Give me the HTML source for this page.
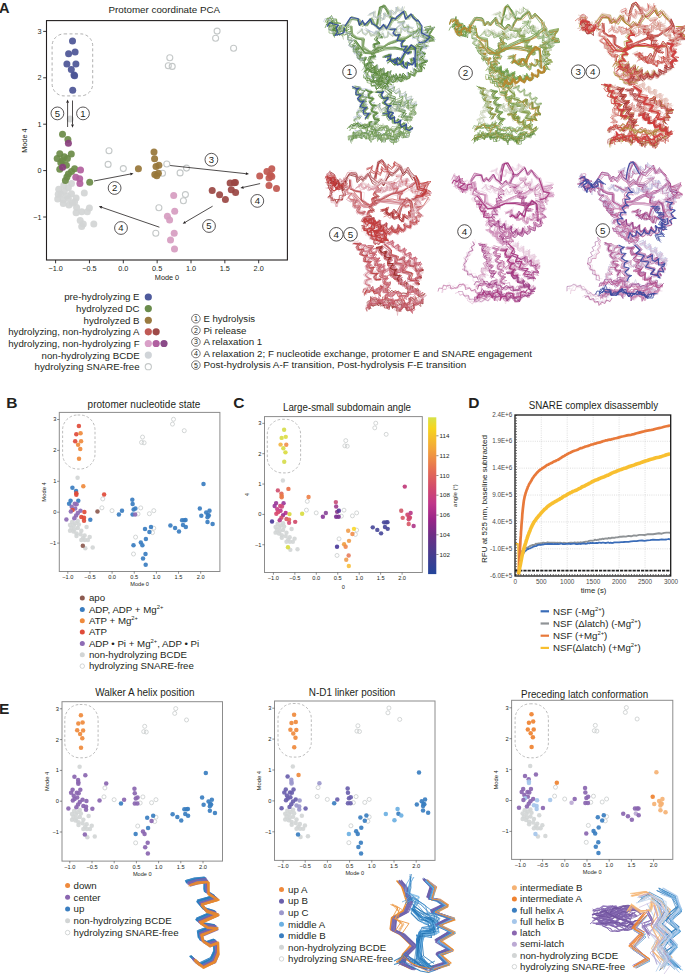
<!DOCTYPE html>
<html><head><meta charset="utf-8"><style>
html,body{margin:0;padding:0;background:#fff;}
body{width:685px;height:974px;overflow:hidden;}
svg{display:block;font-family:"Liberation Sans", sans-serif;}
</style></head><body>
<svg width="685" height="974" viewBox="0 0 685 974">
<g transform="scale(.5)" fill="none" stroke-linejoin="round">
<path d="M652 46l5-7l7 2l6 2l1 7l-3 7l-9 2l7 4l1 9l4-8l8-1l3-8l4 3l4-9M846 67l18-4l-12 12l14 6l-18 5M755 64l3 7l6 4l-8 0l-5 5l6 7l1 1l-10 1l0 7l7 6l-5 0l-8 3l4 8l3 3l-9 0l-3 6l6 7l-2-1l-10 2l2 8l5 4M757 63l4 8l4 2l-8 0l-4 6l7 7l-2 0l-9 2l2 7l6 4l-7 0l-6 4l6 7l2 1l-10 1l-1 6l6 7l-4-1l-9 2l3 8l3 3l-8-1M758 173l5-8l0-6l4 7l8 2l2-10l1 0l6 7l7-4l1-8l3 6l7 5l5-9l-1-3l7 7l6-4l-2-9l3 2l8 3l3-8l-2-5l5 5l8-1l-1-10l0 0M829 90l7 4l7-1l-5 6l-1 7l10 2l1 1l-8 7l4 5l6 5l-6-1l-8 4l5 8M779 59l9 1l5-2l-5 6l2 8l9-2l1 0l-5 9l7 4l7-3l-4 4l-2 9l9 1l3-1l-6 7l3 6l9-1l-2 2M742 141l8-3l4-4l-1 8l5 5l8-7l0 1l1 10l8 0l5-5l-1 6l4 8l8-5l0-4l4 9l7-1l3-9l1 3l6 8M793 199l8-3l4-4l-1 8l4 6l8-6l1 1l-1 10l7 1l6-5l-2 6l-1 4l4 5l1 3l-9-3l-4 6l5 8l-3-1l-10 0M792 206l8-3l3-4l-1 8l4 5l8-6l1 1l-2 9l8 2l6-5l-2 6l-1 4l4 5l1 3l-9-3l-4 6l5 8l-4-1l-9 0M720 254l5-6l8 3l6-7l3 8l7-3l4 7l7-6l7 3l8-2l3 8l7-1l7 0l4-7l7 1l7-2l4 6M699 262l4-6l8 2l4-8l5 8l8-2l6 8l1-9l7-2l0-8" stroke="#6c9a4a" stroke-width="1.5" stroke-opacity="0.9"/>
<path d="M655 49l0-7l4-1l6 3l-1 8l7 7l-13 0l9 4l2 8l3-7l7 0l1-7l5 1l5 3l-5 6l4 3l5-2l-1-7l6-3M652 50l4-5l6 2l8 0l2 8l2 6l-8 5l6-1l6-1l-1-8l6-2M754 53l4-23l3-14l7-1l5 7l7 14l2 6M704 52l0 18l9 6l12 4l0 15l14 8l7 4l8-13l11 1l10-7l15-6l11-4l9-1l12-6l7-5l10-10M850 61l15-2l-7 13l11 10l-20 0M848 55l14-3l-8 14l13 8l-15 3M758 172l5-7l0-6l4 7l8 1l3-9l1-1l5 8l7-3l1-9l3 5l7 5l4-8l0-3l6 6l7-2l-1-10l2 2l8 4l3-8l-2-6l6 5l8-1l-1-9l0-1M729 147l5-7l7 4l6-5l2 8l7 0l0 7l8 3l-10 1l-1 5l2 5l8-1l4 7M742 140l8-4l2-3l0 9l6 3l7-7l1 2l1 10l8-1l5-5l-2 8l4 6l8-5l0-2l5 8l7-2l3-8l1 4l7 6M765 115l9-3l3-2l-2 9l6 4l8-5l-1 3l2 9l8-2l4-5l0 8l7 6l2-11l0-1l9 5l4-6l-2-8l4 4M770 174l15 8l-6 8l12 4l-5 10l16 1l-5 12l14 4l-6 10l15 2M749 184l9 0l4-1l-5 8l5 6l9-2l-2 3l-5 8l7 4l6 0l-6 5l-1 8l10 1l1 1l-6 8l5 5M704 254l3-7l7 1l6-1l3 7l7 0l5 7l1-9l8-2l-1-8" stroke="#5b8a3c" stroke-width="1.8" stroke-opacity="0.9"/>
<path d="M655 47l5-9l2 8l7 1l-1 5l-1 7l-9 1l7 3l1 7l5 0l6-1l0-8l5-2l5 4l5-2l0-7l7-2M834 43l3 14l5 15l14 3l-6 11l-17 2M757 65l3 7l6 4l-8 0l-6 5l7 7l1 1l-10 1l0 7l7 5l-5-1l-8 4l5 7l4 2l-9 0l-4 6l7 7l-3 0l-9 1l1 8l5 4l-7-1M775 128l6-5l11 7l7-10l7 8l3-16l8-10l6-7l8 6l3 20l-1 16M754 170l6-6l0-7l4 6l8 2l2-9l1-2l6 8l7-2l1-9l2 5l7 5l5-7l0-4l6 6l6-3l-1-9l2 1l8 4l3-7l-2-7l5 6l8 0l0-10l-1-1M832 88l7 3l6-1l-6 5l1 7l9 1l1 1l-8 7l5 6l8 2l-7 2l-7 4l4 8l3 2M705 89l8 4l6-2l-6 5l0 8l9 0l1 0l-5 9l7 3l7-3l-3 5l-1 8M728 133l6-5l6 3l8 0l3 7l0 6l-6 3l0 6l6 3l7-6l8 3l8-6l-3 8l5 6l-4 4l-3 5l-6-3l-7 5l-1-9l-8-2l-2-8l-8 0l-2-8l-8 0M766 114l9-1l5-3l-2 8l4 6l8-4l1 0l0 10l8 0l5-6l0 6l6 8l4-11l-1-3l7 6l6-4l-1-9l2 2M709 172l9 2l3 0l-7 7l3 6l10 0l-3 2l-5 8l7 4l6-1l-6 5l-1 7l10 1l0 1l-7 7l6 5l8-1l-5 3l-3 8M793 204l8-3l4-4l-2 8l5 5l7-6l1 1l-1 10l8 1l6-4l-2 5l-1 5l4 5l1 2l-9-2l-4 5l5 8l-4-1l-9 0M755 186l8 0l5-2l-5 8l3 6l9-3l1 1l-7 8l6 5l8 1l-6 3l-3 8l10 2l2 0l-7 7l3 5l9 0l-3 2M724 256l6-5l7 2l6-6l2 9l8 1l1 8l5-6l7 3l5-5l7 6l8-2l5 1l2-7l6 1l7-4l7 6" stroke="#b0bcd8" stroke-width="1.2" stroke-opacity="0.9"/>
<path d="M654 39l6-5l4 7l8-1l2 5l-2 5l-7 0l-3 6l0 5l8 0l2 8l2-8l7-2l2-8l6 8l6-3l7-4M656 40l7-9l3 7l7 0l1 7l8 2l-9-1l-5 7l-11-1l10 2l3 8l7-2l6-1l-1-8l6-1l5 3l-1 9l1-8l5-4M703 53l0 19l10 6l16 0l-2 16l10 9l10 4l10-12l11-1l7-4l15-7l13-4l9-2l12-6l7-6l9-8M836 45l6 9l2 18l16 2l-9 10l-12 5M837 42l6 15l1 15l17 2l-12 12l-14 2M850 58l20-4l-13 15l12 7l-17 3M731 145l1-7l8 1l2-8l3 8l7 0l1 5l0 7l-9 3l9 1l2 7l7-1l7-1l2-8l5-1l5 4l-3 8l6 7l-8-3l-6 4l-6-4l-6 5l-5-7l-8 0l-3-7l-7-1l1-7M727 134l8-4l6 6l8 0l2 6l0 5l-8 2l0 6l4 3l6-5l6 4l4-7l8 0l4-7l-1 9l6 5l-4 5l-3 6l-6-3l-5 5l-5-3l-6 1l-3-7l-7 2l-2-6l-6-3l2-7l-6-4M732 140l6-4l6 5l7-5l1 8l7 1l0 7l8 2l-9 1l-3 8l-8 1l8 0l4 5l6-3l4 6M711 80l19 25l17 2l23-9l21-4l23 7l16-3M752 183l9 1l5-3l-4 8l4 7l9-2l0 3l-7 7l6 5l8 1l-6 4l-2 8l10 2l2 1l-7 7l4 6M705 279l2-7l8 1l3-8l6 7l7-2l8 1l6-7l3 8l8-1l4 8l3-9l7-2l4-8l0 9l8 2l-1 8l5 1l5-3l-1-7l6-4l6-3l7 5M724 256l6-6l7 1l6 0l0 8l5 0l7 2l4-6l7 1l7-1l2 8l6-2l7 2l4-7l7 1l7-3l6 6M765 226l9-3l2-1l-4 9l6 4l8-5l-2 3l0 10l9-2l3-4l-1 8l5 6l8-6l0 1l0 10l8 0l5-5l-1 6M765 228l9-3l3-2l-3 9l5 4l8-4l-1 2l-1 10l9-1l4-5l-2 8l4 6l9-5l1 0l-1 10l8 1l6-5l-1 5M694 258l5-6l7 3l5-7l5 7l6-3l4 6l6-3l7-3l-1-9M704 258l2-7l7 1l3-8l4 7l7-1l4 8l2-9l7 0l1-7" stroke="#6c9a4a" stroke-width="1.8" stroke-opacity="0.9"/>
<path d="M651 43l3-7l6 1l6 0l1 7l8 3l-8-2l-4 7l-7-1l8 2l2 8l6 0l6-2l2-9l5 7l5-3l8-5M650 45l5-9l3 8l7 0l0 5l0 5l-8 0l1 6l0 6l8 1l3 8l-1-8l8-4l-2-9l8 4l5-4l3 0M703 51l1 15l10 8l14 2l-2 15l13 10l9 4l9-14l10 2l10-8l14-5l14-6l7 0l10-8l9-3l11-10M839 45l4 14l4 16l14 3l-8 6l-16 6M781 60l10 0l3-1l-5 8l4 6l9-3l-2 3l-3 8l8 2l6-2l-6 6l1 7l9 0l1 1l-6 7l6 5l8-2l-5 4M708 81l21 25l15 2l22-12l22 2l24 2l18-1M753 182l9-1l4-1l-4 8l4 6l10-2l-2 3l-6 7l6 5l7 0l-6 5l-2 7l10 2l1 0l-7 7l5 5l8 0M697 281l-1-9l8 0l2-8l5 7l8-1l5 2l3-7l5 2l7 1l-1 8l5 2l6-4l0-9l3 8l7 1l3 8l4-7l7 1l3-7l3 7l7 1l3 7l1-7l7-3l-1-8l8 5l5-6l8 2l3-8M701 282l3-6l6 1l6-4l7 4l0-11l5 8l8 0l4 8l1-9l7-1l6-1l2 8l8 0l6 3l6-8l4 9l7-2l6 0l-1-7l8-1l2-8l5 11l1-9l9-1l-2-9M705 283l1-7l7 0l2-8l5 6l7-2l5 7l2-8l7 0l3-9l2 10l8 1l1 10l4-9l7 1l2-7l6 1l5 1l-2 7l6 1l6 1l1-7l7 0l9-5M704 279l2-6l7-1l2-6l5 0l8 1l5 10l0-10l6-4l4 0l3 6l7 0l2 8l5-7l7 1l6-7l1 10l7 3l5 0l1-8l6-1l7-4l7 5M706 274l2-9l8 0l6-3l4 6l7-4l6 6l2-14l4 8l8 0l2 7l6-1l6 2l4-7l6 2l6 1l2 8l3-8l8 0l2-8l7 4l6-6M703 283l0-8l8 0l2-8l6 5l5-6l7 2l4-7l6 0l5 2l-2 7l5 2l7 1l5-6l7 3l7-2l3 7l6-1l5-2l-3-7l6-1l5-2l2 7l8-3" stroke="#6c9a4a" stroke-width="1.2" stroke-opacity="0.9"/>
<path d="M647 44l3-7l8 3l3-7l5 2l3 5l-4 6l0 8l-9 4l9 1l1 7l5-1l6-1l-1-7l7-2l3-7l-3 12l3-9l9-3M690 51l11-16l14 4l3 11l8-6l5 5l9-12l6 9l6 3l8 8l7-6l5 6l7-10l5-12l8 2l4-4l11-12l6 16l9-10l4 9l10 5M756 50l5-22l2-14l7-2l5 9l6 12l4 6M847 59l21-4l-17 18l20 6l-20 1M772 124l6-5l7 8l8-11l5 7l8-19l8-4l4-9l8 6l3 15l0 22M756 172l4-8l1-4l5 8l7-1l2-10l2 2l6 7l6-6l1-6l3 6l7 3l4-9l0-1l7 6l5-5l-2-8l4 3l8 2l2-9l-2-3l7 5l7-3l-2-9l2 1M725 138l5-4l5 5l9-2l3 7l1 5l-6 6l7-2l5 6l5-4l6 0l0-7l4 0l5 4l-3 8l6 7l-9-1l-5 7l-6-3l-7-1l0-8l-7-2l-3-6l-8 1l-3-8M777 59l9 1l5-2l-5 7l2 7l10-2l-1 1l-4 9l7 3l7-2l-4 4l-1 8l9 1l2-1l-6 7l4 6l9-2l-3 3M745 139l8-3l3-5l0 9l5 4l7-6l1 0l0 10l8 0l5-6l-2 6l3 8l9-5l0-2l3 9l7-1l2-9l2 3l6 7l5-6M770 111l9-3l3-2l-2 9l5 5l8-5l0 2l1 10l7-3l4-5l-1 8l4 5l6-7l-1-1l8 5l5-6l-3-8l4 4l9 2M705 172l9 2l4-1l-6 7l2 7l10-1l-2 2l-6 8l7 4l7-1l-7 5l-1 8l10 1l1 0l-7 7l5 5l8 0l-4 3l-4 8M731 177l9 3l2 0l-7 5l2 7l9 1l-3 1l-6 8l8 3l5 0l-8 5l0 7l10 1l-1 1l-7 7l5 5l8 1l-6 3l-3 8l9 3M771 172l10 10l-6 7l16 8l-8 7l17 3l-4 8l15 5l-9 10l17 3M702 283l0-8l7-2l0-9l4 7l7-2l4 7l1-8l7 0l5-1l2 7l6-1l6 1l4-7l1 9l5 5l6 2l3-7l7 3l5-7l1 9l7 1l6-2l-2-8l7-2l7-2l6 8l1-10l7-2l0-8M710 269l0-8l6 0l7-2l3 7l6-1l8-1l4-8l4 7l7 0l3 8l7-5l7 4l7-1l3 8l7-1l5-4l-2-7l6-4l5-4l6 5M703 257l5-8l8 3l5-8l5 9l8-1l6 2l3-7l8 1" stroke="#a9b4cf" stroke-width="1.2" stroke-opacity="0.9"/>
<path d="M659 55l-2-8l5-2l6-1l2 8l8-1l2 5l-5 3l-9-4l8 4l0 8l6 2l6-1l0-7l6-1M650 56l3-7l7 1l5-7l1 9l8 4l-11 4l9 2l3 9l4-8l8 0l2-8M757 65l5 8l3 2l-9 0l-3 6l7 6l-2 0l-10 3l3 8l6 3l-8 0l-6 6l7 7l0 2l-9 0l-2 7l6 6l-5-1l-8 2l4 9l3 3M753 62l3 8l6 3l-8 0l-6 5l7 8l1 0l-10 2l0 7l7 5l-5 0l-8 5l5 7l3 3l-9-1l-4 6l6 8l-2-1l-10 1l2 8l4 5M774 126l6-4l8 8l9-13l4 8l7-16l9-9l5-7l7 6l4 17l-2 18M775 127l6-6l8 10l9-12l4 7l7-14l7-11l6-7l10 7l-1 18l3 18M761 168l3-9l1-3l5 8l7-2l1-9l3 2l6 7l5-7l1-5l3 7l7 2l3-9l0 0l7 8l5-6l-2-8l4 4l8 2l0-10l0-3l7 6l6-4l-2-9l2 2l9 4M827 94l8 3l5 0l-5 6l0 8l10 1l-1 1l-7 7l5 6l6 4l-7-1l-7 5l5 8M733 142l5-4l6 4l6-4l2 9l9 1l1 7l-2 5l-7 1l-1 5l1 4l7-2l3 6l7-2l2 7M765 113l10-3l3-2l-3 9l6 5l8-5l-1 3l2 9l7-3l4-5l-1 8l5 5l6-7l-2-1l8 5l5-6l-2-8l4 4l8 2M767 115l9-3l4-3l-3 9l5 5l9-5l-1 2l1 9l8-2l4-6l-1 7l4 7l6-7l-1-2l8 5l5-5l-2-8l3 3l9 3M707 174l7 4l6-1l-6 5l0 7l10 1l0 1l-6 7l5 5l8 0l-5 3l-3 8l9 2l3 0l-7 6l3 6l9 0l-2 2l-6 7M709 175l9 3l4-1l-6 6l1 7l10 0l-2 2l-6 7l7 4l7 0l-6 4l-2 8l10 1l1 0l-7 7l5 6l8-1l-4 3l-4 7M733 179l7 5l7 0l-7 4l-1 8l9 1l1 1l-8 7l4 6l9 1l-5 2l-5 8l9 4l4 0l-8 6l1 7l10 1l-2 2l-7 7M728 254l6-6l7 3l5 1l-1 8l5 0l7 2l3-8l7 1l6-3l3 7l7-1l4 7l5-6l7 1l4-7l6 6l5-5l5 6" stroke="#5b8a3c" stroke-width="1.5" stroke-opacity="0.9"/>
<path d="M660 56l3-7l5-1l5 5l-9 1l-2 5l2 6l9-1l6 7l0-10l7-5M663 60l-1-7l5-1l6-2l3 6l2 8l-1 6l8 1l2 8l-2-8l6-4l-3-6l6-4M701 51l4 17l9 7l13 1l-1 17l12 9l10 4l8-14l11 0l9-4l15-6l11-4l10-3l10-5l8-8l9-4M849 62l14-7l-9 15l10 10l-14 3M757 67l4 8l5 2l-9 0l-4 6l7 7l-1 0l-9 2l2 8l6 5l-7 0l-7 5l6 7l2 2l-10 0l-2 6l6 7l-4-1l-9 2l3 8l4 3M733 148l5-6l4 5l8-1l2 8l8 0l1 6l0 4l-7 0l0 5l2 6l8-1l3 9M705 79l22 26l14 0l23-9l22-1l21 4l20-3M704 281l0-8l8-2l0-8l6 0l6-1l2 7l6-1l7 1l2-8l6 2l5 1l-1 7l6 1l5 4l3-7l7 3l5-5l2 8l6 0l7-2l3-9l6 4l6-4M727 253l4-6l6 3l6-6l4 9l7 0l7 2l5-8l4 7l7-1l3 6l6-2l5 7l2-8l7-1l3-8l6 7l8-3M765 232l8-2l4-3l-3 8l4 6l9-5l0 1l-2 10l8 1l6-6l-2 7l3 7l8-4l2-1l-1 9l6 3l7-5l-1 3" stroke="#b9c8aa" stroke-width="1.2" stroke-opacity="0.9"/>
<path d="M657 59l3-7l8 0l5-8l3 10l1 8l-7 6l9-1l7 6l-1-8M697 53l8-15l15 1l5 15l6-7l4 3l11-12l4 10l7 5l8 7l8-8l4 8l7-13l5-7l7 1l4-5l8-13l10 16l8-10l4 9l11 8M755 48l3-23l4-11l6-5l8 9l6 11l4 7M756 48l4-22l2-12l8-4l6 10l5 10l6 7M778 121l5-2l8 9l8-13l4 7l6-14l10-9l5-9l11 9l0 17l-2 15M704 91l10 1l2 0l-6 7l3 5l9-1l-3 3l-2 9l9 1l5-2l-4 8M705 91l8 3l6-1l-6 5l0 7l10 0l-1 1l-3 9l7 3l8-3l-3 6M723 141l7-6l8 5l7-2l4 6l2 5l-6 3l2 5l1 6l7-2l5 7l0-9l8-3l2-9l-1 9l6 4l-3 7l6 6l-8-2l-4 6l-7-4l-6 6l0-8l-7-3l1-8l-8-2l-1-8l-8-3M770 113l9-2l4-3l-3 8l5 6l8-5l0 1l1 10l7-1l5-6l-1 6l4 7l6-6l-2-3l8 5l6-4l-2-9l3 3l8 3M710 175l9 2l4 0l-7 7l3 6l9 0l-2 2l-5 8l7 4l6-1l-6 5l-1 8l9 1l1 0l-7 7l5 5l8-1l-4 3l-3 8M732 180l7 5l6 0l-7 4l-1 7l9 2l1 1l-8 6l5 7l8 0l-5 3l-4 8l8 3l4 0l-8 5l2 7l9 1l-3 1l-6 7l7 4M768 175l15 12l-8 8l16 3l-11 9l21 3l-10 10l20 2l-8 13l14 4M764 174l12 13l-8 7l17 6l-6 8l17 2l-7 11l18 4l-11 8l16 3M768 181l14 10l-7 8l18 4l-7 9l18 1l-8 8l16 6l-8 12l17 1M791 207l8-2l5-4l-1 7l5 7l8-5l2 0l-2 9l7 3l7-5l-1 4l-7 2l2 9l2 4l-8-3l-5 5l4 9l-2-1M794 202l8-2l4-4l-1 8l4 5l8-5l1 0l-1 10l7 1l7-5l-2 5l-1 5l4 4l1 3l-8-3l-5 5l5 8l-3-2l-9 0l1 8M794 204l8-3l3-4l-1 8l5 5l7-6l1 1l-1 9l8 2l6-5l-2 6l0 5l3 5l1 2l-9-3l-4 6l5 8l-4-1l-9-1M794 205l8-5l2-2l-1 9l6 3l7-6l-1 3l0 9l9-1l4-3l-2 7l1 4l4 5l0 1l-10-2l-2 7l5 7l-6-3l-8 2M727 255l2-7l7 2l3-7l5 2l4 3l-3 6l6 4l-2 8l4-8l8 1l2-8l6 1l7 1l3 8l5-8l9 1l3-9l5 7l7-2l4 6M702 256l3-7l7 1l6-2l3 7l7-1l5 7l1-10l8-3" stroke="#7da060" stroke-width="1.2" stroke-opacity="0.9"/>
<path d="M655 48l9-5l2 8l7 2l-7 6l9 3l4 9l3-10l9-1M694 51l10-13l15 0l4 12l4-5l8 7l9-17l5 14l4 3l9 7l8-10l7 9l5-11l5-10l8 1l3-3l13-13l5 14l6-6l9 5l9 9M760 52l1-23l4-16l5-2l5 10l7 12l2 5M755 62l6 8l2 1l-10 1l-1 7l7 6l-4 0l-8 3l3 8l5 3l-9 0l-4 6l6 7l0 1l-10 0l0 8l6 5l-6-1l-7 4l5 8l2 1M757 64l4 8l4 2l-8 0l-4 6l7 7l-1 0l-10 2l2 8l6 3l-7 0l-6 5l6 7l2 1l-10 0l-1 7l6 6l-4-1l-9 2l4 9l3 3l-9-2M705 91l8 2l5-1l-6 6l1 7l10 0l-1 1l-4 9l8 3l7-3l-4 6M780 58l9 1l4-2l-5 7l3 7l9-2l-1 1l-4 9l8 3l7-2l-5 4l-1 8l9 1l2-1l-6 8l4 5l9-2l-3 3M707 80l19 27l15-2l22-11l24 1l23 3l15-4M707 78l23 26l12-1l23-7l23-2l20 6l19-4M730 178l7 5l6-1l-6 4l-2 8l10 2l1 0l-8 7l4 6l8 1l-4 2l-5 8l8 4l4 0l-7 5l0 6l10 2l-2 1l-7 6l6 5M703 287l-3-7l7-2l-1-8l6 7l6-3l7 3l3-8l3 8l8 1l3 7l3-7l6-1l2-7l5 0l5 3l-2 8l5 3l5 0l0-7l5 0l6 0l0 8l6 0l5 0l-1-7l7-2l1-8l4 8l6-1l8-1l1-9M712 275l-1-9l6-4l5-2l3 6l7-2l4 6l3-7l7 1l4-9l2 9l8 1l2 8l5-6l7 4l5-7l1 8l8 1l2 8l2-8l7 0l2-7l6 0l0-5M764 226l8 0l5-4l-3 7l3 7l9-4l1 0l-2 9l7 2l6-5l-1 5l2 8l8-3l3-3l-1 9l5 5l8-6l0 2" stroke="#4f7f36" stroke-width="1.2" stroke-opacity="0.9"/>
<path d="M692 53l8-15l15 2l5 12l4-4l7 4l9-15l3 12l9 1l5 8l11-7l5 8l6-13l6-10l6 4l4-5l11-12l6 16l10-10l4 8l8 8M690 54l12-15l13 1l4 12l6-7l8 7l9-12l5 9l4 5l9 7l8-9l5 7l5-10l8-9l4 0l5-3l12-12l7 14l7-7l9 7l5 8M701 54l2 18l8 4l13 4l0 18l14 4l8 4l9-11l9 2l10-7l16-6l11-5l11-1l8-6l8-7l11-7M835 45l6 10l3 16l16 0l-11 13l-13 3M850 59l16-2l-10 13l11 9l-19 5M775 122l6-4l8 7l9-9l5 7l6-16l8-10l6-6l7 7l5 18l0 17M776 121l7-5l8 8l8-9l5 6l5-15l10-9l4-8l10 7l2 15l-2 21M710 79l19 27l20 0l19-11l22 2l24 3l16-3M768 113l9-3l3-2l-2 9l6 5l8-5l-1 2l2 10l8-2l4-5l0 7l7 6l2-11l0-1l9 6l4-6l-1-8l4 4M704 176l8 3l6-1l-7 6l1 7l10 1l0 1l-7 7l5 5l8 0l-5 3l-3 8l9 2l3 0l-7 7l4 6l9-1l-3 2l-5 8M768 176l13 8l-8 10l16 3l-8 11l20 2l-9 11l18 1l-8 12l15 3M771 177l13 9l-5 9l13 4l-6 9l16 2l-5 11l16 6l-7 6l15 1" stroke="#4f7f36" stroke-width="1.5" stroke-opacity="0.9"/>
<path d="M692 54l10-14l16-2l3 15l6-6l4 6l10-15l5 12l6 4l10 7l7-7l5 7l7-14l5-9l6 2l4-3l13-13l6 15l7-9l6 11l11 6M751 50l5-23l5-14l5-3l7 8l6 13l4 5M702 52l1 17l11 6l12 0l-2 18l14 8l6 3l10-12l12 0l9-3l15-8l10-4l12-2l10-6l7-7l10-6M834 43l7 11l1 17l17 2l-10 13l-12 1M829 92l8 3l6-1l-5 6l0 8l9 2l1 1l-8 6l4 6l6 5l-6 0l-8 4l5 8M704 92l8 3l6-2l-6 5l0 8l10 0l0 0l-5 8l7 4l7-3l-3 4l-1 9M734 141l5-4l6 4l5-4l3 7l8 0l1 8l9 1l-8 2l-2 7l-8 2l10 1l5 8M780 58l9 0l3-1l-5 8l4 5l9-3l-2 3l-3 9l8 1l6-2l-6 6l1 8l10-1l0 1l-6 8l6 4l8-2l-5 4M704 81l21 26l16-1l24-11l21 1l25 6l15-4M743 139l8-4l3-4l-1 9l6 4l7-7l0 2l1 10l9-1l4-5l-1 7l4 7l8-6l0-1l5 8l7-2l2-8l2 5l6 6M730 179l9 3l3 0l-7 5l1 7l10 1l-3 2l-6 7l7 5l6 0l-7 4l-1 8l9 2l1 1l-8 6l4 5l9 1l-5 2l-5 7l9 4M772 178l10 10l-5 9l13 2l-8 11l18 1l-5 10l17 2l-8 11l17 4M795 205l9-5l2-2l-1 10l7 3l8-6l-1 4l0 9l9-1l4-3l-2 5l-5 3l4 9l-1 0l-9-1l-2 7l4 7l-5-3M750 182l10-1l3-1l-4 9l5 5l9-2l-3 4l-5 7l7 5l6 0l-7 5l0 7l10 1l0 1l-7 7l6 5l8-1M701 281l-1-9l7-4l6-2l3 8l7-2l4-2l-2-8l4 8l8 1l4 8l2-8l7-2l3-8l1 8l7 2l-1 7l5 1l7 0l3-9l4 7l8-1l4 7l1-9l6-3l6-3l7 5l3-7l7-1M767 229l9-3l2-2l-3 9l6 4l7-5l-2 3l0 10l9-2l4-4l-2 8l5 6l8-5l0 1l0 9l8 0l5-5l-1 6M698 261l4-8l8 2l5-7l5 8l7-2l6 6l2-8l8-1l2-8" stroke="#c8d2c0" stroke-width="1.2" stroke-opacity="0.9"/>
<path d="M691 51l12-18l14 5l4 12l6-6l6 6l10-13l4 9l6 4l7 7l10-7l5 7l7-12l4-10l8 2l4-3l11-13l7 15l8-8l5 6l9 9M703 54l3 16l9 7l13 1l-3 18l13 8l9 4l11-12l9-2l11-6l13-3l10-5l11-3l9-8l10-2l10-10M755 173l2-9l0-3l6 8l6-2l1-9l2 3l6 6l5-7l1-5l4 8l7 1l3-9l1 0l7 8l5-7l-2-7l4 4l8 1l1-9l-1-3l8 6l6-4l-2-9l3 2l8 4M759 172l6-6l0-7l4 7l7 2l3-10l1-1l6 8l6-3l2-8l2 4l7 5l5-8l-1-3l6 6l7-3l-1-9l1 1l9 5l3-8l-2-6l5 5l8 0l-1-10l0-1M830 92l8 3l6-1l-6 5l-1 7l10 0l1 2l-8 6l4 6l8 3l-6 1l-8 4l5 9l3 2M831 94l7 4l7-1l-5 5l0 8l9 2l1 1l-8 7l3 6l7 4l-5 0l-8 3l5 8M739 141l8-6l2-2l0 10l7 1l5-7l0 4l2 9l9-2l4-4l-2 8l6 6l7-7l0 1l5 8l7-4l1-8l2 6l7 5M709 172l10 2l2 0l-6 7l3 6l9 0l-3 2l-5 8l8 4l6-1l-7 6l0 7l10 1l0 0l-7 8l6 5l8-1l-5 3l-3 8M725 255l8-5l6 4l8-1l5 8l6-6l7 5l6-7l4 8l8-2l5 8l3-10l7-2l5-2l6 5l6-4M723 253l6-5l7 5l6-1l1 7l6 0l3 7l4-6l7 2l4-7l3 7l8-1l4 8l3-8l7 0l2-7l6 1l5-3l3 7l7-2" stroke="#7da060" stroke-width="1.8" stroke-opacity="0.9"/>
<path d="M753 51l4-23l2-14l9-2l7 10l5 10l5 7M834 92l9 2l5 0l-7 5l1 7l9 0l-1 2l-7 7l6 5l7 2l-7 2l-7 5l6 8l2 1M832 89l7 4l7-1l-5 6l-1 8l10 2l1 0l-8 7l4 5l6 5l-6 0l-8 4l5 9M706 97l9 1l3-1l-6 7l3 6l9-1l-2 2l-3 9l8 1l5-3l-4 6l1 8M727 144l10-7l5 8l9 0l-6 6l3 7l-5 6l8-3l7 4l0-9l7 0l1-7l4 1l5 2l-4 6l6 4l-4 6l5 6l-8-3l-5 6l-6-4l-6 6l-2-8l-8 0l-1-9l-9-1l-4-8M743 137l8-3l3-5l0 8l5 6l8-7l1 0l0 10l8 1l6-6l-1 6l3 8l8-5l0-3l4 8l8 0l2-9l2 2l6 8M731 180l7 4l6 0l-7 5l-1 7l10 2l0 1l-7 6l4 6l8 1l-5 3l-4 8l9 3l4 1l-8 5l1 7l10 1l-3 2l-6 8M751 185l10 0l3-1l-4 8l5 6l10-2l-3 3l-6 7l8 5l6 0l-7 5l-1 7l10 1l0 1l-7 7l5 5l9-1M767 231l9-3l3-2l-3 8l5 5l8-5l0 2l-1 10l8-1l5-4l-2 7l3 7l9-5l1-1l-1 10l7 2l7-5l-1 4M698 256l4-7l7 3l5-6l4 7l7-3l4 6l5-2l5-2l0-7l6-2" stroke="#4f7f36" stroke-width="1.8" stroke-opacity="0.9"/>
<path d="M753 50l4-25l4-11l6-3l5 8l5 12l7 6M833 46l4 14l3 13l16 6l-9 9l-14 2M759 173l5-7l0-6l5 7l7 1l3-9l1-1l6 8l6-4l2-8l2 5l7 5l5-8l-1-3l7 6l6-3l-1-9l2 2l9 4l3-8l-3-6l6 5l8-1l-1-9l0-1M705 93l10 2l3-1l-7 7l3 6l10-1l-3 2l-3 9l9 1l5-3l-4 7l2 7M732 136l2-7l6 3l7-1l3 7l7 0l2 6l-1 5l-7-1l-2 4l4 4l7-4l6 6l7-11l1 9l6 4l-2 5l-2 4l-6-3l-5 5l-5-3l-6 2l-4-6l-7 2l-3-7l-7-3l-1-9M729 143l2-7l7 1l4-8l1 8l7 2l0 7l7 4l-10 1l-2 6l3 5l8-3l6 6l2-8l7-1l4-7l-3 8l5 5l-4 6l5 7l-9-2l-4 6l-7-3l-6 2l-2-6l-7 1l-2-6l-7-2l1-7l-8-2l0-7M731 142l6-4l5 5l6-4l4 6l6-2l5 5l7-1l-8 2l-1 7l-7 0l0 5l3 4l6-3l5 5M735 150l2-8l6 1l6 0l1 7l8 2l1 7l8 3l-10 1l-4 6l3 4l8-2M734 147l6-6l7 5l6-1l3 6l9 0l-6 6l3 6l-6 5l2 4l4 4l5-5M782 57l9 1l3-2l-5 8l3 6l10-2l-2 2l-4 8l8 3l6-2l-5 5l0 8l10-1l1 1l-6 8l5 4l9-1l-4 3M708 81l22 26l16 1l24-8l21-2l21 4l16-5M739 140l8-6l1-2l1 9l7 2l5-7l1 3l1 10l9-2l4-4l-2 8l5 6l8-6l-1 0l6 8l6-4l2-8l2 6l7 5M740 139l7-3l4-5l0 7l5 6l7-6l1-1l0 10l7 1l6-6l-2 5l2 8l9-4l1-3l2 8l7 1l3-9l2 2l6 7l6-5M730 179l8 4l5 0l-6 4l-1 8l10 1l0 1l-8 6l5 7l8 0l-6 3l-3 8l8 4l3 0l-7 6l2 7l9 1l-3 2l-6 7M732 179l9 4l4 0l-7 5l1 7l9 1l-1 1l-7 7l6 6l7 0l-7 4l-2 7l9 3l2 0l-8 6l3 6l9 1l-5 2l-5 7l9 3M753 185l10-1l2-1l-3 9l5 5l9-2l-3 3l-5 8l8 5l6 0l-7 5l0 8l10 1l-1 1l-6 8l6 5M698 280l0-8l8 0l1-9l2 8l6 0l6 1l1-8l6 2l8 1l3 9l3-8l7 0l3-8l0 8l7 2l-2 7l6 1l5 0l1-7l6 1l6-1l1 8l6 0l5-1l-1-7l6-1l2-9l8 12l3-10l9-2M763 231l9-1l4-3l-3 7l4 7l8-5l1 1l-2 9l8 1l5-5l-1 5l2 9l9-4l2-3l-1 10l6 4l7-6l0 3" stroke="#5b8a3c" stroke-width="1.2" stroke-opacity="0.9"/>
<path d="M701 52l3 17l9 6l13 5l1 15l11 7l8 5l10-13l9 0l11-7l13-5l13-5l10-2l10-4l7-7l10-9M845 62l22-4l-12 16l13 5l-18 7M703 94l10 1l2 0l-7 6l4 6l9-1l-4 2l-2 9l9 1l5-3l-5 8l3 6M780 58l9 1l5-2l-5 7l2 7l10-2l-1 1l-4 9l7 3l8-2l-5 5l-2 8l10 0l2 0l-6 7l4 5l9-1l-3 2M702 279l3-7l7 1l6-3l5 8l1-10l7-1l6 2l-1 8l6 1l5 1l1-7l7 0l3-8l-1 9l7 3l-1 9l4-8l8 2l2-8l5 2l7 1l-1 8l6 2l4-3l-4-7l5-3l4-2l5 5l5-2l6-2l-2-7M698 280l2-6l7-1l2-8l7 6l6-3l8-1l6 0l3 7l6 0l6-3l0-9l3 9l8 1l0 8l6 0l6-2l0-10l3 9l8 2l2 10l1-9l7-3l-1-8l6-1l6-1l5 8l3-9l8-2" stroke="#7da060" stroke-width="1.5" stroke-opacity="0.9"/>
<path d="M714 68l7-5l3-5l1 8l6 4l6-8l1 1l3 9l7-3l4-6l0 6l5 6l7-7l1-2l3 10l7-3l1-9l2 3l8 5l4-7l-1-6l5 7l8 0l0-10l1 1l7 6l5-6l-1-7l4 5l7 3M714 68l7-5l3-5l1 9l7 4l6-8l1 0l3 10l7-2l3-7l1 6l5 6l6-7l2-2l3 9l7-2l0-9l2 3l8 5l4-8l0-5l4 6l8 1l1-10l0 0l8 6l4-5l0-8l3 5l8 3M835 74l5-7l1-5l3 8l6 2l7-6l-1 4l-9 3l3 7l7 3l-7 1l-5 6l7 6l1 2l-9 0l-2 7l6 6l-4 0l-9 2l3 9l4 3l-9-1l-5 5l6 8l-2 1M795 45l9-2l3-1l-3 8l5 5l8-3l-1 3l-2 9l9 0l5-3l-4 7l3 7l9-3l0 1l-1 9l7 2l7-5l-2 6l2 8l9-3M735 31l8-1l5-4l-2 7l4 7l9-5l-1 0l5 7l5-5l-1-9l3 4l8 3l2-9l-1-4l6 7l7-1l0-10l2 2l7 6l4-7M777 178l8-1l5-5l-2 7l4 7l8-5l1-1l-1 10l7 2l7-5l-2 5l2 8l9-2l4-1l-5 7l3 7l9-2l-1 1" stroke="#c8d2c0" stroke-width="1.4" stroke-opacity="0.9"/>
<path d="M713 65l7-5l3-4l1 8l7 3l5-8l1 1l3 10l8-3l3-6l0 6l5 6l7-7l1-1l3 9l8-3l0-9l2 4l8 5l4-9l-1-5l6 7l7 0l0-10l1 1l8 6l4-6l-1-7l4 5l8 2M730 55l18 12l22-17l19 10l18-20M739 27l8-3l3-3l-2 9l6 4l7-5l-2 3l8 6l3-8l-1-6l5 6l7 0l1-10l0-1l8 6l6-4l-1-9l4 4l8 4M718 178l8 3l4 0l-7 5l1 7l10 1l-2 1l-6 5l2 6l5 4l-7-1l-7 4l6 8l0 1l-10 0l-1 7l7 6l-5 0l-9 3l4 9M750 217l8-3l3-4l-1 9l5 4l7-6l-1 2l6 8l6-6l0-7l3 6l8 3l3-10l0-2l7 7l7-4l0-9" stroke="#c8d2c0" stroke-width="1" stroke-opacity="0.9"/>
<path d="M716 66l7-6l2-3l1 8l7 3l5-8l1 2l3 9l8-4l3-6l0 7l6 6l6-8l1-1l4 10l7-4l0-9l3 4l8 5l3-9l0-4l6 7l7-1l0-9l1 1l8 5l4-6l-1-7l4 6l8 1M797 46l9-1l4-2l-4 8l4 7l9-4l0 2l-2 10l8 1l6-4l-4 6l2 8l9-2l1-1l-2 9l7 3l7-5l-2 5l1 9l9-2M718 173l7 4l6 0l-7 4l-1 7l10 2l0 0l-7 5l1 6l5 5l-6-1l-7 3l4 9l2 2l-9-1l-3 7l7 7l-3 0l-10 2l4 8" stroke="#b0bcd8" stroke-width="1" stroke-opacity="0.9"/>
<path d="M714 67l7-4l3-5l1 8l6 4l7-8l0 1l3 9l7-2l4-7l1 6l5 7l6-7l2-3l2 10l8-2l0-10l2 3l8 6l4-8l0-6l4 7l8 1l0-10l1-1l7 7l5-5l-1-8l4 4l8 3M691 65l9 3l3 1l-8 5l2 7l9 1l-2 2l-7 7l8 4l6-3l-5 7l3 7l9-3l1 1l-6 8l6 4l8-1l-5 3l-2 8M729 59l20 13l18-17l22 4l20-15M738 29l8-4l2-1l-1 9l6 3l7-6l-2 5l8 5l2-9l-1-4l6 6l7-2l-1-10l1 1l7 6l5-6l0-7l3 5l8 3l2-10M740 29l9-4l2-2l-1 9l5 4l8-6l-2 4l8 5l3-7l-2-6l6 5l7 0l0-9l1-2l7 7l5-5l-1-8l3 4l8 4l3-9M746 218l8-2l4-5l-1 7l4 7l8-6l-1 0l5 8l7-4l1-8l2 5l8 4l3-9l0-4l7 7l7-2l0-10" stroke="#b9c8aa" stroke-width="1.4" stroke-opacity="0.9"/>
<path d="M833 71l5-8l1-4l3 8l7 1l6-6l-1 4l-9 4l4 7l7 2l-7 2l-5 6l7 6l1 1l-10 1l-1 7l6 6l-4-1l-9 3l3 8l3 3l-9-1l-4 6l5 8l-2 0M835 69l5-7l1-4l3 8l6 1l7-7l-2 5l-8 5l4 6l6 2l-7 2l-4 6l8 6l0 1l-10 0l-1 8l6 6l-5-1l-9 3l4 9l3 2l-10-1l-4 6l6 8l-2 0M690 59l7 4l5 0l-7 4l0 8l9 1l0 1l-7 7l6 6l7-4l-4 6l1 8l9-2l3-1l-6 8l3 6l9-1l-3 2l-4 8M795 44l9 0l5-2l-4 7l3 7l9-3l1 0l-3 10l7 2l7-3l-3 4l0 9l9-2l3-2l-3 9l6 5l8-5l-1 3l0 9l9 0M777 180l8-3l4-3l-2 9l5 5l8-6l0 2l-1 10l8 0l6-5l-2 7l3 7l9-4l2 0l-5 9l6 4l8-3l-2 4M748 213l8-3l4-4l-1 8l4 5l8-5l-1 0l5 8l6-4l1-8l3 5l8 5l3-10l0-3l7 6l7-2l0-10" stroke="#5b8a3c" stroke-width="1.4" stroke-opacity="0.9"/>
<path d="M831 70l5-7l1-5l3 8l7 2l6-6l-1 4l-9 4l4 6l6 3l-6 1l-6 6l8 6l1 2l-10 0l-2 7l6 6l-4-1l-9 3l3 8l4 4l-9-1l-5 5l6 8l-2 1M691 64l9 3l3 0l-8 6l3 7l9 0l-4 2l-5 7l8 5l5-3l-5 7l3 6l9-2l0 1l-5 9l7 5l8-1l-5 4M690 65l9 4l3 0l-7 5l1 7l9 1l-2 2l-6 7l7 5l7-3l-4 7l2 8l10-1l1 1l-7 7l5 5l9-1l-4 3M737 29l9-4l2-2l-1 9l6 4l8-6l-2 4l8 5l2-8l-2-5l6 6l8-1l-1-10l1 0l7 6l5-5l-1-8l4 5l7 3l2-9M720 179l10 2l2 0l-8 6l3 6l9 0l-3 2l-5 5l3 6l4 3l-8-1l-5 5l6 8l-2 0l-10 0l2 8l6 4l-7-1l-7 4l6 8l2 1M748 214l8-2l4-5l-1 8l4 6l8-6l-1 0l5 8l7-3l1-9l2 5l8 5l3-10l0-4l7 7l7-2l0-10" stroke="#a9b4cf" stroke-width="1.4" stroke-opacity="0.9"/>
<path d="M836 69l7-6l2-6l2 8l4 2l6 1l0 1l-9 3l3 7l7 3l-5 1l-6 5l4 7l3 2l-9 0l-3 6l6 7l-3 0l-9 2l1 8l5 5l-8-2l-6 5l5 8" stroke="#b0bcd8" stroke-width="1.4" stroke-opacity="0.9"/>
<path d="M690 62l7 5l6 0l-6 4l-2 8l9 2l1 1l-7 6l4 6l9-3l-4 4l-1 9l9-1l4-1l-6 8l3 7l10-1l-1 3M719 179l8 3l4-1l-7 6l1 6l9 1l-2 2l-6 4l3 6l4 5l-7-2l-6 4l5 8l0 1l-9 0l-1 8l7 6l-6-1l-8 4l5 9M718 178l9 3l3 1l-7 6l2 7l10 0l-2 3l-9 3l3 8l4 3l-8-1l-5 5l6 8l-1 0l-10 1l1 8l6 5l-7 0l-7 4" stroke="#5b8a3c" stroke-width="1" stroke-opacity="0.9"/>
<path d="M794 46l9 1l5-3l-4 7l3 8l9-3l1 0l-3 10l7 3l7-4l-3 4l0 9l9-2l3-2l-3 9l6 5l8-5l-1 2l0 10l8-1M731 57l20 11l21-14l18 5l21-15M732 60l18 5l21-12l20 4l19-16M776 179l9-4l2-3l-1 10l5 4l8-6l-1 2l1 10l8-1l5-5l-2 8l3 6l9-4l1 1l-4 9l7 4l7-3l-3 4M775 175l8-2l4-4l-2 8l5 6l8-6l1 1l-1 10l8 0l5-5l-1 6l2 8l9-4l3 0l-5 9l5 5l9-2l-2 3" stroke="#a9b4cf" stroke-width="1" stroke-opacity="0.9"/>
<path d="M796 44l9-1l4-2l-4 7l3 6l9-3l0 1l-3 9l7 2l6-4l-3 6l1 8l9-2l2-1l-3 9l7 3l7-5l-1 4l1 9l9-2l4-4M732 61l20 12l18-14l23 3l18-16M775 173l9-2l3-3l-2 8l5 5l9-5l0 1l-1 10l8 0l6-5l-2 6l3 8l9-4l2 0l-5 8l6 5l8-3l-3 4M746 215l8-3l3-4l-1 8l5 5l7-6l-1 1l6 8l6-5l1-7l3 6l8 3l2-10l1-2l7 6l6-4l0-9" stroke="#b9c8aa" stroke-width="1" stroke-opacity="0.9"/>
<path d="M901 43l5-6l6 3l5 1l-3 6l1 7l-7 2l1 5l1 6l9-2l4 7l0-8l7-3l5-2l6 6l-3-9l6-5M902 54l4-7l7 3l6-7l-1 10l8 6l-8 3l0 6l4 7l3-8l9 0l1-8l8-1M1004 55l2-21l5-15l6-1l7 6l5 12l4 7M1022 123l5-2l8 8l9-13l5 8l6-15l7-7l6-9l8 5l5 19l-2 19M1005 173l5-8l1-6l4 8l8 0l2-9l1 0l6 8l7-5l1-8l3 6l7 5l4-9l0-2l6 6l6-4l-1-9l2 3l8 3l3-8l-2-5l6 5l7-2l-1-9l1 0M1005 173l4-9l0-4l6 8l7-2l1-9l2 3l6 6l5-6l1-6l3 7l7 2l3-9l0 0l7 8l5-6l-2-8l4 4l8 2l0-10l0-3l7 6l6-4l-2-9l2 2l9 4M955 94l7 4l6-2l-6 5l0 8l10 0l0 0l-5 9l7 3l7-4l-3 5l0 8M958 94l7 3l6-1l-6 5l0 7l10 0l0 0l-4 9l6 3l7-4l-3 5l0 8M1014 117l9-2l4-3l-3 9l5 5l9-5l-1 2l2 10l8-2l5-5l-1 7l7 7l3-11l0-2l8 6l5-5l-2-9l3 3M1042 203l8-4l2-3l-1 10l6 3l7-7l0 3l0 10l8-1l5-4l-3 8l1 4l5 4l0 1l-10-2l-2 7l5 6l-5-2l-9 1l3 9M1042 203l8-4l2-3l-1 9l6 4l7-7l-1 3l0 10l8-1l5-4l-2 8l1 4l4 5l0 0l-10-1l-2 7l4 7l-5-3l-8 2M998 189l9 1l6-3l-4 7l2 8l10-1l0 2l-7 6l5 7l8 0l-5 3l-4 9l10 2l3 0l-7 7l3 7M951 283l-2-7l6-2l5-3l4 5l4-3l6-2l6 0l3 8l7-1l6 0l2-7l4 7l8-1l4 8l2-8l6 0l7 0l3 7l7 1l5-3l-3-7l4-3l9 2l6 0l2-7l8 0M944 282l4-7l7 2l4-8l5 7l5-3l8-2l7-1l6 8l4-8l6 1l6 0l2 7l6 1l7 0l4-9l3 8l8 0l4 7l-1-9l6-3l6-3l7 5l3-9l9-2M1017 231l9-3l3-2l-3 8l4 5l9-5l-1 2l-1 10l8-1l5-4l-2 7l4 7l8-5l1-1l0 10l7 2l6-6l-1 5M948 257l5-7l7 3l5-7l6 7l7-2l6-1l1-7l7-1" stroke="#d0d4c4" stroke-width="1.2" stroke-opacity="0.9"/>
<path d="M907 54l3-10l4 8l9 3l-10 3l0 6l1 6l6 0l6 2l2-8l7 1l4-8l1 10l1-8l7-3M937 57l12-17l15 2l5 10l4-6l5 5l11-13l3 12l7 3l8 6l7-5l7 7l5-13l6-10l5 3l6-4l11-13l6 15l8-10l8 11l5 6M1002 48l6-21l3-15l5-3l7 11l4 10l4 7M948 55l6 15l9 8l12 2l1 16l10 9l7 2l11-10l10-3l9-4l15-6l11-4l12 0l11-10l7-5l10-7M1097 65l19-3l-12 16l15 7l-15 1M1009 66l6 7l3 2l-10 1l-2 7l8 5l-4 0l-8 4l3 7l5 3l-8-1l-5 6l7 6l0 1l-10 1l0 7l6 5l-6-1l-8 3l5 9l2 2l-9-1M1003 66l5 7l4 3l-9 0l-3 6l7 7l-2 0l-9 2l2 8l6 3l-7 0l-6 4l7 7l1 1l-10 1l-1 6l6 7l-5-1l-8 2l3 8l4 3l-9-1M1021 125l6-4l8 8l8-13l5 9l8-16l7-7l8-9l7 7l4 16l0 18M955 79l23 26l13 0l25-10l22-2l21 4l15-2M953 172l8 4l6-1l-6 5l-1 7l10 1l1 1l-7 6l5 6l8-1l-4 3l-4 8l9 3l4-1l-7 6l2 7l9 0l-2 2l-5 8M958 174l8 4l6-1l-6 5l0 7l9 1l1 1l-7 7l5 5l8 0l-5 3l-3 8l9 2l3 0l-7 6l3 6l9 0l-2 1l-5 8M982 179l7 4l7 0l-7 4l-2 7l10 2l1 1l-8 6l4 7l9 0l-5 3l-4 8l8 3l4 0l-8 5l1 7l10 1l-3 1l-6 7l6 5M980 181l6 4l7 0l-7 4l-1 8l9 1l1 1l-7 6l4 7l8 1l-4 2l-5 8l9 4l3 0l-7 5l1 6l9 2l-2 1l-7 6l6 5M1019 179l11 11l-3 7l15 5l-9 11l19-1l-8 10l18 4l-9 10l18 3M1044 205l8-4l3-3l-1 9l5 3l7-6l0 2l0 10l8 0l5-4l-2 7l0 4l4 5l0 2l-9-3l-3 7l5 7l-5-2l-9 1M956 279l1-11l8 4l7-3l8 5l3-8l7 1l7 0l1 9l7 0l6 1l2-8l6 1l5 0l0 8l6 0l6-1l0-8l7-2l5-4l6 4M1015 228l9 0l5-4l-2 7l3 8l9-4l1 0l-1 9l7 2l6-5l-1 5l2 8l9-3l3-3l-2 9l6 5l8-6M952 261l2-6l7 1l2-7l6 3l7-2l2 8l6-3l7-2l0-8M953 260l6-7l8 2l5-5l6 5l4-6l8 1l4-6" stroke="#6a9a48" stroke-width="1.8" stroke-opacity="0.9"/>
<path d="M899 50l2-7l7-1l5 0l0 8l8 2l-10 9l8 4l6-1l3-9l3 9l5 1l8-3l-1-9M939 50l10-15l15 1l5 13l6-7l5 5l10-11l5 10l6 1l8 9l6-7l10 6l3-10l5-8l7 0l3-4l12-11l8 12l7-8l5 8l10 8M940 52l12-15l11 2l7 12l7-7l5 6l9-15l5 10l4 3l10 10l8-10l7 9l3-10l6-9l8-1l2-4l15-10l5 11l7-7l7 8l8 7M949 52l-1 17l11 7l11 4l1 13l13 9l7 4l11-11l8 0l10-7l16-7l9-3l11-1l9-5l11-8l9-8M1096 63l21-2l-13 15l16 7l-19 1M1080 93l10 2l3 0l-5 7l2 7l9 1l-2 2l-6 7l6 6l4 3l-8-1l-5 6l6 7M1080 90l9 1l3 0l-6 6l3 6l9 0l-2 2l-6 8l7 5l6 2l-8 1l-6 6l6 8l-1 1M1028 56l8 2l6-2l-5 6l1 8l10-2l1 1l-5 8l6 4l8-2l-4 4l-2 8l9 1l3-1l-6 7l3 6l9-1l-2 2M1017 177l13 11l-6 8l13 4l-5 7l20 3l-14 12l21 1l-9 13l17 0M1019 182l11 7l-2 11l12 1l-9 11l19 1l-8 12l17 1l-8 11l15 4M943 281l6-6l7 2l7-3l6 6l1-8l6-1l6-1l2 7l6-2l6 1l0-7l5 0l6 2l0 9l5 2l7-2l2-11l4 9l8 1l4 9l3-10l8-2l7-4l6 0l1-8l8-2M1014 229l9-1l4-4l-3 8l4 6l8-4l0 0l-1 10l8 1l5-6l-2 6l4 8l8-4l2-2l-1 9l6 3l7-5l-1 3" stroke="#8a9a40" stroke-width="1.8" stroke-opacity="0.9"/>
<path d="M901 40l6-4l4 5l6 2l-2 8l6 6l-6 6l3 4l5-1l1-8l7-1l6-1l5 8l2-12M908 47l6 0l6 6l10-2l-10 2l-2 6l2 4l7-2l6 7l2-11M936 54l11-16l17 0l2 14l7-7l6 6l10-14l4 11l6 4l8 8l9-7l4 7l6-12l7-9l5 1l5-3l9-13l7 12l10-5l5 6l9 10M999 56l3-25l5-14l8-1l3 8l6 11l6 6M951 52l2 21l11 5l12 3l0 13l13 10l7 4l11-14l9 1l12-5l14-6l10-3l8-4l12-5l7-6l11-8M1079 93l9 3l5-1l-7 7l2 7l9 2l-1 1l-7 7l5 6l5 3l-7 0l-6 6l6 7M981 147l5-7l8 3l6-6l1 7l7 1l0 8l7 3l-8 0l-3 7l-9 2l10 1l3 7l9 0M978 147l6-5l7 4l7-5l2 9l8 4l-7 3l2 8l-7 4l9 0l4 6l7-1M957 80l19 27l21-1l16-7l26-3l20 4l19-5M954 82l19 25l17 0l24-8l19 1l21 1l19-2M988 140l8-5l2-3l0 9l6 3l7-7l0 2l0 10l8-2l5-4l-2 7l4 6l8-5l-1 0l4 8l7-3l2-8l2 5l7 5l5-8M992 143l8-5l2-4l0 9l6 4l7-7l0 1l1 10l8-1l6-5l-2 7l4 8l8-6l0-2l5 8l7-1l3-9l1 4l7 7M956 173l9 2l3 0l-7 6l3 7l10-1l-3 2l-5 8l8 4l5 0l-6 5l0 7l9 1l0 0l-6 8l5 5l8-1l-5 3l-3 8M979 179l8 4l5 0l-7 4l-1 7l10 2l-1 1l-7 7l6 5l7 1l-5 3l-4 8l10 3l2 1l-8 6l3 7l9 1l-3 2l-6 7M996 187l9 1l6-2l-4 7l2 7l10-1l1 2l-7 7l4 6l9 0l-5 3l-3 9l9 2l4 0l-7 7l2 7M955 280l1-7l7 0l3-6l6 5l7-5l6 5l1-7l5 1l6-1l2 7l7-1l5 4l5-6l6 4l7-1l4 8l3-8l8 1l3-8l10 3M1017 231l9-1l3-3l-3 8l4 5l9-4l-1 1l-1 10l8 0l5-5l-2 7l4 7l8-5l2 0l-1 9l6 2l7-5l-1 4" stroke="#c4cfb0" stroke-width="1.2" stroke-opacity="0.9"/>
<path d="M900 45l2-7l5 0l6 0l-1 7l7 4l-8-1l-2 6l1 5l8 0l5 7l-4-9l6-3l4-2l2 6l4-1l6-3M942 51l11-17l14 4l4 13l6-8l4 8l12-16l4 9l6 6l7 10l7-9l8 5l5-10l6-10l5 3l4-9l12-8l8 16l8-9l6 6l5 9M1086 47l8 10l-1 15l16 3l-8 14l-15 0M1011 173l3-9l0-3l5 8l6-2l1-9l2 3l6 6l6-7l0-5l4 7l7 2l4-10l1 0l7 8l5-6l-3-8l5 4l8 1l0-9l0-3l7 6l6-4l-1-9l2 3l8 3M953 97l9 1l2 0l-6 7l4 5l9-1l-3 2l-3 9l8 1l5-3l-4 7l2 7M985 147l3-7l8 3l6-7l0 9l7 3l-1 6l-1 7l-8 4l9 0l3 7l8-1M958 81l20 27l16 1l22-11l21-2l25 6l17-3M956 175l8 2l5-1l-7 7l2 6l9 0l-1 2l-6 8l6 4l7 0l-6 4l-1 8l10 1l1 0l-7 7l5 6l8-1l-3 3l-4 8M947 287l4-8l8 0l7-3l8-1l3-9l2 8l8 1l0 8l5 0l7-2l2-9l4 8l8 1l3 9l1-8l6-3l0-9l2 9l8 1l0 8l5 1l5-1l-1-8l6 0l7-6l7 2l2-8l8 2M1016 229l9-3l2-2l-3 9l6 4l7-5l-1 4l0 9l9-2l3-4l-2 8l5 6l8-5l0 1l0 9l8 1l6-6l-2 7" stroke="#5d8a3e" stroke-width="1.2" stroke-opacity="0.9"/>
<path d="M910 43l2-10l0 10l8 4l-2 6l-2 5l-8-1l8 3l2 9l2-9l6-1l3-9l4 10l5-7l7 3l3-6M1002 48l6-18l4-16l5-1l4 5l9 12l2 6M1096 65l19-4l-10 11l12 11l-18 5M1004 61l4 8l4 3l-8 0l-5 5l8 7l-1 1l-10 1l1 8l7 4l-7-1l-7 4l6 7l2 2l-10 0l-2 6l7 6l-4 0l-9 2l3 8l4 3l-8-1M1023 127l4-4l10 8l8-13l5 8l5-15l9-8l6-8l11 6l-1 18l1 18M1077 93l9 3l5 0l-6 6l1 7l10 2l-2 1l-6 8l5 5l5 4l-7 0l-6 5l6 7M979 148l-1-9l7-3l4-1l1 7l7 0l2 6l7 2l-8 3l-1 6l5 3l6-3l6-3l1-9l0 9l6 3l-2 7l7 3l-2 5l-5 4l-6-5l-6 5l-5-5l-7-1l-2-9l-8 0l-2-7l-7-1M980 144l5-6l7 2l6-6l1 8l8 2l0 8l8 4l-10 2l-1 7l2 5l8-2M1030 60l9 0l3-2l-5 8l4 6l9-3l-1 2l-4 9l8 2l6-2l-5 6l-1 7l10 0l1 1l-6 7l5 5l8-2l-4 4M958 174l7 4l7-1l-6 5l-1 8l10 1l1 1l-6 7l4 5l9 0l-5 3l-3 8l9 2l3 0l-6 5l1 7l10 0l-2 1l-5 8M1043 206l8-3l3-4l-2 9l6 4l7-6l0 2l0 9l8 1l5-5l-2 7l0 4l4 5l1 1l-9-2l-3 6l5 7l-4-2l-9 0l1 9M950 284l-1-7l6-1l7-4l7 6l6-11l5 7l8 0l5 9l1-10l7-3l5-1l0 8l7 1l2 8l4-9l7-1l6 1l2 9l2-9l7 0l1-9l7 6l6-4l8 0l2-8M954 282l0-8l8 0l1-9l6 7l6-4l5 5l5-5l6 1l2-8l3 9l8 1l6 3l7-6l3 8l9 0l4 9l1-9l7-1l0-8l7 3l6-5" stroke="#5d8a3e" stroke-width="1.8" stroke-opacity="0.9"/>
<path d="M905 55l1-7l5 1l10 2l-7 9l8 3l1 8l5 2l6-3l-2-9M951 51l3 19l7 5l14 2l-1 15l14 8l7 3l11-12l8 1l11-4l14-9l13-2l9-3l11-7l6-5l10-7M1088 43l1 12l5 13l17 3l-10 10l-14 6M1098 61l19-4l-14 18l15 2l-18 9M1009 173l4-7l-1-6l5 7l7 1l1-10l1 0l6 7l6-4l1-7l3 5l7 5l4-9l1-2l5 8l7-4l-2-9l3 2l8 4l3-8l-2-6l6 6l7-2l-1-9l1-1l9 5M953 92l9 3l5-1l-6 7l1 7l10-1l-1 1l-3 9l7 2l7-3l-4 6M980 143l0-8l8 0l1-9l2 8l7 2l-2 8l8 3l-9 3l1 6l2 4l7-2l6 6l-1-10l5-3l4 1l-3 7l7 3l-2 4l-4 5l-8-3l-7 6l-1-7l-7-1l0-7l-7-1l0-7l-8 0M991 141l8-3l3-5l-1 9l6 4l7-7l0 1l1 10l8 0l5-5l-1 6l4 8l8-5l0-3l4 8l7-1l3-8l1 3l7 7M992 139l7-5l3-3l0 10l6 3l6-7l1 2l1 10l8-2l5-4l-2 8l5 6l8-6l-1-1l6 9l7-4l1-8l3 5l7 6M990 142l8-4l3-4l-1 8l6 5l7-7l1 1l0 9l8 0l5-6l-2 7l3 7l8-5l0-1l4 8l7-1l2-9l1 4l7 7l5-7M1002 184l8 2l5-3l-4 6l2 7l9-2l2 0l-7 8l5 6l8 0l-4 3l-4 8l9 4l4 0l-7 6l1 7l10 1M971 256l6-6l7 3l7-6l1 8l7 2l1 8l5-7l7 3l3-6l5 3l8-2l5 7l5-7l8 4l4-7l8 2l5-6" stroke="#7aa858" stroke-width="1.8" stroke-opacity="0.9"/>
<path d="M907 53l5-7l7 3l6-2l2 5l2 7l-7 6l9-2l6-2l-1-9M1003 53l5-23l4-16l5-1l7 7l7 15l2 6M1082 46l3 13l2 15l15 3l-7 11l-16 3M950 95l10 1l2-1l-7 7l4 6l9-1l-3 2l-2 9l9 0l4-2l-5 7l3 6M983 142l6-7l7 3l6 0l0 8l8 1l0 7l7 4l-8 2l-2 5l1 4l7-2l3 7M984 151l5-8l8 1l6 0l1 8l9 2l-9 1l0 8l-8 2l8 0l3 7l8-2l3 7M992 143l7-3l4-6l0 8l5 6l7-7l2 0l0 10l7 1l6-6l-1 6l3 8l8-4l1-4l4 8l7 0l3-9l1 2l6 8M1000 185l9-1l3-2l-4 8l4 6l9-4l-1 2l-5 8l7 5l6 0l-7 4l-1 8l10 1l1 0l-7 7l5 6l8-1l-5 3" stroke="#6a9a48" stroke-width="1.5" stroke-opacity="0.9"/>
<path d="M908 54l3-6l6 1l6-1l0 7l8 3l-8 2l-1 5l1 5l8-1l4 7l1-9l8-4M898 61l3-7l7-1l4-7l3 7l8-1l0 6l1 6l-9 1l0 5l4 3l5-4l7 5l0-10l7-5M940 51l11-16l14 1l4 13l5-6l6 6l11-15l1 13l11 1l7 10l6-10l9 10l2-12l8-11l7 3l2-4l14-10l4 11l10-6l4 5l9 10M1003 51l5-23l3-14l6-1l5 8l6 12l4 6M1084 45l7 13l4 12l15 6l-11 10l-15 4M989 144l8-4l3-5l0 8l5 5l7-7l2 1l0 10l7 0l6-5l-1 6l3 8l8-5l0-3l4 8l7-1l3-9l2 3l6 8M980 179l8 3l5 0l-8 5l1 7l10 1l-2 1l-7 8l7 5l7 0l-7 4l-2 8l10 3l1 1l-8 6l4 6l8 1l-4 2l-5 8M978 181l9 2l3 0l-7 6l2 7l9 0l-3 2l-5 8l7 4l6 1l-7 4l-1 8l9 2l0 1l-7 7l5 6l8 0l-6 4l-3 7M1015 177l12 12l-5 8l15 2l-6 11l16 2l-9 11l19 4l-7 9l16 2M1000 185l8 2l6-3l-4 6l2 8l10-1l1 1l-7 8l5 6l9 0l-4 3l-4 8l8 2l4 0l-7 5l2 7l9 0M948 281l2-6l7 1l2-7l6 2l6-2l4 7l0-8l5-2l7 0l2 8l7-1l7 1l2-7l6 0l5 3l-1 7l6 3l5 0l2-7l5 0l6 1l-1 7l5 1l6-3l0-10l7 5l4-4l6-1l0-7l7-2M950 283l-1-7l7-2l0-9l6 6l5-3l7-1l5 1l1 7l5 0l7-1l1-8l6-1l5 3l-3 7l6 3l5 1l4-7l6 2l5 0l0 8l5 0l6-2l0-9l7-1l8-3l7 7l2-8l8 1M951 279l3-7l7 2l4-7l4 7l8-2l5 7l2-9l8-2l3-9l2 9l7 0l4 3l4-6l7 4l5-6l0 8l7 3l0 9l1-9l8-1l0-8l8 3l7-5M971 258l5-8l7 4l7-7l1 9l6 2l6 3l4-7l7 3l6-1l3 7l7-1l6 1l3-7l7 1l4-8l9 6M951 260l6-5l7 2l7-2l4 7l7-2l6-1l1-8l8-1" stroke="#5d8a3e" stroke-width="1.5" stroke-opacity="0.9"/>
<path d="M908 59l0-8l6 0l6 0l3 8l8 4l-14-1l9 3l4 8l3-9l9-2M905 56l1-8l8-2l2-7l2 7l8 1l0 8l9 2l-9 1l-3 7l-8 2l11 2l6-1l0-8l8-1l1-8M1027 63l10 0l3-1l-6 8l5 5l9-2l-2 3l-3 9l8 1l5-2l-5 6l0 7l10 0l0 0l-5 8l6 4l7-1l-4 4M992 139l8-5l2-2l0 10l7 1l6-6l0 4l2 9l9-3l4-4l-2 9l6 5l7-6l0 0l5 8l7-4l1-8l3 7l7 4M1016 116l8-1l5-3l-3 8l4 6l9-4l0 1l1 9l8-1l5-6l0 7l7 7l3-10l0-3l7 6l6-4l-2-9l3 2M1018 118l9-4l2-1l-2 9l7 4l7-6l-1 4l2 9l9-3l3-4l0 8l8 5l1-11l1 0l8 5l4-6l-2-8l5 5M1016 172l14 13l-8 6l17 6l-8 12l18-1l-10 11l20 3l-6 10l14 1M975 260l4-7l8 2l6-3l2 8l7-3l5 6l7-5l5 5l6-4l5 6l6-4l6 1l4-7l9 4l7-6" stroke="#7aa858" stroke-width="1.5" stroke-opacity="0.9"/>
<path d="M940 53l10-18l14 3l5 12l5-7l7 5l11-13l2 11l7 3l8 8l7-7l5 7l6-12l7-11l8 2l1-4l13-11l7 13l9-6l4 7l8 7M949 53l3 16l9 4l13 4l-1 15l13 11l9 3l9-13l10 0l9-4l15-8l10-3l11-1l11-7l7-8l11-6M1084 45l8 15l3 10l14 6l-11 10l-12 5M1086 43l4 13l0 16l22 1l-13 9l-13 6M1098 63l17-3l-15 13l17 8l-19 2M1098 66l18-6l-13 14l15 9l-18 1M1005 64l5 8l4 2l-9 1l-4 6l8 6l-2 1l-9 2l2 7l6 4l-7-1l-6 5l6 7l2 1l-10 0l-2 7l7 6l-5-1l-8 2l3 9l4 3l-9-1M1006 65l3 7l6 4l-8 0l-5 5l7 7l0 1l-10 1l0 8l7 5l-5 0l-8 4l5 8l3 3l-9-1l-4 6l6 7l-3 0l-9 1l1 8l5 4M1026 126l5-4l6 8l11-11l4 7l7-18l8-6l6-8l6 4l6 19l-1 20M1078 89l8 4l7-1l-6 6l0 7l9 3l1 1l-8 6l3 6l7 4l-6 0l-8 5l5 8M976 143l5-6l6 2l8-2l3 7l1 5l-7 1l1 8l-7 3l8-2l4 6l7-4l5 6l1-9l6-2l3 3l-4 6l5 7l-8-4l-5 6l-6-4l-7 3l-3-7l-8 1l0-8l-7-1l0-7M975 130l5-7l7 2l6 0l-2 8l7 2l-1 6l-1 7l-9 5l10-2l4 7l6-4l7 1l0-8l5-1l4 3l-3 6l6 5l-3 4l-4 4l-8-3l-7 6l-3-9l-8-1l-2-8l-7-2l-2-8M1028 60l9 1l4-1l-5 7l3 6l10-2l-1 2l-4 9l8 2l6-2l-5 5l-1 8l10 0l1 0l-6 7l5 6l9-2l-4 3M1025 61l8 2l6-3l-5 7l2 7l9-1l1 0l-5 8l6 4l9-2l-4 4l-3 8l9 1l4-1l-7 7l3 6l9-1l-2 2M1016 117l9-3l4-3l-2 9l5 5l8-5l0 2l1 9l8-1l5-6l-1 8l7 6l3-10l0-2l8 6l5-5l-2-9l3 3M955 178l9 2l4-1l-7 7l3 7l9 0l-2 2l-5 7l7 4l6-1l-6 5l-1 8l10 0l1 1l-7 7l5 5l9-1l-5 3l-3 8M978 180l6 5l7 0l-6 4l-3 8l10 2l1 1l-7 6l3 6l9 1l-4 3l-5 7l9 4l4 1l-8 5l1 7l9 2l-1 1l-7 7M1015 176l11 10l-6 8l18 3l-5 10l16 4l-10 8l20 4l-9 10l17 2M1015 180l12 11l-6 4l16 7l-7 9l17 1l-8 12l19 5l-11 9l19 0M955 277l2-8l8 0l6-1l5 8l4-7l8 2l4-7l6 8l7-2l8 1l7-7l2 8l7 0l3 7l4-8l7 0l5-9l4 11M977 253l8-6l6 5l8-1l3 7l7 0l6 2l5-7l4 7l7-3l4 7l3-8l7 1l2-6l6 2l10-2M973 254l5-5l6 4l7-5l-1 8l6 3l6 3l4-7l8 4l5-7l5 7l7-2l5 7l5-7l7 3l5-7l4 7l7-2M949 260l1-7l7 0l0-8l8 0l2-7l2 8l7 1l0 7l5 0l5 0l-1-7l7-2" stroke="#b9c6a4" stroke-width="1.2" stroke-opacity="0.9"/>
<path d="M943 53l9-15l14 3l4 10l5-6l6 7l12-14l2 9l5 6l9 7l8-7l6 8l6-12l6-10l7 1l5-3l10-12l6 13l9-7l7 6l7 11M1083 43l5 15l4 12l15 4l-10 8l-13 4M1006 64l4 8l5 3l-8 0l-4 6l7 7l-1 0l-9 2l1 8l6 5l-6 0l-7 4l6 8l2 3l-10-1l-3 6l7 7l-4-1l-9 2l2 8l5 4M1006 62l4 8l4 3l-8 0l-5 5l7 7l-1 1l-9 1l1 8l6 4l-6-1l-7 4l6 8l2 1l-9 0l-2 6l6 7l-4-1l-9 2l3 8l4 4l-8-2M1006 172l5-8l0-5l5 7l7 0l2-10l1 1l7 8l6-5l1-7l3 6l7 4l4-9l0-1l7 6l5-5l-2-9l4 3l8 3l2-9l-2-4l7 5l7-2l-2-9l2 0M953 92l8 3l5-1l-6 5l1 8l9-1l0 1l-4 9l7 2l7-3l-4 5l0 8M954 95l7 3l7-2l-6 5l0 8l9-1l1 0l-5 9l7 4l7-4l-3 5l-1 8M960 82l20 22l14 2l22-10l25-2l21 5l20-3M1017 114l9-2l4-2l-3 8l6 5l8-5l-1 3l1 9l8-2l3-6l0 8l5 5l5-7l-1-1l8 5l5-5l-2-9l4 4l8 2M1019 113l9-1l4-4l-2 8l3 7l9-5l1 0l0 10l7 0l5-7l-1 6l4 8l7-6l-2-4l7 6l6-4l-2-9l2 2l9 4M1041 205l8-4l3-3l-1 9l6 4l7-6l0 2l-1 10l9-1l5-4l-3 8l1 3l4 5l0 2l-10-3l-2 7l4 7l-5-2l-9 1M1001 190l8 1l6-3l-4 7l2 8l10-2l0 2l-7 7l5 6l8 0l-5 4l-3 7l9 2l3 0l-7 6l3 6l9 0" stroke="#b88a32" stroke-width="1.5" stroke-opacity="0.9"/>
<path d="M1002 51l4-23l4-13l5-4l8 11l5 10l4 7M977 140l4-7l7 3l6-6l1 9l8 1l-1 7l0 7l-8 5l7-4l7 4l4-8l8 1l5-7l-3 8l5 6l-4 5l-2 5l-7-4l-5 6l-3-7l-7 0l-2-7l-8 1l-4-6l-8 3M973 140l4-7l7 2l5-7l3 8l7 0l2 7l9 1l-8 4l1 7l-7 2l1 4l4 2l4-5l7 4l1-9l6-1l4 2l-4 7l6 4l-3 5l-4 5l-7-2l-6 6l-3-7l-7 1l-3-7l-7 1l0-8l-8-1l1-8l-7-1M1015 113l9-2l3-2l-2 9l6 4l8-5l-1 3l1 9l8-2l3-5l-1 7l5 6l6-7l-2-1l9 5l4-6l-2-8l5 4l8 2M985 180l9 2l2 0l-7 6l2 7l10 0l-4 2l-5 7l7 5l5 1l-7 4l-1 7l10 3l0 1l-8 7l6 6l7 0l-5 3l-4 8M955 282l0-9l8-2l3-9l3 9l8 0l4 9l1-9l8-2l1-9l3 8l8 1l3 9l5-7l7 3l5-7l3 8l7 0l4 8l0-9l8-3l0-8l6 6l7-2M970 256l3-6l8 1l4-7l2 8l8 1l0 7l6 0l6 2l3-8l6 1l8-1l6 8l4-8l8 1l4-7l4 7l7-3l3 7M945 258l3-7l7 2l3-7l6 3l7-2l4 7l7-3l7-1l2-9" stroke="#6a9a48" stroke-width="1.2" stroke-opacity="0.9"/>
<path d="M1001 49l5-20l3-15l6-1l5 7l6 14l4 4M1086 44l6 10l0 16l18 4l-11 10l-13 4M1022 125l5-5l9 8l11-11l3 8l7-17l8-10l4-6l11 7l-1 16l1 19M954 93l10 2l3-1l-6 6l2 7l10-1l-2 1l-3 9l8 2l5-3l-4 6l2 7M978 135l9-1l3 8l10-1l2 7l2 5l-7 5l9-1l6 6l3-8l8 0l4-7l-2 8l6 4l-3 7l5 6l-8-1l-4 6l-8-3l-5 7l-2-9l-8-1l-1-8l-7-2l0-8l-8 0l-1-8M978 148l6-4l5 4l6-4l5 4l6-2l2 7l7-1l2 5l-2 5l-7-1l-2 7l-7-1l-1 4l3 4l7-4l6 6l7-4M959 80l21 28l14-1l24-10l19-1l25 8l20-7M959 175l9 3l3-1l-6 7l2 6l9 0l-1 2l-6 8l7 4l7-1l-6 5l-1 7l9 1l1 1l-6 7l4 5l9-1l-5 3l-3 8M1045 205l8-5l2-2l-1 9l6 3l6-6l0 3l0 9l9-1l4-3l-2 7l1 4l4 5l0 0l-10-1l-2 7l4 7l-5-3l-9 2M950 280l4-7l8 0l4-8l6 7l7-2l8 0l5-8l2 10l7 2l6 2l4-7l6 2l6 0l2 6l6-1l7 1l2-8l7-1l5-4l7 4M978 256l5-7l7 2l7 0l1 8l7 0l7 3l6-6l5 6l6-4l5 6l5-6l7 3l4-7l7 2l6-6M1014 230l8-1l4-3l-3 7l4 6l8-4l0 1l-1 10l8 0l5-5l-2 6l3 8l9-4l2-2l-1 10l6 3l8-6l-1 3" stroke="#b88a32" stroke-width="1.2" stroke-opacity="0.9"/>
<path d="M952 56l3 18l10 6l10 1l0 17l14 8l9 2l10-12l7 1l11-6l14-5l13-5l8-1l13-6l7-9l10-6M952 56l2 18l8 7l13 3l0 14l12 8l8 3l10-10l12-1l6-5l18-7l9-4l8-2l13-7l8-6l8-7M1099 66l15-4l-9 15l11 5l-18 2M1005 172l4-8l0-4l5 8l8-2l1-9l2 2l7 7l5-6l1-7l3 7l8 3l3-10l0 0l8 6l4-5l-1-9l3 4l9 3l1-10l-1-3l7 6l6-3l-1-10l2 2M957 83l19 24l19-1l19-11l21 4l24 4l18-5M1037 205l8-2l4-4l-2 8l5 6l7-6l1 0l-1 10l7 2l7-5l-2 6l-1 4l3 5l2 3l-9-3l-4 5l4 9l-3-2l-10 0M950 260l4-7l8 1l6-7l2 8l9 0l2 10l3-9l6-2l0-8" stroke="#b88a32" stroke-width="1.8" stroke-opacity="0.9"/>
<path d="M950 52l5 20l8 5l11 2l1 16l14 9l7 3l10-14l10 1l11-5l11-7l14-3l9-1l11-7l9-6l9-8M1023 125l6-6l6 11l9-14l5 8l7-15l6-10l8-7l8 6l1 19l3 18M1081 93l8 3l6-2l-6 5l0 8l10 0l0 2l-7 6l4 6l8 3l-6 1l-8 4l5 8l3 3M1031 61l9 1l4-2l-6 8l4 6l9-2l-1 2l-4 9l8 2l6-2l-5 6l-1 7l10 0l1 0l-6 8l5 5l8-2l-4 4M958 80l21 29l17 0l20-12l25 0l19 6l19-3M1042 204l8-4l2-3l-1 9l6 4l7-7l0 2l0 10l8 0l6-4l-3 7l1 4l4 5l0 1l-9-3l-3 6l5 8l-4-3l-9 1l2 8M949 278l1-8l8-1l2-9l4 8l8-3l2 7l6-2l6 1l1-7l6 1l6 1l2 9l5-6l6 2l6-6l1 9l9 2l2 9l1-9l8-2l-1-7l6-2l9-2M974 258l3-7l7 1l5-6l3 7l8 0l1 8l6 0l7 2l4-8l4 7l7-2l4 8l3-8l8 1l2-7l6 2l7-4l5 7" stroke="#7aa858" stroke-width="1.2" stroke-opacity="0.9"/>
<path d="M1096 63l22-5l-15 14l16 8l-14 4M1004 65l5 8l3 2l-9 0l-2 7l7 6l-3 0l-9 3l3 8l5 3l-8 0l-5 6l7 7l0 1l-10 0l-1 8l6 5l-5-1l-8 3l4 8l2 3M971 142l5-5l6 5l5-6l4 5l7 2l0 7l-1 7l-10 2l9 1l6 6l3-7l7 2l2-7l5 2l4 4l-5 6l5 6l-5 5l-4 5l-7-4l-7 7l-2-10l-9-3l0-7l-8 1l-1-8l-8 1l-1-8M1025 60l9 1l5-2l-5 7l2 7l9-2l0 1l-4 9l7 3l7-2l-5 4l-1 8l9 1l3-1l-7 8l4 5l9-2l-3 3M1001 188l10-1l3-2l-4 9l4 5l10-2l-2 3l-6 8l7 5l6 0l-6 5l-1 8l10 1l1 1l-7 8l6 5M1003 183l9 0l4-2l-5 7l4 6l9-3l-1 2l-5 8l6 5l7 0l-5 4l-2 8l9 2l2 1l-7 7l4 6l9 0M948 279l1-8l7-1l6-1l3 6l5-2l6-2l2-8l4 7l9 0l4 8l1-9l6-1l6 0l-1 8l6 0l8 1l4-8l1 8l8 2l1 8l2-9l7-2l2-9l10 7l4-9l9-1" stroke="#8a9a40" stroke-width="1.5" stroke-opacity="0.9"/>
<path d="M966 69l8-5l2-5l1 8l7 4l5-8l1 1l3 9l7-2l4-7l0 6l6 6l6-7l1-2l3 10l8-3l0-9l2 4l8 5l4-8l0-5l5 6l7 0l1-10l0 1l8 6l4-6l0-7l3 5l8 2M1085 70l7-5l2-6l3 7l4 3l6 1l0 1l-9 3l2 7l8 3l-6 1l-6 4l5 7l2 3l-9 0l-3 6l6 7l-2 0l-10 1l2 9l4 4l-8-1l-6 4l5 9M982 59l18 10l21-16l23 6l17-17M968 177l8 4l5-1l-7 5l0 7l9 1l0 1l-7 5l1 6l6 4l-7-1l-7 4l5 8l2 2l-10-1l-2 7l7 7l-4 0l-9 2l3 9M1024 177l8-1l5-4l-2 7l4 7l8-5l1 0l-1 9l8 2l6-6l-2 6l2 8l9-3l3-1l-5 8l4 6l9-3l-1 3M999 215l8-2l4-4l-2 7l4 6l8-5l-1 0l5 8l7-4l1-8l2 5l9 5l2-10l0-4l7 7l7-3l0-9" stroke="#d0d4c4" stroke-width="1.4" stroke-opacity="0.9"/>
<path d="M960 72l7-6l2-4l2 9l7 2l6-8l1 2l3 9l7-3l3-7l0 8l6 5l6-7l1-1l3 9l7-3l1-9l2 4l8 4l4-8l-1-4l6 7l7-1l0-10l2 1l7 6l5-7l-1-6l4 5l8 2M1085 73l5-8l1-3l3 8l7 0l6-6l-2 4l-8 5l5 6l5 2l-7 2l-4 6l8 6l-1 1l-10 1l0 7l6 6l-6-1l-8 4l4 8l2 3l-9-1l-4 6l6 7l-3 0M1083 68l7-6l2-5l3 8l4 2l6 1l-1 0l-9 4l4 7l7 2l-7 2l-5 5l5 7l1 1l-9 0l-2 7l6 6l-4 0l-9 2l3 8l3 4l-8-2l-5 6l5 8M938 62l9 3l3 0l-7 5l1 7l9 1l-2 2l-6 7l7 5l6-3l-5 6l2 7l9-2l1 1l-5 7l5 5l8-1l-4 3l-3 8M940 61l7 4l6 0l-7 5l-2 7l10 2l0 1l-7 6l5 6l8-3l-4 5l1 9l9-2l3 0l-6 8l4 6l9 0l-2 2M1044 47l9-1l4-2l-4 9l4 5l9-3l-1 2l-2 10l9 1l5-4l-4 7l3 7l9-2l1 0l-2 9l7 2l7-5l-2 5l2 9l9-3M1048 44l9 1l5-3l-4 8l3 6l9-2l0 1l-3 9l7 2l7-3l-3 5l0 8l10-2l1-1l-2 9l6 3l8-5l-1 4l0 9l9-2M1026 177l8-2l5-4l-2 8l4 6l8-5l1 0l-1 10l7 1l6-5l-1 5l2 8l9-3l3 0l-5 8l4 6l9-3l-2 3M1026 177l9-4l2-2l-2 9l7 4l7-6l-1 4l1 9l8-2l4-4l-2 8l5 6l8-5l1 2l-4 9l7 3l7-2l-4 5" stroke="#6a9a48" stroke-width="1.4" stroke-opacity="0.9"/>
<path d="M962 71l7-5l3-5l1 8l6 4l6-8l1 0l3 9l7-1l4-7l0 5l5 7l7-6l1-3l3 10l8-2l0-10l2 3l8 5l4-7l0-6l4 7l8 1l1-10l0-1l8 7l5-6l-2-8l4 5l8 3M962 69l6-7l2-3l2 10l7 0l5-8l1 4l4 8l7-5l2-5l1 9l6 4l6-8l0 0l4 10l7-5l0-8l4 5l8 3l2-9l1-3l6 8l7-3l-1-10l3 3l8 5l4-9l-1-5l6 6M938 59l9 3l3 0l-8 6l3 7l9 0l-3 2l-6 8l8 4l5-3l-4 7l2 6l9-2l1 1l-5 8l6 5l8 0l-4 4M1048 44l9 0l5-3l-4 8l3 6l10-3l0 1l-3 10l7 2l7-4l-4 6l1 8l9-2l2-2l-2 10l6 3l8-5l-1 4l1 9l8-2M965 178l9 3l2 0l-7 6l3 6l9 0l-3 2l-6 5l4 6l4 4l-9-2l-5 6l6 7l-1 0l-10 1l1 8l6 5l-6 0l-8 4l6 9M1026 178l8-1l4-4l-2 8l4 5l9-5l0 1l-1 10l8 0l6-5l-2 6l3 8l9-4l2 0l-4 8l4 6l9-3l-2 3" stroke="#c4cfb0" stroke-width="1.4" stroke-opacity="0.9"/>
<path d="M966 67l7-7l1-3l2 9l7 1l5-8l1 3l4 9l7-5l2-5l1 8l6 4l6-7l1 0l4 10l6-6l0-7l4 5l7 3l3-9l0-3l6 7l7-2l-1-10l2 3l8 5l4-8l-1-6l5 7l7-1M1082 73l6-7l2-4l4 9l4 1l6 1l-2 0l-9 4l5 7l6 2l-7 1l-4 6l6 7l0 1l-10 0l-1 7l7 6l-5 0l-9 2l4 8l3 2l-9-1l-4 5l7 7l-3 0M983 30l8-2l4-3l-2 8l5 6l8-6l-2 2l7 7l4-7l-2-7l5 5l8 1l0-10l0-2l7 7l6-3l0-9l2 3l8 5l3-8M987 27l8-1l5-4l-3 7l5 7l8-6l-1 1l6 7l5-6l-2-8l4 5l8 3l2-10l0-3l7 7l6-3l1-9l2 2l8 5M989 28l9-4l2-2l-2 10l7 3l7-6l-2 4l8 5l2-8l-1-5l6 6l7-1l0-10l1 1l8 6l5-7l0-7l4 5l8 2M970 177l8 5l6-1l-7 4l-1 8l9 1l1 1l-7 4l0 6l6 5l-5-1l-9 2l5 9l2 2l-9-1l-3 7l7 7l-4 0l-9 3l3 8" stroke="#d0d4c4" stroke-width="1" stroke-opacity="0.9"/>
<path d="M1084 92l7 4l6-1l-6 4l0 8l9 1l1 1l-7 6l3 6l9 3l-6 1l-8 4l5 8l4 3M1080 91l9 2l4-1l-6 6l2 7l9-1l-1 2l-7 7l6 6l7 2l-8 1l-6 5l6 8l0 2M980 149l5-6l7 3l6-7l2 8l7 1l1 6l0 6l-7 1l0 4l3 5l7-5l5 5M1029 60l8 2l6-2l-5 6l1 7l10-1l1 0l-5 9l6 4l8-2l-4 4l-3 8l9 1l4 0l-6 6l2 6l9 0l-2 1M1015 118l9-2l4-3l-2 8l4 6l9-5l0 1l1 10l8-1l5-6l-1 7l7 8l3-11l0-2l7 5l6-4l-2-9l3 3M956 175l9 3l4-1l-6 6l1 7l10 0l-1 2l-6 7l6 5l7-1l-5 5l-2 7l9 2l2 0l-7 7l4 5l9-1l-4 3l-4 8M981 182l9 3l3 0l-7 5l2 7l9 1l-3 1l-6 8l7 5l6 0l-6 4l-2 8l10 3l0 0l-7 7l4 6l8 1l-5 2l-4 8M1016 179l13 11l-6 6l15 3l-9 13l20-1l-8 12l17 4l-6 10l15 2M1015 228l9-1l4-4l-4 8l4 6l9-4l0 1l-2 9l8 1l6-5l-2 6l2 8l9-4l2-2l-1 10l7 2l7-6l-1 5M1016 232l9-3l2-1l-2 9l6 4l8-4l-2 4l1 9l9-2l3-4l-2 8l5 6l8-6l1 2l0 10l8 0l5-5M949 264l2-7l7 0l2-7l5 1l6-2l2 8l8-1l3 7l1-8l8-3" stroke="#8a9a40" stroke-width="1.2" stroke-opacity="0.9"/>
<path d="M1087 73l6-7l2-4l4 9l4 0l6 1l-3 1l-8 5l5 6l6 2l-8 2l-4 5l6 7l0 1l-10 0l0 8l6 5l-6-1l-8 3l5 8l2 2l-9-1l-3 6l6 7l-3-1M939 59l10 3l2 1l-8 5l3 7l8 1l-3 2l-6 7l8 4l5-3l-4 8l3 6l9-3l0 2l-5 8l7 5l7-1l-4 5M977 60l19 10l21-14l20 2l18-14M995 216l8-4l3-3l-1 9l6 4l7-7l-2 3l6 7l6-6l1-7l4 7l8 3l2-10l1-2l7 7l6-5l0-8M999 218l8-4l2-2l-1 9l6 3l7-6l-1 3l6 7l5-7l0-6l4 7l8 1l1-9l1 0l7 6l5-5l-1-8l3 5M998 213l8-5l2-2l-1 9l6 3l7-7l-2 4l7 7l5-7l1-5l4 7l8 1l1-10l1 0l8 6l5-6l0-8" stroke="#b9c6a4" stroke-width="1.4" stroke-opacity="0.9"/>
<path d="M941 64l9 3l3 0l-8 6l2 6l9 1l-2 2l-6 7l7 5l6-3l-5 6l2 7l10-2l0 0l-5 9l6 5l8 0l-4 4M1044 42l9 0l5-2l-4 7l3 7l9-3l1 1l-3 9l6 3l8-4l-3 5l0 8l9-1l3-2l-3 9l6 4l8-6l-1 3l0 10l9-1M994 216l8-1l5-5l-2 7l4 7l8-6l0 0l4 8l7-4l1-8l2 5l8 5l3-10l0-4l7 7l7-2l0-10" stroke="#b9c6a4" stroke-width="1" stroke-opacity="0.9"/>
<path d="M1045 44l9-1l4-2l-3 8l4 6l9-4l-1 2l-2 9l8 2l6-4l-4 6l1 8l10-2l1-1l-2 10l6 2l8-5l-2 5l1 9l9-3M977 63l19 11l25-14l17 1l19-15M976 60l21 12l21-13l21 5l19-22M990 30l8-3l3-3l-2 9l6 4l8-6l-2 4l7 5l4-7l-2-6l6 5l7 0l0-9l1-1l7 6l6-5l0-8l4 4l8 4" stroke="#6a9a48" stroke-width="1" stroke-opacity="0.9"/>
<path d="M978 61l20 9l20-12l21 3l18-16M986 30l8-1l5-4l-2 7l4 7l9-5l-2 0l6 7l5-6l-1-8l3 5l9 2l1-9l0-3l6 6l6-2l0-9l2 2l7 6l4-8M968 178l7 4l6 0l-7 4l-1 7l10 2l0 0l-7 5l1 5l6 6l-6-1l-8 3l4 8l3 2l-10-1l-3 7l7 7l-3 0l-9 3l3 8M965 177l7 5l7 0l-6 4l-2 8l10 2l2 2l-10 2l-1 7l6 6l-5-1l-8 2l3 9l3 2l-9 0l-3 6l6 7l-2 0l-10 2M1024 176l9-4l2-2l-1 10l6 3l8-6l-2 4l2 9l8-2l3-4l-2 8l5 6l9-5l0 2l-4 9l7 3l7-2l-4 5" stroke="#c4cfb0" stroke-width="1" stroke-opacity="0.9"/>
<path d="M1161 41l0-8l5-5l5 3l-2 7l6 3l-2 5l0 7l-9 4l10 2l4 9l3-9l7-2l7 0l3-3l-2-7M1279 55l9 1l4-2l-5 7l3 6l9-2l0 2l-4 8l7 3l7-2l-5 5l-2 8l10 0l2 0l-6 7l4 5l9-1l-3 3M1269 110l8-1l5-3l-3 8l5 6l8-4l1 1l1 10l7-1l6-6l-1 6l7 8l3-11l-1-2l8 5l5-4l-2-9l3 3M1266 171l15 11l-4 9l15 5l-4 10l16 3l-6 12l20 4l-8 11l15 2M1296 202l8-3l4-4l-2 8l5 5l8-6l0 1l-1 9l8 1l6-5l-3 6l2 8l9-3l4 1l-9 2l-3 6l6 7l-4 0l-9 1l3 8l4 4M1256 180l9-1l4-2l-4 8l4 6l9-3l1 2l-5 8l6 5l8-1l-5 4l-2 9l10 1l2 0l-7 7l4 5l9-1l-3 2l-4 8l8 3M1221 288l0-8l7-2l5-3l3 6l5-2l6-3l1-9l2 8l7 2l-1 7l5 1l7-1l3-9l4 8l9-2l5 8l1-9l6-2l5 1l0 7l8 2l2 9l1-8l6-3l-1-8l8 4l5-5l6-2l-1-8l9-2M1223 285l0-9l8 0l2-9l3 7l8-2l2 8l5-3l6 0l0-7l5-1l5 1l0 7l6 1l5 3l3-6l7 3l5-7l4 8l6 0l5-3l-2-9l8 5l6-6l6 5M1245 259l3-7l7 2l4-6l3 8l8 0l2 9l6-7l7 4l6-6l2 8l6-1l7 2l4-7l7 2l6-4l6 5l6-4" stroke="#b83a36" stroke-width="1.2" stroke-opacity="0.9"/>
<path d="M1163 45l-3-9l6-2l6 1l0 7l1 6l-8 2l1 6l2 6l8-1l6 7l-1-9l6-2l5-3l5 7l0-9l6-5M1159 54l1-8l8 0l3-9l0 11l8 6l-10 7l9-2l5 6l4-2l5-7M1195 47l11-17l15 0l4 16l6-7l4 5l12-14l1 11l7 4l7 7l10-6l6 7l5-13l6-9l7 1l5-4l11-12l5 14l10-8l5 9l8 8M1353 53l15 0l-11 11l16 9l-20 4M1353 58l20-3l-12 14l14 7l-20 1M1259 56l4 8l5 2l-9 1l-4 6l8 6l-2 0l-9 3l2 7l6 4l-7-1l-6 5l6 7l2 1l-10 0l-2 6l7 7l-5-1l-8 2l3 8l3 3l-8-1M1276 117l8-3l8 6l6-10l9 8l1-16l12-9l5-7l9 5l1 18l2 19M1228 136l6-7l8 2l5 1l1 7l7 4l-8 1l-1 6l3 3l7-3l6 5l2-7l7 0l4-6l-4 7l5 6l-6 5l5 8l-9-4l-4 6l-6-3l-6 0l-2-7l-7-1l-2-7l-8-1l-2-7M1246 132l8-4l3-5l0 9l6 4l7-7l0 1l1 10l8 0l5-5l-1 6l3 8l9-5l0-3l4 8l7 0l3-9l1 3l6 7M1207 172l10 0l2 0l-5 7l4 6l9-1l-3 3l-4 8l9 2l5-1l-6 6l1 7l9 0l0 0l-5 9l6 4l8-2l-5 4l-1 9l10 0l2 0l-6 7M1209 172l9 2l5-2l-6 7l2 7l9-1l0 1l-5 8l6 5l8-2l-5 5l-2 8l10 1l2 0l-6 7l4 6l9-2l-3 3l-4 9l9 2l5-1l-6 6M1234 175l9 1l3 0l-7 7l3 6l9 0l-3 2l-4 8l8 3l5-1l-7 5l1 7l9 1l0 0l-6 8l5 4l8 0l-5 3l-3 8l9 2l2-1l-7 6l3 7l9-1M1267 175l17 7l-5 10l17 4l-8 12l17 0l-1 12l14 6l-3 11l16 0M1222 287l-1-8l6-1l6-3l6 5l-1-7l5-3l6-1l3 7l7-1l4 7l3-7l6 0l7 0l0 7l6 1l6 1l3-6l6 1l7 2l3 9l-1-9l7-3l0-7l7 5l8-3l6 0l1-6M1220 295l-1-8l8-1l0-8l6 6l6-2l7 1l2-9l2 8l8 1l4 8l1-10l8-3l1-9l2 9l7 2l1 8l6 1l5 2l3-8l4 8l7-3l5 7l0-10l7-3l7-6l6-3l-2-7M1216 264l3-7l7 2l2-7l6 1l5-2l4 7l5-3l6-1l-1-8l7-2" stroke="#a8922e" stroke-width="1.5" stroke-opacity="0.9"/>
<path d="M1157 40l6-11l0 9l7 2l-2 6l1 8l-4 6l5 2l5-1l0-7l7-2l2-9l2 8l5 1l5-2M1156 30l9 2l1 7l8 4l-9 2l-1 9l-9 3l8-1l4 6l5-3l7-1l1-7l8-1l4-9l0 12l2-12M1160 41l3-9l5 7l0 6l-7 4l1 6l3 7l8-1l6 0l1-8l5 0l6 1l3 9l-2-9l7-5l-3-8M1157 48l2-7l7 2l4-8l3 9l9 2l-7 5l3 5l2 7l5-9l9 2M1160 48l5-7l7 2l7 0l1 5l-4 7l1 6l6 2l4-2l-2-7l6-3M1163 46l3-11l4 8l8 0l1 7l0 5l-6 3l0 5l3 6l6-2l5-3l-2-7l7-3M1190 45l12-16l13 2l3 12l7-4l6 4l9-14l6 10l4 4l8 8l8-9l7 10l8-14l3-10l7 2l4-4l10-11l7 13l8-6l6 6l8 9M1194 42l10-16l15 4l3 11l6-7l7 6l9-11l5 9l5 3l9 10l8-8l6 8l6-14l4-10l8 2l4-4l11-13l8 15l5-8l8 7l9 9M1257 47l6-22l4-15l8 0l3 9l5 11l5 6M1207 46l2 20l9 4l13 5l0 16l13 6l6 6l10-13l9 1l14-8l12-6l11-5l9-1l10-4l10-5l10-9M1206 49l1 17l10 8l10 1l1 18l12 8l9 4l9-13l11 0l10-7l15-6l12-3l8-1l10-8l8-6l11-7M1336 36l8 12l-1 15l16 1l-8 14l-16 4M1354 57l19-2l-15 13l14 9l-12 2M1262 58l4 8l5 3l-8 0l-5 5l7 7l0 1l-10 1l1 7l7 5l-6-1l-8 4l6 7l2 2l-9 0l-3 6l7 7l-3-1l-9 2l2 8l5 4l-8-2M1278 116l2-3l11 10l9-14l3 10l6-16l9-10l8-5l6 3l4 17l-1 20M1261 168l4-9l0-3l6 8l7-2l1-9l2 3l6 7l5-7l1-6l3 8l7 1l3-9l0 1l7 7l5-6l-3-8l5 5l8 1l0-10l-1-2l8 6l6-5l-2-9l3 3l8 3M1261 170l3-9l1-4l5 8l7-1l1-10l2 2l7 7l6-6l1-6l3 7l7 2l4-9l0 0l8 6l4-6l-2-8l4 4l8 3l1-10l-1-3l8 5l6-3l-2-9l2 1M1231 130l5-6l6 2l5 2l-1 7l8 1l-2 5l-1 5l-9 1l9-1l4 7l7-3l6 1l1-8l5 0l3 4l-5 5l5 6l-4 4l-5 4l-8-4l-7 6l-2-8l-7 0l-2-7l-6-1l-2-6l-7 0M1240 144l3-7l7 3l4-7l3 7l7 0l0 6l1 6l-7 3l0 6l3 6M1233 136l6-5l5 5l7-5l2 8l7 0l0 8l8 2l-8 2l0 8l-8 1l0 4l5 4l5-6l7 4M1235 141l5-7l5 3l7-1l3 8l9-2l1 6l-1 6l-8 2l-1 6l2 6l10-1M1209 77l19 23l15 1l24-7l22-2l22 5l19-4M1215 78l20 25l15-1l23-10l20 0l22 5l19-3M1271 112l9-3l2-2l-2 9l6 4l8-5l-1 3l2 10l9-3l3-5l0 9l8 5l1-11l1 0l8 5l4-6l-1-8l4 4M1264 108l8-4l3-2l-2 9l6 5l8-6l-1 3l1 9l8-2l4-5l-1 7l4 6l6-7l-1-1l8 5l4-6l-2-8l4 4l9 2M1233 177l7 4l6-1l-6 5l-1 8l10 1l1 0l-7 8l5 5l8-1l-4 3l-3 8l9 2l3-1l-6 6l2 6l9 1l-2 2l-5 7l7 5l6-1l-6 5l-1 8M1235 177l10 2l2 0l-7 6l4 6l9 0l-3 2l-5 8l9 3l5 0l-7 6l1 7l9 1l0 1l-7 8l7 4l7-1l-6 4l-2 8l10 1l2 0l-7 6l3 6M1236 177l8 3l5-1l-6 5l0 7l10 1l-1 1l-6 7l6 5l8-1l-6 4l-2 7l9 2l2 0l-7 6l4 6l9 0l-3 3l-5 8l9 3l5 0l-7 5l1 8M1300 200l9-5l2-2l-1 10l7 3l7-7l0 4l0 9l8-1l5-3l-3 7l3 6l10-1l-2 3l-10 0l-1 8l6 6l-6-2l-8 3l4 9M1296 200l9-3l3-4l-1 9l6 5l7-6l1 2l-1 9l8 0l5-4l-3 7l3 7l9-1l-1 3l-9-1l-2 7l6 7l-5-1l-9 2l4 8M1253 183l9 0l5-3l-4 8l3 7l10-3l1 1l-5 8l6 5l8-1l-5 4l-3 8l10 2l3 0l-6 7l3 7l10-1l-2 2l-4 9M1218 288l1-8l7-2l5-3l4 6l5-2l5-5l-2-9l4 8l8 2l1 7l6 1l5-2l2-8l3 8l7 0l0 8l5 0l7-1l-1-8l6-1l5 0l1 7l6 1l5-1l1-8l6-1l6-2l5 8l0-9l7-2l0-7M1236 255l6-5l6 3l6-5l2 7l7 1l1 7l6 0l6 2l3-7l6 1l5 0l1 7l7 0l3 8l1-9l7-3l1-9l8 5l6-6l6 5M1276 229l8-1l5-3l-3 7l3 7l9-4l0 0l-2 10l8 1l6-5l-2 5l2 8l9-4l2-2l-2 9l6 4l8-6l0 3l1 10l9-2M1222 266l0-7l8 0l2-8l4 8l8 0l5 7l2-9l8-3l-1-8" stroke="#d8b0a0" stroke-width="1.2" stroke-opacity="0.9"/>
<path d="M1150 42l6-5l6 3l6 2l-2 7l7 4l-8-1l-1 5l0 4l7 0l4 7l-2-8l7-4l-1-8l4 9l7 1l3-4l-3-7M1195 50l8-16l16 1l4 13l4-6l4 6l11-15l5 11l7 4l8 8l9-8l6 8l5-13l6-10l6 2l3-2l13-12l5 11l10-6l4 9l7 6M1332 87l9 3l5 0l-6 6l1 7l10 2l-1 1l-7 7l5 6l5 4l-6 0l-8 4l6 8M1234 137l6-7l7 5l7-1l1 7l0 6l-9 3l8 0l3 7l5-2l7-2l0-8l5-1l3 3l-5 6l5 7l-8 0l-3 6l-5-2l-6 2l-3-6l-6 1l-2-7l-9 0l-4-8M1211 76l18 26l16-1l23-9l24 1l22 3l16-2M1268 173l13 15l-1 8l13 5l-5 9l18 4l-4 11l17 3l-4 11l15 4M1220 287l7-8l7 4l7-3l6-1l1-8l3 8l7-1l1 7l5 0l6-1l0-8l5 0l6 2l-3 8l6 2l6 1l2-8l7 2l6 0l2 8l6 0l5-3l-1-8l7 3l6-4l7 4l-2-8l6-3M1218 260l3-7l7 3l4-7l3 8l7-2l2 6l5 0l6-2l-1-8l8-2" stroke="#d06058" stroke-width="1.5" stroke-opacity="0.9"/>
<path d="M1156 42l8-8l2 7l7 3l-7 5l0 7l-7 5l7-4l6 5l4-8l7 1l8-1l3-6l-4-7M1202 50l4 16l7 6l13 3l0 17l11 6l7 3l10-10l11 0l9-8l14-3l14-5l9-3l9-5l7-6l12-7M1205 45l2 20l9 7l12 0l2 17l14 7l7 3l6-10l12 0l12-5l13-9l12-5l10 0l9-8l8-4l10-9M1273 124l8-7l9 8l6-12l6 9l7-16l7-9l9-8l6 7l2 19l-1 17M1275 122l5-7l10 10l6-13l6 9l7-16l7-8l8-7l8 4l0 20l2 18M1262 167l4-9l0-4l6 7l7 0l2-10l1 2l7 7l6-6l0-6l4 6l7 3l4-9l0-1l7 6l5-5l-2-8l4 3l8 3l1-9l-1-4l7 5l6-3l-2-9l2 1M1233 132l4-6l7 2l5 1l1 7l9 0l-7 6l4 6l-6 6l8-2l6 5l3-7l7 1l2-7l5 1l3 4l-5 5l4 7l-8-1l-4 7l-8-3l-4 7l-6-2l-5-2l3-7l-7-3l-1-7l-8 0l-2-7M1267 108l8 0l5-4l-2 7l4 7l8-4l1 0l0 10l7-1l5-6l-1 5l4 8l7-6l-2-4l7 6l6-4l-2-9l2 2l9 4M1298 201l8-1l5-5l-2 8l5 6l8-5l2 0l-2 10l7 2l7-6l-2 5l1 9l8-1l2 4l-9-2l-4 6l6 8l-3 0l-10 1l2 8M1294 201l9-2l4-5l-1 8l4 7l9-6l1 0l-1 10l6 2l7-5l-2 5l1 8l8 0l2 3l-9-1l-5 5l6 8l-2 0l-10 0l1 9M1252 178l9 1l5-2l-5 7l4 7l9-3l0 2l-5 9l7 4l7-1l-5 4l-2 8l10 1l2 0l-6 8l5 6l9-1l-3 3l-4 9" stroke="#d89090" stroke-width="1.5" stroke-opacity="0.9"/>
<path d="M1160 41l3-6l7 1l3 0l-5 6l3 7l-6 8l11 2l6 1l4-6l7 2l0-3l8-2M1259 164l6-7l0-6l4 6l8 2l3-10l1 0l6 8l6-4l2-8l2 5l7 5l4-8l0-3l6 6l7-3l-2-9l2 2l9 4l3-8l-2-6l6 5l7-1l-1-9l1-1M1233 179l7 3l6 0l-6 4l-1 8l10 1l1 0l-6 7l4 6l9-1l-5 3l-3 8l8 2l4-1l-7 6l2 7l10 0l-2 2l-6 8l7 4l7 0l-6 5l-1 7M1270 171l13 11l-2 10l15 2l-6 15l18-2l-5 13l19 2l-5 13l17 5M1227 282l-1-9l6-4l5 0l3 7l8-1l5 7l0-10l6-2l7-2l4 7l6 0l6-2l3-8l3 8l7 1l0 7l6 0l6 0l-1-8l7-1l5-4l6 4M1238 263l6-5l7 3l6-6l3 7l7 1l3 9l5-7l7 2l5-6l6 7l7-1l7 1l3-8l7 1l6-4l6 5l7-4" stroke="#d06058" stroke-width="1.2" stroke-opacity="0.9"/>
<path d="M1158 36l5-6l6 2l6 2l-3 8l7 4l-9 2l-1 5l3 9l5-8l8 2l5-6l5 7l-3-9l6-6M1196 50l11-18l12 1l3 10l7-5l5 8l13-14l1 8l8 5l7 9l9-8l4 7l6-12l6-8l7 0l5-6l10-11l7 17l7-9l5 8l8 8M1259 163l3-8l1-4l6 8l7-2l1-10l2 3l7 7l5-7l1-6l4 8l7 2l4-9l0 0l8 6l4-6l-2-8l4 4l8 2l1-10l-1-3l7 6l6-4l-2-9l2 2M1225 132l7-6l8 4l6-2l3 5l9 0l-8 4l1 8l-8 4l9-1l4 7l6-2l6-2l-1-7l3-2l4 5l-4 7l6 8l-10-2l-5 5l-7-3l-7 0l-3-8l-7-1l-1-8l-7-2l0-7M1235 140l7-3l7 5l7-1l3 7l9 1l-9 4l-2 6l3 6l9 0M1282 53l9 0l4-1l-6 7l4 6l9-2l-1 2l-3 9l8 2l6-2l-6 5l0 8l10-1l1 1l-6 7l5 5l8-2l-4 4M1233 177l9 2l4 0l-7 6l2 7l10 0l-2 1l-5 8l6 4l7-1l-6 4l-2 8l10 1l1 0l-7 7l5 6l8-1l-4 3l-3 9l9 2l4-1l-7 7l3 7M1223 283l0-8l9-1l1-10l7 8l8-3l6 7l2-9l6-1l5 0l0 8l7 1l2 8l3-9l8 0l3-9l2 8l7 1l1 7l5 0l5-2l-2-7l6-2l6-4l5 6M1222 262l2-9l7-1l7-1l3 8l6-1l6 0l-1-7l8-1M1221 264l0-8l7 0l5-3l3 7l7-3l3 6l5-1l6-4l-1-8l8-4" stroke="#d89090" stroke-width="1.8" stroke-opacity="0.9"/>
<path d="M1160 47l6-6l7 2l5 0l1 7l7 1l0 5l-3 5l-11 0l10 1l6-1l1-7l8-1M1258 42l4-20l4-15l6-3l7 8l6 10l4 8M1209 87l8 3l6-2l-6 6l0 7l10 0l0 1l-5 8l7 3l7-3l-3 5l-1 8M1210 89l9 2l5-1l-6 5l1 7l9 0l0 1l-5 8l7 3l7-3l-4 5l0 8M1231 138l7-5l6 6l8-6l2 8l8-1l2 7l9 1l-9 3l-1 7l-8 4l8 0l4 6M1210 77l19 27l17-1l22-11l23 0l19 5l21-4M1271 112l8-1l5-4l-3 8l4 6l9-4l1 0l0 10l8-1l5-6l0 6l6 8l4-10l-1-3l7 6l7-4l-2-9l3 2M1268 168l16 10l-5 10l16 3l-11 12l24 3l-5 13l16 2l-4 9l12 5M1297 199l8-3l3-4l-1 9l5 4l7-6l0 2l0 9l7 0l6-4l-3 6l3 7l9-4l3 2l-9 2l-2 7l6 7l-5-1l-8 2l3 9l3 3M1251 180l9 0l5-2l-4 7l3 7l9-3l1 1l-6 8l6 4l8-1l-5 4l-2 8l9 1l3-1l-7 7l4 7l9-1l-2 3l-4 8l8 3M1253 178l8 1l6-3l-4 6l2 8l10-2l2 0l-6 8l5 6l8-1l-4 4l-3 8l8 3l5-2l-7 7l3 6l9-1l-1 2l-5 8l7 3M1228 282l2-7l7 0l7-3l5 6l7-2l7-2l4-10l3 9l8 1l2 9l5-8l6 1l6 0l1 8l9 0l3 8l-1-9l7-3l-2-8l6-2l5-4l5 6M1241 253l4-6l6 4l5-5l2 7l7 1l0 7l6-1l7 1l6-7l5 8l9-2l4 8l4-7l7 2l3-8l7 3l4-7l8 4M1278 232l9-3l2-2l-2 9l5 4l8-5l-1 4l-1 9l9-2l4-4l-2 8l4 6l8-6l0 1l0 10l7 0l7-5l-2 6l3 9l10-4" stroke="#d06058" stroke-width="1.8" stroke-opacity="0.9"/>
<path d="M1161 49l5-10l5 6l7-3l2 4l-1 4l-7-1l-2 6l-8 1l8-1l4 6l6-3l7-1l1-9M1195 48l8-14l15 2l2 11l7-10l5 8l11-13l5 10l4 5l10 7l7-8l6 7l6-12l7-10l6 3l3-4l11-10l7 12l8-9l8 10l6 7M1205 46l3 19l10 7l13 1l-2 17l14 8l7 3l10-12l12 0l9-7l14-4l11-5l11-1l11-7l7-4l10-9M1342 39l7 13l0 15l18 1l-10 13l-16 1M1259 60l3 8l5 2l-8 1l-4 5l7 7l0 1l-10 1l1 7l7 5l-6-1l-8 4l6 7l2 2l-9 0l-3 6l7 7l-3-1l-10 2l3 8l4 3l-7-1M1282 117l3-4l10 9l7-12l6 8l7-18l8-7l6-7l9 8l0 17l0 19M1259 164l5-7l0-5l5 7l7 0l2-9l2 1l6 7l6-5l1-7l3 6l7 3l4-9l0-1l7 6l5-5l-1-8l3 3l8 3l2-9l-1-5l7 5l8-3l-1-10M1333 88l9 2l4-1l-6 8l3 7l9 0l-2 2l-6 7l6 5l4 4l-7 0l-6 5l6 8M1207 88l8 2l6-1l-6 6l1 7l9-1l0 1l-4 9l7 2l7-3l-4 5l0 8M1207 85l8 4l6-1l-6 5l0 7l9 1l1 0l-5 8l7 4l7-4l-3 4l-1 9M1243 135l8-5l3-3l-1 10l7 3l7-7l0 3l1 9l8-2l5-4l-2 7l5 7l7-7l0-1l5 9l7-3l2-8l2 5l7 5M1232 176l8 3l5-1l-7 5l1 7l10 1l-1 1l-6 7l6 5l7-1l-5 4l-3 7l9 2l3 0l-8 6l4 6l9 0l-3 2l-5 8l8 3l5-1l-6 5l1 7l9 0M1265 172l12 12l-1 10l16 4l-6 9l19 5l-6 10l18 5l-8 11l17 1M1298 204l9-4l3-3l-1 10l6 4l7-6l0 2l0 10l8-1l5-4l-2 7l3 7l9-2l-1 3l-10 0l-1 7l5 7l-5-1l-8 2l3 9M1230 290l-2-8l7-5l0-9l4 8l8 0l4 7l1-9l7-3l1-9l3 8l8 1l0 7l7 1l6 0l2-7l6 1l6 0l0 7l5 0l6 1l2-8l7 1l5-5l7 4" stroke="#b83a36" stroke-width="1.5" stroke-opacity="0.9"/>
<path d="M1162 53l4-11l5 8l9 0l-9 6l0 7l3 5l7-2l6 5l-1-11M1259 44l3-22l7-13l5-1l4 8l9 10l4 8M1207 49l1 16l11 8l13 1l-1 17l12 8l7 3l12-11l9-1l10-6l14-6l13-4l9-2l10-6l7-5l11-7M1342 37l5 12l1 15l17 3l-8 12l-17 2M1258 168l5-8l0-5l5 7l7 0l2-9l2 0l6 8l6-5l2-7l2 6l7 4l5-9l0-2l6 6l6-4l-2-9l3 3l8 4l2-9l-1-5l6 5l7-1l-1-10l1 0M1230 178l10 2l2 0l-7 7l4 6l9 0l-4 2l-4 8l8 4l5-1l-6 6l0 7l10 1l0 1l-7 8l7 5l7-2l-5 4l-2 8l9 1l2 0l-6 7l3 6M1250 179l8 1l5-3l-4 6l2 7l9-3l1 0l-4 8l5 5l9 0l-4 3l-4 8l9 3l4 0l-6 6l3 7l9-1l-1 2l-5 9l8 4M1218 266l2-8l8 2l5-8l5 8l7 1l6 0l0-8l8-1" stroke="#9a2e2e" stroke-width="1.8" stroke-opacity="0.9"/>
<path d="M1196 51l9-15l13 0l5 11l7-4l6 6l10-15l3 11l7 4l7 8l7-8l8 7l5-11l8-11l5 4l4-6l12-12l7 16l7-8l7 7l6 9M1191 46l13-17l11 5l4 8l7-4l4 7l11-15l3 10l6 5l9 7l8-9l7 8l6-12l5-8l4 1l7-4l13-15l4 16l8-8l6 9l9 9M1256 45l5-22l3-15l6 0l6 8l8 11l2 6M1351 53l14 0l-4 11l8 8l-16 5M1206 87l9 2l5-2l-7 7l2 6l10-1l-2 2l-3 9l8 3l7-3l-4 6M1211 77l20 22l18 2l23-9l19 1l24 3l17-3M1244 133l8-4l3-4l0 9l6 3l7-7l0 2l1 10l8-1l5-5l-1 7l4 7l8-5l0-2l5 8l7-2l2-8l2 4l6 6M1211 170l8 3l6-2l-5 6l0 7l10 0l1 1l-6 7l5 5l9-1l-4 4l-3 8l9 1l4 0l-6 6l2 7l10-1l-2 2l-5 8l8 4l6-2l-5 6M1300 200l8-5l2-1l0 9l7 3l6-6l0 4l0 9l9-2l4-3l-3 8l4 6l10-2l-3 3l-10 0l0 8l5 5l-6-1l-8 3l4 8M1240 253l7-5l6 6l7-4l2 9l8 0l5 4l4-6l6 3l6-3l4 6l7-3l5 7l2-8l7 0l6-3l7 6" stroke="#a8922e" stroke-width="1.8" stroke-opacity="0.9"/>
<path d="M1196 45l9-15l15 1l5 11l6-4l5 6l12-15l4 10l5 4l8 9l7-8l7 8l5-13l6-11l6 3l5-6l11-10l7 14l7-8l7 8l6 11M1258 44l5-20l2-16l7 0l6 7l5 11l5 7M1206 48l3 18l10 6l12 0l0 18l12 7l8 5l10-14l11 1l9-5l16-9l11-2l11-3l8-4l8-9l9-7M1340 38l4 13l7 14l15 2l-11 11l-15 4M1337 40l5 13l2 12l16 4l-10 12l-13 3M1349 59l17-4l-11 10l14 10l-19 2M1350 57l20-5l-13 14l11 7l-12 3M1280 117l5-4l8 8l9-14l6 12l5-17l7-6l7-11l8 5l0 19l2 18M1258 169l4-9l0-2l6 7l7-2l1-9l2 3l7 6l5-6l1-6l4 8l7 1l3-9l1 1l8 5l4-6l-2-8l5 5l8 1l0-10l-1-2l8 5l5-4l-2-9l3 2M1336 86l7 4l7-1l-6 6l0 8l9 1l1 1l-7 7l4 6l6 4l-6 0l-8 4l5 9M1332 85l9 3l4-1l-6 7l3 7l9 1l-2 2l-7 7l6 5l5 4l-8 0l-6 5l6 8M1332 86l9 2l5 0l-7 7l3 7l9 1l-2 2l-6 7l6 5l5 4l-8 0l-6 5l6 8M1207 87l7 3l6-1l-5 5l-1 7l10 1l0-1l-4 9l6 3l8-3l-3 4l-1 8M1208 87l9 2l4-1l-7 7l3 6l9-1l-2 2l-3 9l8 1l5-3l-4 7l2 7M1233 133l6-8l4 8l8 0l2 7l1 6l-7 2l1 5l5 4l6-5l7 2l3-8l5 1l3 6l-6 6l4 9l-8-6l-7 3l-5-7l-8 2l-4-8l-8 0l-3-8M1284 54l9 0l3-1l-5 7l4 6l9-2l-2 2l-3 9l8 2l6-3l-6 6l1 8l9-1l1 1l-6 8l6 4l8-2l-4 4M1281 57l9 0l3-1l-5 8l4 5l9-2l-2 3l-3 8l8 2l6-2l-6 6l1 7l10 0l0 0l-6 8l6 5l8-2l-5 4M1282 56l8 2l6-3l-5 6l1 8l10-2l1 1l-5 8l6 4l8-3l-4 5l-2 8l9 1l3-1l-6 7l3 6l10-1l-2 2M1246 132l8-5l3-3l-1 9l7 4l7-7l0 2l0 10l8-2l5-5l-2 8l4 6l8-5l-1-1l4 9l7-3l1-9l2 5l7 6l5-8M1210 171l9 1l3-1l-6 7l4 6l9-1l-2 2l-5 9l9 3l5-1l-6 5l1 8l10 0l0 1l-6 8l7 4l7-2l-4 4l-2 8l10 1l3-1l-6 8M1265 173l15 11l-7 11l21 5l-9 10l16-1l-5 12l20 5l-5 13l15 1M1271 173l16 9l-6 9l16 4l-4 14l15 0l-7 11l25 5l-10 11l19 3M1249 182l8 1l5-3l-4 6l2 7l9-3l1 0l-4 9l5 4l8-1l-4 4l-3 8l9 2l4-1l-6 7l3 7l9-1l-1 2l-5 9l8 3M1216 290l1-7l8 1l2-9l6 7l7-1l4-4l-2-9l4 8l8 0l1 8l6-1l6-1l3-9l2 9l7 1l0 8l6 1l5-2l-2-8l5-1l7 0l1 8l6 0l6-2l1-10l7 5l5-4l8-3l0-9M1241 254l7-4l6 6l7-3l4 7l6-2l6 3l4-7l5 5l6-2l4 6l6-3l5 6l4-7l7 1l5-5l6 3M1221 263l3-8l8 1l5-7l4 7l6-2l5 7l1-9l8 0l1-8M1215 261l5-8l7 1l6-2l5 5l7-2l6 6l0-9l7-3" stroke="#e2b4b0" stroke-width="1.2" stroke-opacity="0.9"/>
<path d="M1259 45l4-21l2-13l6-2l7 9l5 10l5 4M1337 42l7 10l4 14l16 4l-12 9l-12 5M1235 143l5-5l6 3l7-1l4 8l8 1l-9 4l-1 7l3 6l9 1M1212 74l20 27l16-1l22-11l20 1l22 5l18-4M1273 110l9-2l4-3l-2 8l4 6l9-5l0 1l0 10l8-1l4-6l-1 6l4 7l6-6l-1-3l7 6l6-5l-2-9l3 3l9 3M1251 180l10-2l2 0l-4 8l5 5l9-3l-2 3l-4 9l9 3l5-1l-6 6l1 7l9 0l0 1l-5 8l6 4l8-2l-5 4l-1 8l9 0M1253 183l9-1l4-2l-3 8l4 7l9-4l0 2l-5 8l7 4l6-1l-5 4l-2 7l10 1l1 0l-6 8l5 5l9-1l-3 3l-4 9l9 2M1216 265l5-7l8 2l6-3l5 5l6-3l6 0l3-7l8 0" stroke="#d89090" stroke-width="1.2" stroke-opacity="0.9"/>
<path d="M1256 43l4-22l6-12l6-5l6 10l5 10l2 6M1339 41l6 13l3 11l17 6l-12 9l-11 5M1275 115l9-5l7 9l10-13l5 8l6-16l9-7l5-9l6 7l4 17l-1 17M1278 53l9 1l4-2l-5 8l3 6l10-2l-2 2l-3 9l8 2l6-2l-5 6l0 8l10 0l1 0l-6 8l6 6l8-2M1246 137l8-3l4-5l-1 8l6 5l7-7l1 0l0 10l7 1l7-5l-2 5l3 8l9-4l0-4l4 8l7 0l3-9l2 3l6 7M1234 177l8 3l6-1l-6 5l0 8l10 0l0 1l-7 7l6 5l8 0l-5 4l-3 8l9 2l3 0l-7 7l3 6l9 0l-2 2l-5 8l7 3l6-1l-7 5l0 7M1278 230l8-2l4-3l-3 8l4 6l8-5l0 1l-1 10l7 0l6-5l-2 6l3 8l8-4l2-2l-2 10l7 2l7-5l0 4l2 9l9-2" stroke="#b83a36" stroke-width="1.8" stroke-opacity="0.9"/>
<path d="M1257 44l4-23l4-13l4-1l8 7l5 11l7 8M1262 61l5 8l3 2l-9 0l-3 6l7 7l-2 0l-9 2l2 8l6 4l-7 0l-6 5l6 8l1 1l-10 0l-1 7l6 7l-5-1l-9 2l4 8l3 3M1260 61l6 7l3 3l-9 0l-3 7l7 6l-2 0l-9 3l2 8l6 3l-8 0l-6 5l7 8l0 1l-10 0l-1 7l6 6l-5-1l-8 2l4 9l3 2M1278 121l5-5l10 9l6-12l5 9l7-17l10-8l5-9l7 9l1 16l3 18M1209 87l8 3l5-2l-6 6l0 7l10 0l0 0l-5 9l7 3l7-3l-3 5l-1 8M1228 132l8-5l7 5l8 0l3 6l3 5l-5 5l3 4l7 6l4-7l8 1l5-7l-4 8l3 9l-8-3l-5 6l-6-3l-6 1l0-8l-8 0l-2-7l-8 0l-2-8M1211 75l20 29l16-3l25-13l19 4l24 3l17 0M1245 137l8-4l3-4l0 9l6 4l7-7l1 1l0 10l8 0l5-5l-1 7l4 7l8-5l0-3l4 9l7-2l3-9l1 5l7 6M1245 131l8-5l2-3l0 10l7 2l6-7l0 3l2 10l8-2l5-5l-2 8l5 6l7-6l0 0l5 8l7-4l2-8l2 6l6 5M1270 110l9-3l3-2l-2 10l6 4l7-5l-1 3l3 9l8-3l4-4l-1 8l8 5l2-10l0 0l9 5l4-6l-2-8l4 5M1202 169l9 2l5-2l-6 7l2 7l10-2l0 2l-5 8l6 4l7-1l-5 4l-1 8l9 1l3 0l-6 8l4 5l9-1l-3 2l-4 9l9 2l5-1l-6 6M1209 168l10 0l3 0l-6 7l4 6l9-2l-2 3l-5 8l8 3l6-1l-6 6l0 7l10 0l0 1l-6 8l7 4l7-2l-4 5l-2 8l10 1l3-1l-6 8M1269 171l15 10l-3 10l16 4l-6 11l18 2l-7 10l20 7l-8 10l18 3M1297 200l8-2l4-4l-1 8l5 6l8-6l1 1l-1 9l7 2l6-5l-2 5l1 8l9-1l1 4l-10-1l-3 6l5 7l-2 0l-10 1l2 8M1254 180l9 1l5-2l-4 7l3 7l9-3l2 1l-6 9l6 5l8-1l-4 4l-3 8l10 2l3-1l-6 7l3 6l9-1l-2 1l-5 9l8 3M1223 293l1-9l7-1l6-2l6 7l0-10l6-3l6 2l1 8l6 1l5-3l1-9l3 9l8 0l1 8l6 0l7 0l5-9l2 9l7 2l5 0l1-8l6-1l5-4l6 4l0-8l7-2l-1-7M1226 287l-3-8l7-4l-1-9l4 8l7-1l2 7l5-1l6 0l2-7l6 0l6 0l3 7l7-1l5 0l2-7l5 0l6 0l0 7l7 1l3 8l0-8l5-4l0-8l8 6l8-3M1225 288l1-7l8 1l0-8l6 1l8-1l6 7l1-8l5-2l6-1l2 7l7-2l2 7l5-2l8 0l4-9l2 10l6 1l8-1l4-9l11 5M1230 283l1-9l6-1l6-2l2 7l6-1l7-1l0-8l6-1l6 3l-1 8l6 1l6 0l2-7l6-1l6 1l0 8l8 2l1 9l1-8l7-3l-1-7l5-2l6-4l5 5M1238 259l5-5l7 3l6-5l2 8l8 0l2 8l5-6l6 3l6-5l4 5l6-2l6 5l3-8l9 1l3-9l4 8l7-1l2 7M1272 232l8-1l5-4l-2 8l3 7l9-4l1 0l-1 10l7 1l6-5l-1 5l2 9l8-4l3-2l-2 9l7 4l7-6l0 3l2 10M1282 230l8-2l3-3l-2 8l4 5l8-5l0 2l-1 10l7 0l5-5l-2 7l4 7l8-5l1-1l-1 10l7 2l6-6l-1 5l1 8l9-3l3-3" stroke="#e8c8c0" stroke-width="1.2" stroke-opacity="0.9"/>
<path d="M1256 43l3-20l5-15l4-2l9 9l5 11l3 7M1340 40l5 11l2 16l17 2l-13 8l-14 4M1354 62l20-7l-15 19l14 5l-18 1M1263 165l4-8l0-4l5 7l8 0l1-10l2 1l6 8l6-6l1-7l3 7l7 3l4-9l0 0l8 6l5-5l-2-9l3 4l9 2l1-9l-2-4l8 5l6-2l-2-10l2 1M1334 85l9 2l3 0l-6 7l3 6l9 1l-3 2l-6 7l7 6l4 3l-9 0l-5 6l7 7M1233 142l6-5l7 5l8-6l2 9l8 1l0 5l-2 6l-9 2l8 4l2 8M1283 58l9 1l5-2l-6 7l3 7l9-2l0 1l-4 9l7 3l7-2l-5 5l-1 7l10 1l1 0l-6 7l4 5l9-1l-3 2M1207 170l9 3l5-2l-6 6l2 7l10 0l-1 1l-5 8l7 4l7-1l-4 4l-2 8l10 1l2 0l-6 7l4 6l9-1l-3 2l-4 9l8 2l5-1l-6 6M1299 202l8-2l4-5l-2 8l4 6l8-6l1 0l-1 9l7 2l6-5l-2 5l1 8l9-3l5 0l-9 3l-3 6l6 7l-3 0l-10 1l2 9l5 4M1254 181l9 0l5-2l-4 7l4 7l9-3l1 1l-5 9l6 5l7-1l-5 4l-2 8l10 2l2-1l-6 7l4 6l9-1l-3 2l-4 8l8 3" stroke="#9a2e2e" stroke-width="1.5" stroke-opacity="0.9"/>
<path d="M1204 46l3 21l9 4l10-2l2 19l12 7l7 5l11-12l9 0l13-7l12-4l12-5l13-1l7-7l8-6l11-8M1356 56l14-5l-9 13l14 9l-18 1M1209 88l7 4l7-1l-6 5l0 7l9 0l1 0l-5 9l6 3l8-3l-3 4l-1 9M1227 130l4-7l7 3l5-7l1 8l7 2l0 7l7 5l-13 1l8 2l3 6l5-1l7 1l2-8l6 1l3 4l-4 6l5 8l-8-1l-4 5l-6-2l-5 6l-1-9l-8-1l-1-9l-9 3l-6-7M1278 55l9 0l4-1l-5 8l3 6l10-2l-2 2l-3 9l8 2l6-2l-5 5l-1 8l10 0l1 0l-6 8l5 5l9-2l-4 4M1268 109l9-3l2-2l-2 10l7 3l7-5l-1 4l2 9l8-4l3-4l-1 9l5 4l5-7l-1 0l9 5l4-7l-2-7l4 4l9 1M1221 291l-1-9l7-2l5-4l5 5l5-2l4-2l5-2l2 8l7-2l4 8l1-10l7-2l4 0l0 8l7 1l1 8l3-7l6-1l3-8l2 9l7 1l0 7l5 1l5-3l-2-8l5-3l6-3l7 8l0-10l7-3l-1-8M1228 282l-2-8l6-1l6-3l6 6l6-4l7-2l2-9l4 7l7 0l0 8l6-2l6 2l2-7l5 0l7 0l-1 8l8 1l3 8l0-9l7-3l-2-8l5-2l6 0l4 7M1276 228l8 0l5-4l-3 6l3 8l9-4l1-1l-2 9l6 3l7-6l-1 5l1 9l9-3l3-3l-2 8l5 5l8-6l0 2l1 10l8-1M1279 228l9-2l3-2l-2 8l5 5l8-4l0 2l-1 10l8-1l5-4l-2 7l3 7l9-5l1 0l-1 9l7 2l6-7l-1 5l2 9l8-4" stroke="#c8463f" stroke-width="1.2" stroke-opacity="0.9"/>
<path d="M1208 46l1 18l8 7l13 0l-1 17l13 7l8 3l11-9l8-3l10-3l15-8l12-3l11-2l11-7l8-5l8-10M1235 141l5-5l8 3l7-6l0 9l7 2l-2 7l2 6l-7 3l2 5l4 5l9-2M1245 137l8-3l3-5l0 8l5 5l7-6l1 0l0 10l8 1l6-6l-1 6l3 8l8-4l0-4l5 8l7 0l3-10l1 3l6 7M1270 110l9-3l2-1l-2 9l6 3l8-5l-2 4l3 9l8-3l4-4l0 8l8 5l1-11l1 0l8 5l4-7l-2-7l5 5M1202 169l9 1l4 0l-7 7l4 6l9-2l-2 3l-5 8l8 3l6-1l-6 5l1 8l10 0l0 0l-6 9l6 4l8-2l-4 5l-2 8l10 1l3-1l-6 8M1246 257l7-5l6 4l5 4l-2 7l6 4l5 1l2-8l7 1l7-3l4 7l8-3l6 7l0-9l6-1l5-4l6 5l6-3l5 5M1215 262l2-6l7 1l4-8l5 8l9-3l5 8l1-9l7-3l0-7M1217 261l3-7l8 1l5-7l3 7l7 0l3 8l4-8l6 0l2-7l7 0" stroke="#c8463f" stroke-width="1.8" stroke-opacity="0.9"/>
<path d="M1341 38l5 11l2 14l16 5l-9 11l-15 2M1352 57l14-2l-12 12l18 11l-22-3M1278 120l8-2l8 8l6-11l6 6l6-15l7-9l6-8l10 7l1 19l0 16M1335 86l9 1l3-1l-6 7l3 6l9-1l-2 3l-7 7l7 5l7 2l-9 1l-5 6l6 7l0 1M1233 144l5-7l7 3l6-2l2 8l7-1l2 7l8 1l-9 0l-3 7l-8 0l9 4l1 8M1286 59l9 0l4-1l-5 8l3 6l9-3l-1 3l-4 8l8 2l6-1l-5 5l0 8l10-1l0 1l-6 7l6 5l8-2l-4 4M1210 170l9 2l5-2l-6 7l2 7l9-1l0 1l-5 8l6 5l7-2l-5 5l-1 8l10 1l2 0l-7 7l5 6l9-2l-4 3l-3 9l9 2l4-2l-6 7M1237 174l7 3l6-1l-6 5l-1 8l10 0l1 1l-6 7l4 5l8-1l-4 3l-4 8l9 2l4 0l-7 5l2 7l9 0l-2 1l-5 8l7 4l6-1l-6 4l-1 8l10 1M1299 198l8-2l5-5l-1 8l4 6l8-5l2 0l-2 9l7 2l7-5l-2 5l0 9l9-1l1 3l-9-1l-4 6l6 8l-2 0l-10 1l2 8M1277 227l8-3l3-2l-3 9l5 4l8-5l-1 3l-1 9l8-1l5-4l-2 8l4 6l8-5l1 0l-1 10l7 1l6-5l0 5l3 9l9-4" stroke="#c8463f" stroke-width="1.5" stroke-opacity="0.9"/>
<path d="M1260 58l5 8l4 3l-8 0l-5 6l8 7l-1 0l-10 2l1 8l6 4l-6 0l-7 5l6 8l2 2l-10-1l-2 7l6 6l-4 0l-9 1l3 9l4 3M1256 57l4 8l4 3l-8 0l-5 6l8 6l-1 1l-10 2l1 8l7 4l-7 0l-7 5l6 7l2 3l-10-1l-2 7l6 6l-3 0l-10 1l3 9l4 3M1225 134l5-8l8 3l7 0l0 8l9 3l-8 5l3 5l4 2l5-5l7 0l1-7l7-1l4-7l-4 7l5 6l-5 6l5 6l-5 4l-3 5l-7-3l-4 6l-6-4l-6 1l-1-7l-7 0l-1-7l-8-1l-3-8M1219 289l2-10l9 0l7-3l8 7l1-12l5 8l9-1l5 8l0-9l6-4l5 1l0 8l7 1l2 9l5-8l7 0l5 0l1 7l5 0l6-3l-2-7l6-3l5-5l7 4l3-8l8 0M1243 259l5-6l7 4l6-7l1 9l7 2l2 8l6-6l7 3l6-6l6 7l8-3l6 2l2-7l6 1l4-6l7 4l5-5M1241 264l3-8l7 2l6-3l2 7l7-2l3 7l6-6l7 3l8-3l4 8l7-2l7 1l0-7l6 0l6-4l5 7l7-5M1244 262l6-7l8 3l7-1l3 8l7-2l6 3l5-6l4 6l7-1l4 6l5-2l6 0l1-7l6 1l6-3l3 7" stroke="#a8922e" stroke-width="1.2" stroke-opacity="0.9"/>
<path d="M1219 63l7-6l2-3l2 9l7 1l5-8l1 3l3 8l8-3l2-6l1 8l6 4l6-7l1 0l3 9l7-4l0-8l3 4l8 4l3-9l0-4l6 7l7-2l0-9l1 2l8 6l4-8l-1-6l5 6l7 1M1296 39l8 1l5-3l-3 7l2 7l10-3l1 1l-3 9l7 3l7-4l-3 5l0 8l9-2l3-1l-3 9l6 4l8-5l-1 3l0 9l8-1M1300 37l10-2l3-1l-4 9l5 5l9-4l-2 3l-2 10l9 0l5-3l-4 7l3 6l9-3l1 0l-2 10l7 2l7-5l-2 6l1 8l9-2M1275 171l8-3l3-3l-2 9l6 4l7-6l0 2l0 10l8-1l4-5l-2 7l4 7l8-5l1 0l-1 9l5 3l8-3l-3 4l-1 9l9 0l4-2M1275 172l9-3l3-3l-2 8l5 5l7-5l0 1l0 10l8-1l5-5l-2 7l3 7l9-5l1-1l-2 9l5 4l9-3l-3 4l-2 9l9 0l5-2" stroke="#d8b0a0" stroke-width="1.4" stroke-opacity="0.9"/>
<path d="M1216 65l7-6l2-4l2 9l7 2l5-8l1 2l3 9l8-3l2-7l1 8l6 5l6-7l1-1l3 10l8-4l0-9l2 4l8 5l4-9l0-4l5 7l7-1l0-10l2 2l7 5l5-7l-1-6l4 6l8 1M1216 61l7-6l1-4l2 9l7 2l5-8l1 2l4 9l7-3l3-7l0 8l6 5l6-7l1-1l3 9l8-3l0-9l3 4l7 5l4-8l0-5l5 7l7-1l0-9l1 1l8 5l4-7l-1-6l4 5l8 1M1337 65l6-8l2-3l4 9l4 0l6 1l-3 1l-8 4l6 7l5 2l-8 1l-3 6l6 7l0 0l-10 1l0 7l6 6l-6-1l-8 3l4 9l2 2l-9-1l-4 7l6 7M1300 43l9-2l3-1l-3 8l5 6l8-4l-1 3l-1 9l8 0l5-3l-4 7l3 7l9-3l1 0l-2 10l7 1l7-4l-2 5l2 9l9-3M1298 41l9-1l4-2l-4 8l5 6l9-3l-1 2l-2 9l8 1l6-3l-4 6l2 8l9-3l1 0l-2 9l7 3l7-6l-1 5l1 9l9-3M1241 21l8-4l2-1l-1 9l6 3l7-6l-2 4l7 6l3-8l-1-6l6 6l7 0l0-10l1 0l7 6l5-5l-1-8l4 5l7 3l2-9M1258 217l9-5l2-2l-1 10l7 3l7-6l-1 4l6 6l5-7l0-6l4 7l8 1l1-10l1-1l8 6l5-5l-1-8M1253 212l8-3l4-4l-1 8l6 5l7-6l0 2l5 8l6-5l0-8l3 6l8 3l2-10l0-2l7 6l6-3l-1-9M1253 216l8-3l4-4l-2 9l6 5l8-6l-1 2l6 8l5-6l1-7l3 6l8 3l2-10l0-2l8 6l5-4l0-9" stroke="#c8463f" stroke-width="1" stroke-opacity="0.9"/>
<path d="M1219 64l7-5l3-5l1 8l6 5l6-8l1 0l3 9l7-1l4-8l0 6l5 7l7-7l1-2l3 9l7-2l1-9l2 2l7 6l5-7l0-6l4 6l8 1l1-10l0 0l7 6l5-5l-1-8l4 5l7 3M1221 58l8-5l2-5l1 9l7 3l6-8l1 1l2 9l8-2l3-7l0 7l5 6l7-7l1-2l3 10l7-3l-1-9l3 3l7 5l3-8l0-5l5 7l7-1l0-9l1 0l7 7l5-6l-1-8l4 6l8 2l1-10M1298 40l9 1l5-3l-3 7l2 7l10-2l1 0l-3 9l6 3l7-4l-2 5l0 8l9-1l3-2l-3 8l5 5l9-5l-1 3l0 10l8-1M1233 57l22 10l21-15l22 6l18-16M1243 28l8-4l2-2l-1 9l6 3l7-5l-2 4l8 5l3-8l-2-6l6 6l7 0l0-10l1 0l8 6l4-6l0-7l3 5l8 2l2-9M1222 172l9 2l3-1l-7 6l3 6l9 0l-2 1l-5 8l7 4l5 3l-8 0l-5 6l7 7l0 1l-9 2l0 7l8 4l-6 1l-7 4l6 7l3 2l-9 1M1254 216l8-1l5-5l-1 7l4 7l8-5l0-1l5 9l6-4l1-9l2 5l9 5l2-10l0-4l7 6l6-2l0-10" stroke="#d8b0a0" stroke-width="1" stroke-opacity="0.9"/>
<path d="M1219 63l7-7l2-3l2 9l6 2l5-8l1 2l3 9l8-3l3-6l0 7l6 5l6-7l1-1l4 10l7-4l0-9l3 5l8 4l3-9l0-4l6 7l7-2l0-9l1 1l8 6l4-7l-2-7l5 6l8 1M1232 57l22 8l21-11l20 2l19-17M1239 24l9-2l4-4l-2 8l4 6l8-5l-1 1l6 7l5-7l-2-7l5 4l8 2l1-10l-1-2l7 7l6-3l0-9l2 3l7 5l4-8M1277 174l9-3l3-3l-2 8l5 5l8-6l-1 2l0 10l8-1l5-5l-2 7l3 7l9-5l1 0l-2 9l6 3l8-3l-3 4l-1 9l9 0l4-2M1253 212l8-2l4-4l-2 7l4 6l8-5l1-1l1 11l8-4l0-8l3 5l7 4l4-8l-1-4l7 6l6-3l0-9l2 2M1255 213l8-4l3-3l-1 9l6 4l7-6l-1 3l7 7l5-6l1-7l3 7l8 2l1-10l1-1l8 6l5-6l-1-8" stroke="#e2b4b0" stroke-width="1.4" stroke-opacity="0.9"/>
<path d="M1335 67l6-8l1-3l2 9l7 1l7-6l-3 4l-8 4l4 7l6 2l-7 1l-5 7l8 5l0 2l-10 0l0 8l6 5l-6 0l-8 3l4 8l3 3l-9-1l-4 5l5 8l-2 0M1337 63l5-8l1-2l3 9l7-1l6-6l-3 4l-7 5l5 7l5 1l-8 2l-3 7l8 5l-1 1l-10 1l1 8l5 5l-6-1l-7 3l4 8l2 2l-9-2l-3 7l6 6l-4-1l-9 1M1192 56l8 4l5 0l-7 5l0 7l9 2l-1 1l-7 7l7 5l7-3l-4 5l1 8l9-2l3 0l-6 8l4 6l9 0l-3 3M1193 57l9 3l3 0l-7 6l2 6l9 1l-3 2l-6 7l8 5l6-3l-5 6l2 7l9-2l1 1l-5 8l6 6l8-1l-4 4M1195 58l9 3l3 0l-7 6l2 6l9 1l-3 2l-6 7l8 5l5-3l-4 6l2 7l9-3l1 1l-5 9l6 5l8-1l-4 5M1237 53l19 6l18-10l23 3l20-17M1242 25l8-3l3-3l-2 9l6 4l7-6l-2 3l7 6l4-7l-1-6l4 5l8 1l1-10l0-1l7 6l5-4l0-8l3 4l7 4l3-9M1222 173l9 2l3 0l-6 6l2 7l10-1l-2 2l-5 8l6 4l5 3l-7 0l-6 5l7 7l1 1l-10 2l1 7l7 4l-5 1l-7 4l6 7l4 2l-9 1M1217 173l9 1l3 0l-6 7l3 6l9-1l-2 2l-4 8l7 4l4 2l-8 1l-5 6l8 6l-1 1l-9 2l1 8l7 3l-6 1l-6 5l7 7l2 1l-9 2M1221 174l9 2l4 0l-6 6l1 6l10 0l-2 2l-5 7l6 4l5 3l-7 1l-6 5l7 7l1 1l-10 2l1 7l7 4l-5 1l-7 4l6 7l4 2l-9 1" stroke="#c8463f" stroke-width="1.4" stroke-opacity="0.9"/>
<path d="M1339 66l6-6l2-5l2 8l7 2l6-6l-1 4l-9 4l4 6l7 3l-7 1l-5 5l7 6l1 2l-9 0l-2 7l6 7l-4-1l-9 2l3 9l4 4l-9-2l-5 5l5 9l-1 0M1337 62l5-8l1-3l3 9l7 0l7-6l-3 4l-8 5l5 7l6 1l-8 2l-4 6l8 6l-1 1l-9 1l0 7l6 6l-6-1l-8 3l4 8l2 3l-9-1l-4 6l6 8l-3-1M1195 55l8 4l4 0l-8 5l1 7l10 2l-3 1l-6 7l7 5l6-3l-4 7l2 7l10-3l1 1l-6 8l6 4l8-1l-5 3l-2 8M1235 54l19 9l21-16l22 6l17-17M1222 172l7 3l7-1l-6 5l0 7l9 0l1 1l-6 7l4 4l7 4l-6 0l-7 4l5 8l4 2l-10 1l-2 6l8 6l-3 0l-8 4l4 7l6 3l-8 0M1222 174l7 3l7-2l-6 6l0 7l10 0l1 1l-6 7l4 4l6 4l-5 0l-8 4l5 8l4 2l-9 1l-3 6l8 6l-2 0l-9 4l3 7l6 3l-7 1M1256 216l8-3l4-3l-2 8l6 5l8-6l-1 2l6 8l5-6l0-7l3 6l8 3l2-10l0-2l8 6l6-4l-1-9" stroke="#e2b4b0" stroke-width="1" stroke-opacity="0.9"/>
<path d="M1338 65l7-6l1-5l4 8l4 2l6 1l-1 0l-9 4l4 7l7 2l-7 1l-5 5l5 7l1 2l-9 0l-2 7l6 7l-4-1l-9 1l3 9l4 3l-9-2l-5 5l6 8l-1 0M1194 55l9 3l3 0l-7 5l1 7l9 1l-2 2l-6 7l7 5l6-3l-4 6l1 7l10-2l2 0l-6 9l5 5l9 0l-4 4M1191 56l7 5l6 0l-7 4l-1 7l9 2l1 1l-8 6l6 6l7-3l-3 5l0 8l9-1l3-1l-6 8l4 7l9-1l-2 3M1296 36l9 1l5-3l-3 7l3 7l9-3l1 1l-3 9l7 3l7-4l-3 5l0 8l9-2l3-1l-3 9l6 4l8-5l-1 3l0 9l8-1M1244 27l9-5l2-1l-2 9l6 3l8-6l-2 4l7 6l3-8l-1-6l5 6l8 0l0-10l1 0l7 6l5-6l-1-7l3 5l8 2l2-9M1219 168l8 3l5-1l-6 5l0 7l10 0l0 1l-6 7l5 4l6 4l-6 0l-7 5l6 7l3 2l-9 2l-2 7l8 5l-3 0l-9 3l5 8l5 2l-8 1M1219 174l8 4l6-2l-6 5l-1 8l10 0l1 0l-6 8l4 4l6 4l-5 0l-8 4l6 8l3 2l-9 1l-3 6l9 6l-3 0l-9 4l5 7l5 2l-7 1M1277 171l9-3l3-3l-2 9l4 5l8-6l0 2l0 10l8-1l4-5l-1 7l3 7l8-5l1-1l-1 9l5 3l8-3l-2 4l-1 9l9 0l4-2" stroke="#e8c8c0" stroke-width="1.4" stroke-opacity="0.9"/>
<path d="M1248 135l8-6l2-2l0 9l7 2l6-7l0 3l1 10l9-2l4-4l-1 8l5 6l7-7l0 0l5 8l7-4l1-7l2 5l7 5M1234 173l8 4l6-1l-7 5l0 7l10 1l0 1l-6 7l5 5l8 0l-5 4l-2 8l9 2l3 0l-7 7l3 6l9 0l-3 2l-5 8l8 3l6-1l-7 5l1 7M1220 289l2-8l8-2l5-1l4 6l1-8l6 0l6-2l2 7l7-1l4 7l0-8l5-1l7 0l1 9l8 0l4 8l2-9l5-1l6-1l1 8l6 0l5-3l-1-7l6-3l5-4l6 5l5-5M1215 287l1-8l7-3l6-2l4 6l6-3l6-1l1-9l3 9l8 0l3 8l3-9l6 0l6 0l0 8l6 1l2 8l2-8l7-1l0-7l5 0l5 1l-1 7l6 3l1 7l1-7l6-3l-1-8l8 4l4-6l8-2l1-9M1276 230l9-2l3-3l-3 8l5 5l8-4l0 1l-2 10l8 0l5-5l-2 6l3 8l8-5l2-1l-2 9l7 2l6-5l-1 4l2 9l8-3l3-4" stroke="#9a2e2e" stroke-width="1.2" stroke-opacity="0.9"/>
<path d="M1233 56l21 8l20-11l21 1l21-16M1232 55l20 13l20-15l20 4l20-15M1241 22l9-2l4-4l-2 8l4 6l8-5l-1 1l6 7l5-6l-2-8l4 4l8 2l1-9l0-3l7 6l7-2l0-10l2 3l8 5M1279 173l8-1l4-4l-2 7l4 6l8-5l1 0l-1 10l7 1l6-6l-1 6l2 8l8-4l3-2l-2 8l4 5l9-3l-2 3l-2 9l8 1l6-2M1278 177l9-5l2-2l-2 10l7 3l7-6l-1 3l1 10l8-2l4-4l-2 7l4 6l8-5l1 1l-2 9l7 2l7-3l-3 5l0 9l9-1l3-1M1278 171l8-3l3-3l-2 9l6 4l7-6l0 2l0 10l8-1l5-5l-2 7l3 7l8-5l1 0l-1 9l5 3l8-3l-2 4l-2 9l10-1l3-2M1277 171l8-1l5-4l-2 8l4 6l9-5l1 1l-1 9l7 2l6-6l-1 5l2 9l9-4l3-2l-4 8l5 6l9-3l-2 3l-3 9l9 2M1258 215l8-3l3-3l-1 9l6 4l8-6l-2 3l7 7l5-6l0-7l4 7l7 2l2-10l0-2l8 7l6-6l-1-8" stroke="#e8c8c0" stroke-width="1" stroke-opacity="0.9"/>
<path d="M654 351l5-8l7 4l4 3l-3 7l5 7l-9-1l-3 5l1 4l8-2l4 8l1-8l7-1l3-8l0 12l2-9l8-2l0-7M653 363l4-7l8 4l5-6l7 7l-3 5l-10 2l8 1l3 7l5-3l7-2l0-8M689 365l9-15l14 3l2 12l8-7l4 5l12-14l4 11l3 7l10 5l8-7l4 7l5-12l9-9l4 1l4-4l11-11l7 14l6-7l6 6l7 11M771 428l7-2l8 7l6-10l7 8l5-17l8-7l7-9l5 6l4 19l0 16M754 473l3-9l0-3l6 8l7-3l1-9l2 3l7 6l5-7l0-5l4 8l8 1l2-10l1 2l8 5l3-7l-2-7l4 5l8 1l0-9l0-3l7 6l6-4l-2-9l3 3M708 486l8 2l5-2l-6 7l2 7l10-2l-1 1l-4 9l6 4l8-2l-5 5l-1 8l9 0l2 0l-6 7l5 6l8-2l-3 3l-3 9l9 2l4-1l-6 6l2 7l10-1l-1 2M731 493l9 2l4-1l-6 6l1 7l10 0l-1 1l-6 8l7 4l7-1l-6 4l-1 8l10 0l1 0l-6 8l4 5l9-2l-4 3l-4 8l9 3l4-1l-6 6l1 6l10 0l-2 1l-5 8l7 4M739 619l1-8l7-1l5-4l5 6l6-10l3 9l9 0l3 8l2-9l7-2l4 0l0 7l7 1l2 7l1-8l8-2l-1-9l3 8l7 0l1 7l5 0l4-2l-2-7l6-2l6-5l8 5l-1-12M742 618l-3-7l6-4l-2-8l6 6l7-3l5 7l2-9l7-2l6 1l0 8l8 1l1 9l5-7l7 1l5-7l2 7l7 0l4 8l-1-9l6-5l-1-9l6 6l7-3l5 6M750 583l4-6l7 2l4-7l2 8l8 0l2 8l6-7l8 4l6-3l4 6l5-2l8 1l3-8l7 1l7-3l4 7M780 552l9-1l4-3l-4 8l5 6l9-4l-1 2l-1 9l8 1l5-4l-2 6l3 8l9-5l1-1l-1 10l7 2l6-6l-1 5l1 9l9-3l3-4" stroke="#8e2a2a" stroke-width="1.8" stroke-opacity="0.9"/>
<path d="M655 351l5-10l1 8l7 3l-1 7l7 4l-9 0l-2 4l4 4l7-3l7-1l2-8l9 9l0-8l7-4M661 361l-1-8l6 1l6 0l2 8l9 2l-9 4l-2 7l1 4l6-2l6-1l0-8M750 361l2-23l4-11l6-3l6 9l5 11l3 4M699 360l3 17l9 7l11 2l-2 12l15 9l6 4l11-11l9 1l9-8l14-5l11-2l9-3l11-7l9-6l8-8M842 370l16-7l-12 16l15 4l-21 2M839 372l16-5l-13 13l19 9l-17 3M767 426l6-1l8 6l6-12l7 8l9-15l7-8l1-9l11 8l1 16l1 17M750 475l5-7l0-6l4 7l8 1l2-9l1 0l6 8l6-5l1-8l3 6l7 5l4-9l-1-2l7 6l6-4l-2-9l2 3l9 3l2-8l-2-6l7 6l8-2l-1-10M701 398l10 2l3 0l-7 7l4 7l9-2l-2 3l-1 10l9 1l5-2M699 401l8 3l6-1l-5 6l0 8l10-1l0 0l-4 9l7 3l7-3l-3 4M724 442l5-7l7 1l6 3l-1 8l4 7l-5 9l8-2l7 6l3-8l7 2l5-6l-1 8l6 3l-4 7l7 6l-9-3l-5 6l-6-4l-7 0l-1-8l-7-2l-1-7l-8-1l-1-7l-8 1M708 386l17 25l17 1l21-10l23 0l21 4l14-6M738 444l8-5l2-3l0 9l6 3l6-8l0 3l1 9l9-1l4-4l-1 7l4 7l8-6l0-1l5 8l6-3l2-8l2 5l6 6M762 421l8-2l4-3l-3 9l5 5l9-5l-1 2l1 9l8-1l5-6l-1 8l7 6l2-11l0-1l8 5l5-5l-2-8l3 3M765 420l9-2l4-3l-3 8l5 6l8-5l0 1l1 10l8-1l4-6l0 7l7 7l3-11l-1-2l8 6l5-4l-2-9l3 3M730 491l9 3l4-1l-6 6l1 7l10 0l-1 1l-6 8l7 4l7-1l-6 4l-1 8l10 0l1 0l-6 7l4 5l9-1l-4 3l-4 8l9 2l4-1l-6 6l1 7l10 0l-1 1l-6 7l7 4M730 490l8 3l5-2l-6 6l1 7l10 0l0 1l-6 8l6 4l7-1l-5 4l-2 7l9 2l3-1l-7 7l4 6l9-1l-3 2l-5 8l8 3l6-1l-7 5l1 7l9 0l0 1l-6 8l6 4M767 486l16 15l-6 10l20 4l-6 11l15 5l-2 11l18 4l-4 13l15 3M752 497l9-1l3-2l-4 8l4 6l9-4l-1 2l-2 9l7 3l6-1l-5 5l-1 8l10 0l1 1l-6 8l6 5l8-2l-4 4l-2 8l9 2l4-1l-6 7M732 620l0-9l8-3l5-2l7 5l1-11l4 7l7 0l2 7l7-2l4 8l-1-9l7-2l0-9l0 9l7 3l-2 7l6 3l1 9l1-9l7-3l-2-7l4-1l6 1l1 8l6 1l5-3l-2-8l5-4l5-2l5 6l0-9l8-3M735 617l3-8l7-1l8-3l5-3l-1-9l3 8l6 2l1 6l7 1l3 8l-2-8l6-3l-1-8l2 8l7 0l1 7l7 1l3 8l0-9l5-2l5-1l2 7l8 0l4 8l0-9l6-3l-1-8l7 4l3-6l7-4l-4-8M737 620l-3-6l6-5l-3-8l6 6l6-2l5 0l0-7l5-1l5 2l0 8l8 1l1 9l0-8l7-4l0-9l2 8l8 0l1 7l6 0l3 7l0-8l6-2l6 0l2 8l6-2l6-2l-1-9l8 6l6-4l5-2l-2-8M741 617l-4-6l6-4l-4-6l5-3l5-2l3 7l7-2l3 6l5-2l7 0l1-7l5 0l7 3l-1 11l5-8l8 1l4-7l3 9l8 1l3 9l1-9l8-2l1-8l9 6M750 587l2-9l7 0l6 0l1 8l9 0l2 8l5-6l7 2l4-7l5 8l8-1l5 8l3-9l8 0l10 0M747 586l4-6l6 2l5-6l3 9l8 0l3 9l5-6l7 2l4-7l3 8l7 0l4 7l3-8l7-2l3-8l8 5l7-4M781 552l8-1l5-3l-3 7l3 7l9-4l1 1l-2 9l8 2l6-5l-2 6l2 8l9-4l2-2l-1 9l6 4l7-6l-1 3l1 10l8-2l4-4M725 584l4-8l8-1l6 0l2 7l8 0l4 7l0-8l5-4l-2-7M731 588l2-7l7 1l4-7l4 7l7-1l4 7l1-9l7-3M651 376l8 1l1 7l2 6l-8 5l8 3l0 7l8 1l2 8l0-8l7-3l0-7l6-2l2-11" stroke="#dca0aa" stroke-width="1.2" stroke-opacity="0.9"/>
<path d="M652 354l2-7l6 1l8 0l1 8l2 5l-8 2l1 6l3 8l2-9l8-2l3-9l6 8l2-10M690 362l10-17l12 5l4 8l8-5l7 7l8-15l4 9l5 6l8 5l7-6l7 8l6-15l6-8l4 4l6-5l9-12l7 17l6-11l7 10l9 6M751 358l5-20l2-15l7-3l4 9l5 14l5 3M699 359l3 18l8 4l13 3l-1 16l12 7l8 3l11-10l9 0l10-5l11-7l12-3l11 0l8-9l9-4l11-8M835 369l20-3l-11 15l17 5l-21 5M753 473l4-9l0-3l6 7l7-1l1-10l2 3l6 7l6-7l0-6l3 8l7 2l4-9l0 0l7 6l5-6l-2-8l4 4l8 2l1-9l0-4l8 5l6-4l-2-9M736 451l4-7l6 2l6 0l1 7l7 0l-1 6l0 7l-9 0l-1 6l2 6l8-1l2 8l7 0M776 365l9-1l2 0l-5 7l5 6l8-3l-2 3l-3 8l8 1l5-1l-5 6l1 7l10 0l0 1l-5 8l6 5l8-2M761 423l9-3l3-2l-2 9l6 4l8-5l-1 2l2 10l8-3l4-5l-1 8l8 6l2-11l0-1l8 5l4-5l-2-8l4 4" stroke="#d07c88" stroke-width="1.8" stroke-opacity="0.9"/>
<path d="M657 355l3-6l3 7l8 2l-9-1l-3 7l-7-1l8 2l2 6l7 0l5 6l1-9l7-2l5-3l5 7l-5-8l4-7M653 354l4-9l2 10l7 5l-7 7l8 1l5 0l1-8l6 6l8-2l8 5l-7-9M655 361l8-6l6 7l10-1l-10 0l-3 6l1 5l7 2l4 9l-2-9l6-4l-2-7l5-4M691 360l9-15l12 0l4 9l6-3l7 5l10-13l4 11l4 2l9 10l8-10l4 8l6-11l6-9l5 3l6-6l10-12l8 14l7-6l5 7l8 8M692 363l11-16l12 2l3 10l8-2l4 3l10-12l3 9l8 4l7 7l6-9l7 9l4-11l9-11l4 2l2-1l13-16l5 17l7-9l8 7l7 7M748 356l5-23l3-12l7-1l5 8l6 10l4 7M697 357l4 18l8 8l11 1l2 15l11 9l7 3l9-12l10 1l10-5l14-7l11-5l9-3l10-4l9-5l8-7M827 352l6 12l3 12l13 3l-6 12l-15 1M749 373l5 8l4 2l-8 0l-4 6l7 7l-1 0l-9 2l1 7l6 5l-7 0l-7 4l6 8l2 2l-10 0l-2 7l6 7l-4-1l-9 3l3 8M769 427l4-3l8 7l7-9l7 6l5-15l9-9l5-8l7 8l4 16l-1 18M823 397l10 2l3-1l-6 7l2 6l10 1l-3 2l-6 8l7 5l4 3l-8 0l-6 5l6 8M726 452l4-8l8 3l5-7l4 7l7 0l1 6l3 6l-8 3l2 6l0 6l7 0l1 7M772 368l9 1l4-2l-5 7l3 6l9-2l-1 1l-4 9l7 3l7-3l-4 6l-2 8l10 1l2 0l-6 7l4 6l9-1M773 365l8 1l5-2l-5 6l2 7l9-2l0 1l-4 9l6 3l8-3l-5 5l-1 9l9 1l3 0l-6 7l4 6l9-1M736 443l8-4l3-4l0 8l5 5l7-7l1 1l0 10l8 0l5-6l-1 7l3 7l8-5l0-3l4 8l7-1l2-9l2 4l6 6M738 444l8-4l3-4l-1 8l6 5l6-7l1 0l0 10l8 0l6-5l-2 6l4 8l8-5l0-3l4 8l7-1l2-9l2 4l6 7M761 420l8 0l5-4l-2 7l3 7l9-5l1 0l0 10l7 0l6-6l-1 5l6 9l4-10l-1-4l6 6l7-3l-2-9l2 2M704 482l10 1l3-2l-5 8l3 6l9-2l-1 2l-4 9l7 3l6-2l-5 6l0 7l10 1l0 0l-5 8l5 5l8-2l-4 4l-2 8l9 1l4-1l-6 7l3 6l9-1l-2 2M705 487l9 0l3-1l-5 7l3 6l9-1l-2 2l-4 8l8 3l6-1l-6 5l1 8l9 0l1 0l-5 8l5 5l8-2l-3 4l-3 8l10 1l3-1l-6 7l3 7l10-2l-2 2M766 487l15 16l-1 10l15 4l-3 13l18 1l-3 11l17 8l-6 12l18 2M764 487l17 11l-5 11l16 6l-3 9l17 5l-3 14l18 5l-5 11l16 1M799 520l9-4l2-2l-1 9l6 4l8-6l0 3l0 10l8-1l5-3l-2 7l3 7l10-2l-2 4l-10 1l1 7l6 5l-6 0l-8 4l5 8M753 497l9 0l5-2l-4 8l3 6l9-3l0 1l-3 9l6 3l8-1l-5 4l-2 8l10 1l2 0l-6 8l4 5l9-2l-3 3l-4 8l9 2l4-2l-6 7l2 6M751 498l8 1l6-3l-4 7l2 7l10-3l0 1l-3 8l5 5l8-1l-4 4l-2 8l9 2l3-1l-6 7l4 7l9-2l-2 3l-4 8l8 3l6-1l-5 6M738 617l-3-6l6-4l-1-7l5 6l7-3l6 5l-1-12l5 8l8 1l3 9l3-9l7 0l5-1l0 7l8 1l1 7l2-8l7-1l2-9l1 9l8 1l-1 7l5 1l5-2l-1-8l7-2l4-6l8 0l3-7M739 614l-1-8l8-2l0-8l5 6l6-1l5 6l3-8l7-1l6-1l1 7l8 0l3 8l3-10l7-2l5-1l1 8l7 0l4 8l-1-9l7-3l-1-8l8 5l9-3M749 582l6-5l7 3l7-6l0 9l6 2l0 9l5-7l7 2l3-6l5 3l7-1l1 7l6 0l7 0l2-8l7 0l5-4l4 6M779 550l10-3l2-1l-3 9l6 4l8-4l-2 3l0 10l9-1l4-4l-2 8l5 6l8-6l0 1l0 10l8 0l5-5l-2 6l3 8l8-4l2-1M656 357l9 3l3 10l8-9l2 9l7 3l1 8l3-8l8-1" stroke="#e6c0c6" stroke-width="1.2" stroke-opacity="0.9"/>
<path d="M658 363l0-8l7-2l4 2l-3 7l6 5l-9 0l8 4l0 9l4-7l6 1l9-2l5-4l-4-7M754 372l3 7l5 3l-7 0l-6 6l7 6l1 1l-10 1l0 8l7 5l-6-1l-7 5l5 7l3 3l-9-1l-4 6l7 7l-3-1l-9 1l2 8l4 4M824 397l8 4l6-1l-5 6l0 7l9 3l1 0l-8 6l3 6l7 4l-5 0l-8 4l5 7M701 400l9 2l4 0l-6 6l2 7l10-1l-1 2l-2 10l8 2l6-3M722 444l3-7l7 2l5-7l1 8l6 2l-1 6l0 6l-8 3l8-4l6 5l5-6l8 3l7-6l-5 8l6 7l-6 6l4 7l-9-2l-6 7l-2-9l-7 0l-2-7l-7-1l-2-7l-8 0l-1-8M736 491l9 1l3 0l-7 7l4 6l9-2l-3 3l-5 8l9 3l5-1l-7 5l1 7l10 0l-1 1l-6 7l7 5l7-2l-5 4l-2 8l9 1l2 0l-6 7l4 6l9-1l-4 2l-4 8l8 3M739 617l-1-8l8-3l1-9l4 7l7 0l3 9l2-9l7 0l2-8l2 9l8 1l0 8l6 1l6-2l-1-8l6-2l5 1l1 7l7 1l0 8l5 1l5-4l-4-7l6-3l4-6l6 5M739 613l-2-7l5-3l0-8l3 8l8-1l3 8l1-8l8-1l0-7l5 0l6 2l0 8l6 1l6 3l6-7l4 8l9-1l5 9l-1-9l7-4l-1-8l7 5l8-3M780 552l8 0l6-4l-3 7l3 8l9-4l1 0l-2 9l7 3l6-5l-1 5l2 8l8-3l3-3l-2 9l6 5l7-6l0 2l0 10l8-1l4-5M728 590l4-8l8 2l6-3l3 7l6-2l6-1l-2-7l7-2M726 586l1-8l8 0l3-9l2 9l8 0l0 8l6-1l6-2l-2-8l7-3M653 368l5 3l-1 6l5 4l-2 5l1 6l1 6l8 0l3 9l3-7l7 0l1-7l6-4l-2-9" stroke="#a83434" stroke-width="1.2" stroke-opacity="0.9"/>
<path d="M653 354l8-8l1 9l8 2l-7 6l4 5l2 5l7-6l10 4l2-7l7-1M751 356l3-21l3-12l6-2l6 8l5 10l4 4M700 360l3 17l8 4l10 2l2 17l10 6l9 5l11-11l9-1l7-6l17-4l10-4l10-3l9-6l8-6l8-6M835 355l5 9l0 13l17 6l-10 8l-13 6M828 352l5 10l3 16l15 2l-9 10l-16 4M842 372l18-6l-16 14l20 6l-20 3M750 372l4 8l5 2l-9 0l-4 6l8 6l-1 1l-10 2l2 7l6 5l-7 0l-6 4l5 8l2 2l-9-1l-3 7l7 6l-4-1l-9 2l3 8l4 3M750 372l5 7l4 2l-8 0l-4 6l8 6l-2 1l-9 2l2 7l6 4l-7 0l-7 5l7 8l1 1l-10 0l-2 7l7 6l-5-1l-9 2l4 8l3 3M770 427l6-2l6 7l7-13l5 11l8-15l6-9l8-6l6 4l0 16l2 18M757 473l3-9l1-3l5 8l6-2l1-9l2 3l7 6l5-6l1-6l4 7l7 2l3-10l0 1l8 6l4-6l-2-8l4 4l8 2l1-9l0-4l8 6l6-4l-1-10M754 475l3-9l0-3l6 8l7-2l1-9l2 3l7 6l5-7l1-5l3 8l7 1l3-9l1 1l7 6l4-7l-2-7l4 4l9 1l0-9l0-3l8 5l6-4l-2-10M826 398l10 3l3-1l-6 7l3 7l9 1l-2 1l-7 7l6 5l5 4l-8-1l-6 6l7 7M701 402l9 2l5-1l-6 7l2 7l10 0l0 1l-4 9l8 4l7-3M727 450l5-6l7 4l7-6l3 8l8 2l1 6l0 6l-7 1l0 5l0 7l9 0l0 8l8 0M707 386l17 23l15 0l22-8l22 0l19 4l18-4M740 444l8-6l1-2l0 9l7 2l6-7l-1 4l2 9l9-2l3-4l-1 8l5 6l7-7l0 0l5 8l6-4l2-7l2 6l7 4M709 486l9 1l4-1l-5 6l2 7l10-2l-2 2l-4 8l7 4l7-2l-5 5l-1 8l10 0l2 1l-6 7l5 6l8-2l-3 3l-3 9l9 1l4-1l-6 6l3 7l9-1l-1 1M731 493l9 2l4-1l-6 6l2 7l9 0l-1 1l-5 8l6 4l7-2l-5 5l-2 7l10 1l1 0l-6 7l4 5l9-1l-4 3l-4 8l9 2l4-1l-6 6l1 7l10-1l-1 2l-6 7l7 4M769 484l13 14l-3 10l17 6l-4 10l18 2l-5 13l18 6l-3 12l20 3M796 520l8-4l3-3l-2 9l6 4l7-6l0 2l-1 10l8 0l6-4l-3 6l3 8l9-4l4 1l-9 4l0 7l7 5l-5-1l-8 3l5 8l3 2l-8-1M798 519l8-2l4-4l-2 8l4 6l8-6l0 1l0 9l7 1l6-4l-2 6l2 8l9-4l4 1l-8 3l-2 7l7 6l-4-1l-8 3l4 8l4 2l-8 0M737 614l1-9l7 0l5-1l8-2l6-1l2 8l8 0l4 8l-1-10l7-4l0-9l1 8l7 2l-1 7l4 1l6-2l3-9l3 9l9 0l4 8l-1-9l6-5l6-3l9 4l-3-11M738 613l-1-8l7-4l0-9l5 7l7-1l4 7l4-7l7 0l4-7l1 8l7 1l1 8l3-8l8 1l3-7l3 8l8 0l1 8l5-1l5-3l-4-8l5-4l4 0l1 6l7 1M750 585l4-7l7 3l5-6l1 9l8 1l-1 7l6 1l5 0l1-7l7 1l5-2l3 7l7-2l4 7l2-9l7-2l6-4l4 6l7-4M782 554l9-1l4-3l-3 8l5 6l8-4l0 1l-1 10l8 1l5-5l-2 7l4 7l8-5l2-1l-2 10l7 2l7-5l-2 3l1 9l9-2l3-3M726 585l4-7l7 3l4-8l4 8l7-3l3 6l4-1l6-5l-4-9M726 583l4-6l7 3l4-7l6 7l8-3l7 6l-2-9l6-7M654 375l8 4l0 8l4 7l-5 7l9 3l4 10l3-11l8-3l-1-7l7-3l-2-7M649 357l7 1l0 7l7 3l2 8l3-9l6-1l6 1l-1 8l6 0l5 2l2-7" stroke="#d48c9c" stroke-width="1.2" stroke-opacity="0.9"/>
<path d="M650 356l6-6l7 2l8 1l1 7l-1 6l-9 2l8 5l6 1l3-9l5 7l4-2l4-8M751 371l6 8l3 2l-9 0l-3 6l8 6l-3 0l-9 3l3 8l5 3l-7 0l-6 6l7 7l0 2l-9 0l-1 7l6 5l-5-1l-9 2l5 9l2 2M824 398l9 2l3 0l-6 7l3 7l9 0l-2 2l-7 7l7 5l4 3l-8 0l-5 6l7 7M777 365l8 2l5-2l-5 6l2 7l9-2l0 1l-4 8l6 4l8-3l-5 5l-2 8l10 0l2-1l-6 8l4 5l9-1l-3 2M707 383l21 25l14 2l21-10l22-2l20 5l19-3M736 443l7-3l4-5l-1 8l5 5l7-6l1 0l0 9l8 2l6-6l-2 5l3 9l9-5l0-4l4 9l7 0l3-9l1 2l6 8M738 443l8-5l2-2l0 9l6 2l6-7l0 4l2 9l8-3l4-4l-2 9l5 5l7-7l0 1l5 8l7-4l2-8l2 6l6 5" stroke="#c85a5a" stroke-width="1.8" stroke-opacity="0.9"/>
<path d="M665 350l-5-5l4 7l7 0l-1 5l-1 6l-9 2l8 3l4 8l7-9l7 3l3-10M656 369l-1-8l8-1l0-7l4-1l4 2l-3 7l6 6l-11 2l9 3l2 8l4-9l8-1l2-8M749 360l3-20l5-13l4-1l7 5l6 11l2 8M842 373l14-2l-10 13l10 2l-13 7M843 369l13-6l-10 12l9 10l-14 2M767 434l7-3l6 6l10-12l7 8l4-17l8-7l6-6l7 4l1 18l2 17M704 386l19 26l14 2l23-11l21 1l21 2l16-4" stroke="#c0403e" stroke-width="1.2" stroke-opacity="0.9"/>
<path d="M659 361l5-5l5 3l7 0l2 6l0 5l-8 3l10 0l5 8l1-9l6-2l-1-8M823 398l9 2l4 0l-6 7l3 6l9 1l-3 2l-6 7l6 5l4 3l-7 0l-6 5l6 7M701 399l9 3l5-1l-6 7l1 7l10 0l0 0l-4 9l8 3l6-4l-4 6M730 451l2-8l7 1l4-8l1 9l7 2l0 7l8 3l-8 5l1 7l0 5l6 1l1 7l7 0M797 520l8-1l4-5l-2 7l4 7l8-6l1 0l-1 9l7 3l7-5l-2 5l1 9l9-2l6-1l-8 4l-4 6l8 6l-3 0l-9 1l2 8l6 4l-7-1M730 586l3-6l8 1l4-8l3 9l8 0l3 9l-2-9l7-4l-3-7M655 371l7 2l-3 7l7 4l-7 6l3 6l1 5l7-1l4 7l3-8l8 1l1-7l6-3l-3-7l7-3" stroke="#a83434" stroke-width="1.8" stroke-opacity="0.9"/>
<path d="M662 368l1-12l4 8l10 2l-12 4l9 2l2 7l6-1l7-4M833 353l6 12l0 14l14 4l-9 10l-13 2M840 367l22-4l-14 13l13 7l-14 4M754 476l3-8l0-4l6 8l7-2l1-9l2 2l6 7l6-6l0-7l4 7l7 3l3-10l0 0l8 6l4-5l-2-8l4 4l8 2l1-9l-1-3l7 6l6-4l-2-9l2 2M821 400l9 2l5 0l-6 6l1 7l10 2l-1 1l-7 7l5 5l5 4l-7 0l-6 4l5 8M737 447l8-5l2-3l-1 9l7 3l6-7l0 3l1 10l9-2l4-5l-2 8l5 6l7-6l0-1l5 9l6-4l2-8l2 6l6 5" stroke="#c0403e" stroke-width="1.8" stroke-opacity="0.9"/>
<path d="M659 362l1-8l6 0l5-1l3 7l9 0l-8 4l0 7l-8 4l7-3l6 0l1-7l7-1M690 355l9-14l13 2l3 12l8-7l5 5l9-12l4 9l6 6l7 7l6-7l9 6l5-10l5-14l7 4l3-1l10-13l7 14l8-7l6 6l6 8M691 361l12-17l11 3l4 11l6-5l5 6l10-13l5 8l6 6l7 6l7-8l5 7l7-11l6-8l4 0l4-1l14-13l3 13l9-10l7 10l7 8M752 358l5-23l2-12l5-1l7 9l7 11l1 5M703 361l4 18l10 4l12 2l-2 16l12 9l8 3l9-11l11-1l10-5l12-5l11-3l11-4l11-6l4-5l12-8M843 371l17-6l-13 16l14 4l-17 0M753 375l4 7l5 3l-9-1l-4 6l7 7l-1 0l-9 2l1 7l7 5l-7-1l-7 5l6 8l2 2l-10-1l-2 7l6 6l-4-1l-8 2l3 8l4 3M768 428l8-5l9 9l7-11l6 7l4-14l8-8l6-10l9 5l2 20l1 17M753 469l4-8l1-4l5 8l7-1l1-10l2 2l6 7l6-6l0-6l4 7l7 3l3-9l0-1l7 6l5-5l-2-8l4 3l8 2l1-9l-1-4l8 6l6-3l-1-10M825 396l7 4l7-1l-6 5l0 8l9 2l1 0l-7 7l3 5l6 5l-5-1l-8 4l4 8M823 400l9 2l4 0l-7 7l4 7l9 0l-3 2l-6 8l7 4l4 4l-8 0l-6 5l7 8M700 401l9 2l5 0l-6 6l2 7l10 0l0 1l-3 10l7 3l7-3M729 442l8-8l4 8l8-1l2 7l1 6l-7 4l1 6l7 6l3-8l8 1l3-8l5 1l4 4l-6 6l5 6l-5 6l3 8l-7-5l-7 6l-5-5l-7-1l-1-7l-8-1l-1-8l-6-2l2-7l-6-4M724 446l5-7l6 4l7-1l2 8l9 3l-10 1l-3 4l7 5l6-6l6 4l7-5l-3 8l5 5l-4 6l5 6l-8 0l-2 8l-6-2l-6 0l-1-7l-7-1l-1-7l-7-1l-1-7l-7-1l0-7M727 454l3-6l6 1l4-6l5 1l7-1l1 8l7 0l1 6l0 6l-7 1l0 8l-7 3l8 0l4 6l8-1M772 368l8 2l6-2l-5 6l1 7l9-2l1 1l-5 8l6 4l8-3l-4 5l-2 8l10 1l3 0l-6 7l3 6l10-1M772 365l9 0l3-1l-5 7l3 6l10-2l-2 2l-3 8l8 3l6-3l-5 6l0 8l10 0l1 1l-6 8l6 5l8-2M702 386l19 25l15-1l21-12l22 4l21 3l17-2M704 391l19 25l16-1l21-10l23 0l19 3l17-2M761 423l8 0l5-5l-3 8l4 6l9-4l0 0l0 9l8 1l5-6l0 5l6 9l3-10l-1-4l7 6l6-3l-1-10l2 2M705 484l8 2l6-1l-6 5l1 8l10-1l0 0l-5 8l6 5l8-2l-4 4l-2 9l9 1l3-1l-6 7l4 6l9-1l-2 2l-4 8l8 3l5-2l-5 6l1 7l9 0l1 0M707 484l9 2l5-2l-5 6l1 7l9-1l0 1l-5 8l6 4l8-2l-4 5l-2 8l9 1l3 0l-6 7l4 6l9-1l-2 2l-4 9l8 2l6-2l-6 6l1 8l10-1l0 1M733 493l9 1l3 0l-7 7l4 6l9-1l-3 2l-5 8l8 3l6-1l-7 5l1 7l9 0l0 1l-6 7l6 5l8-1l-5 3l-2 9l9 1l3 0l-7 7l4 6l9-1l-3 3l-4 8M733 493l8 3l6-1l-6 5l0 8l10 0l0 0l-6 8l6 5l8-2l-5 4l-2 8l9 1l3 0l-6 6l2 6l10-1l-3 2l-4 9l7 3l6-1l-5 6l0 7l9 1l1 1l-6 8M767 484l14 14l-3 11l17 4l-5 12l19 4l-7 12l21 6l-4 11l15 3M798 521l9-2l4-4l-2 9l6 5l8-5l1 1l-1 10l7 1l7-5l-3 6l2 9l10-2l0 3l-9 0l-2 7l7 6l-3-1l-9 3l4 8l4 2M797 525l9-5l2-2l-2 9l6 3l7-6l-1 3l1 9l8 0l5-4l-3 8l4 7l9-4l2 2l-8 3l0 7l7 5l-6-1l-7 3l5 8l3 2l-10-1M748 497l10-2l2-1l-4 9l6 4l8-3l-2 3l-1 9l8 2l5-1l-6 6l1 7l10 0l0 1l-6 8l7 4l7-1l-4 4l-1 9l10 0l2 0l-6 8M751 496l9-2l3-1l-4 9l5 5l9-4l-2 3l-2 9l8 2l5-1l-6 6l1 7l9 1l1 1l-6 8l6 4l7-2l-4 4l-2 8l10 0l3-1l-6 7l3 6M743 614l-3-7l7-5l-2-10l6 8l7-1l5 7l4-8l6 1l7 0l2 8l7-1l7 1l2-9l4 8l7-1l2 8l8-1l5 8l-4-9l5-5l-4-8l8 4l6-5M739 615l-2-7l7-3l-1-8l5 8l8-1l5 9l2-9l8 0l3-8l1 8l8 0l0 7l5 0l6-1l-2-7l5-3l6 0l2 8l8-2l4 8l-2-10l7-4l4-4l5 4M755 584l2-9l8 0l4-8l2 9l8 2l0 7l6 1l9 2l6-2l3 6l7-3l5 7l2-8l7-2l3-8l8 6l8-3M780 553l9-3l2-1l-3 9l6 4l8-5l-1 4l-1 9l9-1l4-4l-2 8l5 6l8-5l1 1l-1 10l8 0l5-5l-2 6l3 8l8-4l2-2M778 551l9-2l4-3l-3 8l4 6l9-4l0 1l-1 10l7 1l6-5l-2 6l3 8l9-4l2-1l-2 9l6 3l7-5l-1 3l1 10l9-2l4-4M728 593l1-7l7-1l2-9l3 8l7 0l2 7l5-2l6-1l-1-8l7-3M656 372l7 2l-1 7l7 3l-8 4l0 7l1 5l7 0l1 7l5-1l5-2l0-7l8-3l0-9l9-3M652 360l7 1l-1 7l7 2l1 8l9-9l2 8l7 2l2 8l4-7l7 3" stroke="#ecd0d4" stroke-width="1.2" stroke-opacity="0.9"/>
<path d="M688 360l14-15l11 1l3 10l7-4l6 6l11-14l2 10l6 4l9 8l6-7l6 6l7-12l4-9l7 2l3-2l11-13l8 15l7-12l5 9l8 9M748 358l6-20l1-14l8-2l6 7l7 11l2 8M699 360l1 18l9 4l13 2l0 16l10 9l9 6l11-15l9 1l9-7l13-6l12-4l10-1l9-7l8-2l10-9M754 372l6 7l2 1l-9 1l-2 7l8 5l-4 0l-9 3l4 8l5 3l-9 0l-4 6l7 7l-1 1l-10 0l0 8l6 5l-6-2l-8 3l5 8l2 2M700 398l9 3l5-1l-6 7l1 7l10-1l-1 1l-3 10l8 1l6-3l-4 6M707 487l10 0l2-1l-6 8l5 5l9-1l-3 2l-4 9l9 2l5-1l-6 6l2 7l9-1l0 1l-5 9l7 4l7-2l-5 4l-1 8l10 1l2-1l-6 8l4 5l9-1l-3 2M799 520l8-3l3-3l-2 9l6 4l7-6l-1 2l0 9l8 0l6-4l-3 7l3 7l9-4l4 2l-9 3l0 7l6 5l-5-1l-8 4l5 7l4 3l-9-1M737 619l2-11l7 5l5-4l5-3l4-1l3 7l8-2l4 7l4-12l5 8l8 1l1 8l6 0l5-4l-2-10l3 7l8 0l1 7l5-1l4-2l-1-7l5-1l7-4l8 6l-2-9l5-6M735 612l-1-8l7-3l0-8l5 7l8-1l3 8l6-1l7-3l1-9l4 8l8-1l3 9l4-9l7 0l6-1l2 7l7 0l3 8l0-9l7-4l-1-8l7 5l7-4" stroke="#8e2a2a" stroke-width="1.2" stroke-opacity="0.9"/>
<path d="M690 364l8-16l14 1l4 12l5-6l5 5l9-13l5 10l6 5l9 7l6-8l7 9l6-13l5-9l5 1l4-2l13-13l4 14l10-8l5 9l7 7M751 355l4-20l4-13l5-3l7 9l5 11l4 4M828 354l7 11l1 12l17 5l-10 12l-14 3M827 354l5 11l2 13l16 5l-9 10l-15 5M830 350l5 12l4 13l14 4l-9 9l-13 5M724 444l5-6l6 3l7-1l3 7l9 0l-8 4l0 8l-8 4l8-2l6 5l2-7l6-1l3-8l-1 9l6 4l-2 7l7 4l-2 6l-2 5l-7-2l-4 6l-5-2l-6-1l2-7l-8-2l2-7l-8-2l1-7l-7-1l1-8l-7-1M768 489l15 12l-4 10l14 2l-3 14l16 3l-1 15l19 1l-7 13l18 4M752 498l9-1l3-2l-4 9l5 5l9-4l-2 3l-2 9l8 2l5-1l-5 6l0 7l10 0l0 1l-6 8l6 5l8-2l-4 5l-2 8l10 1l3 0l-6 7M781 551l9-3l2-1l-3 10l6 3l8-4l-1 4l-1 9l9-1l4-4l-2 8l4 6l9-6l0 2l-1 9l8 1l5-5l-1 6l2 8l9-4l2-2M654 354l7 1l0 7l7 1l3 8l5-11l1 9l7 4l0 9l6-7l7 1l3-6" stroke="#8e2a2a" stroke-width="1.5" stroke-opacity="0.9"/>
<path d="M687 362l8-17l15 2l4 12l4-6l6 5l10-10l4 5l4 6l8 8l11-9l3 8l7-11l4-13l9 3l3 0l10-16l7 16l6-8l7 8l5 8M700 359l0 16l13 6l9 3l0 15l13 8l7 5l8-15l10 1l10-7l12-4l13-4l9-2l9-4l10-9l8-6M702 359l0 17l10 7l10-2l1 16l12 9l6 5l8-13l12 0l10-6l13-6l11-2l12-3l9-6l7-7l10-5M771 430l5-3l8 9l7-13l8 8l5-16l7-6l7-9l6 7l0 16l3 20M753 479l5-8l0-5l5 7l7 0l2-9l1 0l6 8l6-5l1-7l3 6l7 4l4-9l-1-2l7 6l6-4l-2-9l3 3l9 3l1-8l-1-5l6 5l7-1l-1-9l0 0M731 449l4-8l8 3l6-6l1 8l7 2l0 7l7 4l-8 0l-1 8l-7-1l-1 5l2 5l8-2l3 7l7-2M727 453l5-5l6 5l5-6l4 7l7-3l2 6l1 4l-7 2l1 7l-7 3l7 2l1 7l7 0M771 365l9-1l3-1l-5 8l4 5l9-2l-2 2l-3 9l8 2l6-2l-5 6l0 7l10 0l0 1l-5 8l6 4l7-1M706 386l19 24l14-1l20-7l21-1l23 7l14-10" stroke="#d07c88" stroke-width="1.2" stroke-opacity="0.9"/>
<path d="M752 359l3-23l2-9l9-5l2 9l9 12l4 6M700 359l0 19l11 4l11 2l1 16l10 7l7 4l10-10l10-2l11-3l13-8l10-2l10-3l11-6l6-4l12-9M750 374l5 8l4 2l-9 0l-4 6l8 6l-2 0l-9 2l2 8l6 4l-7 0l-6 5l6 8l1 2l-9-1l-2 7l6 6l-4-1l-9 2l3 8l4 3M769 430l5-6l8 9l9-12l6 7l6-14l4-9l8-6l8 4l3 18l-1 18M752 474l4-10l0-2l5 8l7-2l1-9l2 3l7 6l5-7l0-5l4 8l7 1l3-10l1 2l8 5l3-7l-2-7l5 5l8 1l0-10l0-2l8 5l6-5l-2-9M726 442l7-4l5 6l9 1l1 8l0 5l-8 0l0 4l6 3l6-5l7 1l5-8l0 9l7 4l-3 7l7 6l-8 0l-4 6l-7-2l-6 7l0-9l-7-3l0-8l-7-2l-1-7l-7 0l-2-7M776 366l9 1l4-2l-5 6l2 7l10-2l-1 1l-4 9l7 2l7-2l-5 5l-1 8l10 1l2 0l-6 7l5 6l9-2M761 419l8 0l5-4l-3 7l4 7l9-5l0 0l1 10l7 0l5-6l0 6l6 8l3-10l-1-4l7 6l6-3l-1-9l2 2M764 419l9-2l4-3l-3 8l4 6l9-5l-1 1l1 10l8-1l5-6l-1 6l7 7l3-10l-1-2l8 5l5-4l-1-9l2 3M650 353l7 4l-2 8l6 2l6 0l3-8l0 9l8 3l1 9l6-8l8 0" stroke="#c0403e" stroke-width="1.5" stroke-opacity="0.9"/>
<path d="M842 370l16-3l-7 13l10 11l-16-2" stroke="#c85a5a" stroke-width="1.5" stroke-opacity="0.9"/>
<path d="M754 369l3 7l6 4l-8-1l-5 6l7 7l0 0l-9 2l0 7l7 5l-6 0l-8 4l5 8l3 2l-9-1l-3 6l6 7l-2 0l-9 1l2 8l5 4M703 399l9 2l4 0l-6 7l2 7l10-1l-2 2l-3 9l8 1l6-3l-5 6" stroke="#c85a5a" stroke-width="1.2" stroke-opacity="0.9"/>
<path d="M711 376l7-4l3-6l1 8l7 4l5-8l1 0l3 10l8-2l4-7l0 6l5 7l7-7l1-2l4 7l7-2l0-9l2 2l8 6l4-7l0-6l4 6l8 1l1-10l1-1l8 7l5-6l-1-8M712 377l8-5l2-5l1 8l6 4l6-8l1 1l2 9l8-2l3-7l0 7l5 6l7-7l1-2l3 10l7-3l0-9l2 3l8 5l4-7l-1-6l5 7l7 0l1-10l1 0l8 6l5-6l0-8l4 5M825 377l6-5l2-6l3 7l3 3l6 1l1 0l-9 4l2 7l8 2l-6 1l-6 5l5 7l3 2l-10-1l-3 6l7 7l-3 0l-10 1l2 9l4 4l-7-1l-7 4l6 8M689 371l7 4l6 0l-7 4l-1 7l10 2l0 0l-8 7l6 6l8-3l-3 5l0 9l10 0l3 0l-6 8l4 6l9-1M732 339l9-4l2-2l-1 9l5 4l8-6l-2 4l7 5l3-7l-2-6l6 6l7 0l0-10l0 0l8 6l5-6l0-8l4 5l8 2M735 339l9-4l2-3l-2 9l6 4l7-6l-2 3l7 6l4-7l-2-6l5 6l8 0l0-10l1-1l7 7l6-5l0-8l3 4l8 3M756 535l8-2l4-4l-2 7l4 6l8-5l1 0l1 10l7-4l0-8l3 5l7 4l3-9l-1-4l7 6l6-3l-2-9l2 1" stroke="#e6c0c6" stroke-width="1.4" stroke-opacity="0.9"/>
<path d="M716 375l7-5l2-5l1 8l6 4l6-8l0 1l3 9l7-2l4-7l0 7l5 6l7-7l1-2l3 10l7-3l0-9l3 3l7 5l4-8l-1-5l5 7l8 0l1-10l1 0l8 6l5-6l-1-8l4 5M710 378l7-7l1-3l2 10l7 1l5-8l0 3l4 8l7-4l2-6l1 8l6 5l6-8l0 0l4 10l6-5l0-8l3 5l8 3l2-9l0-3l6 7l6-2l0-9l2 2l8 6l3-8l-1-6l5 7l7 0M712 376l7-4l3-6l1 8l6 4l5-7l1-1l3 10l7-2l4-7l0 5l5 8l7-7l1-3l2 10l8-2l0-9l2 2l7 6l5-7l-1-7l4 7l8 1l1-10l1-1l7 6l6-5l-1-8l4 4M776 488l8-2l4-3l-2 8l5 5l8-5l0 1l-1 10l8 0l6-4l-2 6l2 8l9-4l2-1l-2 9l5 4l8-4l-2 4l-2 9l9 0l4-2l-5 7M769 486l8-1l5-4l-2 7l4 7l8-5l1 0l-1 10l8 2l6-5l-2 5l2 8l9-3l3-2l-2 8l3 5l9-3l-1 2l-3 9l8 1l5-3l-4 7M756 537l9-4l2-3l-1 9l5 4l7-7l0 3l3 10l6-6l0-7l4 6l7 3l2-10l-1-1l8 5l5-5l-2-8l4 3M834 379l21-4l-11 21l16 3l-13 14l-11 8" stroke="#d48c9c" stroke-width="1" stroke-opacity="0.9"/>
<path d="M716 374l6-7l1-2l2 10l7 0l5-8l0 4l5 8l6-5l2-5l1 9l6 3l6-8l0 1l4 9l7-6l-1-7l4 6l8 2l2-9l0-2l6 7l7-3l-1-9l3 3l8 5l4-9l-1-5l6 7M830 382l6-6l2-5l3 8l3 2l6 1l0 1l-9 5l3 7l7 2l-5 2l-7 4l5 8l2 2l-10 0l-2 6l6 7l-4-1l-9 2l2 8l4 4l-8-2l-6 5M690 369l9 3l4 1l-8 5l1 7l9 1l-2 1l-6 7l7 5l6-3l-4 7l3 8l9-2l1 1l-5 9l5 5l9-2M792 352l9 0l4-3l-4 8l4 6l9-3l0 2l-3 9l8 2l7-3l-3 6l1 8l10-2l1-1l-2 9l7 3l7-5l-1 4l1 9M729 370l18 9l20-13l21 4l17-15" stroke="#dca0aa" stroke-width="1.4" stroke-opacity="0.9"/>
<path d="M767 427l6-4l7 7l8-12l4 8l9-16l7-7l6-8l5 6l3 18l-1 17M738 442l7-4l3-4l-1 9l6 4l6-7l0 1l1 10l8-1l5-5l-1 7l4 7l8-6l0-2l4 9l7-2l2-9l2 5l6 6M761 422l9-2l4-3l-2 7l4 7l8-5l1 0l0 10l8 0l5-6l0 6l6 8l3-10l-1-3l8 6l5-4l-2-9l3 2M764 423l9-3l2-2l-2 10l6 3l8-5l-2 4l3 9l8-3l3-5l0 8l8 5l1-10l1 0l8 5l4-6l-2-8l4 5M753 495l9 0l4-2l-4 8l4 6l9-4l-1 2l-3 9l7 3l6-2l-5 6l0 7l9 0l2 1l-6 8l5 4l8-1l-4 3l-3 8l9 1l4-1l-7 7l3 6M734 623l-2-7l6-3l1-8l7 7l7-2l4-3l0-9l3 8l8 2l1 8l6 0l4-2l-2-7l4-2l5 0l0 7l7 1l1 7l4 0l7-2l2-10l4 7l7-1l2 7l4-1l5-5l-3-9l6 5l5-4l7-1l-1-8M651 365l7 2l-1 8l7 2l-2 6l2 7l-8 4l8 0l2 7l5-2l7 0l1-8l9-1l-4-7l5-4M654 356l7 1l-1 8l8 1l1 8l3-7l5 0l6 2l1 8l6 3l7-2l3-7" stroke="#a83434" stroke-width="1.5" stroke-opacity="0.9"/>
<path d="M823 397l9 2l5-1l-6 7l1 7l9 1l0 1l-7 7l4 5l6 4l-7 0l-7 4l6 8M703 399l9 2l4-1l-7 6l2 7l10-1l-2 1l-3 10l8 2l6-2l-3 7M723 442l4-8l8 1l6 1l1 8l9 4l-8 2l-1 7l-7 3l8-3l5 5l6-3l7 1l6-5l-3 7l5 6l-4 6l5 6l-9 1l-3 6l-6 0l-5-1l0-8l-7-1l1-8l-8-1l1-8l-8-3l2-8M777 366l9 1l5-2l-6 7l2 7l10-2l-1 1l-4 8l7 3l7-2l-5 5l-1 8l10 1l2 0l-6 8l4 6l10-2M702 388l18 24l20-1l19-8l21 0l22 3l15-3M706 389l21 26l15 0l19-11l21 3l21 2l17-5M736 441l8-4l2-3l0 9l6 3l6-7l0 2l2 10l8-2l4-4l-1 7l5 7l7-7l0-1l5 9l6-3l2-9l2 5l7 6" stroke="#d07c88" stroke-width="1.5" stroke-opacity="0.9"/>
<path d="M826 377l7-6l2-6l3 8l3 2l6 2l0 1l-9 4l3 8l7 3l-6 1l-7 4l5 8l2 2l-9 0l-2 6l6 7l-3-1l-10 1l2 8l4 5l-8-2l-6 4M686 371l6 5l7 0l-7 4l-2 8l10 2l0 1l-7 8l8 5l8-3l-3 5l-1 8l9 1l4 0l-6 7l3 7M792 352l9-1l3-2l-3 8l4 6l9-4l-1 2l-2 9l8 1l5-4l-3 7l1 7l10-3l1 0l-3 9l7 3l7-5l-2 4l1 9l9-2M727 367l19 12l19-14l21 5l17-12M721 492l9 1l4-1l-6 7l2 6l10-1l-2 2l-5 8l8 3l7 0l-8 3l-4 6l8 6l1 0l-10 3l2 7l8 4l-5 0l-7 6l7 5l4 1l-9 3l-1 6l8 4l-2 1M716 489l9 1l4-1l-6 7l2 6l10-1l-2 2l-4 8l7 3l7 0l-8 3l-4 6l8 6l0 0l-9 3l2 7l7 4l-5 0l-7 7l7 6l4 1l-9 3l-1 7l9 5M773 486l9-3l3-3l-2 9l5 5l8-6l0 2l0 10l8 0l5-5l-2 7l3 7l9-4l2 0l-2 9l5 3l8-3l-3 4l-1 8l9 0l4-2l-5 7M758 533l9-4l2-3l-2 9l6 4l7-6l0 3l3 10l7-7l0-7l5 7l9 1l0-10l0-1l9 5l4-6l-2-8" stroke="#d48c9c" stroke-width="1.4" stroke-opacity="0.9"/>
<path d="M824 380l7-6l1-5l3 8l4 2l6 2l-1 0l-9 5l3 7l7 3l-6 1l-7 4l6 8l1 2l-9 0l-2 6l6 7l-4 0l-9 1l3 8l3 4l-8-1l-5 5M826 381l6-7l1-4l4 9l5 0l6 2l-3 1l-8 5l5 7l6 2l-8 2l-5 4l6 8l0 1l-10 0l-1 7l6 6l-5-1l-9 3l4 8l3 3l-10-1l-3 6M726 366l19 9l23-13l18 4l16-16M721 491l8 3l6-2l-5 5l-1 8l10 0l1 0l-6 8l5 5l9 0l-5 2l-7 5l7 7l3 1l-8 2l-2 7l8 4l-2 1l-8 5l4 6l7 3l-8 2l-4 6l9 6M716 489l10 1l3-1l-7 7l3 6l10-1l-2 2l-5 8l8 3l6 0l-7 3l-4 7l8 5l0 1l-9 3l2 7l7 3l-5 1l-7 6l7 6l4 2l-9 2l-1 8l9 4M722 494l7 4l7-2l-6 5l0 8l10 0l1 0l-6 8l5 4l9 0l-6 3l-7 5l7 6l4 2l-9 2l-2 6l8 5l-2 0l-8 5l5 7l6 2l-8 2l-4 7l9 5M772 487l9-3l3-3l-2 9l5 5l8-6l0 2l-1 10l8 0l5-5l-1 7l3 7l9-4l1-1l-1 10l5 3l8-4l-3 4l-1 9l9-1l4-2l-5 8" stroke="#ecd0d4" stroke-width="1" stroke-opacity="0.9"/>
<path d="M824 373l7-5l3-6l2 7l3 3l6 1l1 2l-9 3l2 8l7 3l-4 1l-8 3l4 9l3 2l-9-1l-4 6l7 8l-3-1l-10 1l2 8l4 5l-7-2l-7 5M690 372l9 4l3 0l-7 5l1 7l9 1l-2 1l-6 7l7 5l7-3l-4 7l2 8l10-2l1 1l-6 9l5 5l9-1M791 353l8 0l5-3l-3 7l2 7l10-3l0 0l-3 9l7 3l7-3l-3 4l0 9l9-2l2-2l-3 9l6 5l8-5l-1 2l0 10l8-1M775 489l9-3l3-3l-2 9l6 4l7-5l0 2l0 10l8-1l5-4l-2 7l4 7l8-4l1 0l-1 9l6 3l8-3l-3 5l0 9l9-1l4-1" stroke="#dca0aa" stroke-width="1" stroke-opacity="0.9"/>
<path d="M690 370l6 4l6 0l-6 4l-2 7l10 2l0 1l-7 6l5 6l8-3l-4 4l-1 8l10-1l3-1l-6 8l3 7l10-1l-2 3M787 351l9-2l3-1l-4 8l5 5l9-4l-2 3l-1 10l8-1l5-2l-4 7l3 6l9-3l0 1l-2 9l8 1l6-5l-3 7l2 7l9-3M725 364l25 11l16-14l17 4l21-17M733 339l8-2l4-4l-3 8l5 6l8-6l-2 1l6 7l4-6l-1-7l4 4l8 2l0-9l0-3l7 7l7-3l0-10l2 3l8 5M719 492l10 0l2 0l-6 7l4 6l9-2l-3 3l-4 8l9 3l6 0l-9 3l-3 6l9 5l-1 1l-9 3l3 7l7 3l-7 1l-5 6l7 6l2 1l-9 4l1 7l8 4M758 535l8-2l4-5l-2 8l4 6l8-6l1 0l1 11l7-4l0-8l3 4l7 5l3-9l-1-4l7 6l6-3l-1-10l2 2M753 535l8-3l3-4l-2 9l5 5l8-6l0 1l1 11l8-6l0-7l3 6l7 3l3-9l-1-3l7 6l6-4l-2-9l3 3" stroke="#e6c0c6" stroke-width="1" stroke-opacity="0.9"/>
<path d="M689 370l8 4l4 0l-7 5l0 7l10 1l-2 1l-6 7l6 5l7-2l-3 6l1 8l10-1l2 1l-6 8l4 6l9-1M792 353l8 1l5-4l-3 7l2 8l9-3l1 0l-3 9l7 4l8-4l-2 5l0 9l10-2l3-2l-3 8l5 5l8-5l-1 2l-1 10" stroke="#c0403e" stroke-width="1" stroke-opacity="0.9"/>
<path d="M787 349l9 1l5-3l-3 7l1 7l10-2l1 0l-4 9l7 3l7-4l-3 4l0 9l9-1l3-3l-3 9l5 4l8-5l0 2l-1 10l8 0M723 367l23 9l18-14l21 3l18-14M723 365l19 9l19-13l19 7l18-17M733 336l8-2l5-4l-2 7l3 7l9-5l-2 0l6 7l5-5l-1-8l3 4l8 3l2-10l-1-3l7 6l7-2l0-9l2 2l8 5M835 372l18-2l-7 21l13 5l-14 16l-11 6" stroke="#ecd0d4" stroke-width="1.4" stroke-opacity="0.9"/>
<path d="M733 340l8-4l2-1l-2 9l7 3l7-5l-2 4l8 5l2-8l-1-5l6 6l7-1l-1-10l1 0l8 6l5-6l-1-7l4 5l8 2M733 337l8-2l4-4l-2 8l5 5l8-5l-2 1l6 7l5-6l-2-8l4 5l8 2l1-9l0-3l7 7l6-3l0-9l3 3l8 5M835 374l17-4l-11 18l16 7l-10 16l-14 5" stroke="#c0403e" stroke-width="1.4" stroke-opacity="0.9"/>
<path d="M706 487l9 1l4-2l-5 7l2 7l10-2l-1 2l-5 8l7 3l7-1l-5 5l-1 8l10 0l2 0l-6 8l5 5l8-2l-3 4l-3 8l9 1l4-1l-6 7l3 6l9-1l-1 1M704 488l9 1l5-2l-6 7l2 7l10-2l-1 1l-4 8l6 4l7-1l-4 4l-2 8l10 1l2 0l-6 7l5 6l9-2l-3 3l-4 9l9 2l5-2l-6 6l2 7l9-1l0 1M765 486l14 11l-4 9l18 5l-4 13l14 3l-1 12l19 6l-4 12l15 0M735 622l-3-7l7-4l-1-9l6 6l5-2l8-2l1-11l2 9l8 1l1 8l5 0l6-2l2-8l2 8l8 1l0 8l5 1l7-3l0-11l4 8l8 0l5 8l-1-10l6-5l4-2l3 7l6-3l4-2l-2-6l7-3" stroke="#d08898" stroke-width="1.2" stroke-opacity="0.9"/>
<path d="M709 487l8 2l6-2l-6 6l1 7l10-1l0 1l-5 8l6 4l7-2l-4 4l-2 9l10 1l3-1l-6 7l3 6l9-1l-2 2l-4 9l8 2l6-2l-5 6l0 8l10-1l0 1M769 487l14 13l0 9l14 4l-4 13l21 3l-8 12l20 6l-5 14l17 0M749 498l9-2l3-1l-4 9l5 5l9-4l-2 3l-1 9l7 2l6-1l-6 6l0 7l10 0l0 1l-6 8l7 5l7-2l-4 4l-2 9l10 0l3 0l-6 7M728 588l4-7l8 1l6-2l2 7l8-1l5 7l-2-9l6-6l-3-7M729 591l3-7l7 1l3-7l5 6l7-3l5 6l2-9l7-3" stroke="#c04040" stroke-width="1.8" stroke-opacity="0.9"/>
<path d="M706 487l10 0l2 0l-6 8l4 5l9-2l-2 3l-4 8l9 3l5-2l-6 7l1 7l10-1l0 1l-6 9l7 4l7-2l-4 4l-1 8l9 0l3 0l-6 8l4 5l9-2l-3 3M765 491l14 12l-3 6l18 6l-6 14l20 2l-5 13l16 6l0 10l15 3M797 519l9-4l2-2l-1 8l5 4l8-6l-1 3l0 9l8-1l5-4l-2 8l3 7l9-4l4 1l-9 3l0 7l6 5l-5 0l-8 3l5 8l3 2l-9-1M753 581l5-7l8 2l5 1l1 7l5 1l8 2l6-7l3 7l7-1l3 6l5-1l7-1l1-8l6-1l7-3l5 6" stroke="#c04040" stroke-width="1.2" stroke-opacity="0.9"/>
<path d="M732 493l8 3l6-1l-6 5l0 7l10 0l0 1l-5 8l5 4l8-1l-5 3l-2 8l9 2l3-1l-7 7l3 6l9-1l-2 2l-5 9l8 3l6-1l-6 5l0 8l10 1l0 0l-6 8M744 609l-4-9l6-4l5-2l4 7l6-1l8-1l3-11l4 10l8 1l3 9l3-8l8-1l3-9l1 9l7 2l0 8l6 1l5-3l0-7l6-3l5-2l4 6M751 588l2-7l8 3l4-7l2 7l7 0l2 6l5 0l7 1l5-7l3 9l8 0l3 8l3-8l6 0l0-8l7 0l5-2l4 6M775 551l9-2l4-3l-3 9l5 5l8-4l0 1l-1 10l8 1l5-5l-2 7l3 7l9-4l2-1l-2 9l7 3l7-6l-2 4l2 9l8-2l4-4" stroke="#c04040" stroke-width="1.5" stroke-opacity="0.9"/>
<path d="M736 495l8 3l5-1l-6 5l1 7l9 0l0 1l-5 8l6 4l7-1l-5 3l-2 8l9 2l3-1l-7 7l3 6l9-1l-3 2l-4 8l8 3l5-1l-6 5l0 7l10 0l-1 1l-6 7l6 5M751 501l9-1l4-2l-4 8l4 6l9-3l-1 2l-3 8l7 3l7-1l-6 5l0 8l10 0l1 1l-6 8l5 4l8-2l-4 4l-2 8l9 1l4-1l-6 6l2 7M735 616l1-7l6-2l9 0l7 0l2-9l4 8l7-1l3 7l4-7l6 3l6 0l2 6l6 1l4 8l1-10l7-2l4 1l1 7l7 0l3 8l-2-9l6-6l-1-9l6 6l6-2l6-2l0-8M744 610l-2-8l6-4l6-2l5 7l6-1l6-3l-1-9l4 9l7 1l3 8l4-8l8 2l5-6l3 8l8 1l4 9l-1-8l7-3l-3-7l6-1l5-4l3 7M752 581l4-6l6 3l5-6l1 8l7 3l-1 7l6 2l6 1l3-8l6 1l7-1l2 8l5-1l8 0l1-8l7-1l6-4l6 5M750 586l3-8l7 1l6-1l2 7l8 0l3 8l3-8l7 0l7-2l3 8l7 0l6 1l3-7l6 0l7-4l7 6" stroke="#c86070" stroke-width="1.5" stroke-opacity="0.9"/>
<path d="M731 497l9 2l4-1l-6 6l2 7l10-1l-2 1l-5 8l7 4l7-1l-6 4l-1 8l10 1l1-1l-7 7l5 6l8-1l-4 3l-3 8l8 2l5-1l-7 6l2 6l9 0l-1 1l-6 8l7 4M797 521l8-5l2-2l-1 9l5 4l7-7l0 3l0 9l8 0l5-4l-2 8l3 7l9-4l3 2l-9 4l1 7l6 5l-6 0l-7 4l5 8l2 2M795 521l8-4l2-2l-1 9l6 3l7-6l-1 4l1 8l8-1l4-3l-3 8l5 6l8-5l3 3l-9 3l1 7l7 5l-7-1l-7 4l6 7l2 2l-10 0" stroke="#c86070" stroke-width="1.2" stroke-opacity="0.9"/>
<path d="M735 491l10 1l2 0l-6 7l3 6l9-1l-2 2l-5 9l9 2l5-1l-6 6l0 7l10 0l-1 1l-6 7l6 5l8-2l-5 4l-2 8l9 2l3 0l-7 7l4 6l9-1l-3 3l-4 8M768 488l13 11l-3 10l12 4l-1 12l18 5l-6 11l18 7l-4 10l17 3M736 618l2-8l7 0l6-4l9-3l5-2l1 8l8-1l3 8l1-8l7-3l1-8l1 9l8 3l-1 8l6 2l6-3l0-10l4 8l8 1l2 7l6 0l4-3l-4-6l6-4l-3-9l7 7l6-2l5-7M778 549l9-3l2-1l-3 9l6 4l8-5l-2 4l0 9l9-1l4-4l-2 9l4 5l9-5l0 1l-1 10l8 0l6-5l-2 7l2 7l9-4l2-2" stroke="#c86070" stroke-width="1.8" stroke-opacity="0.9"/>
<path d="M764 491l16 11l-5 10l17 6l-6 11l19 0l-5 16l18 4l-3 14l16 0M749 589l4-7l8 2l5-8l3 9l8 2l4 8l4-8l8 0l6-1l2 7l7 0l5 7l0-9l8-2l0-9l8 7l8-5" stroke="#d08898" stroke-width="1.5" stroke-opacity="0.9"/>
<path d="M799 517l8-5l2-1l-2 9l7 2l6-6l-1 4l1 9l9-2l4-3l-3 9l5 5l8-4l2 2l-8 4l1 7l6 4l-6 0l-7 4l6 7l2 1l-10 0M753 499l8 1l6-4l-4 7l2 7l10-2l1 0l-4 8l5 5l9-1l-4 3l-3 8l9 3l4-1l-7 7l3 6l9-2l-1 2l-5 8l8 3l6-2l-5 5l-1 8M783 555l9-1l4-3l-3 8l4 6l9-4l0 1l-2 10l8 1l6-5l-2 6l3 8l9-4l1-1l-1 9l6 3l7-6l-1 4l1 9l8-2l4-4M733 589l2-8l7 0l4-8l2 8l8 1l2 9l1-10l8-2l0-9" stroke="#d08898" stroke-width="1.8" stroke-opacity="0.9"/>
<path d="M720 489l10 1l2 0l-6 7l4 6l9-2l-3 3l-4 8l8 3l6 0l-8 3l-3 6l8 5l0 1l-10 3l3 7l7 3l-6 1l-6 6l7 6l3 1l-9 3l0 8l8 4M759 537l8-3l3-4l-1 8l4 6l8-6l0 1l1 10l8-4l0-8l3 5l7 4l3-9l-1-3l8 6l5-4l-1-9l2 2M756 534l9-3l3-4l-2 8l5 6l8-6l0 1l1 10l8-5l0-7l3 5l7 3l3-9l-1-2l7 5l6-4l-2-9l3 3" stroke="#c86070" stroke-width="1" stroke-opacity="0.9"/>
<path d="M719 489l9 2l4-1l-6 6l1 7l10-1l-1 2l-5 8l7 4l7 0l-7 2l-5 6l8 6l1 0l-9 3l1 7l8 3l-5 1l-7 6l6 6l5 2l-9 3l-1 7l8 4M774 487l8-3l4-3l-2 9l5 5l8-6l0 3l0 10l8-1l5-5l-2 7l3 7l9-5l1 0l-2 9l6 3l7-3l-3 4l-1 9l9-1l4-2l-5 8M776 490l9-3l3-3l-2 9l6 5l8-6l0 3l0 9l8 0l5-5l-3 7l3 7l9-5l1 0l-2 9l6 3l7-4l-2 4l-1 9l9 0l3-2l-4 8M773 487l9-3l3-3l-2 9l5 5l8-6l0 3l0 9l8 0l5-5l-2 7l3 7l9-4l1-1l-2 10l6 3l7-4l-2 4l-1 9l9-1l4-2l-5 8M758 538l8-5l2-1l-1 9l6 2l7-6l-1 4l3 10l6-8l0-5l5 7l7 0l1-9l0 0l9 5l3-7l-2-7l5 5" stroke="#c86070" stroke-width="1.4" stroke-opacity="0.9"/>
<path d="M904 359l4-10l4 8l8-1l1 5l-3 3l-6-3l-2 4l-1 5l7 2l1 7l5 0l7-1l4-9l2 10l2-10l9-4M941 364l11-16l12 1l2 12l5-4l7 4l10-11l3 8l8 6l7 5l7-7l4 7l7-12l4-9l8 2l2-4l12-10l8 14l5-10l7 6l8 10M957 391l18 26l16 0l19-11l24 1l20 5l17-4M1013 426l9-3l3-3l-3 9l6 4l8-5l-1 3l2 9l8-2l4-5l-1 8l7 6l1-11l1-1l8 5l4-5l-3-8l4 4M1043 520l9-4l3-3l-1 10l6 4l8-6l0 3l-1 9l8 1l5-4l-2 5l-5 3l4 8l1 1l-10-2l-2 7l5 6l-5-2l-8 1M1042 519l8-4l3-2l-2 9l6 3l7-6l-1 3l-1 9l9 0l5-3l-4 7l1 4l4 5l0 1l-10-1l-1 7l5 7l-6-2l-8 2M1001 498l10-1l3-1l-5 8l4 5l9-2l-1 2l-6 8l7 5l6 0l-6 4l-2 8l10 1l1 1l-7 7l5 5l8 0l-4 3" stroke="#c880b0" stroke-width="1.5" stroke-opacity="0.9"/>
<path d="M908 358l1-12l4 9l7 0l-1 6l0 8l-9 4l8 3l3 9l1-8l7-2l0-8l5 11l-1-8l5-5l-4-6M905 369l5-6l6 3l11 2l-10 9l9 1l3 7l5 0l5-5l-4-8M998 362l4-22l2-12l7-5l7 10l3 12l6 6M947 366l3 18l10 5l11 1l2 17l9 7l6 2l11-10l10-1l9-6l14-4l11-6l9 2l9-7l7-7l10-7M1076 356l6 11l1 11l15 8l-9 9l-13 3M1001 377l3 8l5 3l-7 0l-5 5l7 7l0 0l-10 2l1 7l6 5l-5 0l-8 4l5 8l3 2l-9-1l-3 6l6 7l-3-1l-9 1l2 8l5 4M1002 382l4 7l5 3l-9 0l-4 5l7 7l-1 1l-9 1l1 8l6 4l-6 0l-7 5l6 7l2 2l-9 0l-3 6l6 7l-3-1l-9 1l3 8l4 3M1019 432l6-5l7 7l7-10l4 6l8-14l7-8l6-7l9 6l1 18l-1 16M1003 480l4-8l0-5l5 8l7-1l1-9l2 1l6 8l6-6l0-7l3 7l7 3l3-9l0-1l7 7l5-6l-2-8l3 4l9 2l0-9l-1-4l7 6l6-3l-1-9l2 1M1070 400l8 4l6-1l-6 6l0 7l9 2l0 1l-7 6l4 6l6 4l-6-1l-7 5l5 8M1070 402l8 3l6-1l-6 6l1 7l9 2l0 1l-8 6l4 6l6 4l-5 0l-8 4l6 7M977 447l10-7l3 7l7-1l2 7l8 0l-8 4l0 8l-8 4l7-4l7 5l3-6l7 2l5-7l-2 9l6 5l-4 6l-2 6l-6-2l-4 6l-5-2l-7-2l1-8l-7-3l-1-7l-8 1l-1-8l-8 1M974 448l5-7l7 3l6 2l-2 7l7 4l-8 2l1 5l3 5l6-4l4 7l5-3l8-3l2-10l-1 10l6 4l-3 7l6 7l-9-4l-6 6l-6-4l-6-1l-1-7l-7-1l-1-8l-8 3l-3-7l-6 1M972 452l6-5l7 4l7-5l2 8l8-1l1 5l0 7l-9 1l0 6l2 5l8 0l2 8l8 0M990 450l8-3l4-5l0 8l6 5l7-6l2 0l-1 10l8 1l6-5l-1 5l4 9l6-8l1-3l4 8l7 0l2-9l1 2M1011 425l9-2l4-4l-2 8l4 6l8-4l0 0l1 10l7 0l5-6l-1 6l7 8l3-10l-1-3l7 6l6-4l-2-9l3 2M959 484l8 4l6-1l-6 5l0 8l9 1l1 1l-7 7l5 6l8 0l-5 3l-4 8l9 3l3 0l-7 6l3 7l9 0l-2 2l-6 8M962 486l9 3l4-1l-6 6l1 7l10 1l-2 2l-6 7l7 5l6 0l-6 4l-2 8l10 2l2 0l-8 7l4 6l9-1l-4 3l-4 8M983 493l8 5l5 0l-8 5l0 7l9 2l-1 1l-7 7l6 5l7 0l-6 3l-3 7l9 3l2 0l-8 5l3 7l9 1l-4 2l-6 7l8 4l5 0M1012 491l10 11l-4 7l14 4l-9 11l18 2l-8 10l19 4l-8 10l15 4M1042 520l8-4l4-3l-1 9l6 5l8-6l0 3l-2 9l8 1l6-3l-3 5l-6 3l4 9l1 1l-10-2l-2 7l5 7l-5-2M1001 498l9 0l3-1l-5 7l4 6l8-3l-1 2l-6 8l8 5l6 1l-7 4l-1 8l9 1l1 1l-7 7l5 5l8-1l-5 3M998 495l9 0l5-2l-5 7l2 7l10-3l0 1l-6 8l5 6l8 0l-6 4l-3 8l9 2l3 0l-7 6l3 7l9 0l-3 2M952 602l0-8l6-2l6-4l4 6l5-2l6-2l1-10l3 9l8 2l4 8l4-10l3 8l7 3l2 8l3-8l7 0l0-7l5 0l7 1l1 8l4-8l8 2l8-5l6 0l-1-8l7-1l0-7M959 594l4-8l8 2l6-2l3 7l5-1l7-1l0-8l6 0l5 0l1 7l5 1l6 1l2-7l6 0l6 1l-1 8l6 0l7 0l-1-9l7-1l10 1M980 575l5-8l7 1l6 1l1 7l6 1l6 2l3-7l6 1l7 1l2 7l7 1l6-2l-1-8l7-2l5-3l3 6l7-3M1015 548l9-1l5-3l-3 8l4 7l9-4l0 1l-1 9l7 1l6-5l-2 6l2 8l9-4l2-2l-2 9l6 4l7-6M1014 546l9-1l3-3l-3 9l4 5l8-4l0 2l-2 9l8 0l5-5l-2 7l3 7l8-5l2 0l-2 9l7 3l7-6l-2 5M1012 546l10-3l2-1l-4 9l6 4l8-4l-2 3l-1 9l9-1l4-4l-2 8l4 6l8-5l0 0l0 10l7 1l6-6l-2 7M953 577l1-6l7 0l1-8l5 1l6-2l2 6l8-1l4 7l2-9l7-2M950 577l2-8l8 1l3-9l5 7l7-1l4 6l3-8l8 0l2-7" stroke="#e8ccdc" stroke-width="1.2" stroke-opacity="0.9"/>
<path d="M911 360l1-7l5 1l5 4l-3 7l-1 6l-8 1l9-3l6 6l2-7l5 1l7 3l3 10l0-10l6-5M911 366l8-10l-1 11l7 7l-11 0l9 3l1 7l5-1l5-3l-2-7l6-4M1089 374l15-4l-10 14l13 9l-16 1M1088 377l18-2l-14 10l13 5l-15 5M1000 378l4 7l5 3l-8 0l-5 5l8 7l-1 0l-9 2l1 8l6 4l-6 0l-7 5l5 7l3 3l-10-1l-3 6l7 7l-3-1l-10 1l3 8l4 4M1070 402l7 4l7-1l-5 5l-1 8l9 2l1 1l-8 6l3 5l7 5l-6 0l-8 3l5 8M1026 372l9 0l3-1l-5 8l4 6l9-3l-3 3l-3 8l8 2l6-2l-6 6l1 8l10 0l0 1l-5 8l6 4l7-1M985 448l8-4l3-4l0 8l5 5l7-7l0 0l1 10l8 0l5-5l-1 6l3 8l8-5l0-3l4 8l7-1l2-9l2 4l6 7M1014 425l9-3l2-2l-2 9l6 4l7-5l-1 3l2 9l8-3l4-4l-1 8l8 6l1-11l1 0l8 5l4-6l-3-8l5 5M985 496l9 4l3 0l-7 6l2 7l9 1l-3 2l-6 7l7 4l5 0l-7 4l-1 7l9 2l0 1l-7 6l4 7l8 1l-5 3l-4 7l9 4M1019 493l10 13l-5 4l16 7l-9 10l18 1l-10 12l19 5l-9 8l16 4M948 605l3-7l8 1l3-8l12 5l3-10l3 7l7 1l1 7l6-1l4-1l-1-7l5-1l6 2l-1 7l6 2l5 0l0-7l6 1l6 0l-1 8l5 0l5-3l-1-8l6-3l7-2l7 7l2-8l8 0" stroke="#c880b0" stroke-width="1.8" stroke-opacity="0.9"/>
<path d="M902 361l6-10l3 9l9 3l-9 3l-1 6l2 5l7-2l6 2l1-7l6 1l5-3l8 1M911 369l3-7l7 0l7 1l2 6l-4 5l-9-1l8 3l4 8l2-9l8 1l1-7M919 368l0-10l6 5l8-1l-7 5l0 7l-8 4l9 1l4 8l3-8l8-2l0-8M1002 363l4-22l2-12l5-4l8 9l4 12l4 4M999 362l3-21l4-13l7-3l3 10l5 10l5 4M952 366l0 18l10 5l13 1l1 18l9 8l10 1l8-12l10 2l10-7l11-5l12-4l9-1l10-6l5-8l11-4M1075 354l5 14l0 9l16 6l-6 10l-13 2M1003 481l4-8l0-5l4 7l8 0l1-9l2 0l5 8l6-5l2-7l2 6l7 4l4-9l-1-2l7 7l6-4l-3-9l3 2l9 4l1-9l-1-5l7 5l8-2l-1-10M1003 478l5-6l-1-7l4 7l8 2l2-10l1-1l6 8l6-3l1-9l2 5l7 5l5-8l-1-3l6 6l6-2l-1-10l1 2l9 4l2-7l-2-6l6 5l7 0l-1-10l1-1M1070 397l10 2l3 0l-6 8l3 6l9 1l-3 2l-6 7l7 5l4 3l-8-1l-5 6l7 7M952 405l9 2l5-1l-6 6l2 7l9-1l-1 1l-3 9l7 3l6-3l-4 5M973 453l2-8l8 1l3-8l1 9l8 1l-1 7l7 3l-7 4l0 5l3 4l5-3l7 2l4-7l1 9l7 1l0 7l7 4l-9-2l-5 6l-6-3l-7 0l-1-7l-8-1l-1-8l-8-1l-1-8l-8 1M1020 373l9 1l4-2l-5 7l2 7l9-2l0 1l-5 9l7 3l7-3l-4 6l-1 8l10 0l2 0l-6 8l5 6l8-2M1023 373l8 1l5-2l-5 7l2 7l9-2l0 1l-4 8l6 3l8-2l-5 5l-1 8l9 1l3 0l-7 7l4 6l9-1M1023 370l9 1l4-2l-5 7l3 6l9-2l-1 2l-4 9l7 2l7-2l-5 5l-1 8l10 1l2 0l-6 7l4 6l9-1M955 392l17 25l14 3l22-12l21 1l20 3l19-5M956 390l18 23l14 3l21-9l24-1l18 3l19-5M991 445l8-6l1-2l0 10l7 1l5-7l0 4l2 9l8-2l4-4l-1 8l5 6l7-7l-1 1l6 8l6-5l1-7l2 6l7 4M1015 424l9-4l2-1l-2 9l6 3l7-5l-2 4l3 9l8-4l3-4l0 9l8 4l1-11l2 0l9 5l4-7l-2-8M1016 493l14 11l-6 8l14 4l-9 10l20 2l-6 14l11 0l-5 10l16 4M1039 515l9-3l3-2l-2 9l7 4l8-6l-1 4l-1 9l9 0l5-4l-3 6l-4 2l4 9l0 0l-10-2l-1 7l5 6l-5-2l-9 1M1005 499l9 1l5-2l-4 7l3 7l9-1l0 1l-7 7l5 6l8 0l-6 3l-3 7l9 3l3 0l-7 6l3 7l9-1l-3 3M955 600l0-8l6-1l5 1l6 0l1-7l7 0l6 1l-1 8l8 1l2 8l0-8l7-3l0-8l1 9l7 2l1 9l1-9l8-2l1-9l2 9l8 1l1 7l5 0l6-4l-2-11l8 7l6-4l8-2l3-9M949 571l5-7l7 2l6-7l4 9l8-1l4 8l3-9l8-1" stroke="#d8a8c8" stroke-width="1.2" stroke-opacity="0.9"/>
<path d="M912 359l-3-9l7 8l10-1l-9 4l1 7l-1 5l7 1l2 8l2-8l6-2l3-7l1 12l0-9l7-4M1076 355l8 11l1 14l14 5l-9 9l-12 3M1086 373l21-4l-14 13l15 4l-15 7M1019 430l5-5l7 8l8-10l4 8l7-17l7-8l6-7l9 7l1 17l2 15M982 454l4-7l6 2l6 1l1 8l9 3l-9 5l0 7l0 5l7 1l2 7l7 0M957 489l9 2l4 0l-7 6l2 7l9 1l-1 2l-6 7l7 5l6 0l-6 4l-1 8l9 2l1 0l-6 7l4 6l8-1l-4 3l-4 8M972 574l4-6l7 4l6-6l1 9l8 2l5 3l5-5l6 3l7-1l5 7l4-6l7 3l4-6l6 3l5-5l5 6" stroke="#d49ac0" stroke-width="1.2" stroke-opacity="0.9"/>
<path d="M905 362l5-6l6 3l9 4l-8 1l-2 8l-8 1l9 2l5 9l3-10l7-1l6-1l4 8l-4-8l5-6M913 358l-2-6l3 8l8-1l2 4l-5 5l4 9l10-6l8 3l5-5l4-5M939 364l9-16l12 2l3 12l7-5l6 3l8-11l4 7l6 8l8 5l6-7l7 8l5-13l6-11l7 3l2-4l11-11l7 13l8-7l5 8l6 7M942 367l9-17l13 2l5 13l4-5l6 4l11-12l3 10l3 2l9 9l7-9l7 11l6-15l6-8l5 1l2-4l14-10l3 12l7-8l8 10l5 8M950 362l1 17l11 4l11 3l1 18l11 5l7 3l10-12l7 2l11-6l14-5l10-5l9-2l9-6l8-6l11-8M1085 376l19-5l-15 12l16 7l-19 3M998 376l5 8l4 2l-9 0l-3 6l8 6l-2 0l-10 3l3 7l5 5l-7-1l-6 6l6 7l1 2l-10 0l-1 7l5 7l-5-1l-8 2l3 9M1019 434l6-4l9 6l5-11l6 7l7-15l5-9l6-6l8 4l1 19l0 17M1021 436l3-5l9 9l7-15l7 9l4-15l7-6l7-9l8 5l0 20l1 15M1004 479l4-9l0-3l5 8l7-2l1-9l2 2l6 7l6-6l0-6l4 7l7 2l3-9l0 0l7 6l5-6l-2-8l3 5l9 2l0-10l0-3l8 5l6-4l-1-9M978 457l4-7l8 1l6-7l0 10l8 3l-2 7l-1 6l-8 3l9-1l3 7l7-2l3 7M1022 371l9 1l4-2l-5 7l2 6l10-1l-1 1l-4 9l7 2l7-2l-5 5l-1 8l10 1l2 0l-6 8l4 5l9-1M954 393l22 25l14-3l22-7l18-2l20 3l19-2M954 392l21 23l19 0l17-7l23-2l19 5l15-4M989 448l8-4l3-4l-1 8l6 4l7-6l0 1l0 10l8-1l5-5l-1 6l4 8l8-6l-1-2l5 8l6-2l2-8l2 4l6 7M989 449l8-6l2-2l-1 10l7 2l6-7l-1 3l2 9l8-2l4-4l-2 8l5 5l7-6l0-1l5 9l6-4l2-8l1 6l7 5M957 487l7 4l6 0l-6 5l0 7l9 2l1 1l-7 7l5 6l8 0l-4 3l-4 8l9 3l3-1l-7 6l2 7l10 0l-2 2l-6 7M983 494l8 4l4 0l-8 5l1 7l10 1l-2 2l-7 6l6 5l7 1l-7 3l-2 7l9 3l1 1l-8 5l4 6l8 1l-4 2l-5 7l8 4l4 0M984 493l7 5l6 0l-7 4l-1 7l9 3l0 1l-7 6l4 6l8 0l-5 3l-4 7l8 3l4 1l-8 4l1 7l9 1l-2 2l-7 6l7 5l6 0M1017 493l10 8l-4 11l13 4l-8 11l18 1l-7 10l16 5l-11 7l20 9M1040 516l9-2l4-3l-2 8l5 6l9-5l1 1l-2 9l7 2l7-4l-2 4l-6 2l3 9l2 2l-9-2l-4 5l6 8l-3-2l-9 0M1040 518l8-5l3-1l-1 10l7 2l8-5l-1 4l-1 9l9 0l4-3l-3 6l-4 2l5 9l-1-1l-9-1l-1 7l5 6l-6-3l-8 2M1036 517l9-3l3-3l-2 8l5 5l7-6l0 2l-1 9l8 1l6-4l-3 6l0 5l4 5l0 1l-9-2l-3 7l5 7l-4-2l-9 1M1000 493l8 1l5-2l-4 6l1 7l10-2l1 1l-7 7l5 7l8 1l-5 3l-4 8l9 3l3-1l-7 6l2 7l10 0l-3 1M1001 501l9 0l4-2l-5 7l3 6l10-3l-1 2l-6 8l6 5l7 1l-6 4l-2 8l9 2l2 0l-7 6l3 6l9 0l-4 2M958 600l0-8l6-2l7-2l7 8l4-11l2 8l7 1l2 7l4-7l6 0l5-8l-1 11l7 4l4 2l2-8l6 2l7 0l3 9l2-9l8-1l0-9l8 6l7-3l6-3l-2-7M958 593l1-9l8-1l5-3l4 6l7-2l6 3l3-7l6 4l7 0l3 7l6-6l7 3l5-7l2 8l6-1l7 2l4-8l7 2l3-7M974 578l3-7l7 1l4-7l2 8l8 0l1 7l6 0l7 1l4-7l5 7l7-1l5 7l3-7l7 1l3-7l8 4l7-6M976 572l4-6l6 3l5-5l4 3l7 3l0 10l6-6l7 3l5-6l3 7l7 0l4 8l2-9l8-1l1-9l6 6l7-3l5 5M1015 548l9-3l2-1l-3 8l5 5l8-4l-2 2l0 10l8-2l4-4l-2 8l5 6l8-5l1 0l-2 10l7 1l7-5l-3 6M1012 543l9-2l3-2l-4 8l4 5l9-4l-1 2l-2 10l9-1l4-4l-2 7l4 6l8-4l1-1l-1 10l7 2l7-5l-2 5M954 578l4-7l7 2l4-7l4 7l7-1l5 8l1-9l7-2l0-7l7-1M952 578l1-7l8-1l2-8l3 8l8 0l2 8l5-1l7-2l0-7l8-3" stroke="#e0bcd4" stroke-width="1.2" stroke-opacity="0.9"/>
<path d="M912 360l6-9l2 8l7 4l-9 1l-2 6l0 5l7 2l2 9l4-10l6-1l8 2l3-3l-4-6l6-4M952 405l8 3l6-1l-6 7l1 7l10-1l0 1l-4 9l7 2l7-3l-4 5M1019 375l9 0l5-2l-6 7l3 7l9-2l0 1l-5 8l7 3l7-2l-4 5l-1 8l9 1l3-1l-6 8l4 6l9-2M960 488l9 2l4 0l-6 6l1 7l10 1l-2 1l-6 8l7 5l6 0l-6 4l-1 8l9 1l2 1l-7 7l4 5l9 0l-4 2l-4 8M1042 519l8-4l2-2l-1 9l6 3l7-6l-1 3l0 9l8 0l5-3l-4 7l1 4l5 5l-1 1l-10-2l-1 8l5 6l-6-2l-8 3M952 602l2-7l7-1l4-7l8 8l-2-9l5-3l5-1l2 7l7-1l3 8l6-7l6 2l6 2l2 9l3-9l7-1l6 1l1 8l6 0l6-2l0-8l7 0l6-3l8-2l0-9M958 598l0-7l8-2l1-9l4 8l8 0l4 8l1-8l7-2l1-8l2 8l7 1l0 7l6 0l7 0l2-8l7 1l5 1l-1 7l5 1l6-1l-1-8l6-2l5-4l4 6l7-3M1013 546l9 0l5-3l-4 8l4 7l9-4l0 2l-1 9l8 1l5-5l-2 6l2 7l9-4l2-1l-2 9l7 3l7-5M955 579l2-8l8 0l3-9l4 8l7 0l5 7l2-9l7-2l1-8" stroke="#b0508e" stroke-width="1.8" stroke-opacity="0.9"/>
<path d="M910 368l2-7l7 1l6-6l-1 10l8 6l-11 7l8 1l6 1l3-7l7 1M1077 357l4 9l3 18l15 2l-9 9l-13 5M954 408l8 3l5-1l-6 7l2 7l10 0l-1 1l-3 9l8 3l7-3M975 451l5-8l8 0l7 1l1 8l10 3l-11 1l-1 7l0 5l6-1l6 2l2-7l7 1l4-6l-2 8l7 4l-3 7l6 4l-3 4l-5 4l-6-6l-8 4l-2-8l-8 0l-1-8l-8 0l0-7l-7-2l1-7M977 453l6-6l7 3l7-1l3 7l8-1l2 6l-1 5l-8 1l0 5l1 5l7 1l2 7l8-1M957 389l18 28l16 1l21-12l19-1l21 3l16-2M1011 425l9-3l3-3l-3 9l6 5l8-6l-1 2l1 10l8-2l4-5l-1 7l8 7l1-11l0-1l8 6l5-6l-2-8l3 4M987 491l9 3l3 0l-8 6l2 7l9 1l-2 2l-7 6l7 5l6 0l-7 4l-2 7l10 2l0 1l-7 6l4 6l8 1l-5 2l-5 7l9 4l3 0" stroke="#b0508e" stroke-width="1.2" stroke-opacity="0.9"/>
<path d="M912 370l-1-9l6-4l5 1l-1 8l9 3l-8 3l2 6l3 6l5-2l4-5l-4-8M996 360l4-18l5-14l5-2l7 7l4 10l4 7M949 367l1 16l11 5l11 3l-3 16l15 6l7 5l9-13l10 2l9-7l13-5l11-4l11-2l8-6l9-6l8-8M1000 374l6 7l3 2l-9 1l-3 6l8 6l-3 0l-9 2l3 8l6 4l-8 0l-6 5l7 7l1 2l-10 0l-1 7l6 6l-5-2l-8 3l4 8l3 3M1074 402l9 2l4 0l-6 7l3 6l9 1l-3 2l-6 7l6 5l4 3l-8 0l-5 5l6 8M1070 400l8 3l5-1l-6 6l1 7l9 2l-1 1l-7 7l6 5l5 4l-7 0l-7 5l7 7M986 452l8-4l3-4l-1 8l6 4l7-7l0 1l0 10l8 0l6-5l-2 6l3 8l8-6l0-3l4 9l7-2l2-9l1 4l7 7M1001 497l8 2l6-2l-4 7l1 7l10-1l1 2l-7 7l4 6l9 1l-5 3l-4 8l9 2l4 0l-7 6l2 7l9 0M976 570l4-6l7 0l5-7l2 9l7 1l1 9l4-9l7 0l6-2l1 7l7 0l3 8l4-8l7 1l2-6l6 2l6-3M1013 544l9-1l4-3l-4 8l4 6l8-4l0 1l-2 10l8 0l5-5l-2 7l3 7l9-5l1 0l-2 9l7 3l7-6l-2 5M962 577l3-8l7 1l7-2l5 8l2-8l7-1l0-8" stroke="#d49ac0" stroke-width="1.5" stroke-opacity="0.9"/>
<path d="M912 365l4-6l5 2l6 3l-6 5l2 5l3 5l7-4l6 5l-3-8l6-5M938 364l10-17l13 3l2 12l8-6l5 5l9-13l5 10l4 5l8 7l8-8l5 8l6-13l8-9l2 1l5-3l11-11l5 13l7-8l7 9l7 6M938 367l9-15l15 3l3 12l3-8l9 6l8-13l4 10l6 2l8 7l7-6l4 6l9-9l3-11l7 5l4-6l11-13l5 14l8-7l5 6l8 10M1001 365l3-22l4-15l6-1l4 8l8 14l3 3M953 365l0 18l10 6l11 1l2 16l10 8l7 3l9-11l11 1l10-6l12-7l11-3l10-3l9-4l7-8l10-5M1074 355l9 12l2 14l15 5l-10 6l-14 8M1074 355l6 12l2 15l14 3l-9 12l-12 5M1091 364l16 2l-11 11l11 9l-14 1M1083 373l20-2l-10 14l14 10l-19 1M1086 371l19-4l-13 14l15 8l-18 4M1002 375l5 7l4 2l-8 0l-4 6l7 7l-1 0l-10 2l2 7l6 5l-6-1l-7 5l6 8l2 2l-10-1l-2 7l6 6l-4-1l-9 2l3 8l4 3M1017 432l5-5l7 9l8-13l7 7l4-13l6-10l8-7l7 6l3 18l0 18M1071 404l8 2l5 0l-6 6l1 7l10 1l-1 2l-7 7l5 5l5 4l-7-1l-7 4l6 8M952 401l10 1l3 0l-6 7l3 7l9-1l-2 2l-2 10l9 1l6-2M956 405l7 3l6-1l-6 5l0 7l10 1l-1 0l-3 9l7 3l7-3l-2 5M954 401l8 3l7-1l-6 6l0 8l10 0l2 0l-5 9l7 4l8-2M973 452l3-7l7 4l6-2l2 6l7-2l1 4l-4 6l-9-1l8 2l3 7l6-2l8-1l3-9l-1 9l6 4l-3 7l7 5l-3 4l-4 5l-7-2l-7 6l0-8l-8-2l1-8l-7-1l1-8l-8 0l-1-7l-7-1M979 456l2-6l7 1l3-7l3 8l8 1l2 6l-1 7l-9 4l8 2l2 7l7 1l1 7M979 457l2-6l8 2l3-7l4 8l7 0l1 6l1 7l-8 2l2 5l2 7l8-2l4 8M1008 423l8 0l5-4l-2 7l3 7l8-4l1-1l0 10l7 1l6-7l0 5l5 9l4-10l-1-4l7 6l6-3l-1-9l2 1M1015 421l8-3l4-3l-3 8l5 6l8-5l0 1l1 10l7-1l5-6l-1 7l7 7l2-11l0-2l8 6l5-4l-2-9l3 3M960 489l8 4l6-1l-7 5l0 8l10 1l0 1l-7 7l5 6l8 0l-5 3l-3 9l9 2l3 0l-7 6l3 6l9 0l-2 2l-6 8M956 489l9 2l4 0l-6 6l2 7l9 0l-1 2l-6 8l7 5l6 0l-6 4l-2 8l10 1l1 1l-7 6l5 6l8 0l-4 2l-4 8M983 495l7 4l6 1l-6 3l-2 8l10 2l1 1l-8 6l4 6l8 1l-4 2l-5 7l8 4l4 0l-8 5l1 6l9 2l-2 1l-7 6l6 6l7 0M981 496l8 4l4 0l-8 5l1 7l10 2l-2 1l-7 7l7 5l6 0l-7 3l-2 7l9 3l1 0l-7 7l3 6l9 1l-5 3l-5 7l9 5M1018 493l8 10l-6 9l17 6l-12 9l18 1l-6 12l18 4l-7 11l15-1M1015 494l11 9l-7 8l16 4l-7 12l16 0l-9 11l18 6l-7 12l16 0M953 603l-2-7l7-2l0-8l5 7l7-2l6-2l5-2l3 7l7-1l5 7l2-9l5-1l5 1l-2 7l5 1l6 2l1-8l6 1l6 1l3 9l2-9l7-2l2-8l5 8l7-3l6 0l1-8l7-2M952 602l-1-8l7-1l2-8l8 8l5-7l6 1l7-1l2 7l7-1l7 0l3-10l1 9l6 3l0 8l4-7l8 2l4-7l3 10l4-7l7 0l2-7l6 5l5-4l7-1l1-8M955 598l-1-8l7-2l1-9l6 7l7-3l4 7l6-3l6 0l1-8l2 8l8 0l2 9l5-7l7 3l6-5l1 9l7 2l5-1l-1-9l9-2l0-9l6 7l6-4M955 602l-3-7l7-3l-2-7l5-3l6 0l4 8l7-1l6 1l2-7l5 2l6-1l0 8l6-1l6 0l3-7l6 1l5 2l-1 8l7 2l4-1l1-7l6-2l6-3l6 6M957 593l2-9l8 1l5-3l4 6l7-3l6 6l2-11l4 7l7 0l3 7l7-7l6 4l7-1l4 8l1-10l8-2l1-8l7 6l8-2M972 570l5-6l7 4l6-1l2 6l6-1l7 5l7-5l4 7l7-4l4 7l3-7l8 1l1-7l7 1l7-2l5 6M978 575l7-5l7 4l6-2l4 7l6-2l7 3l6-6l5 7l6-1l6 2l3-7l7 2l3-6l8 5" stroke="#eed8e6" stroke-width="1.2" stroke-opacity="0.9"/>
<path d="M941 366l11-15l10 0l6 13l6-6l5 6l9-13l4 9l6 3l6 10l8-8l6 5l5-9l6-9l7 0l3-5l11-11l6 15l8-10l5 11l7 7M941 361l8-15l14 4l4 11l6-7l3 6l11-12l5 9l4 5l10 7l6-9l5 9l6-12l4-9l6 3l6-6l9-12l7 14l7-8l7 9l6 9M948 364l1 17l9 7l12 2l-1 15l12 6l7 5l8-9l11-4l10-5l12-5l10-5l11-1l8-7l11-3l7-9M999 373l6 7l3 2l-10 0l-2 7l8 6l-3 0l-9 2l3 8l5 3l-8 0l-5 6l7 7l0 1l-10 0l0 8l6 5l-6-1l-8 3l5 8l2 2M1003 478l3-8l0-4l5 7l7 0l1-10l2 2l6 7l6-6l0-6l3 6l8 3l3-9l0-1l7 6l6-5l-2-9l4 3l9 3l1-9l-2-4l7 5l7-2l-2-10M981 454l4-7l6 3l5-6l1 8l7 2l0 6l8 4l-8 3l-1 6l0 5l8-1l2 7l7-1M1021 372l9-1l2-1l-5 8l5 5l8-2l-2 3l-3 8l9 1l4-1l-5 6l1 7l10 0l-1 1l-5 8l7 4l7-1M986 494l9 4l4 0l-7 5l0 7l10 2l-2 2l-7 7l6 5l7 1l-6 3l-3 8l9 3l2 1l-8 5l3 7l9 0l-5 3l-5 7l8 4M999 501l8 2l6-2l-4 7l1 7l10 0l1 1l-8 6l5 6l8 0l-5 2l-4 8l9 3l3-1l-7 6l2 6l10 0l-2 2M1002 498l9 1l4-2l-4 8l3 7l10-1l-1 2l-7 7l6 6l7 1l-6 4l-2 7l9 2l2 0l-7 6l3 7l9-1M949 601l0-7l8 0l2-8l4 7l6-3l7 1l3-9l2 8l7 3l1 8l3-8l7-2l4-8l1 9l8 2l1 8l5-8l7 2l5 0l0 7l4 0l6-1l-1-7l7-1l4-4l6 5l1-8l7-1l0-7M979 571l7-5l7 3l8 1l3 10l7-6l7 2l7-1l2 7l7-2l6 2l3-8l7 2l8-5" stroke="#b0508e" stroke-width="1.5" stroke-opacity="0.9"/>
<path d="M941 363l10-13l12 1l3 12l7-6l4 5l10-14l4 10l6 3l8 8l5-7l10 9l4-13l6-9l3 0l5-2l12-12l4 14l8-8l6 7l7 8M1000 379l3 7l5 3l-7 0l-5 5l7 7l0 0l-10 2l1 7l6 5l-6 0l-7 4l5 8l3 3l-9-1l-3 6l6 6l-3 0l-9 1l2 8l5 4M957 487l9 3l4-1l-6 5l0 7l10 1l-1 1l-7 7l6 5l8 0l-6 4l-2 8l9 2l2 0l-7 6l4 7l9-1l-4 3l-4 8l8 3M1039 520l9-4l2-3l-2 9l6 4l7-6l0 2l-1 10l8 0l5-4l-3 7l1 4l4 5l0 1l-10-1l-2 7l5 7l-5-2l-9 2M954 594l1-8l7-1l2-8l5 7l7-2l5 8l5-9l7 1l6 0l0 7l6 0l7 3l7-5l3 8l7 1l5-2l0-8l6 0l6-4l7 4M1012 545l9-1l4-2l-3 8l5 6l9-4l-1 2l-1 9l8 0l5-4l-2 6l3 7l8-4l2-1l-1 10l7 3l7-6M1014 547l9 0l5-3l-3 7l3 7l9-3l1 0l-2 10l7 2l7-5l-3 5l2 8l9-3l2-2l-2 9l6 4l8-6M948 570l4-7l7 1l5-7l4 7l7-1l4 8l4-9l9-1M956 574l4-7l7 1l7-1l2 8l6-1l6-1l-1-7l8-2" stroke="#9a3c84" stroke-width="1.5" stroke-opacity="0.9"/>
<path d="M1000 364l2-21l3-14l7-3l5 9l7 11l3 7M1019 433l6-3l6 8l10-12l8 8l3-15l8-10l3-7l11 7l-2 18l4 17M1019 432l5-3l8 7l6-14l5 9l7-13l7-9l6-7l9 5l1 17l1 17M1004 481l4-8l0-4l5 8l7-1l1-9l2 1l6 8l6-6l0-7l3 7l7 3l4-9l0-1l7 6l5-5l-3-8l4 3l8 3l1-9l-2-4l7 5l7-2l-2-10l1 2M982 455l5-6l5 3l7 2l1 8l7 5l-9 6l8 2l0 8l7 1l0 7M987 449l7-4l3-4l-1 9l7 4l6-7l0 2l1 9l8-1l5-5l-2 7l4 7l8-6l0-2l4 9l7-3l2-8l1 5l6 6M988 451l7-5l3-4l0 9l5 4l7-7l0 1l1 10l8 0l5-5l-2 7l4 7l8-6l0-2l4 9l7-2l2-9l1 4l7 7M958 490l8 3l6 0l-7 5l1 8l9 1l0 1l-7 7l6 5l8 0l-6 4l-3 8l10 2l2 0l-7 6l3 7l10 0l-3 2l-5 8M984 496l9 3l2 1l-8 5l3 7l9 1l-4 2l-5 7l7 4l5 0l-7 4l0 8l9 2l0 0l-8 7l5 6l8 1l-6 3l-3 8l9 3M1020 493l10 9l-5 10l17 6l-8 10l15 0l-6 11l18 5l-8 9l15 3M955 598l1-6l7 0l2-8l4 7l5-2l8-3l5 0l1 7l5 1l7-1l2-10l3 9l8 1l2 9l7-12l5 8l7-1l5 7l2-9l6-2l6-2l7 0l1-8l9 0M973 574l5-7l7 4l6-6l3 7l5-1l7 5l7-5l6 4l7-2l1 8l5-1l6 0l2-6l7 0l4-7l7 9" stroke="#9a3c84" stroke-width="1.8" stroke-opacity="0.9"/>
<path d="M1002 363l2-22l4-13l7-3l5 10l5 11l4 4M1001 479l4-9l0-4l5 8l6-1l2-9l1 1l6 8l6-6l0-7l4 7l7 2l3-9l0-1l7 7l5-5l-2-9l3 4l9 3l1-9l-1-5l8 6l7-4l-2-9M1072 401l8 3l5-1l-5 6l1 7l9 2l-1 0l-7 7l5 5l5 4l-6 0l-7 5l6 7M1023 373l8 2l5-2l-5 6l2 7l9-1l1 0l-5 9l6 3l8-2l-4 4l-2 9l9 1l3 0l-6 7l4 7l9-1M955 392l20 25l14 0l22-10l22-2l19 2l19-1M1014 492l11 10l-4 8l16 6l-6 10l14 2l-9 11l19 2l-7 11l14 3M950 603l3-9l7 1l7-2l7 0l2-9l3 8l8 0l3 7l2-9l7-2l6 1l1 8l7 1l7 0l5-9l1 11l7 3l5-2l-3-7l6-2l6-4l7 6l3-7l7 1M977 576l2-8l7 2l6-2l1 7l6 1l2 7l5-6l7 2l5-6l4 8l7-1l7 0l2-8l7 0l5-3l4 6l7-3M1013 546l9 0l4-3l-3 8l4 6l9-3l0 1l-1 10l8 0l5-5l-2 6l3 8l8-5l2 0l-2 9l7 3l7-5" stroke="#9a3c84" stroke-width="1.2" stroke-opacity="0.9"/>
<path d="M947 364l2 16l7 5l13 4l2 15l10 7l7 4l7-11l12 0l10-6l12-5l13-4l7-4l11-4l7-4l11-10M950 362l2 18l9 7l11 2l-1 14l13 9l7 3l10-13l11 1l7-5l15-8l10-2l10-2l9-6l7-4l11-8M1081 355l4 15l3 12l15 4l-10 7l-14 9M1001 479l5-6l0-7l4 7l8 2l2-10l1-1l6 8l6-3l1-9l2 5l7 6l5-8l-1-4l6 7l6-3l-1-9l1 1l9 5l3-8l-2-6l6 4l8-1l0-10M951 403l8 3l6-2l-6 5l0 8l10 0l0 0l-5 8l6 4l8-3l-4 4l-1 8M971 451l3-7l7 4l4-8l4 3l7 3l-2 8l2 6l-6 4l8 0l4 7l6-1l5-2l-1-8l5-1l3 2l-3 6l8 4l-3 7l5 5l-7-1l-4 7l-6-4l-5 7l-1-9l-8-1l0-8l-8-2l-1-6l-7 0l-2-7l-7 1M1010 428l9-3l3-3l-2 8l5 5l8-5l-1 2l1 9l8-1l5-5l-1 7l7 7l2-11l0-2l8 6l5-5l-3-8l4 3M984 495l8 4l5 1l-8 4l0 7l9 3l-1 1l-7 6l6 5l7 0l-6 4l-3 7l9 3l2 0l-8 6l3 7l9 1l-4 2l-6 8l8 4M1018 488l12 11l-7 8l13 5l-6 9l16 6l-6 8l17 4l-10 10l16 2M952 574l6-7l8 4l7-3l4 6l5-2l6-1l-2-8l7-1" stroke="#d49ac0" stroke-width="1.8" stroke-opacity="0.9"/>
<path d="M1083 375l20-5l-13 12l19 8l-22 4M971 444l6-6l6 4l7-1l0 8l9 2l-9 3l-1 8l-8 3l8-1l5 5l6-3l6 5l1-8l8 0l3-8l-2 10l7 5l-4 6l0 6l-7-1l-2 7l-5-1l-6-1l2-8l-7-2l1-7l-7-2l-4-5l-7 2l-5-5M979 445l9-6l2 8l7 2l0 7l2 6l-9 5l8-3l5 6l5-4l6-1l-2-8l5 0l4 2l-3 7l7 4l-4 7l6 6l-9 0l-4 6l-6-1l-6 0l-1-7l-8-1l-1-7l-8-1l3-7l-7-3l1-6M956 487l8 4l6 0l-7 5l0 7l10 1l0 1l-7 8l5 5l8 0l-5 4l-3 8l9 2l3 0l-7 7l3 6l9 0l-3 2l-5 8M1042 521l9-2l4-4l-1 7l4 7l9-5l1 0l-2 10l7 3l7-5l-1 5l-7 2l2 9l3 3l-9-2l-5 5l5 8l-2 0M962 595l0-9l7-1l5 0l2 7l6-1l5 0l1-7l5 1l7-1l3 8l6-5l5 5l7-4l3 7l6-2l6 1l1-7l6 2l10-1M961 599l0-8l7-3l2-8l4 8l7 1l6 0l2-8l6 1l6 2l2 10l5-7l6 3l3-7l5 3l7 1l-1 7l5 1l5-1l-1-8l6-1l5-3l4 7" stroke="#c880b0" stroke-width="1.2" stroke-opacity="0.9"/>
<path d="M962 378l7-4l3-6l0 8l6 4l7-7l0 0l3 9l7-1l5-7l0 5l5 7l7-6l1-3l4 8l7-2l0-10l2 3l7 5l4-7l0-6l4 7l8 0l1-10l1 0l7 6l6-5l-1-9M938 374l7 4l6 0l-7 4l-1 7l9 2l0 1l-8 6l6 6l8-3l-4 4l-1 9l10-1l3-1l-6 8l3 6l10-1l-3 3M935 373l7 5l6 0l-6 4l-2 7l9 2l1 1l-8 6l5 6l9-3l-3 5l0 9l9 0l4 0l-6 7l2 7l10-1M980 371l18 9l19-13l21 4l18-17M969 494l6 5l7 0l-7 4l-2 7l9 2l1 1l-7 4l0 6l7 6l-6-1l-8 4l5 8l3 2l-10 0l-3 6l7 7l-3 1l-9 2l2 8M1024 493l8-1l5-4l-3 7l4 7l8-5l1-1l-1 10l7 2l6-6l-1 5l1 9l9-3l4 0l-6 7l3 7l10-1l-2 2M1024 492l8-2l4-4l-3 8l5 6l8-5l0 1l-1 9l7 1l6-5l-2 6l2 8l9-3l3 0l-6 8l5 5l9-2l-3 4" stroke="#e8ccdc" stroke-width="1" stroke-opacity="0.9"/>
<path d="M964 384l7-4l3-6l1 7l6 5l6-7l1-1l2 9l7-1l4-7l1 5l5 7l7-6l0-3l5 7l6-1l1-9l2 2l7 6l5-7l-1-6l5 6l8 1l1-10l0-1l8 6l5-5l-1-8M963 382l6-6l2-4l2 9l6 2l5-8l1 2l3 9l7-4l3-6l0 7l6 6l6-8l1-1l3 10l7-4l0-8l2 4l8 4l3-8l0-4l5 7l7-1l0-10l2 1l8 6l4-7l-1-7l5 5M938 371l8 4l5 0l-8 5l1 7l9 1l-1 1l-7 7l7 5l6-3l-4 5l0 8l10-1l2-1l-6 8l5 6l9-1l-4 3M974 371l20 9l16-14l21 6l18-16M983 342l8-2l4-4l-2 7l4 6l8-5l-1 1l6 7l4-6l-1-8l4 5l8 2l1-9l-1-3l7 6l6-2l0-9l2 2l8 5M981 343l9-2l4-4l-3 8l5 6l8-5l-2 1l7 7l3-7l-1-7l4 5l8 2l0-10l0-3l7 7l6-3l0-9l3 3l8 4M974 493l9 3l2 0l-7 6l2 6l9 1l-3 1l-6 6l3 6l5 3l-8 0l-6 5l7 7l-1 1l-10 1l1 7l6 5l-6-1l-7 4l6 8l2 1M999 530l9-3l3-2l-1 9l6 4l6-7l0 2l7 7l5-7l0-6l4 7l8 0l1-9l1-1l7 6l6-5" stroke="#eed8e6" stroke-width="1.4" stroke-opacity="0.9"/>
<path d="M963 378l6-8l1-2l3 10l7 0l4-8l1 4l4 8l7-5l3-4l1 8l6 4l6-8l0 1l6 8l5-6l0-7l3 5l8 3l2-9l0-3l6 8l7-4l-1-9l3 3l8 4l4-8l-1-5M975 368l15 12l21-13l17 4l21-17M979 343l8-1l5-4l-2 7l3 6l8-4l-1-1l6 8l5-5l-2-9l3 4l8 3l2-8l-1-4l7 6l6-2l0-9l2 1l8 6M982 341l8-2l4-4l-2 8l4 6l8-5l-2 1l7 6l4-6l-2-7l4 4l8 2l1-9l0-3l6 6l7-3l0-9l2 3l8 5M966 491l8 4l5 0l-7 4l0 7l10 2l-1 0l-6 5l1 6l6 5l-7-1l-7 4l5 8l2 2l-10 0l-2 7l7 5l-3 0l-9 3l4 7l4 3M1021 489l8-3l3-2l-2 9l6 4l7-6l-1 3l0 9l9-1l4-4l-3 8l4 6l9-4l1 1l-5 9l6 4l8-2l-3 4M996 531l9-5l2-1l-1 10l7 2l6-6l0 3l7 6l4-8l1-5l4 8l8-1l0-10l1 0l8 6l5-6" stroke="#eed8e6" stroke-width="1" stroke-opacity="0.9"/>
<path d="M964 378l7-7l1-2l2 9l7 1l4-8l1 3l4 9l7-5l3-5l1 8l6 4l6-8l0 1l6 8l6-6l-1-7l3 5l8 3l2-9l0-3l6 8l7-4l0-9l2 3l9 4l3-8l0-6M977 373l19 9l19-17l19 6l19-14M967 495l7 4l6 0l-6 4l-2 7l10 2l1 0l-8 5l1 6l6 5l-5 0l-8 3l4 8l3 3l-9-1l-3 7l7 6l-3-1l-9 2l3 8l5 4M969 491l7 4l6 0l-7 4l-1 7l10 2l0 0l-7 5l1 6l6 5l-6-1l-8 4l4 8l2 2l-9 0l-2 7l7 5l-3 0l-9 3l3 7l5 3M1025 495l9-3l3-2l-3 9l6 4l8-5l-1 2l0 10l8-1l5-4l-3 7l3 7l9-4l1 1l-4 8l6 5l8-3l-4 5" stroke="#d8a8c8" stroke-width="1" stroke-opacity="0.9"/>
<path d="M1076 386l6-8l2-3l3 9l4 0l7 2l-4 1l-8 5l5 7l6 2l-8 2l-5 4l6 8l0 1l-10 0l0 8l6 5l-6-1l-8 3l5 8l2 3l-9-2l-4 7M1073 381l7-6l2-6l3 8l3 2l7 2l-1 1l-9 4l3 7l7 3l-6 1l-7 4l5 8l2 2l-9 0l-3 6l7 7l-4-1l-9 2l2 8l4 4l-8-2l-5 5M941 372l7 4l6 0l-7 4l-1 7l9 2l1 0l-7 7l4 6l9-3l-3 5l-1 9l10 1l4 0l-7 7l3 6l10 0M1040 361l9 0l4-3l-4 8l3 6l10-3l0 1l-3 9l7 3l7-3l-3 5l1 9l9-2l2-2l-2 10l7 3l7-5l-1 3l1 10M980 371l19 8l18-13l20 5l16-13M964 491l9 3l4 0l-7 5l1 7l9 1l-2 1l-6 5l3 6l5 5l-8-1l-6 4l6 8l1 1l-10 0l-1 8l7 5l-5-1l-8 4l5 8l3 2M998 533l8-4l3-3l-2 9l6 4l7-6l-2 2l6 8l5-7l0-6l4 6l7 3l2-10l1-2l7 7l6-5l-1-8" stroke="#b0508e" stroke-width="1" stroke-opacity="0.9"/>
<path d="M1073 382l7-7l1-4l3 9l4 0l7 2l-3 1l-8 5l4 7l6 2l-7 2l-6 4l6 8l1 1l-10 0l-1 7l7 6l-5-1l-9 3l4 8l3 3l-9-1l-4 6M967 494l8 3l5 0l-8 5l1 7l10 0l-2 2l-6 5l2 6l5 4l-7-1l-7 5l6 8l1 1l-10 0l-1 7l7 6l-4-1l-9 3l5 8l4 3" stroke="#e0bcd4" stroke-width="1.4" stroke-opacity="0.9"/>
<path d="M1072 380l7-6l1-5l3 8l4 2l6 1l-1 0l-9 4l3 7l8 2l-7 1l-5 5l5 7l2 2l-9-1l-2 7l7 6l-4 0l-9 1l2 9l4 4l-8-2l-6 5l6 8M1039 356l8 1l5-3l-3 7l1 7l10-2l1 0l-4 9l7 3l7-4l-3 4l0 9l9-1l3-3l-3 9l5 5l8-6l0 3l-1 9l8 0M1025 489l8-2l4-4l-2 9l4 5l9-5l0 1l-1 9l7 1l6-4l-2 5l1 8l9-2l3 0l-5 8l4 5l9-2l-2 3M1025 492l9-4l2-2l-2 9l6 3l7-5l-1 3l0 9l9-2l4-4l-3 8l4 6l9-5l0 2l-5 8l7 4l7-3l-4 5l-1 8M993 531l8-1l4-5l-2 7l4 7l8-6l-1 0l5 8l6-4l1-8l2 5l8 4l3-9l-1-4l7 6l7-2l0-10" stroke="#e0bcd4" stroke-width="1" stroke-opacity="0.9"/>
<path d="M1074 381l6-7l2-4l3 8l3 1l7 2l-2 1l-9 5l4 7l6 3l-6 1l-7 5l6 7l1 1l-9 1l-1 7l6 6l-5-1l-8 2l3 8l3 3l-9-1l-4 6M998 530l8-2l3-5l-1 8l4 6l8-6l-1 0l5 9l6-4l1-8l2 5l8 4l2-9l0-4l7 6l7-3l-1-9" stroke="#d8a8c8" stroke-width="1.4" stroke-opacity="0.9"/>
<path d="M941 374l6 4l7 0l-7 4l-2 7l9 3l1 0l-7 6l4 6l9-2l-3 4l0 9l9 1l4 0l-6 7l2 7l10 0M1038 358l9 0l4-3l-3 8l3 6l9-3l0 1l-3 9l8 3l7-4l-3 6l1 9l9-2l2-2l-2 9l6 4l7-5l-1 3l0 9M996 528l8-3l3-3l-1 9l5 4l7-6l-1 2l6 8l5-6l0-7l4 7l7 2l2-10l1-1l7 6l6-5l-1-8" stroke="#b0508e" stroke-width="1.4" stroke-opacity="0.9"/>
<path d="M1039 355l8 0l5-3l-4 7l3 7l9-3l1 0l-4 9l7 3l7-4l-3 5l0 8l9-1l2-2l-3 9l6 4l8-5l-1 3l0 9l9-1M1039 357l9-1l4-2l-4 8l4 5l9-3l-1 2l-3 9l8 1l6-3l-4 6l2 8l9-3l1 0l-2 9l6 2l7-5l-2 5l1 9l9-3M982 344l9-3l3-3l-2 8l5 5l8-5l-2 2l7 6l3-7l-1-6l4 5l8 1l0-10l0-2l8 7l6-4l-1-9l3 4l8 4M1025 491l8 0l5-5l-2 7l3 7l8-4l1 0l-1 9l7 2l6-5l-1 5l1 8l9-2l4 0l-6 7l3 6l10-1l-2 2M996 533l8-5l2-2l-2 9l6 4l7-6l-2 3l7 7l4-7l0-6l5 7l7 1l1-10l1-1l8 6l6-5l-1-8" stroke="#e8ccdc" stroke-width="1.4" stroke-opacity="0.9"/>
<path d="M884 586l1-7l7 0l2-8l6 6l6-4l6 4l4-6l6 2l4-7l5 9l9 0l3 7l8-3l4 7l7 2l-1 8l7 2l5 1l4-6l7 1" stroke="#d49ac0" stroke-width="1.3" stroke-opacity="0.9"/>
<path d="M886 585l2-8l8 0l6-4l5 5l6-4l6 1l2-8l6 1l6 1l1 9l8-1l4 7l8 0l3 7l8-1l4 7l7-6l8 3M882 579l3-7l9 0l4-8l5 7l7-1l6 7l3-13l7 7l10-2l1 8l7 0l2 6l8 0l2 10l8 1l6 2l3-7l7 2l3-7M949 478l3 7l-6 3l3 7l-7 3l2 9l-7 5l0 7l-6 3l0 7l-7 4l9 0l1 8l7-1l2 7l8 0l2 7l8 0" stroke="#eed8e6" stroke-width="0.84" stroke-opacity="0.9"/>
<path d="M876 583l2-7l7 1l2-7l6 2l7-2l2 8l7-2l6 0l3-7l5 0l7 1l1 9l8-3l4 6l7-3l2 7l8 1l-1 7l6 2l5 2l3-7l6 2l4-6" stroke="#b0508e" stroke-width="1.3" stroke-opacity="0.9"/>
<path d="M947 483l2 6l-6 4l3 7l-7 3l1 8l-7 2l2 7l-7 5l3 8l-7 6l9 1l2 8l8-1l3 6l7-1l3 6" stroke="#c880b0" stroke-width="1" stroke-opacity="0.9"/>
<path d="M945 483l4 7l-7 4l4 7l-9 3l-2 8l-5 5l3 7l-6 5l3 6l-2 6l8 2l-1 7l8-1l4 6l7-1l3 7" stroke="#9a3c84" stroke-width="1.3" stroke-opacity="0.9"/>
<path d="M941 486l3 6l-5 5l1 6l-7 2l0 7l-6 3l3 7l-4 6l4 5l0 9l8 3l0 7l8 2l0 8l8 2M919 589l9 0l4 8l7-1l1 7l6-1l6 4l6-6l6 4l6-5l7 3l6-5" stroke="#e0bcd4" stroke-width="0.84" stroke-opacity="0.9"/>
<path d="M910 587l7-3l3 7l6-3l4 5l8-1l-3 9l6 4l4 3l4-8l7 4l4-6l7 4l4-7l7 5" stroke="#d49ac0" stroke-width="1" stroke-opacity="0.9"/>
<path d="M916 583l9 0l3 9l9-1l2 8l8-1l4 6l6-3l6 3l6-6l7 4l5-7" stroke="#9a3c84" stroke-width="1" stroke-opacity="0.9"/>
<path d="M916 583l8 0l2 6l8-1l1 8l7 1l2 7l9-3l7 5l5-6l7 1l4-7" stroke="#e8ccdc" stroke-width="0.84" stroke-opacity="0.9"/>
<path d="M1159 354l4-8l2 10l9 4l-8 3l0 8l-8 4l9-2l5 7l3-9l8 1l6-4l9-4M1160 360l2-7l5 1l6 9l-6 10l10 0l6 7l1-10l5 6l4-2l4-3l-5-5l4-5M1157 361l9-8l5 9l9 2l-8 3l1 6l0 6l5-1l6 1l-1-8l7-1M1193 363l10-15l12 1l4 11l6-5l6 6l11-13l3 10l6 1l6 9l8-8l6 9l5-11l8-11l5 1l3-4l15-11l1 15l10-9l7 8l5 8M1255 359l5-21l4-14l7 0l5 6l4 12l5 6M1252 360l7-20l2-15l6-1l3 8l11 12l0 5M1203 361l4 17l9 6l11 1l1 16l13 7l5 4l12-11l8 1l9-6l15-6l10-3l11-3l10-7l7-5l9-7M1328 358l6 8l3 16l13 4l-8 9l-13 3M1256 374l4 8l4 3l-8 0l-4 6l7 6l-1 1l-9 1l1 8l6 5l-7-1l-7 4l5 8l2 2l-9 0l-3 6l7 6l-4 0l-9 1l3 8l4 3M1257 374l3 8l5 3l-7 0l-6 5l7 7l0 1l-9 1l-1 7l7 5l-5 0l-8 4l6 8l3 3l-9-1l-4 5l6 7l-2 0l-9 1l1 8l5 4M1331 403l9 3l5-1l-6 7l1 7l9 1l-1 2l-7 6l5 6l6 3l-7 0l-7 5l7 7M1323 398l10 2l3-1l-6 7l3 7l9 1l-2 1l-7 7l6 5l5 4l-8-1l-6 6l6 7M1325 403l9 2l4-1l-6 7l2 7l9 1l-1 2l-7 7l5 5l5 4l-7-1l-7 5l6 8M1204 402l9 2l3-1l-6 7l3 6l9-1l-3 2l-2 9l8 2l6-2l-4 7M1204 405l9 2l5 0l-6 6l2 8l10-1l0 1l-3 10l8 2l6-2M1208 400l8 3l6-1l-5 6l0 8l10 0l1 0l-4 10l7 4l8-3M1225 450l3-7l8 1l4-8l5 9l9 1l-6 3l1 8l-8 3l8-1l4 5l6-2l6 6l0-10l6-2l5 4l-4 8l6 6l-8 0l-1 7l-6-1l-6 0l-1-6l-7-1l-1-7l-8 1l-1-8l-10-2M1223 446l6-7l7 3l7-1l2 8l8 1l1 5l-3 7l-10 4l10-4l9 6l5-8l6 1l4 4l-4 7l6 8l-9-2l-4 7l-6-2l-7-1l0-8l-7-2l-1-8l-8 0l-2-6l-8 0M1222 444l4-8l9 2l5-8l2 9l7 1l-1 7l8 3l-10 3l-1 7l0 5l7 1l4 8l1-9l8-2l2-9l-1 8l7 4l-3 6l6 4l-2 4l-3 4l-6-5l-6 4l-3-8l-7 0l-2-7l-7 1l-4-9l-9 1M1228 443l5-5l5 5l8 1l2 6l0 7l-8 5l11 0l5 9l4-8l7 1l2-7l4 1l4 3l-5 6l5 5l-5 5l4 7l-6-4l-6 5l-5-6l-7 5l-2-8l-8-1l-2-8l-8 0l0-9l-8-3M1234 459l4-6l6 3l6-6l3 10l8 0l1 7l1 6l-8 4l8 2l2 7l8 0M1233 458l4-5l7 3l6-7l1 9l8 1l-1 6l-2 8l-10 1l9 2l2 8l8-1l2 8M1277 371l8 1l6-2l-5 6l1 7l10-2l0 1l-4 8l6 4l7-3l-4 5l-1 8l9 2l3-1l-6 7l4 7l9-1M1242 447l7-5l2-3l0 9l7 2l5-7l0 3l2 9l8-1l5-5l-2 8l5 6l8-6l-1-1l5 9l7-4l2-8l2 6l6 5M1243 452l7-3l4-5l-1 8l5 5l7-7l1 1l1 10l7 0l6-6l-1 6l3 8l8-5l0-3l4 8l7-1l2-9l2 4l6 7M1263 426l8-1l5-4l-2 7l3 7l9-5l1 0l0 10l7 1l6-7l0 6l6 8l3-10l-1-3l7 5l6-3l-2-9l2 2M1267 422l9-3l3-1l-3 9l7 4l7-5l-1 4l3 9l8-4l3-4l0 8l7 5l1-11l1 0l8 5l4-6l-2-8l4 5M1209 485l9 3l5 0l-7 6l1 7l10 1l-2 1l-6 7l6 5l7 0l-6 4l-2 8l10 1l2 0l-7 7l4 6l9-1l-4 3l-4 8M1269 487l11 13l-6 5l15 6l-11 12l20 1l-6 8l15 4l-5 13l15 0M1253 496l9 1l5-2l-4 7l2 8l10-1l0 2l-7 7l5 6l8 0l-6 3l-2 8l9 2l3 0l-7 6l3 7l9-1M1209 591l1-7l8-1l1-9l4 8l7 1l4 7l2-8l6-2l2-9l3 9l7 2l2 10l5-8l8 0l5-7l1 8l7 2l-2 7l5 2l4-3l-2-7l7-3l-1-9l7 8l9-2M1229 569l3-8l9 1l5-8l1 9l7 3l0 9l7-7l7 1l7-2l4 7l7-3l6 2l2-6l6 1l6-3l6 5M1228 568l5-7l6 4l7 0l2 8l6 1l5 1l2-8l7 0l3-8l3 9l8 1l4 8l4-8l8 0l4-8l6 6l8-4M1267 539l8 0l6-4l-4 7l2 7l9-3l1 0l-3 9l8 2l6-5l-1 4l1 9l9-3l3-3l-2 9l5 4l8-5l0 2M1206 567l3-7l8 2l5-7l1 9l7 3l1 10l3-9l7-2l0-8l7-2" stroke="#c8c0dc" stroke-width="1.2" stroke-opacity="0.9"/>
<path d="M1160 360l4-9l2 8l7 2l-1 5l-3 6l-8-1l7 3l1 7l5-1l6-3l-1-10l6 7l6-1l6 6l0-12M1332 354l5 12l2 14l19 4l-13 11l-15 1M1257 478l4-9l0-2l5 7l7-2l1-9l2 3l7 7l5-8l1-5l3 8l8 1l3-9l0 1l8 6l3-7l-2-7l5 5l8 1l0-10l-1-2l8 5l5-4l-2-9l3 3M1235 491l7 5l6 0l-6 4l-2 8l9 2l1 1l-8 6l4 7l9 1l-5 2l-5 8l8 4l4 0l-7 5l0 6l10 1l-2 2l-7 6l6 5M1233 491l7 5l6 1l-6 3l-2 8l9 2l1 1l-7 6l3 7l9 1l-5 2l-4 8l8 4l4 0l-7 5l0 8l10 1l-2 2l-6 7M1295 515l8-4l3-3l-2 9l5 4l8-5l-1 1l0 10l8 0l5-4l-2 7l0 4l4 5l0 1l-9-2l-3 7l4 7l-4-1l-9 0M1205 597l0-9l6-1l6-2l5 6l6-1l3-3l-2-8l4 7l8-1l4 8l1-9l6-2l6 2l0 8l7 2l5 2l3-7l5 1l6 0l1 7l5-1l6-3l-1-10l9 5l6-6l6 2l4-7" stroke="#b05090" stroke-width="1.5" stroke-opacity="0.9"/>
<path d="M1161 359l0-9l7-3l4 1l-2 8l7 4l-10 2l-2 6l2 6l8-1l4 8l1-10l5-2l8 1l5-4M1327 399l10 2l3 0l-6 7l3 7l9 1l-2 1l-7 7l6 5l5 4l-8-1l-6 6l7 7M1327 402l10 1l3 0l-7 8l4 6l9 0l-3 2l-6 8l6 4l4 4l-8 0l-5 5l7 7M1232 444l3-9l4 9l8 0l1 6l2 8l-9 6l8-3l6 6l3-7l7 1l2-6l4 1l5 3l-4 7l6 4l-3 5l-3 6l-8-4l-6 7l-3-7l-7 1l-3-7l-8 2l-1-9l-9-1l-1-8M1233 455l2-6l7 2l4-8l2 8l8 0l1 7l7 0l2 5l-4 6l-11 0l9 3l1 7l7 1l1 9M1207 391l19 25l17 3l21-10l20 0l21 3l16-5M1234 492l8 3l4 1l-8 5l2 7l9 1l-2 1l-7 8l7 5l6 0l-6 4l-2 8l9 3l1 0l-8 6l4 6l8 0l-5 3l-4 7l8 3M1270 489l11 8l-5 11l17 3l-9 10l18 3l-8 12l17 3l-8 10l15 1M1227 569l5-6l6 3l6-6l1 10l7 3l5 3l4-5l6 4l6-6l5 7l7-2l8 2l6-7l8 4l6-7" stroke="#d090b8" stroke-width="1.5" stroke-opacity="0.9"/>
<path d="M1161 361l7-10l0 9l8 6l-9 1l-1 6l-1 7l5 3l6-2l0-7l7-3l3-8l2 9l4 1l5-8M1160 359l-1-7l4-2l5 5l-2 7l-1 8l-9 5l10-2l8 6l3-7l7 2l6-5l6-4l-1-9M1162 368l6-11l5 8l10 2l-9 4l-1 7l1 5l7 0l3 7l1-8l7-3l-1-7M1196 364l9-15l13-1l5 13l4-7l5 7l14-14l1 10l6 3l7 8l10-8l3 8l6-12l8-8l5 2l4-5l12-10l4 12l9-7l3 7l9 8M1200 362l3 19l9 6l11 0l-1 17l13 9l7 3l10-13l10 2l10-8l12-5l11-4l11-2l11-6l7-4l9-10M1343 379l16-8l-8 16l12 6l-16 3M1272 434l8-1l6 6l7-11l8 7l4-13l10-9l4-7l10 5l0 15l0 20M1259 481l5-7l0-6l4 6l7 2l2-10l1-1l6 8l6-3l2-8l2 5l7 5l4-8l0-3l6 7l6-3l-1-10l2 2l8 4l3-8l-2-6l5 6l8-1l-1-9l0-1M1254 476l4-9l0-3l6 7l7-1l1-10l2 2l6 7l6-6l1-6l2 7l8 3l3-9l0 0l7 6l5-6l-2-8l4 4l8 2l1-9l-1-3l7 5l6-3l-2-9l2 1M1278 370l8 1l5-2l-5 7l2 7l10-1l0 1l-4 9l7 3l7-1l-5 4l-1 9l10 0l2 0l-6 8l5 6M1280 369l9 1l4-2l-5 7l3 7l9-1l0 1l-4 9l7 3l7-2l-5 5l-1 8l9 0l2 0l-6 7l4 5l9-1M1208 489l10 2l3 0l-7 7l3 6l10 0l-3 2l-5 8l7 4l6 0l-6 4l-1 8l10 1l0 0l-7 8l6 5l8-1l-5 3l-3 8M1236 493l8 4l4 0l-7 5l0 7l10 2l-2 1l-7 7l6 6l7 0l-6 4l-3 8l10 3l1 0l-8 6l4 6l8 0l-4 2l-5 7l8 4M1270 487l11 11l-7 11l17 2l-9 11l17 1l-6 10l19 6l-10 8l16 4M1270 488l13 11l-8 5l16 8l-7 10l17 2l-7 9l15 3l-7 11l14 2M1273 485l8 12l-5 11l17 2l-9 10l19 2l-10 9l16 6l-4 7l15 6M1290 516l8-4l2-3l-1 9l6 4l6-7l0 3l-1 9l9 1l5-4l-4 7l1 4l4 5l0 1l-9-2l-3 7l5 7l-5-2l-9 1M1293 515l8-2l4-4l-2 7l4 6l8-5l1 1l-2 9l7 2l7-5l-2 6l-1 4l3 5l2 3l-9-3l-4 6l5 8l-3-1l-10 0M1252 494l9 0l4-1l-5 8l4 6l10-2l-2 3l-6 7l7 4l6 0l-6 4l-2 7l10 1l1 1l-7 6l4 6l9-1l-5 3M1254 497l9 1l5-2l-5 6l2 7l10-2l1 1l-7 7l5 6l8 0l-5 3l-3 8l9 3l3-1l-7 6l2 7l9 0l-2 1M1203 595l0-7l7 0l5-3l5 6l3-8l7 1l5 0l1 7l5 0l7-2l2-9l3 8l8 1l3 9l3-8l7 1l3-8l1 8l6 3l0 7l2-8l8-1l-1-8l5 0l8 2l5-1l-1-9l9-2M1209 590l0-8l7-1l7-2l3 8l8-2l6 1l2-8l5 1l5 3l-1 9l6-7l9 2l5-8l3 8l7-2l4 8l2-8l8-2l1-8l6 5l7-4M1216 596l-1-8l8 0l-1-8l6 0l5 0l2 7l5 0l6-1l0-8l6-1l5 1l1 7l6 0l8 2l7-8l1 9l7 2l3 9l0-10l6-4l-1-9l7 5l6-4l5 5M1238 569l0-8l6 0l7 1l0 9l7 1l6 1l3-7l6 2l7 0l1 8l7-1l6 1l1-7l7 2l5-4l6 4l6-4M1206 574l6-7l8 3l6-3l3 6l5-2l6 0l0-8l8 0" stroke="#b8b8dc" stroke-width="1.2" stroke-opacity="0.9"/>
<path d="M1157 358l10-5l1 6l-3 7l-10 2l8 0l4 6l6-1l7 1l2-4l7-1l2-7M1194 361l10-17l14 4l4 9l4-4l9 4l7-14l2 10l9 7l9 5l5-6l6 7l5-12l7-10l8 2l2-3l12-13l5 16l7-8l7 6l7 7M1342 374l20-6l-11 13l13 8l-19 1M1260 481l4-8l0-5l5 7l7 1l2-10l1 0l6 8l6-4l2-8l2 6l7 4l4-8l0-3l7 7l6-4l-2-9l2 2l9 4l2-9l-1-5l6 5l8-2l-1-10M1206 402l9 2l4 0l-7 7l3 7l9-1l-1 2l-3 9l8 1l6-3l-5 6M1275 372l9 1l4-2l-5 7l3 6l9-2l-1 1l-4 9l7 2l7-2l-4 5l-1 8l9 1l2 0l-6 7l5 6l9-1M1277 373l8 1l5-2l-5 7l2 6l9-2l0 1l-4 9l7 3l7-2l-5 5l-1 8l10 1l2 0l-6 7l4 6l9-1M1230 493l10 3l2 0l-7 6l2 6l9 1l-2 2l-7 7l8 5l5 1l-7 4l-1 8l10 2l-1 1l-7 6l5 6l8 0l-6 2l-4 8l9 3" stroke="#a8407f" stroke-width="1.8" stroke-opacity="0.9"/>
<path d="M1160 364l3-8l6 1l6 1l1 8l8 4l-14 1l10 4l2 10l1-9l7-3l-1-7l7-3M1197 365l11-14l13 0l3 13l7-5l4 6l10-14l5 7l5 7l8 5l6-6l7 8l6-12l5-11l6 4l5-5l11-12l6 12l9-5l4 7l7 8M1344 373l18-8l-10 15l13 8l-18 6M1210 390l19 28l17-2l21-10l21 0l22 5l18-4M1212 393l15 24l17 0l20-9l25-2l20 4l18-4M1243 448l8-4l2-4l0 9l6 4l6-7l1 2l0 9l9 0l5-5l-2 7l4 7l8-6l-1-2l6 8l6-3l2-8l1 4l7 6M1264 422l8 0l5-4l-2 7l3 7l9-5l0 0l1 10l7 0l6-6l0 5l6 9l3-10l-1-4l7 6l6-3l-2-9l1 1M1267 489l12 12l-7 11l18 1l-8 10l16 3l-7 11l16 5l-6 7l15 3M1217 591l0-8l6 0l6-1l2 7l5-1l6 0l1-8l5 0l7 0l2 8l7 1l5 0l3-6l7 1l5-8l0 10l6 3l5-1l1-8l5-1l8 1M1224 571l6-5l7 4l7-7l1 10l6 2l6 2l2-8l6 2l7-1l4 7l7-1l7 1l1-8l9 1l4-8l2 9l8 3M1200 573l4-7l8 3l5-7l6 7l8-2l8 1l4-8" stroke="#b05090" stroke-width="1.2" stroke-opacity="0.9"/>
<path d="M1158 367l4-8l8 0l6 1l1 5l-3 5l-9 1l9 1l4 7l5-2l7-6M1195 363l13-15l12 2l4 11l7-6l9 4l7-10l3 7l6 2l8 9l7-8l5 7l5-10l7-7l5 0l4-5l13-11l7 15l6-10l5 10l9 9M1252 362l5-20l5-15l5-2l6 10l6 10l4 4M1254 362l3-23l4-13l7-1l7 6l4 11l4 7M1201 367l0 13l13 6l10 3l0 15l12 8l6 3l10-9l12-1l8-6l14-5l11-7l11 0l8-5l9-8l10-8M1334 353l6 13l2 14l15 3l-10 11l-13 2M1345 376l15-8l-11 15l14 11l-20 2M1345 377l16-4l-11 14l10 8l-15 0M1257 374l3 8l5 3l-8 0l-5 5l7 7l0 1l-10 1l0 8l7 4l-6 0l-7 5l5 7l3 3l-9-1l-4 6l7 7l-3-1l-9 1l2 8l4 4M1274 430l5-4l8 9l7-12l6 9l7-17l7-7l7-8l6 4l2 20l1 16M1209 404l9 2l4-1l-6 7l2 7l10-1l-2 2l-3 9l8 2l6-3l-4 6M1229 454l4-6l6 3l6-6l1 9l8 2l0 7l1 5l-7 4l8 1l1 8l8-1l1 7M1207 390l18 25l14 2l24-11l19-1l23 6l15-4M1207 390l23 24l12 0l21-9l21 0l23 4l19-3M1267 422l8-1l4-4l-2 8l4 6l9-4l-1 1l1 9l8 0l5-7l-1 7l7 7l3-10l-1-3l8 6l5-4l-1-9l2 3M1209 485l7 4l6-1l-5 5l-1 8l10 1l1 1l-7 7l4 6l8 0l-4 3l-4 8l9 3l3-1l-6 6l1 7l10-1l-2 2l-6 8M1211 488l8 3l5-1l-6 6l0 7l10 1l0 1l-7 7l6 6l7 0l-5 3l-3 8l10 2l2 0l-7 6l4 7l9-1l-3 2l-5 8M1231 495l9 3l3 0l-7 5l2 7l9 1l-3 1l-6 7l7 5l6 0l-7 4l-2 7l10 2l0 1l-8 6l5 5l8 0l-5 3l-4 7l8 3l3 0M1271 490l12 8l-7 7l15 4l-5 10l15 4l-6 10l17 4l-9 12l16-1M1290 515l9-4l2-3l-2 10l6 3l7-7l0 3l0 10l8-1l5-4l-3 8l1 3l4 6l0 0l-10-1l-2 7l5 7l-6-2l-8 2M1255 496l10-1l3 0l-4 8l5 6l9-2l-3 3l-5 8l8 4l5 0l-7 6l0 7l10 0l-1 1l-6 7l6 5l7-1M1254 495l9 0l5-2l-4 8l3 6l10-1l-1 2l-7 7l6 6l8 1l-6 4l-3 7l10 2l2 0l-7 6l4 6l9-1M1207 595l5-11l5 6l6-3l7 0l3-8l3 8l7 0l3 7l2-9l7-1l5 1l-1 7l7 1l2 8l3-8l7-1l6-1l1 7l5-1l6-2l1-9l6 7l6-4l7 0l1-7l8 0M1206 598l1-9l8-2l5-4l7 5l5-10l3 7l7 0l1 8l5 0l4-3l-2-9l4 8l7 1l1 7l6 0l6-1l2-10l4 8l8-1l4 7l1-9l7-4l5-4l8 5l2-9l7-2M1211 595l1-7l7-1l1-8l6 5l7-3l6 6l4-8l6 2l6 0l3 8l6-7l7 4l6 0l3 6l6-1l6 0l0-7l7-2l1-8l9 5M1230 568l6-7l7 3l6 0l1 6l6 0l6 3l3-7l7 3l6-3l3 7l6-1l6-1l2-7l6-1l5-1l3 6l7-3M1269 543l8-3l2-1l-3 9l6 4l8-5l-2 4l0 9l8-2l4-3l-3 8l5 5l8-5l0 1l0 10l8 0l5-5l-1 6M1269 541l9-3l1-2l-3 9l6 4l8-5l-2 4l0 9l9-2l4-4l-3 9l5 5l8-5l1 1l-1 10l8 0l5-5l-2 6M1266 541l9-3l2-2l-3 9l6 4l7-5l-1 3l-1 10l9-2l4-4l-2 8l4 6l8-5l0 0l0 10l7 1l6-5l-2 5M1267 543l10-2l3-1l-3 8l5 5l8-4l-1 3l0 9l8-1l5-4l-2 7l4 7l8-5l1 0l-1 10l7 1l7-5M1199 571l3-7l8 1l2-8l7 2l6-1l3 7l6 0l7-3l1-9" stroke="#e0c4d8" stroke-width="1.2" stroke-opacity="0.9"/>
<path d="M1160 369l3-8l7-1l6 2l0 7l0 6l-8 3l9-3l8 6l2-9l8 0M1166 370l1-8l6-1l11 1l-8 5l2 6l1 5l6-1l5 6l-1-9l8-5M1258 361l2-21l5-13l5-2l6 9l5 12l6 4M1204 364l1 20l13 4l10 1l-2 15l14 9l5 2l12-11l9 0l11-4l11-7l13-3l11-4l7-3l10-8l8-9M1269 425l8-1l5-4l-3 8l4 6l9-5l0 1l1 9l7 0l5-6l0 6l6 8l3-10l-1-3l8 5l5-3l-1-9l2 2M1209 486l9 4l5-1l-6 6l0 7l10 1l0 1l-7 7l5 6l8-1l-5 4l-3 8l9 2l3 0l-7 6l3 6l9 0l-3 2l-4 8M1273 488l11 11l-7 9l14 0l-5 12l16 2l-7 12l15 3l-6 12l15 1M1292 514l8-4l2-3l-1 9l6 4l7-6l0 2l-1 10l9 0l5-4l-3 7l1 4l4 5l0 1l-10-2l-2 7l5 7l-6-2l-8 1M1202 596l4-6l7 3l4-6l7 3l4-9l5 8l8 0l5 8l0-10l6-4l4 2l-1 7l7 2l0 8l3-8l8-2l2-9l2 9l7 2l1 8l3-9l8-2l2-9l10 7l1-7l7-2l-1-7M1198 574l2-8l7 0l3-8l6 2l6-2l2 7l5-1l6-1l-1-7l8-2" stroke="#8c3a86" stroke-width="1.5" stroke-opacity="0.9"/>
<path d="M1164 369l2-8l6-2l6 0l-1 6l-2 6l-9 4l10 1l5 9l3-8l8-1M1192 362l11-17l13 1l3 13l7-7l4 8l13-17l2 10l7 5l6 8l9-8l5 8l5-12l7-8l4 0l4-3l13-11l6 13l8-10l4 10l10 7M1253 357l3-19l5-15l6 0l5 7l7 12l3 6M1254 479l4-7l0-6l5 8l7 0l2-10l1 1l6 8l6-5l1-7l3 6l7 4l4-9l-1-2l7 7l6-5l-2-9l3 3l8 3l2-8l-1-6l7 6l8-3l-1-10M1224 447l5-7l6 2l6-1l2 7l7-1l1 4l0 7l-8 6l10-1l6 8l3-9l5 2l5 2l-2 7l7 4l-1 5l-5 4l-6-4l-7 6l-2-9l-7 0l-2-7l-7-1l-2-8l-9 0l-4-7M1235 455l4-7l9 2l5-8l1 8l6 2l0 7l7 4l-9 1l-1 6l0 6l8 0l2 8M1277 368l8 1l5-2l-5 6l2 7l9-1l1 0l-5 8l6 4l8-2l-4 4l-2 8l9 2l4-1l-6 7l3 7l9-1M1294 513l8-4l2-2l-1 9l6 3l7-6l-1 3l0 9l9 0l4-4l-3 8l2 3l4 5l-1 1l-10-2l-1 8l4 6l-6-2l-8 1M1254 494l8 1l6-2l-5 7l2 8l10-2l0 2l-7 7l5 5l8-1l-6 3l-3 8l10 2l2 0l-7 6l3 7l9-1l-3 3M1269 540l10-3l2-1l-3 9l6 4l8-4l-1 3l0 10l9-2l4-4l-2 8l4 6l8-6l1 1l-1 10l8 1l6-6" stroke="#8c3a86" stroke-width="1.2" stroke-opacity="0.9"/>
<path d="M1157 368l3-7l6 2l12 0l-10 7l11 3l4 9l6-9M1193 363l11-17l13 1l6 13l5-6l4 6l10-12l4 9l5 3l8 7l8-8l5 8l5-10l6-11l7 0l4-2l10-11l10 14l6-8l5 6l7 9M1206 365l0 18l12 4l10 3l-1 14l14 9l7 5l9-12l10-3l9-4l14-6l11-3l9-2l10-6l8-7l8-6M1333 355l8 10l-1 16l16 4l-10 8l-14 6M1336 356l5 13l2 14l14 2l-11 14l-12-1M1345 376l13-9l-9 17l14 6l-16 0M1258 373l3 8l6 3l-8 0l-5 5l7 7l0 1l-9 2l0 7l6 5l-5 0l-8 4l5 7l4 3l-9-1l-4 6l6 7l-2 0l-10 1l2 7l5 5M1271 429l5-3l7 6l8-9l7 6l5-13l7-9l8-9l5 7l3 18l0 16M1272 432l6-5l9 10l4-14l9 8l5-15l9-7l4-9l9 7l3 15l-4 19M1254 479l4-9l0-3l5 8l7-2l2-9l1 3l7 6l5-6l1-6l3 7l8 2l3-9l0 0l7 6l5-6l-3-8l4 4l9 2l0-9l0-4l8 6l6-4l-1-9M1255 480l4-8l0-4l6 7l7-1l1-10l2 2l6 7l6-5l1-7l3 7l7 3l3-9l0-1l7 6l5-5l-2-8l4 4l8 2l1-9l-1-4l7 6l6-3l-2-9l1 1M1326 400l9 3l5-1l-6 7l1 7l10 1l-1 1l-7 7l5 5l5 4l-7 0l-6 4l6 8M1232 456l6-5l6 5l7-5l2 7l7-1l1 5l0 8l-10 3l8 3l2 7l7 1l1 7M1279 371l9 1l4-2l-5 7l3 6l9-2l-1 2l-4 8l8 3l6-2l-5 5l0 8l10 1l1 0l-6 8l5 5l9-1M1205 393l18 24l18 0l22-10l20 1l22 5l15-5M1211 392l16 26l17-2l22-9l21 0l20 5l19-2M1244 449l7-6l2-2l0 9l7 2l5-8l0 4l2 9l8-3l4-3l-2 8l6 5l6-6l0 0l6 8l6-4l2-8l2 7l7 4M1243 447l7-4l2-4l0 9l6 3l6-7l1 2l0 10l9-1l4-5l-1 7l4 7l8-6l0-1l4 8l7-2l2-9l2 5l6 6M1265 426l9-2l4-3l-3 8l5 5l8-5l0 2l1 10l8-2l5-5l-1 7l7 7l2-11l0-2l8 6l5-5l-1-8l3 3M1207 486l7 4l6-1l-6 5l-1 7l10 1l1 1l-7 7l5 6l8 0l-4 3l-4 8l9 3l4-1l-7 6l2 7l9 0l-2 1l-5 8M1234 491l9 3l3 0l-8 6l2 6l9 1l-2 2l-7 7l7 5l6 0l-7 4l-1 7l9 2l0 0l-7 7l4 6l8 1l-5 3l-4 7l9 4M1235 494l7 5l6 0l-6 3l-2 8l9 2l2 0l-8 7l3 6l9 1l-4 3l-6 8l9 4l4 0l-8 5l1 6l9 1l-2 2l-6 6l6 5M1232 492l9 3l3 0l-7 6l2 6l9 1l-3 2l-6 7l7 4l5 0l-7 4l-1 7l9 2l0 1l-8 6l5 5l8 0l-5 3l-4 8l9 2l3 0M1297 516l8-2l4-4l-1 8l5 6l9-5l0 1l-2 10l8 1l6-4l-1 5l-7 2l3 9l1 3l-9-3l-4 6l5 8l-4-1M1295 513l9-3l4-3l-1 8l5 5l8-5l1 2l-2 9l8 2l6-4l-1 4l-7 3l3 9l2 2l-10-2l-4 6l5 7l-3-1M1206 597l-2-8l7-2l0-9l7 7l8-3l6 3l4-7l2 8l7 0l3 8l1-9l5-3l5 0l1 8l7 1l3 8l0-8l7-2l0-9l4 8l7-1l4 8l1-9l7-2l2-9l6 8l5-7l8 1M1203 595l-2-8l8-1l0-7l7 7l7-3l8-1l7-1l4 8l9-9l3 8l9 0l3 8l2-9l7-1l7 0l3 9l3-8l7 0l1-8l8 5l6-3l7 0l0-7M1211 593l-3-7l7-2l0-9l5 8l8-1l6 8l2-9l8-1l3-8l-2 8l6 6l-2 8l4-7l7 2l2-7l6 1l6 1l2 7l6 0l5-2l-1-8l6-2l6-3l5 6l7-3M1227 570l2-7l7 1l3-7l1 7l8 0l0 8l5 0l7 0l5-8l5 7l8-1l5 7l5-7l7 2l4-7l8 7M1205 573l3-7l8 0l4-8l3 8l7 1l3 8l2-8l7-1l1-8l7 0M1202 573l4-7l6 3l5-7l6 7l8-2l6 6l2-8l8 0l0-8" stroke="#d8bcd6" stroke-width="1.2" stroke-opacity="0.9"/>
<path d="M1193 364l10-16l14 3l5 13l3-8l9 7l7-12l4 8l6 4l8 7l8-6l7 5l3-12l6-8l8 2l3-5l12-10l5 12l10-7l5 6l8 9M1251 374l4 7l5 3l-8 0l-4 6l7 6l-1 0l-9 2l1 8l6 4l-7 0l-7 5l6 8l2 2l-10 0l-2 7l6 6l-4 0l-9 2l3 9M1270 430l5 0l6 6l11-11l6 8l4-18l8-7l6-7l7 6l4 16l-2 19M1226 448l4-7l7 1l6 1l2 7l9 2l-8 3l-1 7l-8 4l9-3l7 5l5-5l7 1l0-7l5-1l3 3l-4 6l6 5l-4 6l5 6l-8-2l-5 5l-5-5l-6 1l-2-7l-7 1l-2-7l-7 0l-2-9l-8-3M1229 458l5-6l7 4l6-7l2 9l7-1l1 6l1 5l-6 4l2 5l2 6l8 1M1251 498l9 0l4-2l-4 8l3 7l10-2l-1 3l-7 7l6 5l8 1l-6 4l-2 7l9 2l2 0l-8 6l4 6l9-1M1210 595l-1-8l8-1l1-8l6 7l7-2l7-2l4-10l3 8l8 0l1 7l6 0l6 0l3-7l5 0l7 3l2 10l3-10l7-2l5-3l3 7M1266 542l9-2l4-2l-3 9l5 5l8-4l0 2l-1 10l8-1l5-4l-2 6l3 7l8-4l2-1l-1 10l8 2l6-6M1207 572l3-8l7 2l6-4l5 7l6-4l6 0l1-7l7 0" stroke="#c06a9e" stroke-width="1.8" stroke-opacity="0.9"/>
<path d="M1255 363l5-21l6-13l4-2l4 9l7 9l4 4M1201 360l2 19l10 5l13 2l-2 16l14 7l7 6l8-11l11-1l8-7l14-7l13-2l8-5l11-2l8-7l8-8M1201 364l3 17l11 7l11 1l0 15l12 6l7 4l9-10l10 0l11-7l13-5l11-4l10-3l10-5l7-5l9-7M1206 405l7 4l7-1l-6 5l0 8l10 1l1 0l-3 9l6 4l9-3M1209 405l9 2l3 0l-6 7l4 7l9-2l-2 2l-2 9l8 1l5-3l-5 7M1242 446l8-3l3-5l0 7l4 6l8-6l1-1l0 10l7 1l7-6l-1 5l2 9l9-4l0-5l4 8l6 0l3-9l1 2l6 8M1202 572l4-6l7 3l4-7l5 7l7-2l6 6l3-9l9-2" stroke="#b05090" stroke-width="1.8" stroke-opacity="0.9"/>
<path d="M1203 362l4 18l10 6l11 1l1 17l8 7l11 5l7-12l11-3l10-2l13-8l10-4l13 0l7-7l10-4l8-10M1342 376l18-5l-7 20l7 5l-16 2M1258 379l3 7l6 4l-8-1l-5 5l6 7l1 1l-10 1l0 8l7 5l-5 0l-8 4l5 7l3 3l-9-1l-4 6l7 7l-3-1l-9 1l1 8l5 4M1276 438l7-4l6 5l9-9l5 6l5-14l9-9l5-8l6 7l2 17l1 17M1328 398l9 3l4-1l-6 7l2 7l9 1l-2 1l-6 8l6 4l4 4l-7 0l-6 5l6 7M1209 403l8 3l5-2l-6 6l1 7l10 0l-1 0l-4 9l7 3l8-3l-4 6M1231 446l2-7l6 2l7-2l3 8l10 1l-9 1l-3 6l-8 1l10-1l4 7l6-2l7 0l5-8l-2 9l7 4l-2 7l5 6l-8-1l-4 7l-6-2l-7 0l-1-7l-8 0l-1-8l-7-1l-1-8l-8-1M1213 390l18 27l16 2l23-14l21 2l20 2l18-4M1242 448l7-5l2-4l0 10l6 2l6-7l0 3l2 9l8-1l5-5l-2 8l5 6l7-6l0-1l5 8l7-3l1-8l2 5l7 5M1270 487l12 10l-3 7l12 4l-9 9l17 1l-8 14l19 4l-8 9l17 3M1255 496l9-1l3 0l-5 8l5 5l9-1l-2 3l-5 8l7 4l6 0l-7 5l0 7l10 1l0 1l-7 7l6 5l7-1M1201 599l0-9l8-1l3-8l5 9l5-9l9 2l6-1l2 7l6-1l7 1l3-8l2 8l7 3l2 8l2-8l7-1l2-8l1 8l6 4l0 8l1-8l7-3l0-6l5-2l6 0l6 7l4-9l8-2" stroke="#d090b8" stroke-width="1.8" stroke-opacity="0.9"/>
<path d="M1336 360l6 10l2 15l12 1l-7 11l-15 3M1331 357l6 11l2 12l15 6l-8 7l-15 6M1345 374l19-3l-12 11l14 8l-19 0M1255 368l6 7l3 3l-9 0l-3 6l7 6l-2 1l-9 2l3 8l5 3l-8 0l-5 6l7 7l0 1l-10 0l0 7l6 6l-5-2l-9 3l5 8l2 2M1234 454l7-5l7 4l6 0l2 7l8 1l-9 3l-1 6l1 5l7 1l1 7l8 1M1209 489l8 2l5 0l-6 6l1 7l10 0l-1 2l-6 7l5 5l8 0l-6 4l-2 8l9 1l2 0l-7 7l4 6l9-1l-4 3l-4 8M1204 597l1-8l7 0l2-9l9 10l6-12l4 8l8-1l3 7l4-7l6 1l6 1l1 7l5 0l7 0l3-9l3 9l7 0l4 8l1-8l6-2l0-8l7 5l6-5l6 1l1-7" stroke="#c06a9e" stroke-width="1.2" stroke-opacity="0.9"/>
<path d="M1331 358l10 9l-1 16l15 2l-9 9l-12 6M1272 432l3-3l8 10l7-14l8 9l6-16l6-7l7-7l7 4l3 19l-2 17M1243 447l8-5l2-2l0 9l6 3l6-7l0 3l2 9l8-2l4-5l-1 8l4 6l8-6l-1-1l5 9l7-4l2-8l1 6l7 5M1223 566l5-6l6 4l5-6l5 3l6 3l-1 7l5 3l7 1l3-7l8 1l5-2l3 7l6-3l7 2l2-7l6 2l9-1" stroke="#8c3a86" stroke-width="1.8" stroke-opacity="0.9"/>
<path d="M1218 382l7-6l2-4l2 9l7 2l5-8l0 2l4 9l7-4l2-6l1 8l5 5l6-8l1-1l3 10l7-4l0-9l3 5l8 4l3-9l0-4l5 8l7-2l1-10l2 2l8 5l4-7l-1-7l5 6M1330 379l6-6l0-6l3 8l7 3l6-7l0 4l-10 3l3 7l7 3l-5 0l-7 6l7 6l2 2l-9 0l-4 6l7 7l-3 0l-9 1l2 8l4 4l-8-1l-6 4l5 8l0 1M1291 353l10-2l2-1l-4 9l6 4l8-3l-2 3l-1 9l9 0l5-2l-4 7l3 7l10-3l0 0l-1 10l8 1l6-4l-2 6l2 8M1235 342l9-1l4-4l-3 7l5 6l8-5l-2 1l7 7l4-6l-1-8l4 5l8 2l1-9l0-3l6 6l7-2l0-10l2 3l8 5M1279 490l8-3l3-3l-2 9l6 4l7-5l0 2l0 10l8-1l5-4l-3 7l4 7l9-4l1 1l-5 8l6 5l8-3l-3 5M1248 529l8-4l3-3l-2 9l6 4l7-6l-2 2l7 8l5-7l0-6l4 7l8 1l2-10l0-1l8 7l5-5l0-9" stroke="#d8bcd6" stroke-width="1.4" stroke-opacity="0.9"/>
<path d="M1218 381l6-7l2-2l2 9l7 1l5-8l0 3l5 9l7-5l3-5l1 9l6 3l6-7l0 1l7 7l5-5l-1-8l4 5l8 3l2-9l0-3l6 8l6-3l0-10l2 3l8 5l3-8l-1-5l5 6M1216 379l7-4l3-6l1 8l6 5l6-8l1-1l2 10l7-1l4-8l0 6l5 7l7-6l1-4l2 10l8-1l0-10l2 2l7 6l5-7l-1-7l5 7l7 1l2-10l0-1l8 6l5-5l0-8l3 4M1195 372l8 4l5 0l-8 5l1 7l9 2l-1 1l-7 7l7 5l7-3l-4 6l2 8l10-1l2 1l-7 7l5 6l9-1M1236 342l8-1l5-5l-2 8l3 6l9-5l-1 0l5 7l5-5l-1-8l3 4l8 3l2-9l-1-4l6 7l7-2l0-10l2 2l8 5M1220 491l7 5l7 0l-7 5l-1 7l10 2l1 3l-10 1l0 8l6 5l-5-1l-9 3l5 8l3 2l-10 0l-2 6l7 6l-2 0l-10 2l4 8M1250 528l9-3l3-4l0 9l5 5l7-7l0 1l6 8l6-6l0-7l3 7l9 1l1-10l1-2l7 7l6-5" stroke="#c8c0dc" stroke-width="1.4" stroke-opacity="0.9"/>
<path d="M1217 378l8-4l2-5l1 8l7 4l6-8l1 0l2 10l7-2l4-7l0 5l5 7l6-6l1-3l3 9l7-1l1-10l1 3l8 6l4-7l0-7l4 7l8 1l1-10l1-1l7 7l6-6l-1-8l4 5M1192 373l8 3l5 0l-7 5l0 7l9 1l-1 1l-6 7l6 5l7-3l-4 5l0 8l9-2l3 0l-6 8l4 6l9-1l-3 4M1229 370l21 12l20-14l18 5l20-17M1240 340l8-4l2-2l-1 9l6 4l7-6l-2 4l7 5l3-8l-2-5l6 6l7-1l0-10l0 0l8 7l6-6l0-8l3 5l8 3M1220 489l9 3l4 0l-8 5l1 7l10 1l-2 1l-7 5l3 6l5 4l-7-1l-7 4l5 8l1 1l-10 0l0 7l7 5l-5-1l-8 4l4 7l4 3M1280 487l8-3l3-3l-2 9l5 4l8-5l-1 2l0 10l8-1l5-5l-2 7l3 7l9-4l1 1l-5 9l6 4l8-2l-3 4M1278 488l8-1l5-4l-2 7l3 7l9-4l1-1l-2 10l7 2l6-6l-1 5l1 8l9-2l3-1l-5 8l4 6l9-2l-1 2M1276 485l9-4l2-1l-2 9l7 3l7-5l-1 3l0 9l9-2l4-3l-3 8l5 6l8-5l0 2l-4 9l8 3l7-2l-4 5" stroke="#b8b8dc" stroke-width="1.4" stroke-opacity="0.9"/>
<path d="M1214 377l7-4l2-5l1 7l6 5l6-8l1 0l3 9l7-1l3-7l1 5l4 7l7-6l2-3l2 9l7-1l1-10l1 3l8 6l4-8l-1-6l5 7l7 1l1-10l0 0l8 6l4-5l-1-8l4 5l8 3M1329 382l7-7l1-3l3 8l5 1l6 2l-3 1l-8 5l5 7l6 2l-8 2l-5 4l6 8l0 1l-10 0l0 7l6 6l-6-1l-8 3l4 8l2 3l-9-1l-4 6M1332 382l5-8l2-2l4 9l4-1l6 2l-4 1l-8 5l6 7l5 2l-8 1l-4 5l6 8l-1 1l-10 0l1 8l6 5l-7-1l-7 3l4 9l2 2l-10-1l-3 6M1190 375l9 4l4-1l-7 5l0 7l9 1l-1 1l-7 7l6 5l7-3l-4 5l1 8l9-2l2 0l-5 8l4 6l9-1l-3 3M1294 357l10-2l2-1l-3 8l5 5l8-4l-1 3l-1 10l8 0l5-3l-3 7l4 7l9-3l0 0l-1 10l7 2l7-5l-3 6l2 8M1280 492l9-3l3-3l-2 9l5 5l8-6l0 2l-1 10l8-1l5-4l-2 6l4 7l8-4l2 1l-5 8l6 5l8-3l-3 4" stroke="#b8b8dc" stroke-width="1" stroke-opacity="0.9"/>
<path d="M1271 432l5-3l6 6l12-11l4 8l5-14l9-8l5-8l9 5l2 18l-1 16M1262 424l8-1l5-4l-2 7l3 7l9-5l0 1l1 9l8 0l5-6l0 6l6 8l3-10l-1-4l8 6l5-3l-2-10l3 2M1265 424l8-2l4-4l-2 8l4 6l9-5l0 1l1 10l7 0l6-6l-1 6l6 8l3-11l0-2l7 6l6-4l-2-9l2 3M1209 485l8 3l5-1l-6 6l0 7l10 1l0 1l-7 7l6 5l7 0l-5 4l-2 8l9 2l2 0l-7 6l4 6l9 0l-4 2l-4 8M1210 485l8 3l5 0l-6 5l0 7l10 2l0 1l-7 7l5 5l8 1l-5 3l-3 8l9 2l3 0l-7 6l3 6l9 0l-2 2l-5 7M1257 496l8 1l5-3l-5 7l3 7l9-3l1 1l-7 8l5 6l8 0l-5 4l-4 8l10 2l2 0l-7 6l3 6l9 0l-3 2M1211 588l0-8l6 0l6-2l4 6l6-1l7-1l2-8l7 0l6 1l0 8l6 1l5 0l2-7l6 2l5 1l-2 7l5 0l5 0l0-7l7 0l1-8l6 4l6-4" stroke="#a8407f" stroke-width="1.2" stroke-opacity="0.9"/>
<path d="M1281 372l8 2l6-2l-5 6l1 7l9-1l1 0l-5 8l6 4l8-2l-4 4l-2 8l9 2l4-1l-6 7l3 7l9-1M1213 487l9 2l4 0l-7 6l2 7l10 1l-2 1l-6 8l7 5l7-1l-6 5l-2 7l10 2l1 0l-7 7l5 6l8-1l-4 3l-3 8M1208 593l1-8l7 0l6-2l5 7l3-10l7-1l5 0l0 8l6-1l7 0l5-7l3 7l6 1l0 7l5 0l5-4l1-9l1 8l7 1l6 1l4-7l7 0l8 1l5-2l-2-8l8-3M1210 589l3-9l7 1l5-1l3 6l6-2l7-1l4-8l3 8l7-1l3 8l5-7l8 0l5 0l0 7l6 2l2 7l0-8l7-2l-2-7l6-1l10-4M1225 564l6-5l7 4l7-6l2 9l8 1l2 8l3-8l7 1l5-1l1 7l7-1l2 8l2-8l8 0l0-7l6 0l6-3l3 7l7-3M1266 543l9-3l2-1l-3 9l5 3l8-4l-2 3l0 10l9-2l3-4l-2 8l5 5l8-5l0 1l0 10l8 0l6-5l-2 7" stroke="#d090b8" stroke-width="1.2" stroke-opacity="0.9"/>
<path d="M1333 382l5-9l1-2l5 9l5-1l5 2l-4 0l-7 5l6 6l4 2l-8 2l-3 5l7 7l-1 0l-10 1l1 8l5 5l-6-2l-8 4l5 8l2 2l-10-1l-2 7l6 6M1192 375l9 2l2 1l-8 5l3 7l9 0l-4 2l-5 7l8 4l5-2l-5 7l2 6l10-3l0 1l-5 9l6 4l8-1l-5 5M1236 345l9-3l2-2l-2 9l6 3l7-6l-2 4l7 6l3-8l-1-6l5 6l7-1l0-9l1-1l8 7l5-6l0-8l4 5l8 3M1251 528l8-3l3-4l-1 8l5 5l7-6l-1 1l5 8l6-5l1-8l3 6l8 4l2-10l0-3l7 7l7-4l-1-9" stroke="#a8407f" stroke-width="1.4" stroke-opacity="0.9"/>
<path d="M1331 376l6-6l2-5l3 8l4 1l6 2l-1 1l-9 4l3 7l7 4l-6 1l-7 4l6 8l2 1l-10 0l-2 7l7 6l-4 0l-10 1l3 9l4 3l-9-1l-5 5M1193 376l8 3l4 0l-7 5l1 7l9 1l-2 1l-6 7l7 5l7-3l-4 7l1 8l10-1l2 1l-6 8l5 5l9-1M1295 357l8 1l6-3l-4 7l2 7l9-2l1 0l-3 9l6 3l8-5l-3 5l0 9l9-2l3-2l-3 8l5 5l8-5l0 2l-1 10l8 0M1229 370l18 10l20-16l19 2l20-12M1227 371l23 11l18-15l19 3l19-14M1230 370l19 10l18-12l24 3l17-15M1222 487l7 4l7 0l-7 5l-1 8l10 2l1 2l-10 2l0 7l6 6l-5-1l-8 3l4 8l3 2l-9 0l-3 6l7 6l-3 0l-9 2l3 7M1222 490l7 4l6 0l-7 4l-1 7l10 2l0 0l-7 5l0 6l7 5l-6-1l-8 4l5 8l2 2l-9-1l-3 7l7 7l-4 0l-9 2l3 9" stroke="#a8407f" stroke-width="1" stroke-opacity="0.9"/>
<path d="M1295 356l9-1l4-2l-3 8l4 6l9-4l-1 1l-2 10l8 2l7-3l-4 6l2 8l9-2l2-1l-2 10l7 2l7-5l-1 4l1 9M1246 528l8-3l4-4l-2 8l5 5l7-6l-1 1l5 8l6-5l1-7l3 6l7 3l3-10l0-2l7 6l7-4l-1-9M1247 527l9-3l3-4l-1 9l6 5l7-7l0 1l6 7l6-5l0-7l4 6l8 1l2-10l0-1l8 6l6-5" stroke="#c8c0dc" stroke-width="1" stroke-opacity="0.9"/>
<path d="M1291 357l8 0l5-3l-4 7l3 7l9-3l1 1l-3 9l7 3l7-4l-3 5l0 8l9-2l2-2l-2 9l6 4l7-5l0 3l0 9l8-1M1236 345l9-5l1-1l-1 9l7 3l6-6l-2 5l8 4l3-8l-2-5l6 6l7-1l0-10l1 1l8 6l5-6l-1-8l5 5l8 2M1280 489l8-5l2-1l-1 9l6 3l7-5l-1 3l0 9l9-2l3-3l-2 8l4 5l9-4l0 2l-4 9l8 3l7-3l-4 6M1251 526l8-2l4-4l-2 7l4 6l8-5l0 0l4 8l7-4l0-8l3 5l8 4l3-9l-1-4l7 7l7-3l0-9" stroke="#d8bcd6" stroke-width="1" stroke-opacity="0.9"/>
<path d="M1231 369l21 10l20-15l20 4l18-16M1220 488l6 4l7 0l-7 4l-1 7l9 2l1 0l-7 5l0 5l6 6l-5-1l-8 3l4 8l3 3l-10-1l-3 6l7 6l-2 0l-9 2l2 7l6 4" stroke="#e0c4d8" stroke-width="1" stroke-opacity="0.9"/>
<path d="M1290 517l9-4l2-3l-1 9l5 4l7-6l0 2l-1 9l9 1l5-4l-3 7l0 4l5 5l0 1l-10-2l-3 7l5 7l-4-1l-9 1M1212 592l0-8l7-2l6-2l4 6l6-3l6-1l0-7l6 0l7 1l3 10l5-7l7 1l6-6l2 9l7 3l6 0l0-8l7 0l9-3M1229 573l3-6l7 0l5-9l2 10l8 2l2 10l6-8l8 2l7-2l2 9l7 0l6-1l1-8l7-1l4-3l5 5l6-4M1266 542l9 0l5-3l-3 8l3 6l9-3l1 1l-2 9l8 1l6-5l-2 6l2 8l9-4l2-2l-1 9l6 4l7-6M1206 571l2-8l8 2l4-8l5 8l7-3l7 1l2-8l9 1" stroke="#c06a9e" stroke-width="1.5" stroke-opacity="0.9"/>
<path d="M1251 495l8 2l6-2l-4 6l2 8l10-1l1 2l-7 7l4 6l8 1l-4 3l-4 8l9 3l4 0l-7 6l2 8M1270 544l9-3l3-1l-4 8l5 5l8-5l-1 3l-1 9l8-1l5-4l-3 8l4 6l9-5l0 0l0 10l7 1l6-6l-1 6" stroke="#a8407f" stroke-width="1.5" stroke-opacity="0.9"/>
<path d="M1219 488l8 4l5-1l-7 5l0 7l10 1l-1 1l-7 5l2 6l6 4l-7-1l-7 5l6 7l1 2l-9 0l-2 6l7 6l-4 0l-9 2l4 8l4 3M1221 488l9 3l4 0l-7 5l1 7l9 0l-1 1l-6 5l2 6l5 5l-7-1l-7 4l6 8l1 2l-10-1l-1 7l7 6l-5-1l-8 3l4 8l4 2M1279 488l8-1l4-4l-2 7l4 7l8-5l1 0l-1 9l7 2l6-6l-2 5l2 9l9-3l3-1l-5 8l4 6l9-2l-1 2M1252 528l8-5l3-1l-1 9l6 3l6-7l0 4l7 6l5-8l0-5l5 8l8-1l0-10l1 0l9 6l5-6" stroke="#e0c4d8" stroke-width="1.4" stroke-opacity="0.9"/>
<path d="M1134 582l0-9l8-1l6-4l6 5l7-3l3 8l7 1l5 9l6-3l4 6l6-4l4 6l6-3l6 3l3-6l7 2l4-5M1195 474l2 8l-7 2l1 7l-7 4l4 6l-7 4l4 7l-8 4l-1 7l-1 5l6 3l-2 7l7 2l-1 8l8 2l-1 9l8 2" stroke="#8c3a86" stroke-width="1" stroke-opacity="0.9"/>
<path d="M1138 579l2-7l6 0l5-4l5 5l7-1l2 7l8-1l3 8l8 2l5 4l6-4l5 5l6-4l6 2l4-6l6 2l4-6M1133 584l3-7l8 1l7-10l3 8l7-2l2 7l7 0l2 7l7 1l4 5l7-2l3 7l6-4l7 3l4-8l7 2l4-6M1197 477l5 7l-5 6l5 6l-7 3l1 7l-7 2l0 8l-8 0l-1 7l-2 5l7 2l-1 7l6 3l0 7l8 2l0 8l7 1M1164 594l6-3l5 5l7-3l5 7l8-3l6 7l6-5l7 4l6-4" stroke="#e0c4d8" stroke-width="0.84" stroke-opacity="0.9"/>
<path d="M1141 588l1-8l8 1l3-9l7 2l8-1l4 7l7 3l2 8l6-2l5 5l6-4l4 6l5-3l6 2l3-6l7 2l2-7" stroke="#d090b8" stroke-width="0.84" stroke-opacity="0.9"/>
<path d="M1196 475l5 6l-4 5l4 6l-6 6l4 7l-7 5l0 7l-8 0l-2 8l-8 2l7 5l1 8l8 1l0 9l8 1l1 8" stroke="#c06a9e" stroke-width="1.3" stroke-opacity="0.9"/>
<path d="M1197 479l4 7l-6 5l4 7l-8 3l2 6l-6 3l1 7l-7 2l1 7l-7 3l2 5l3 7l8 1l-1 8l7 3l-2 8" stroke="#d8bcd6" stroke-width="0.84" stroke-opacity="0.9"/>
<path d="M1168 591l8 0l2 8l8 1l4 6l7-3l5 7l3-8l7 1l1-8" stroke="#d090b8" stroke-width="1" stroke-opacity="0.9"/>
<path d="M1169 594l8-2l4 8l8-2l5 7l8-3l6 4l6-6l7 4" stroke="#b8b8dc" stroke-width="0.84" stroke-opacity="0.9"/>
<path d="M1170 595l7-3l3 7l7-2l2 7l7-1l2 8l5-7l7 3l3-7l7 3l4-7" stroke="#a8407f" stroke-width="1.3" stroke-opacity="0.9"/>
<path d="M1198 592l1-8l7 1l2-7l5 1l7 1l1 9l7 1l5 1l2-7l6 0l3-8l3 9l7 0l3 8l5-7l8 3l5-6l6 3l7-1l2 8l7 1l5 0l2-7l7 0" stroke="#34449a" stroke-width="2" stroke-opacity="0.9"/>
<path d="M1199 585l2-7l7 0l3-8l3 9l8 1l1 8l7-1l7 1l2-8l6 0l7-1l1 8l7-1l3 7l6-6l8 3l5-7l3 8l7-1l2 7l5-1l7 0l1-8l8-1" stroke="#3a49a0" stroke-width="1.7" stroke-opacity="0.9"/>
<path d="M1200 588l6-6l8 4l7-3l2 8l6-1l6 0l2-7l5 0l6-2l4 7l7-2l4 7l4-7l8 3l5-7l3 8l8-1l4 7l5-8l9 0M1162 368l12-10l11 13l12-13l10 10" stroke="#3a49a0" stroke-width="2" stroke-opacity="0.9"/>
<path d="M1191 589l3-7l8 1l4-8l4 8l9-1l3 9l6-7l8 1l5-7l4 8l8 0l5 8l4-8l8 2l5-7l4 8l8-1l5 8l4-8l8 1M1307 417l9 1l4-2l-5 8l3 6l10-1l0 2l-7 6l5 6l7 1l-7 2l-3 7l9 4l2 2l-10 0l-2 7l7 7l-5-1l-8 2l3 8l3 3" stroke="#34449a" stroke-width="1.7" stroke-opacity="0.9"/>
<path d="M1301 413l10 1l4-2l-6 8l4 6l9-2l0 3l-7 6l6 6l6 0l-6 3l-4 7l10 3l1 2l-10 1l-1 7l6 6l-4 0l-9 2l4 9l3 3M1157 373l14-13l12 13l12-10l13 5M1162 375l14-13l10 13l11-13l15 7M1159 368l13-7l12 11l12-15l12 10" stroke="#4a58aa" stroke-width="2" stroke-opacity="0.9"/>
<path d="M1304 412l8 2l5-2l-5 7l3 7l9-1l1 1l-7 7l5 6l7 0l-6 3l-4 7l9 4l2 1l-9 1l-3 7l7 6l-4 0l-9 2l3 8l4 3" stroke="#3a49a0" stroke-width="1.3" stroke-opacity="0.9"/>
<path d="M1307 414l9 0l3-1l-5 8l4 6l10-2l-2 3l-6 7l7 5l5 0l-7 4l-2 7l10 3l0 1l-10 2l0 7l6 5l-6-1l-8 3l5 8l2 2" stroke="#4a58aa" stroke-width="1.3" stroke-opacity="0.9"/>
<path d="M654 53l6-8l7 3l10 2l-5 6l3 8l-5 7l11-3l7-3l1-9M690 52l11-17l15 2l3 13l6-9l4 9l12-12l3 9l7 4l8 7l8-9l6 8l5-9l6-12l7 2l2-4l14-11l4 15l11-10l4 7l9 8M835 39l9 13l-1 14l17 8l-10 10l-13 1M773 122l6-4l12 9l4-12l5 6l8-14l7-8l7-9l9 6l-1 18l1 20M779 59l10-1l2 0l-5 8l5 5l8-2l-2 3l-3 9l9 1l5-1l-6 6l1 7l10-1l-1 1l-5 8l6 4l7-2l-5 5M770 115l9-3l3-2l-2 9l5 4l8-5l0 3l2 9l8-2l4-5l0 8l7 6l2-11l0-1l8 5l5-6l-2-8l4 4M704 173l8 4l6-1l-6 5l0 8l10 1l0 0l-7 7l5 6l8-1l-4 4l-4 7l9 3l4-1l-7 6l2 7l10-1l-2 2l-6 8M754 184l9 1l4-2l-4 7l4 7l9-2l0 3l-7 7l6 6l7 0l-5 4l-2 8l10 2l2 1l-7 7l4 6M765 228l9-1l5-3l-3 8l4 6l9-4l0 1l0 10l7 0l6-5l-2 6l3 8l8-4l2-2l-1 10l7 3l7-6" stroke="#334c9c" stroke-width="2.5" stroke-opacity="0.95"/>
<path d="M904 45l7-6l1 8l9 3l-9 3l-2 7l2 5l7-2l5 7l-2-10l5-5l5 0l1 7l5 0l4-5l-4-8M899 48l3-8l8 0l5 0l1 8l8 2l-8 4l-1 7l-1 7l4 3l5-2l-1-8l5-3l8-1l6 8l-2-9l5-6M1025 125l4-5l8 9l11-12l4 9l7-14l7-9l6-9l8 7l2 18l1 18M1024 127l6-5l8 7l7-12l7 8l7-17l7-9l6-6l8 5l2 18l0 19M1008 172l4-8l1-5l5 8l7-1l2-9l1 1l6 8l6-6l1-7l2 7l7 3l3-9l1-1l6 9l6-6l-3-8l4 3l9 2l1-9l-1-4l7 5l7-3l-1-9l2 1M1006 175l4-8l0-5l5 7l7 0l2-9l1 0l6 8l7-5l1-7l3 6l7 4l4-9l0-2l7 7l5-4l-1-9l3 2l8 4l2-9l-2-5l7 6l7-2l-2-10l1 0" stroke="#b8862c" stroke-width="2.3" stroke-opacity="0.95"/>
<path d="M1161 50l0-7l6 1l6-2l2 7l8 0l-7 1l-1 7l-9 2l9 0l2 7l6-3l6-2l-1-8M1161 48l3-8l6 0l7 5l-6 7l4 7l3 5l5-3l7-3l1-9M1261 61l5 8l3 2l-9 0l-3 7l8 6l-3 0l-9 3l3 7l5 3l-7 0l-6 5l7 7l1 0l-10 1l-1 7l7 6l-5-2l-9 3l4 8l3 3l-9-1M1260 60l4 7l5 3l-9 0l-4 6l7 6l0 1l-10 2l1 7l7 4l-6-1l-7 4l6 8l2 1l-9 0l-3 6l6 7l-3 0l-9 1l2 8l4 4l-8-2M1333 86l10 2l3 0l-6 8l3 6l9 1l-3 2l-6 7l7 5l3 4l-8 0l-5 5l6 8M1334 87l9 3l5-1l-6 6l1 7l9 2l0 1l-7 7l5 6l5 4l-7 0l-7 5l6 8M1214 77l20 25l16 1l21-12l23 0l23 4l14-4M1207 76l19 24l18 3l23-12l22-4l21 6l16-3M1208 168l9 2l5-1l-6 6l1 7l10-1l0 1l-6 8l7 5l7-2l-5 5l-1 8l9 1l2 0l-6 7l4 6l9-2l-3 3l-3 8l8 3l5-2l-6 6M1208 169l10 1l2-1l-6 8l4 5l9-1l-3 3l-3 8l8 3l5-1l-6 6l2 7l10 0l-1 1l-5 8l6 4l8-2l-5 5l-1 8l9 0l2 0l-6 7M1268 174l13 10l-3 9l18 2l-10 13l21 3l-6 9l19 7l-5 12l14 0M1267 172l16 10l-6 9l15 5l-6 9l19 5l-7 12l19 2l-4 11l15 3M1231 284l-4-8l7-4l-2-9l5 7l6-2l3 7l5-3l8 1l6-1l1 7l8-2l2 8l5-8l8 2l5-9l4 9l7 0l4 0l0-7l6 0l6-5l5 6M1224 288l0-8l7-2l2-7l4 6l7-3l3 7l5-3l6 0l0-7l5 0l7 1l1 8l6 2l7 0l5-9l3 8l7 0l2 7l6 0l5-3l-4-8l5-3l5-3l4 6M1278 232l8-2l4-3l-3 9l4 5l8-5l0 2l-1 9l8 0l4-5l-1 7l3 7l9-5l1 0l-1 9l7 2l6-5l-1 5l3 9l9-3M1276 232l9-2l3-3l-3 8l4 5l9-4l-1 1l-1 10l7 0l6-5l-2 7l3 7l8-5l2-1l-1 9l6 3l7-6l-2 4l1 9l9-3l3-4" stroke="#d13c3c" stroke-width="2.3" stroke-opacity="0.95"/>
<path d="M656 366l5-10l3 8l7 3l-7 5l0 7l4 3l5-3l6-4l-2-9M653 361l2-8l7 3l6-2l1 7l8 2l-9 3l-1 4l6 7l5-7l8 2M832 351l4 10l3 15l14 4l-9 10l-13 2M827 354l5 11l4 14l17 4l-9 10l-15 2M728 447l2-9l8 0l7-2l3 8l9 0l-8 5l0 8l-8 4l8 0l5 6l3-7l7 1l4-7l-1 9l7 5l-3 8l6 6l-8-2l-5 5l-5-4l-7 0l0-8l-8-1l-1-8l-8 1l-1-7l-7-1M725 444l5-6l5 5l6-6l2 9l9 2l-8 2l-2 6l-7 2l9-1l4 7l7-2l8 1l5-9l-2 8l5 5l-3 7l5 7l-8-4l-6 5l-6-4l-7 0l-1-7l-8-1l-1-8l-8-1l0-9M727 445l8-4l6 6l6-2l2 7l7-1l2 5l-1 5l-8 0l0 6l2 5l8-2l3 7l7-1M733 453l4-7l8 2l5-8l3 8l7 1l1 5l-1 7l-7 2l-1 6l2 5l7 1l3 7" stroke="#c23a3a" stroke-width="2.3" stroke-opacity="0.95"/>
<path d="M752 495l9-2l3-1l-5 8l5 5l9-3l-2 3l-2 8l7 2l6-1l-6 6l0 7l10 0l0 1l-6 8l7 4l7-2l-4 4l-2 8l9 1l3-1l-6 8l4 5" stroke="#9a2a2a" stroke-width="2.3" stroke-opacity="0.95"/>
<path d="M904 367l4-7l6 4l5-6l2 8l9 1l-11 8l10 5l5-2l1-8l8-2M1002 362l3-20l4-14l7-2l4 7l7 13l0 4M1078 356l4 12l5 15l12 3l-7 10l-13 4M1020 434l5-3l9 5l7-10l8 8l4-16l6-8l5-9l10 7l2 19l0 15M952 408l10 1l2 0l-5 8l4 6l9-1l-3 3l-2 9l9 1l5-1M954 392l21 26l16-3l19-8l20 0l21 5l18-4M1016 487l12 11l-6 8l14 5l-5 12l13 0l-6 13l18 1l-9 11l17 2M1000 500l9 1l5-2l-4 8l3 7l9-1l0 1l-7 7l5 5l8 0l-6 3l-3 8l9 2l2-1l-7 7l4 6l9-1l-4 2M954 597l3-8l8 1l3-7l5 6l8-1l4 8l1-9l8-2l2-8l0 9l6 5l-2 10l4-8l7 0l2-7l5 0l7 1l3 8l6-1l7-1l1-10l8 2l5-6" stroke="#a8367e" stroke-width="2.3" stroke-opacity="0.95"/>
<path d="M1160 357l9-4l2 8l3 5l-7 4l2 5l5 10l1-8l7-2l1-8l2 8l6-1l5-2l-1-7M1252 359l3-19l4-13l7-3l4 8l6 11l4 6M1256 375l5 7l5 3l-9 0l-4 6l7 6l0 1l-10 1l1 8l6 5l-6-1l-7 5l5 7l3 3l-10-1l-2 6l6 7l-3-1l-9 2l2 7l5 4M1256 477l3-8l1-4l5 8l7-2l1-9l2 2l7 7l5-6l1-6l3 7l7 2l3-9l0 0l8 6l4-6l-2-8l4 4l9 2l0-9l-1-3l7 5l6-3l-2-10l2 2M1331 402l8 3l6 0l-5 5l0 8l9 2l1 1l-8 6l3 6l7 4l-6 0l-7 4l5 7M1237 490l8 4l4 0l-8 5l2 7l9 1l-3 2l-6 7l7 5l6 1l-7 4l-1 8l10 2l0 1l-8 7l5 6l8 1l-5 3l-4 8M1269 490l11 10l-8 7l16 4l-7 11l17 2l-7 10l18 5l-8 9l17 4M1294 516l8-4l3-2l-1 10l6 3l8-6l-1 4l0 9l8 0l5-4l-2 6l-5 2l4 9l0 1l-10-2l-2 7l5 7l-5-2" stroke="#3a49a0" stroke-width="2.3" stroke-opacity="0.95"/>
</g>
<circle cx="349.50" cy="71.80" r="6.80" fill="#fff" stroke="#231f20" stroke-width="0.8"/>
<text x="349.50" y="75.30" font-size="9.8" text-anchor="middle" fill="#231f20">1</text>
<circle cx="465.60" cy="72.90" r="6.80" fill="#fff" stroke="#231f20" stroke-width="0.8"/>
<text x="465.60" y="76.40" font-size="9.8" text-anchor="middle" fill="#231f20">2</text>
<circle cx="578.20" cy="71.70" r="6.80" fill="#fff" stroke="#231f20" stroke-width="0.8"/>
<text x="578.20" y="75.20" font-size="9.8" text-anchor="middle" fill="#231f20">3</text>
<circle cx="592.80" cy="71.70" r="6.80" fill="#fff" stroke="#231f20" stroke-width="0.8"/>
<text x="592.80" y="75.20" font-size="9.8" text-anchor="middle" fill="#231f20">4</text>
<circle cx="336.30" cy="234.30" r="6.80" fill="#fff" stroke="#231f20" stroke-width="0.8"/>
<text x="336.30" y="237.80" font-size="9.8" text-anchor="middle" fill="#231f20">4</text>
<circle cx="350.50" cy="234.30" r="6.80" fill="#fff" stroke="#231f20" stroke-width="0.8"/>
<text x="350.50" y="237.80" font-size="9.8" text-anchor="middle" fill="#231f20">5</text>
<circle cx="464.50" cy="231.50" r="6.80" fill="#fff" stroke="#231f20" stroke-width="0.8"/>
<text x="464.50" y="235.00" font-size="9.8" text-anchor="middle" fill="#231f20">4</text>
<circle cx="602.80" cy="230.50" r="6.80" fill="#fff" stroke="#231f20" stroke-width="0.8"/>
<text x="602.80" y="234.00" font-size="9.8" text-anchor="middle" fill="#231f20">5</text>
<g transform="scale(.5)" fill="none" stroke-linejoin="round">
<path d="M371 1761l17-5l21-2l-1 25l20 12l-34 9l11 14l23 7l-35 15l12 9l23 4l-32 12l2 12l14 10l15-5l2 22l-8 15l-23 11l-9-7l-8-9M825 1816l19 16l11 11l7 23l-23-1l-2 22l-3 35l25 12M1325 1782l28 20l10 22l-23 19l21 20l-22 18l15 14l-19 20l26 23" stroke="#2b7bbb" stroke-width="2" stroke-opacity="0.9"/>
<path d="M370 1762l19-5l20-2l0 24l19 12l-32 10l10 14l22 7l-34 15l12 10l22 3l-33 12l2 12l16 11l14-6l1 22l-7 16l-21 10l-12-6l-7-9" stroke="#3a8ac8" stroke-width="3" stroke-opacity="0.9"/>
<path d="M371 1764l18-5l20-3l0 25l19 12l-34 10l12 14l22 6l-36 16l14 9l21 2l-31 14l1 11l15 10l15-5l2 22l-7 17l-23 10l-10-9l-10-8" stroke="#3a8ac8" stroke-width="3.2" stroke-opacity="0.9"/>
<path d="M372 1764l16-2l21-4l0 25l20 11l-34 10l12 14l23 5l-37 16l13 10l23 3l-32 13l2 12l14 9l14-6l2 23l-8 16l-20 10l-12-8l-7-7" stroke="#2b7bbb" stroke-width="2.8" stroke-opacity="0.9"/>
<path d="M372 1763l17-5l20-1l1 24l18 10l-30 10l9 16l22 6l-35 16l13 9l22 2l-32 15l2 11l16 9l14-5l0 22l-5 17l-24 9l-9-8l-9-8M797 1922l17-3l18 7l11 4l21 6l14-6" stroke="#2b7bbb" stroke-width="2.6" stroke-opacity="0.9"/>
<path d="M372 1764l18-4l21-4l-1 24l20 14l-33 9l11 15l22 5l-36 18l15 7l21 3l-33 13l3 11l14 12l15-7l1 23l-6 15l-23 11l-11-9l-8-8" stroke="#2b7bbb" stroke-width="3" stroke-opacity="0.9"/>
<path d="M372 1765l18-5l20-3l0 26l20 10l-34 9l11 16l23 6l-35 15l13 11l21 1l-33 14l5 11l14 10l13-6l2 22l-7 16l-22 13l-9-10l-11-8M374 1766l19-4l21-2l0 25l19 10l-32 11l10 14l22 7l-35 15l12 10l24 2l-34 13l2 13l15 8l15-6l2 24l-6 14l-23 11l-11-7l-9-7M822 1826l15 15l21 10l5 24l-30-5l9 22l-14 38l25 9M797 1919l12-10l22 12l8 9l23 9l17-8M851 1759l16 16l-7 24l15-1l16 12l-25 14l38 13l-27 14l27 14l-28 17l26 18l-26 8l20 19l-32 11M1317 1776l33 16l6 20l-24 20l26 22l-25 16l13 23l-19 12l24 29" stroke="#2b7bbb" stroke-width="2.4" stroke-opacity="0.9"/>
<path d="M374 1765l16-5l21-2l0 24l20 12l-33 10l11 14l21 6l-34 15l14 10l21 3l-33 14l3 12l14 7l15-5l1 24l-6 14l-22 13l-11-9l-9-8" stroke="#3a8ac8" stroke-width="2.6" stroke-opacity="0.9"/>
<path d="M374 1766l18-5l21-2l0 25l19 11l-32 9l9 15l22 6l-33 15l12 10l22 3l-32 13l1 10l16 11l14-5l1 22l-7 16l-23 10l-10-8l-8-8M373 1767l17-6l20-2l0 24l21 14l-33 7l10 16l23 6l-34 16l12 10l22 1l-32 15l0 12l17 8l13-5l2 23l-5 14l-24 12l-11-9l-8-8M823 1818l21 16l16 7l10 16l-31 7l2 24l-3 32l17 17M847 1756l17 16l-6 24l16 2l16 10l-26 13l39 14l-29 15l29 14l-30 15l27 21l-23 7l18 18l-31 11M851 1759l16 16l-7 22l15 3l18 12l-26 11l37 14l-28 14l28 14l-28 16l25 19l-23 9l18 17l-33 12" stroke="#3a8ac8" stroke-width="2" stroke-opacity="0.9"/>
<path d="M375 1765l18-5l19-3l1 25l19 13l-33 10l12 13l21 6l-35 18l13 7l22 3l-33 14l4 12l13 8l15-4l1 21l-6 18l-22 9l-11-7l-8-7M377 1769l17-4l21-4l1 26l19 10l-32 11l8 13l25 7l-38 16l14 10l22 3l-32 12l2 12l15 10l14-6l1 22l-7 16l-21 10l-10-9l-8-6M1188 1836l10 3l10-6l10-5l6-6l4 5l7-6l4 5l9 6l4-6M1192 1848l11-2l9-3l7-6l10 6l6-2l5-5l10 6l4-4l10-3M1187 1835l9 4l5-3l10-2l5-6l5-2l8-1l9-3l4 2l6 0" stroke="#7b5ea8" stroke-width="2.6" stroke-opacity="0.9"/>
<path d="M374 1768l17-5l20-2l2 24l20 12l-32 9l8 14l22 8l-34 16l13 9l22 2l-32 13l2 12l15 8l13-5l2 23l-7 17l-23 9l-10-6l-7-8M376 1769l19-5l20-2l-1 23l20 12l-33 10l11 15l23 6l-35 16l11 8l24 4l-33 14l2 11l15 9l13-6l3 22l-7 17l-22 10l-10-7l-10-9" stroke="#8a6ab0" stroke-width="2.4" stroke-opacity="0.9"/>
<path d="M377 1767l18-3l19-2l1 23l20 13l-34 9l10 14l22 7l-35 14l13 11l23 2l-33 13l2 12l15 10l15-7l0 23l-6 16l-22 11l-10-9l-9-8M380 1772l17-5l20-2l0 23l19 12l-30 9l8 14l23 8l-36 15l14 10l21 3l-31 13l2 13l13 8l16-5l1 22l-6 15l-23 9l-11-5l-7-9M1192 1847l10-2l10 5l4-3l6 4l10 3l12-5l7 5l10-5l12 3M1196 1829l11 5l9-5l10-6l8-6l5-1l5 7l9 5l12 4l9 0M1206 1821l9-6l7-1l8-1l8 6l12 6l10-4l6-1l10 2l6 7M1184 1830l11-4l7 4l4 1l8 3l12 3l5-4l8-3l9-6l9-1" stroke="#7b5ea8" stroke-width="2.8" stroke-opacity="0.9"/>
<path d="M379 1770l15-5l21-2l0 24l21 12l-33 9l11 15l20 6l-36 16l15 10l21 2l-32 13l2 12l16 9l15-5l1 22l-7 16l-22 10l-11-8l-8-7" stroke="#8a6ab0" stroke-width="2.2" stroke-opacity="0.9"/>
<path d="M379 1770l16-6l21-1l0 25l19 10l-32 10l12 13l21 7l-37 16l14 10l22 3l-33 12l3 12l16 9l15-6l-1 22l-7 17l-22 11l-9-9l-8-7M380 1770l17-5l21 0l0 22l20 13l-34 10l11 12l23 8l-36 16l14 8l20 2l-31 15l3 12l15 8l14-6l1 24l-7 15l-23 11l-9-8l-8-8" stroke="#e98a2b" stroke-width="3" stroke-opacity="0.9"/>
<path d="M379 1771l18-4l18-3l3 24l18 13l-31 9l10 14l22 7l-36 14l14 10l20 4l-31 12l2 13l15 7l15-5l1 23l-8 15l-21 10l-11-7l-7-7M377 1772l18-4l22-3l0 25l19 11l-34 10l11 14l23 7l-35 16l14 9l20 2l-33 12l4 13l14 10l15-6l0 21l-5 16l-23 12l-11-8l-8-8M793 1761l10 12l10 31l-8 18l-22 13l-3 23l19 10l22 22l-16 19l-6 18l22 11M855 1760l15 16l-6 22l16 2l16 13l-26 11l39 14l-30 13l30 15l-31 17l27 19l-24 10l17 18l-30 9" stroke="#e98a2b" stroke-width="2.4" stroke-opacity="0.9"/>
<path d="M794 1762l13 13l9 30l-11 18l-22 13l-2 22l18 10l26 23l-19 17l-8 19l24 10M795 1762l9 12l12 30l-9 20l-23 11l-3 25l18 9l26 21l-20 19l-6 18l24 11M793 1925l17-9l11 9l16 9l22 2l18-8" stroke="#e98a2b" stroke-width="2.2" stroke-opacity="0.9"/>
<path d="M797 1762l11 12l9 30l-8 18l-23 14l-2 25l19 7l25 23l-21 17l-4 18l22 11M856 1761l14 16l-7 23l16 1l16 13l-23 12l38 14l-31 11l31 16l-30 17l26 18l-23 9l16 19l-30 10M854 1760l19 14l-8 23l16 2l16 11l-27 14l39 12l-26 15l27 13l-29 16l26 20l-24 10l19 16l-32 12" stroke="#e98a2b" stroke-width="2.6" stroke-opacity="0.9"/>
<path d="M798 1760l11 17l9 27l-10 22l-21 9l-4 24l18 10l26 25l-17 15l-8 20l23 9M847 1760l17 15l-7 23l16 2l14 11l-24 14l38 13l-29 14l29 12l-30 20l26 16l-24 9l18 19l-31 10M848 1757l16 15l-7 25l16 1l14 12l-25 11l41 14l-30 15l30 14l-30 16l27 19l-25 6l17 20l-31 11" stroke="#6a5fac" stroke-width="2.6" stroke-opacity="0.9"/>
<path d="M799 1761l11 14l8 30l-8 20l-23 12l-2 23l17 8l25 23l-18 20l-7 16l23 11M845 1757l15 17l-6 20l15 3l15 12l-22 14l37 13l-28 12l28 14l-29 18l26 16l-24 12l17 16l-31 10M847 1759l15 14l-6 22l16 3l16 12l-26 13l39 14l-31 12l30 14l-28 18l27 18l-26 8l17 19l-30 11" stroke="#6a5fac" stroke-width="2.2" stroke-opacity="0.9"/>
<path d="M798 1761l10 14l9 28l-9 22l-22 10l-3 24l21 8l23 24l-19 17l-6 18l22 13" stroke="#7b70b4" stroke-width="2.8" stroke-opacity="0.9"/>
<path d="M799 1762l11 13l10 29l-12 21l-21 11l-3 25l18 8l25 22l-18 20l-5 16l21 12" stroke="#7b70b4" stroke-width="1.8" stroke-opacity="0.9"/>
<path d="M797 1763l11 12l9 29l-8 20l-22 12l-3 24l18 8l26 24l-20 16l-6 18l23 12" stroke="#7b70b4" stroke-width="2.6" stroke-opacity="0.9"/>
<path d="M801 1763l11 11l9 31l-10 20l-21 11l-4 25l19 9l23 22l-16 18l-7 18l22 11M802 1760l11 15l10 30l-10 19l-22 12l-1 24l17 10l22 20l-16 18l-5 18l21 12M803 1762l10 11l10 30l-10 20l-22 12l-1 25l17 9l25 22l-19 18l-5 19l21 10" stroke="#6a5fac" stroke-width="2.8" stroke-opacity="0.9"/>
<path d="M803 1763l10 15l9 26l-10 22l-21 10l-4 26l19 9l24 21l-17 19l-6 17l20 12" stroke="#7b70b4" stroke-width="2.2" stroke-opacity="0.9"/>
<path d="M803 1762l12 15l7 28l-8 18l-21 13l-4 25l19 8l24 22l-17 19l-7 18l23 11M798 1920l15-9l14 10l15 9l20 8l15-5" stroke="#6a5fac" stroke-width="2" stroke-opacity="0.9"/>
<path d="M802 1762l10 14l9 30l-7 19l-24 12l-1 25l17 9l24 23l-16 18l-8 16l24 12" stroke="#7b70b4" stroke-width="2" stroke-opacity="0.9"/>
<path d="M804 1764l11 13l10 27l-8 20l-24 13l-2 23l18 8l25 24l-19 19l-7 18l24 9M846 1758l16 14l-8 22l15 3l16 12l-24 11l38 14l-28 15l30 13l-30 17l25 18l-23 9l18 19l-32 10" stroke="#6a5fac" stroke-width="2.4" stroke-opacity="0.9"/>
<path d="M820 1748l2 19l-4 18l20 17l-6 11M823 1748l-4 23l-8 22l21 7l-7 21M823 1820l19 21l23 1l5 21l-27 5l-3 19l-1 33l16 19M813 1809l14-14l24 16l5 19l21 13l-10 12l-22 13M1314 1781l30 15l9 22l-20 20l19 21l-25 19l16 16l-20 20l27 25M1293 1833l-25 28l24 13l-27 25l35 23l-27 14M1296 1830l-31 28l25 11l-23 25l32 26l-27 16" stroke="#2b7bbb" stroke-width="1.4" stroke-opacity="0.9"/>
<path d="M827 1754l-9 20l2 13l19 16l-13 14" stroke="#3a8ac8" stroke-width="1" stroke-opacity="0.9"/>
<path d="M821 1755l-8 13l-2 16l27 9l-17 28M1314 1801l10 24l-15 27l23 19l-16 27l18 21" stroke="#6cb0e2" stroke-width="1.8" stroke-opacity="0.9"/>
<path d="M820 1752l2 23l-5 22l14 10l-9 19M825 1818l11 13l28 8l2 20l-26 5l4 17l-4 39l19 14M828 1811l20 15l19 1l10 36l-35 3l-2 21l3 28l19 18M810 1807l11-9l20 11l17 16l22 12l-19 19l-16 1M800 1916l12-11l10 12l13 8l22 3l13-6M1281 1799l17-15l27 14l7 21l-14 22l26 23l-24 24l15 24l-10 18" stroke="#2b7bbb" stroke-width="1.6" stroke-opacity="0.9"/>
<path d="M822 1754l-5 21l-1 14l20 13l-13 16M804 1804l18-8l12 13l18 20l20 12l-16 17l-18 10" stroke="#3a8ac8" stroke-width="1.4" stroke-opacity="0.9"/>
<path d="M828 1754l-9 14l-2 20l22 7l-13 19M1320 1778l31 19l7 20l-19 23l20 20l-25 15l21 20l-24 20l25 21" stroke="#6cb0e2" stroke-width="1.6" stroke-opacity="0.9"/>
<path d="M827 1810l19 17l14 4l5 27l-21-3l-11 23l4 23l18 27M818 1804l6-10l22 14l21 16l11 14l-12 13l-23 4" stroke="#3a8ac8" stroke-width="1.8" stroke-opacity="0.9"/>
<path d="M827 1819l20 16l16 5l6 23l-26 3l-7 17l2 39l21 14" stroke="#2b7bbb" stroke-width="1.2" stroke-opacity="0.9"/>
<path d="M833 1824l19 20l21 1l5 20l-32 10l-3 15l-3 32l25 15M1319 1806l8 36l-19 8l26 21l-16 29l20 31" stroke="#6cb0e2" stroke-width="2.4" stroke-opacity="0.9"/>
<path d="M828 1813l23 14l22 7l4 23l-29 7l-4 17l3 31l21 15" stroke="#1f6fae" stroke-width="1.8" stroke-opacity="0.9"/>
<path d="M820 1817l19 17l24 1l4 25l-27 1l-7 17l0 35l24 19M831 1819l18 13l18 7l5 24l-23 7l-4 15l-4 34l21 17" stroke="#3a8ac8" stroke-width="1.6" stroke-opacity="0.9"/>
<path d="M828 1824l16 21l21 2l1 21l-24 5l-10 15l7 34l16 19M1312 1807l12 27l-11 24l16 21l-15 21l18 31" stroke="#6cb0e2" stroke-width="1.4" stroke-opacity="0.9"/>
<path d="M825 1816l19 18l23 7l1 17l-17 7l-15 18l-2 29l30 22" stroke="#1f6fae" stroke-width="2.4" stroke-opacity="0.9"/>
<path d="M825 1807l14 31l31 7l-4 16l-20 1l-4 20l-4 32l22 19M826 1819l21 17l21 0l3 28l-31 7l-7 9l13 42l15 16M823 1817l17 21l22 7l0 18l-20 4l-7 18l3 34l15 19M788 1929l20-6l9 7l24 12l16 3l14-5M798 1924l16-8l18 8l13 8l20 5l16-1M788 1922l21-11l10 12l18 7l19 5l13-4M1281 1795l21-5l23 15l16 24l-16 19l22 21l-18 25l10 18l-11 22" stroke="#2b7bbb" stroke-width="2.2" stroke-opacity="0.9"/>
<path d="M827 1814l10 19l27 9l3 19l-29 3l-4 20l4 28l21 18M853 1760l14 15l-7 22l15 2l16 11l-24 13l38 15l-29 14l28 12l-27 19l26 18l-25 8l17 18l-31 11" stroke="#3a8ac8" stroke-width="2.2" stroke-opacity="0.9"/>
<path d="M824 1814l22 21l16 9l6 22l-25-1l-3 23l-5 30l30 20M826 1824l23 24l19-2l6 22l-27 1l-4 23l-6 27l26 24M855 1760l16 16l-5 22l14 2l15 12l-24 13l39 12l-29 14l30 15l-31 16l26 19l-25 9l19 19l-30 9M1322 1783l28 11l14 26l-24 20l21 22l-24 17l14 16l-18 14l29 31" stroke="#6cb0e2" stroke-width="2" stroke-opacity="0.9"/>
<path d="M829 1821l13 15l19 11l9 23l-33 3l-4 17l-4 32l26 20M826 1818l23 12l16 10l2 26l-24 1l-5 16l-2 36l22 15" stroke="#1f6fae" stroke-width="1.4" stroke-opacity="0.9"/>
<path d="M812 1800l10-10l19 19l17 17l15 8l-10 21l-24 5M810 1805l18-6l17 11l15 22l20 8l-12 11l-23 12" stroke="#6cb0e2" stroke-width="1" stroke-opacity="0.9"/>
<path d="M794 1925l11-10l18 11l13 7l21 11l14-10M784 1808l14 16l-8 13l15 13l-7 12" stroke="#e98a2b" stroke-width="1.4" stroke-opacity="0.9"/>
<path d="M795 1925l22-9l7 16l19 2l23 4l14-1" stroke="#6a5fac" stroke-width="1.4" stroke-opacity="0.9"/>
<path d="M797 1931l11-11l8 7l20 6l22 8l18-2" stroke="#6a5fac" stroke-width="1.6" stroke-opacity="0.9"/>
<path d="M792 1924l15-13l13 13l14 8l26 5l15-4M781 1809l15 6l-11 20l17 9l-12 19M793 1814l6 12l-4 14l23 7l-14 20" stroke="#e98a2b" stroke-width="1.8" stroke-opacity="0.9"/>
<path d="M791 1811l13 8l-13 18l17 11l-8 14M785 1808l15 9l-9 19l14 13l-8 10" stroke="#f0a050" stroke-width="1.6" stroke-opacity="0.9"/>
<path d="M847 1758l14 15l-5 22l14 4l18 10l-26 14l37 13l-28 13l28 13l-27 19l27 19l-26 7l18 18l-32 13" stroke="#6a5fac" stroke-width="1.8" stroke-opacity="0.9"/>
<path d="M850 1762l16 15l-7 21l15 5l16 10l-25 14l39 12l-28 13l27 15l-27 17l26 18l-26 10l18 18l-30 9" stroke="#3a8ac8" stroke-width="2.4" stroke-opacity="0.9"/>
<path d="M851 1761l16 16l-6 20l15 3l17 12l-23 13l36 12l-30 15l30 14l-30 17l29 18l-27 8l19 18l-32 11" stroke="#6cb0e2" stroke-width="2.2" stroke-opacity="0.9"/>
<path d="M853 1759l19 14l-9 24l17 2l14 11l-23 14l37 13l-28 14l28 14l-29 18l27 18l-26 8l18 18l-30 10" stroke="#9c98cc" stroke-width="2" stroke-opacity="0.9"/>
<path d="M854 1760l16 15l-6 23l15 2l17 11l-26 13l40 15l-31 12l29 15l-28 15l26 18l-25 10l18 19l-32 11" stroke="#e98a2b" stroke-width="2" stroke-opacity="0.9"/>
<path d="M1197 1836l10-5l6-6l5-1l12-2l6 4l5 2l9 6l5 1l7 5M1202 1816l9 6l11-3l8-3l5 4l10-2l8 2l10 0l5-5l5 4M1200 1825l7-5l11 7l5 3l11 6l5-5l6-4l11 6l8-5l7-4M1205 1849l8 1l9 0l10 5l5 4l8 1l12-6l7-2l12-5l9-5M1205 1852l9 3l7 2l4 5l10 1l8-4l7 2l9-5l4-2l6-3M1204 1835l9 5l9-1l4 4l9 7l9 5l10 6l8-2l7-7l6-2" stroke="#7b5ea8" stroke-width="2.4" stroke-opacity="0.9"/>
<path d="M1185 1841l11-3l7 6l9-6l5-4l7 5l9 6l10 2l7 3l8-6M1201 1838l6-3l11-2l10-2l6-7l12 3l11 2l5-5l4 1l9 7" stroke="#8d70b8" stroke-width="1.8" stroke-opacity="0.9"/>
<path d="M1194 1825l4 7l7-2l5 1l12-5l8 0l10 1l6-4l10-6l10-3M1199 1841l7 0l10 2l9 4l10-5l5-7l6 7l6-1l8 1l6 4M1203 1832l11-7l6 3l11 4l6-6l10 4l4 6l8-7l8-2l5 5" stroke="#8d70b8" stroke-width="2.4" stroke-opacity="0.9"/>
<path d="M1185 1822l9-5l5 0l7-5l9 1l7-1l4 2l6-2l4 5l9-2M1204 1826l7-1l6 4l4 2l11-3l5-5l5 4l9-7l7 1l7-6M1200 1841l8-1l7 0l9 3l7 1l5-7l7-2l5-6l7 7l11-7M1206 1835l5-3l7-5l9-2l10-2l12-4l8-4l4-2l11 4l8 4" stroke="#8d70b8" stroke-width="2.8" stroke-opacity="0.9"/>
<path d="M1205 1837l11 1l11 7l11 3l12-5l7 0l5 4l5 2l6-2l9-5M1204 1815l8 5l9 0l11-1l5 2l4-4l4-5l5 1l5 1l10 0M1186 1822l4 0l8-2l11-2l11 0l5-7l9 6l4 2l6 3l10 3" stroke="#7b5ea8" stroke-width="2" stroke-opacity="0.9"/>
<path d="M1196 1842l7 3l6 5l5 1l7-7l4-7l7-3l12 2l4 3l6-1M1185 1818l10 5l5-4l6 4l11-3l5 6l11 3l8 4l10 0l6 0M1205 1842l7-6l10-3l5-3l9-3l10 6l12 5l11-3l11-6l8-5M1292 1831l-24 30l20 13l-25 23l32 23l-26 15M1290 1824l-25 26l20 12l-26 26l35 28l-29 15M1294 1831l-26 21l19 12l-18 28l29 27l-29 13M1296 1822l12 22l-24 11l16 17M1293 1818l12 21l-17 8l12 18" stroke="#7b5ea8" stroke-width="1.6" stroke-opacity="0.9"/>
<path d="M1204 1845l6-2l7 4l7 2l6 4l11-4l9-5l5-1l5 3l9 3M1292 1823l14 23l-22 6l15 17" stroke="#8d70b8" stroke-width="2.2" stroke-opacity="0.9"/>
<path d="M1185 1846l9 1l11 2l11-3l11 2l7-7l8-3l9 0l8-6l5 1M1187 1826l9 5l7-5l5-7l10-3l10 4l5-5l6 4l10-3l8-2" stroke="#8d70b8" stroke-width="2.6" stroke-opacity="0.9"/>
<path d="M1201 1847l8 0l11-2l11 0l7 0l7 7l4-2l5 3l5-5l8 1M1185 1829l11-2l12-5l10 7l5-7l5-6l11 1l8-5l9-1l5 1" stroke="#6f529c" stroke-width="2.6" stroke-opacity="0.9"/>
<path d="M1200 1831l11-4l4 6l8-5l5 5l10-6l9-4l8 2l4 6l7-5M1191 1831l11 0l4-2l12-6l6-6l11-2l5-2l5-1l9 2l5 0" stroke="#6f529c" stroke-width="2" stroke-opacity="0.9"/>
<path d="M1198 1825l8 6l10-4l5 1l7-2l12-5l9-5l11 6l9-3l10 6M1192 1838l8-5l11-6l6 3l9 3l7 0l6 0l6 2l5-5l5 0" stroke="#7b5ea8" stroke-width="3" stroke-opacity="0.9"/>
<path d="M1193 1837l5 7l9-5l10 1l9 4l8 5l12-1l9-2l8-2l9-2M1184 1834l6 4l10 3l9 5l10-6l5 4l11 6l10-4l9 1l8-5" stroke="#7b5ea8" stroke-width="2.2" stroke-opacity="0.9"/>
<path d="M1191 1848l12 2l11 6l6 6l5 1l5-3l8 3l9-4l11 1l9-7M1187 1825l6-5l5 0l4 5l7-1l8-7l5 4l8 0l7 4l8 4M1180 1848l8-7l10-6l11 4l8-1l5 3l4 0l11 3l5 3l10-2" stroke="#7b5ea8" stroke-width="1.8" stroke-opacity="0.9"/>
<path d="M1200 1825l11-4l6 6l12 6l11 5l10 1l5 3l10 5l5-6l10 0" stroke="#6f529c" stroke-width="2.2" stroke-opacity="0.9"/>
<path d="M1188 1838l9-6l11 1l10 2l7-3l4 3l5 2l11 3l9 4l12 4" stroke="#6f529c" stroke-width="1.8" stroke-opacity="0.9"/>
<path d="M1261 1792l30-9l14 10l-5 28l-21 2l-16-16l-9 16" stroke="#f5c27a" stroke-width="1.2" stroke-opacity="0.9"/>
<path d="M1263 1792l31-3l16 7l-8 27l-22 3l-15-12l-7 13M1310 1804l14 25l-19 27l17 17l-11 26l17 22M1278 1796l16-12l28 17l7 18l-11 28l16 10l-14 28l13 25l-13 30M1285 1799l16-7l26 15l14 20l-22 23l24 22l-25 22l23 25l-21 19" stroke="#f5b274" stroke-width="1.6" stroke-opacity="0.9"/>
<path d="M1264 1793l29-9l16 10l-6 26l-20 2l-17-12l-8 12M1260 1787l29-4l15 9l-6 28l-18 4l-18-14l-8 12" stroke="#f5c27a" stroke-width="1.6" stroke-opacity="0.9"/>
<path d="M1262 1792l30-8l15 9l-6 27l-23 2l-15-13l-9 14M1308 1805l3 17l-9 30l19 16l-18 29l19 28" stroke="#f5b274" stroke-width="2" stroke-opacity="0.9"/>
<path d="M1263 1788l29-5l14 9l-5 28l-21 2l-17-12l-6 11M1315 1803l9 32l-13 17l16 18l-12 23l18 33M1279 1803l19-16l27 19l16 14l-22 29l22 17l-18 27l21 22l-21 23" stroke="#f5b274" stroke-width="2.2" stroke-opacity="0.9"/>
<path d="M1324 1779l27 21l11 22l-22 17l16 22l-18 13l14 19l-16 20l24 23M1313 1781l30 13l13 20l-24 28l22 18l-17 17l11 16l-16 19l23 24M1318 1779l33 18l6 18l-17 23l17 21l-23 15l20 18l-23 22l26 21M1276 1804l20-15l24 19l9 16l-15 26l25 23l-18 16l20 25l-22 27" stroke="#2b7bbb" stroke-width="1.8" stroke-opacity="0.9"/>
<path d="M1319 1782l30 17l11 21l-21 17l19 25l-24 20l12 11l-14 22l23 24M1316 1818l6 21l-7 20l13 28l-10 20l18 25M1309 1814l9 28l-14 18l15 21l-15 29l18 21" stroke="#a5c6ea" stroke-width="1.4" stroke-opacity="0.9"/>
<path d="M1327 1776l28 16l4 23l-18 23l18 20l-19 12l14 19l-18 20l23 23" stroke="#bcd4ec" stroke-width="1.6" stroke-opacity="0.9"/>
<path d="M1321 1788l34 12l6 22l-18 22l15 18l-23 20l18 15l-20 23l26 25M1283 1796l22-6l20 12l13 16l-16 29l19 19l-15 35l16 13l-14 19" stroke="#a5c6ea" stroke-width="1.8" stroke-opacity="0.9"/>
<path d="M1319 1778l30 18l12 18l-21 20l18 26l-24 16l16 14l-17 22l21 23" stroke="#bcd4ec" stroke-width="1.2" stroke-opacity="0.9"/>
<path d="M1325 1776l28 16l9 24l-19 21l14 23l-16 16l14 14l-22 19l29 25M1313 1805l9 26l-15 23l21 21l-13 20l15 25" stroke="#a5c6ea" stroke-width="2.2" stroke-opacity="0.9"/>
<path d="M1325 1780l26 19l10 20l-19 23l18 23l-23 13l18 15l-23 20l34 28" stroke="#6cb0e2" stroke-width="1.2" stroke-opacity="0.9"/>
<path d="M1287 1827l-23 29l18 10l-24 26l40 27l-32 15" stroke="#ef8230" stroke-width="2.4" stroke-opacity="0.9"/>
<path d="M1289 1825l-23 32l20 14l-21 21l31 24l-29 17" stroke="#ef8230" stroke-width="1.4" stroke-opacity="0.9"/>
<path d="M1288 1832l-22 28l23 11l-28 25l37 23l-30 16M1282 1803l20-12l29 19l2 13l-6 27l17 19l-19 24l16 21l-14 25" stroke="#a5c6ea" stroke-width="2" stroke-opacity="0.9"/>
<path d="M1294 1830l-26 27l19 12l-22 28l35 21l-29 18M1292 1825l-25 28l17 13l-21 27l30 22l-25 17M1291 1827l-24 29l22 8l-28 27l36 25l-26 15" stroke="#ef8230" stroke-width="2" stroke-opacity="0.9"/>
<path d="M1297 1829l-25 28l20 11l-26 27l33 26l-27 14M1294 1807l14 26l-20 22l23 25l-6 20l9 29M1275 1795l14-3l25 13l18 22l-19 25l17 17l-13 29l10 17l-15 28" stroke="#a5c6ea" stroke-width="1.6" stroke-opacity="0.9"/>
<path d="M1307 1810l9 27l-16 29l16 10l-10 30l8 23M1318 1809l10 23l-13 24l19 23l-15 25l24 24M1277 1793l21-6l22 17l11 22l-20 21l27 22l-23 17l22 28l-14 20" stroke="#bcaad4" stroke-width="2" stroke-opacity="0.9"/>
<path d="M1310 1810l6 21l-14 20l15 29l-12 23l21 18" stroke="#f5b274" stroke-width="2.4" stroke-opacity="0.9"/>
<path d="M1308 1812l11 33l-21 19l23 20l-21 22l22 23" stroke="#bcaad4" stroke-width="1.8" stroke-opacity="0.9"/>
<path d="M1274 1806l21-15l27 13l15 21l-21 25l16 25l-8 21l10 23l-8 18" stroke="#c8d8ec" stroke-width="1.4" stroke-opacity="0.9"/>
<path d="M1278 1815l25-11l26 14l13 14l-20 30l26 20l-22 22l17 23l-17 24" stroke="#bcaad4" stroke-width="1.2" stroke-opacity="0.9"/>
<path d="M1272 1806l28-8l21 15l15 14l-16 23l24 20l-24 26l15 25l-13 15M1279 1802l23-10l30 11l1 21l-16 23l24 18l-26 28l19 23l-14 19" stroke="#c8d8ec" stroke-width="2.2" stroke-opacity="0.9"/>
<path d="M1295 1827l11 22l-17 5l9 23" stroke="#7b5ea8" stroke-width="1.2" stroke-opacity="0.9"/>
<path d="M1296 1821l11 23l-19 8l10 17" stroke="#8d70b8" stroke-width="1.2" stroke-opacity="0.9"/>
<path d="M1296 1823l8 17l-21 7l16 20" stroke="#8d70b8" stroke-width="2" stroke-opacity="0.9"/>
</g>
<text x="-0.90" y="12.70" font-size="14.6" font-weight="bold" fill="#231f20">A</text>
<text x="164.30" y="13.20" font-size="9.8" text-anchor="middle" textLength="111.6" lengthAdjust="spacingAndGlyphs" fill="#231f20">Protomer coordinate PCA</text>
<rect x="52.10" y="33.90" width="40.60" height="62.00" rx="12" ry="12" fill="none" stroke="#b0b0b0" stroke-width="1.0" stroke-dasharray="3 2.4"/>
<circle cx="109.00" cy="150.70" r="3.00" fill="none" stroke="#c4c8c8" stroke-width="1.1"/>
<circle cx="108.10" cy="164.40" r="3.00" fill="none" stroke="#c4c8c8" stroke-width="1.1"/>
<circle cx="123.30" cy="168.60" r="3.00" fill="none" stroke="#c4c8c8" stroke-width="1.1"/>
<circle cx="166.80" cy="164.00" r="3.00" fill="none" stroke="#c4c8c8" stroke-width="1.1"/>
<circle cx="162.50" cy="173.20" r="3.00" fill="none" stroke="#c4c8c8" stroke-width="1.1"/>
<circle cx="180.10" cy="172.90" r="3.00" fill="none" stroke="#c4c8c8" stroke-width="1.1"/>
<circle cx="186.50" cy="168.10" r="3.00" fill="none" stroke="#c4c8c8" stroke-width="1.1"/>
<circle cx="185.40" cy="194.60" r="3.00" fill="none" stroke="#c4c8c8" stroke-width="1.1"/>
<circle cx="183.40" cy="200.80" r="3.00" fill="none" stroke="#c4c8c8" stroke-width="1.1"/>
<circle cx="158.90" cy="207.80" r="3.00" fill="none" stroke="#c4c8c8" stroke-width="1.1"/>
<circle cx="155.80" cy="233.30" r="3.00" fill="none" stroke="#c4c8c8" stroke-width="1.1"/>
<circle cx="217.10" cy="31.10" r="3.00" fill="none" stroke="#c4c8c8" stroke-width="1.1"/>
<circle cx="215.60" cy="38.30" r="3.00" fill="none" stroke="#c4c8c8" stroke-width="1.1"/>
<circle cx="233.60" cy="48.20" r="3.00" fill="none" stroke="#c4c8c8" stroke-width="1.1"/>
<circle cx="169.80" cy="57.80" r="3.00" fill="none" stroke="#c4c8c8" stroke-width="1.1"/>
<circle cx="168.30" cy="65.80" r="3.00" fill="none" stroke="#c4c8c8" stroke-width="1.1"/>
<circle cx="172.20" cy="66.40" r="3.00" fill="none" stroke="#c4c8c8" stroke-width="1.1"/>
<circle cx="70.20" cy="119.00" r="3.50" fill="#d2d5d5" fill-opacity="0.92"/>
<circle cx="71.50" cy="183.60" r="3.50" fill="#d2d5d5" fill-opacity="0.92"/>
<circle cx="63.80" cy="185.20" r="3.50" fill="#d2d5d5" fill-opacity="0.92"/>
<circle cx="58.70" cy="189.20" r="3.50" fill="#d2d5d5" fill-opacity="0.92"/>
<circle cx="68.40" cy="187.70" r="3.50" fill="#d2d5d5" fill-opacity="0.92"/>
<circle cx="64.30" cy="191.30" r="3.50" fill="#d2d5d5" fill-opacity="0.92"/>
<circle cx="71.50" cy="193.80" r="3.50" fill="#d2d5d5" fill-opacity="0.92"/>
<circle cx="60.80" cy="194.30" r="3.50" fill="#d2d5d5" fill-opacity="0.92"/>
<circle cx="66.90" cy="195.90" r="3.50" fill="#d2d5d5" fill-opacity="0.92"/>
<circle cx="57.70" cy="199.00" r="3.50" fill="#d2d5d5" fill-opacity="0.92"/>
<circle cx="63.30" cy="200.00" r="3.50" fill="#d2d5d5" fill-opacity="0.92"/>
<circle cx="76.10" cy="197.90" r="3.50" fill="#d2d5d5" fill-opacity="0.92"/>
<circle cx="84.30" cy="193.10" r="3.50" fill="#d2d5d5" fill-opacity="0.92"/>
<circle cx="63.30" cy="203.50" r="3.50" fill="#d2d5d5" fill-opacity="0.92"/>
<circle cx="69.00" cy="205.10" r="3.50" fill="#d2d5d5" fill-opacity="0.92"/>
<circle cx="74.60" cy="202.00" r="3.50" fill="#d2d5d5" fill-opacity="0.92"/>
<circle cx="76.60" cy="207.60" r="3.50" fill="#d2d5d5" fill-opacity="0.92"/>
<circle cx="81.70" cy="211.70" r="3.50" fill="#d2d5d5" fill-opacity="0.92"/>
<circle cx="76.10" cy="212.70" r="3.50" fill="#d2d5d5" fill-opacity="0.92"/>
<circle cx="87.30" cy="211.70" r="3.50" fill="#d2d5d5" fill-opacity="0.92"/>
<circle cx="89.40" cy="208.10" r="3.50" fill="#d2d5d5" fill-opacity="0.92"/>
<circle cx="80.20" cy="220.40" r="3.50" fill="#d2d5d5" fill-opacity="0.92"/>
<circle cx="83.30" cy="224.00" r="3.50" fill="#d2d5d5" fill-opacity="0.92"/>
<circle cx="81.70" cy="226.50" r="3.50" fill="#d2d5d5" fill-opacity="0.92"/>
<circle cx="93.80" cy="224.00" r="3.50" fill="#d2d5d5" fill-opacity="0.92"/>
<circle cx="68.40" cy="198.40" r="3.50" fill="#d2d5d5" fill-opacity="0.92"/>
<circle cx="72.50" cy="203.00" r="3.50" fill="#d2d5d5" fill-opacity="0.92"/>
<circle cx="58.20" cy="194.30" r="3.50" fill="#d2d5d5" fill-opacity="0.92"/>
<circle cx="62.50" cy="134.30" r="3.50" fill="#6b8b48" fill-opacity="0.92"/>
<circle cx="67.90" cy="139.40" r="3.50" fill="#6b8b48" fill-opacity="0.92"/>
<circle cx="59.80" cy="153.70" r="3.50" fill="#6b8b48" fill-opacity="0.92"/>
<circle cx="71.30" cy="154.00" r="3.50" fill="#6b8b48" fill-opacity="0.92"/>
<circle cx="57.20" cy="158.40" r="3.50" fill="#6b8b48" fill-opacity="0.92"/>
<circle cx="64.30" cy="156.80" r="3.50" fill="#6b8b48" fill-opacity="0.92"/>
<circle cx="67.40" cy="158.60" r="3.50" fill="#6b8b48" fill-opacity="0.92"/>
<circle cx="62.30" cy="160.70" r="3.50" fill="#6b8b48" fill-opacity="0.92"/>
<circle cx="60.80" cy="162.70" r="3.50" fill="#6b8b48" fill-opacity="0.92"/>
<circle cx="66.40" cy="165.30" r="3.50" fill="#6b8b48" fill-opacity="0.92"/>
<circle cx="59.80" cy="169.30" r="3.50" fill="#6b8b48" fill-opacity="0.92"/>
<circle cx="74.60" cy="168.80" r="3.50" fill="#6b8b48" fill-opacity="0.92"/>
<circle cx="71.50" cy="171.40" r="3.50" fill="#6b8b48" fill-opacity="0.92"/>
<circle cx="68.40" cy="173.90" r="3.50" fill="#6b8b48" fill-opacity="0.92"/>
<circle cx="66.90" cy="177.00" r="3.50" fill="#6b8b48" fill-opacity="0.92"/>
<circle cx="65.40" cy="180.60" r="3.50" fill="#6b8b48" fill-opacity="0.92"/>
<circle cx="89.70" cy="182.30" r="3.50" fill="#6b8b48" fill-opacity="0.92"/>
<circle cx="72.50" cy="41.00" r="3.50" fill="#4c5596" fill-opacity="0.92"/>
<circle cx="68.60" cy="53.70" r="3.50" fill="#4c5596" fill-opacity="0.92"/>
<circle cx="75.10" cy="52.00" r="3.50" fill="#4c5596" fill-opacity="0.92"/>
<circle cx="66.90" cy="64.00" r="3.50" fill="#4c5596" fill-opacity="0.92"/>
<circle cx="75.90" cy="64.00" r="3.50" fill="#4c5596" fill-opacity="0.92"/>
<circle cx="71.30" cy="69.60" r="3.50" fill="#4c5596" fill-opacity="0.92"/>
<circle cx="74.60" cy="75.80" r="3.50" fill="#4c5596" fill-opacity="0.92"/>
<circle cx="74.00" cy="75.00" r="3.50" fill="#4c5596" fill-opacity="0.92"/>
<circle cx="72.70" cy="90.30" r="3.50" fill="#4c5596" fill-opacity="0.92"/>
<circle cx="138.40" cy="168.80" r="3.50" fill="#977638" fill-opacity="0.92"/>
<circle cx="154.00" cy="152.10" r="3.50" fill="#977638" fill-opacity="0.92"/>
<circle cx="154.60" cy="158.70" r="3.50" fill="#977638" fill-opacity="0.92"/>
<circle cx="156.00" cy="166.60" r="3.50" fill="#977638" fill-opacity="0.92"/>
<circle cx="158.90" cy="165.30" r="3.50" fill="#977638" fill-opacity="0.92"/>
<circle cx="154.80" cy="174.50" r="3.50" fill="#977638" fill-opacity="0.92"/>
<circle cx="158.40" cy="173.20" r="3.50" fill="#977638" fill-opacity="0.92"/>
<circle cx="156.80" cy="175.80" r="3.50" fill="#977638" fill-opacity="0.92"/>
<circle cx="212.20" cy="190.60" r="3.50" fill="#9a4743" fill-opacity="0.92"/>
<circle cx="219.60" cy="194.70" r="3.50" fill="#9a4743" fill-opacity="0.92"/>
<circle cx="225.40" cy="199.60" r="3.50" fill="#9a4743" fill-opacity="0.92"/>
<circle cx="230.10" cy="183.00" r="3.50" fill="#9a4743" fill-opacity="0.92"/>
<circle cx="234.20" cy="182.80" r="3.50" fill="#9a4743" fill-opacity="0.92"/>
<circle cx="235.40" cy="182.40" r="3.50" fill="#9a4743" fill-opacity="0.92"/>
<circle cx="231.30" cy="189.80" r="3.50" fill="#9a4743" fill-opacity="0.92"/>
<circle cx="235.60" cy="192.60" r="3.50" fill="#9a4743" fill-opacity="0.92"/>
<circle cx="259.70" cy="176.00" r="3.50" fill="#c0574f" fill-opacity="0.92"/>
<circle cx="266.90" cy="171.40" r="3.50" fill="#c0574f" fill-opacity="0.92"/>
<circle cx="271.80" cy="168.80" r="3.50" fill="#c0574f" fill-opacity="0.92"/>
<circle cx="270.40" cy="175.10" r="3.50" fill="#c0574f" fill-opacity="0.92"/>
<circle cx="269.00" cy="178.10" r="3.50" fill="#c0574f" fill-opacity="0.92"/>
<circle cx="271.80" cy="176.60" r="3.50" fill="#c0574f" fill-opacity="0.92"/>
<circle cx="269.00" cy="185.40" r="3.50" fill="#c0574f" fill-opacity="0.92"/>
<circle cx="276.50" cy="188.50" r="3.50" fill="#c0574f" fill-opacity="0.92"/>
<circle cx="173.70" cy="195.40" r="3.50" fill="#d69cc0" fill-opacity="0.92"/>
<circle cx="174.70" cy="211.30" r="3.50" fill="#d69cc0" fill-opacity="0.92"/>
<circle cx="167.40" cy="216.20" r="3.50" fill="#d69cc0" fill-opacity="0.92"/>
<circle cx="169.60" cy="220.00" r="3.50" fill="#d69cc0" fill-opacity="0.92"/>
<circle cx="174.20" cy="233.30" r="3.50" fill="#d69cc0" fill-opacity="0.92"/>
<circle cx="170.50" cy="239.90" r="3.50" fill="#d69cc0" fill-opacity="0.92"/>
<circle cx="174.50" cy="249.10" r="3.50" fill="#d69cc0" fill-opacity="0.92"/>
<circle cx="80.50" cy="170.10" r="3.50" fill="#b2609e" fill-opacity="0.92"/>
<circle cx="75.80" cy="177.20" r="3.50" fill="#b2609e" fill-opacity="0.92"/>
<circle cx="79.70" cy="178.80" r="3.50" fill="#b2609e" fill-opacity="0.92"/>
<circle cx="79.90" cy="183.60" r="3.50" fill="#b2609e" fill-opacity="0.92"/>
<circle cx="68.40" cy="143.30" r="3.50" fill="#8a3f7e" fill-opacity="0.92"/>
<circle cx="62.60" cy="167.30" r="3.50" fill="#8a3f7e" fill-opacity="0.92"/>
<line x1="67.60" y1="127.00" x2="67.60" y2="102.70" stroke="#231f20" stroke-width="0.8"/>
<polygon points="67.60,99.50 69.00,102.70 66.20,102.70" fill="#231f20"/>
<line x1="72.50" y1="100.50" x2="72.50" y2="124.60" stroke="#231f20" stroke-width="0.8"/>
<polygon points="72.50,127.80 71.10,124.60 73.90,124.60" fill="#231f20"/>
<line x1="94.00" y1="181.00" x2="130.36" y2="174.00" stroke="#231f20" stroke-width="0.8"/>
<polygon points="133.50,173.40 130.62,175.38 130.09,172.63" fill="#231f20"/>
<line x1="170.10" y1="165.50" x2="245.82" y2="173.66" stroke="#231f20" stroke-width="0.8"/>
<polygon points="249.00,174.00 245.67,175.05 245.97,172.27" fill="#231f20"/>
<line x1="260.10" y1="183.60" x2="243.52" y2="187.30" stroke="#231f20" stroke-width="0.8"/>
<polygon points="240.40,188.00 243.22,185.94 243.83,188.67" fill="#231f20"/>
<line x1="212.60" y1="206.20" x2="185.46" y2="222.08" stroke="#231f20" stroke-width="0.8"/>
<polygon points="182.70,223.70 184.75,220.88 186.17,223.29" fill="#231f20"/>
<line x1="159.40" y1="227.20" x2="101.83" y2="207.34" stroke="#231f20" stroke-width="0.8"/>
<polygon points="98.80,206.30 102.28,206.02 101.37,208.67" fill="#231f20"/>
<circle cx="57.40" cy="113.40" r="6.40" fill="#fff" stroke="#231f20" stroke-width="0.75"/>
<text x="57.40" y="116.82" font-size="9.5" text-anchor="middle" fill="#231f20">5</text>
<circle cx="83.00" cy="113.40" r="6.40" fill="#fff" stroke="#231f20" stroke-width="0.75"/>
<text x="83.00" y="116.82" font-size="9.5" text-anchor="middle" fill="#231f20">1</text>
<circle cx="114.60" cy="188.00" r="6.40" fill="#fff" stroke="#231f20" stroke-width="0.75"/>
<text x="114.60" y="191.42" font-size="9.5" text-anchor="middle" fill="#231f20">2</text>
<circle cx="211.40" cy="159.70" r="6.40" fill="#fff" stroke="#231f20" stroke-width="0.75"/>
<text x="211.40" y="163.12" font-size="9.5" text-anchor="middle" fill="#231f20">3</text>
<circle cx="257.30" cy="200.90" r="6.40" fill="#fff" stroke="#231f20" stroke-width="0.75"/>
<text x="257.30" y="204.32" font-size="9.5" text-anchor="middle" fill="#231f20">4</text>
<circle cx="209.00" cy="226.00" r="6.40" fill="#fff" stroke="#231f20" stroke-width="0.75"/>
<text x="209.00" y="229.42" font-size="9.5" text-anchor="middle" fill="#231f20">5</text>
<circle cx="121.00" cy="228.00" r="6.40" fill="#fff" stroke="#231f20" stroke-width="0.75"/>
<text x="121.00" y="231.42" font-size="9.5" text-anchor="middle" fill="#231f20">4</text>
<rect x="46.50" y="20.60" width="240.90" height="239.40" stroke="#231f20" stroke-width="1.1" fill="none"/>
<line x1="43.20" y1="31.40" x2="46.50" y2="31.40" stroke="#231f20" stroke-width="0.9"/>
<text x="41.50" y="34.00" font-size="7.3" text-anchor="end" fill="#231f20">3</text>
<line x1="43.20" y1="77.80" x2="46.50" y2="77.80" stroke="#231f20" stroke-width="0.9"/>
<text x="41.50" y="80.40" font-size="7.3" text-anchor="end" fill="#231f20">2</text>
<line x1="43.20" y1="124.20" x2="46.50" y2="124.20" stroke="#231f20" stroke-width="0.9"/>
<text x="41.50" y="126.80" font-size="7.3" text-anchor="end" fill="#231f20">1</text>
<line x1="43.20" y1="170.60" x2="46.50" y2="170.60" stroke="#231f20" stroke-width="0.9"/>
<text x="41.50" y="173.20" font-size="7.3" text-anchor="end" fill="#231f20">0</text>
<line x1="43.20" y1="217.00" x2="46.50" y2="217.00" stroke="#231f20" stroke-width="0.9"/>
<text x="41.50" y="219.60" font-size="7.3" text-anchor="end" fill="#231f20">−1</text>
<line x1="55.60" y1="260.00" x2="55.60" y2="263.30" stroke="#231f20" stroke-width="0.9"/>
<text x="55.60" y="270.70" font-size="7.3" text-anchor="middle" fill="#231f20">−1.0</text>
<line x1="89.45" y1="260.00" x2="89.45" y2="263.30" stroke="#231f20" stroke-width="0.9"/>
<text x="89.45" y="270.70" font-size="7.3" text-anchor="middle" fill="#231f20">−0.5</text>
<line x1="123.30" y1="260.00" x2="123.30" y2="263.30" stroke="#231f20" stroke-width="0.9"/>
<text x="123.30" y="270.70" font-size="7.3" text-anchor="middle" fill="#231f20">0.0</text>
<line x1="157.15" y1="260.00" x2="157.15" y2="263.30" stroke="#231f20" stroke-width="0.9"/>
<text x="157.15" y="270.70" font-size="7.3" text-anchor="middle" fill="#231f20">0.5</text>
<line x1="191.00" y1="260.00" x2="191.00" y2="263.30" stroke="#231f20" stroke-width="0.9"/>
<text x="191.00" y="270.70" font-size="7.3" text-anchor="middle" fill="#231f20">1.0</text>
<line x1="224.85" y1="260.00" x2="224.85" y2="263.30" stroke="#231f20" stroke-width="0.9"/>
<text x="224.85" y="270.70" font-size="7.3" text-anchor="middle" fill="#231f20">1.5</text>
<line x1="258.70" y1="260.00" x2="258.70" y2="263.30" stroke="#231f20" stroke-width="0.9"/>
<text x="258.70" y="270.70" font-size="7.3" text-anchor="middle" fill="#231f20">2.0</text>
<text x="167.00" y="280.40" font-size="7.3" text-anchor="middle" fill="#231f20">Mode 0</text>
<text x="27.00" y="140.60" font-size="7.3" text-anchor="middle" transform="rotate(-90 27.0 140.6)" fill="#231f20">Mode 4</text>
<text x="139.60" y="300.40" font-size="9.7" text-anchor="end" fill="#231f20">pre-hydrolyzing E</text>
<circle cx="148.30" cy="297.00" r="3.60" fill="#4e5a9c"/>
<text x="139.60" y="312.02" font-size="9.7" text-anchor="end" fill="#231f20">hydrolyzed DC</text>
<circle cx="148.30" cy="308.62" r="3.60" fill="#6a8c4c"/>
<text x="139.60" y="323.64" font-size="9.7" text-anchor="end" fill="#231f20">hydrolyzed B</text>
<circle cx="148.30" cy="320.24" r="3.60" fill="#9a7a40"/>
<text x="139.60" y="335.26" font-size="9.7" text-anchor="end" fill="#231f20">hydrolyzing, non-hydrolyzing A</text>
<circle cx="148.30" cy="331.86" r="3.60" fill="#c05a55"/>
<circle cx="156.15" cy="331.86" r="3.60" fill="#9e4a48"/>
<text x="139.60" y="346.88" font-size="9.7" text-anchor="end" fill="#231f20">hydrolyzing, non-hydrolyzing F</text>
<circle cx="148.30" cy="343.48" r="3.60" fill="#d9a0c8"/>
<circle cx="156.15" cy="343.48" r="3.60" fill="#b060a0"/>
<circle cx="164.00" cy="343.48" r="3.60" fill="#8a4a88"/>
<text x="139.60" y="358.50" font-size="9.7" text-anchor="end" fill="#231f20">non-hydrolyzing BCDE</text>
<circle cx="148.30" cy="355.10" r="3.60" fill="#d0d4d8"/>
<text x="139.60" y="370.12" font-size="9.7" text-anchor="end" fill="#231f20">hydrolyzing SNARE-free</text>
<circle cx="148.30" cy="366.72" r="3.10" fill="#fff" stroke="#c4c8c8" stroke-width="1.1"/>
<circle cx="195.90" cy="318.70" r="4.30" fill="#fff" stroke="#231f20" stroke-width="0.6"/>
<text x="195.90" y="321.22" font-size="7.0" text-anchor="middle" fill="#231f20">1</text>
<text x="203.40" y="322.00" font-size="9.7" textLength="51.7" lengthAdjust="spacingAndGlyphs" fill="#231f20">E hydrolysis</text>
<circle cx="195.90" cy="330.30" r="4.30" fill="#fff" stroke="#231f20" stroke-width="0.6"/>
<text x="195.90" y="332.82" font-size="7.0" text-anchor="middle" fill="#231f20">2</text>
<text x="203.40" y="333.60" font-size="9.7" fill="#231f20">Pi release</text>
<circle cx="195.90" cy="341.90" r="4.30" fill="#fff" stroke="#231f20" stroke-width="0.6"/>
<text x="195.90" y="344.42" font-size="7.0" text-anchor="middle" fill="#231f20">3</text>
<text x="203.40" y="345.20" font-size="9.7" fill="#231f20">A relaxation 1</text>
<circle cx="195.90" cy="353.50" r="4.30" fill="#fff" stroke="#231f20" stroke-width="0.6"/>
<text x="195.90" y="356.02" font-size="7.0" text-anchor="middle" fill="#231f20">4</text>
<text x="203.40" y="356.80" font-size="9.7" textLength="328.5" lengthAdjust="spacingAndGlyphs" fill="#231f20">A relaxation 2; F nucleotide exchange, protomer E and SNARE engagement</text>
<circle cx="195.90" cy="365.10" r="4.30" fill="#fff" stroke="#231f20" stroke-width="0.6"/>
<text x="195.90" y="367.62" font-size="7.0" text-anchor="middle" fill="#231f20">5</text>
<text x="203.40" y="368.40" font-size="9.7" textLength="262.8" lengthAdjust="spacingAndGlyphs" fill="#231f20">Post-hydrolysis A-F transition, Post-hydrolysis F-E transition</text>
<text x="6.30" y="407.70" font-size="15.5" font-weight="bold" fill="#231f20">B</text>
<text x="144.00" y="408.00" font-size="10" text-anchor="middle" textLength="112.8" lengthAdjust="spacingAndGlyphs" fill="#231f20">protomer nucleotide state</text>
<rect x="62.60" y="415.00" width="32.40" height="54.00" rx="15" ry="15" fill="none" stroke="#b4b4b4" stroke-width="0.9" stroke-dasharray="2.6 2"/>
<circle cx="102.80" cy="498.91" r="2.02" fill="none" stroke="#c8cccc" stroke-width="0.8"/>
<circle cx="101.91" cy="507.81" r="2.02" fill="none" stroke="#c8cccc" stroke-width="0.8"/>
<circle cx="112.01" cy="510.69" r="2.02" fill="none" stroke="#c8cccc" stroke-width="0.8"/>
<circle cx="140.72" cy="507.90" r="2.02" fill="none" stroke="#c8cccc" stroke-width="0.8"/>
<circle cx="138.02" cy="513.99" r="2.02" fill="none" stroke="#c8cccc" stroke-width="0.8"/>
<circle cx="149.40" cy="513.71" r="2.02" fill="none" stroke="#c8cccc" stroke-width="0.8"/>
<circle cx="153.79" cy="510.69" r="2.02" fill="none" stroke="#c8cccc" stroke-width="0.8"/>
<circle cx="153.79" cy="528.21" r="2.02" fill="none" stroke="#c8cccc" stroke-width="0.8"/>
<circle cx="152.50" cy="532.59" r="2.02" fill="none" stroke="#c8cccc" stroke-width="0.8"/>
<circle cx="135.58" cy="537.11" r="2.02" fill="none" stroke="#c8cccc" stroke-width="0.8"/>
<circle cx="133.50" cy="554.01" r="2.02" fill="none" stroke="#c8cccc" stroke-width="0.8"/>
<circle cx="173.50" cy="419.31" r="2.02" fill="none" stroke="#c8cccc" stroke-width="0.8"/>
<circle cx="172.48" cy="424.10" r="2.02" fill="none" stroke="#c8cccc" stroke-width="0.8"/>
<circle cx="184.26" cy="430.69" r="2.02" fill="none" stroke="#c8cccc" stroke-width="0.8"/>
<circle cx="142.53" cy="437.08" r="2.02" fill="none" stroke="#c8cccc" stroke-width="0.8"/>
<circle cx="141.56" cy="442.40" r="2.02" fill="none" stroke="#c8cccc" stroke-width="0.8"/>
<circle cx="144.08" cy="442.80" r="2.02" fill="none" stroke="#c8cccc" stroke-width="0.8"/>
<circle cx="77.59" cy="477.68" r="2.25" fill="#d2d5d5" fill-opacity="0.9"/>
<circle cx="86.58" cy="527.03" r="2.25" fill="#d2d5d5" fill-opacity="0.9"/>
<circle cx="77.81" cy="521.10" r="2.25" fill="#d2d5d5" fill-opacity="0.9"/>
<circle cx="72.10" cy="522.00" r="2.25" fill="#d2d5d5" fill-opacity="0.9"/>
<circle cx="70.02" cy="525.09" r="2.25" fill="#d2d5d5" fill-opacity="0.9"/>
<circle cx="73.91" cy="525.49" r="2.25" fill="#d2d5d5" fill-opacity="0.9"/>
<circle cx="77.81" cy="528.11" r="2.25" fill="#d2d5d5" fill-opacity="0.9"/>
<circle cx="70.02" cy="530.80" r="2.25" fill="#d2d5d5" fill-opacity="0.9"/>
<circle cx="73.51" cy="531.61" r="2.25" fill="#d2d5d5" fill-opacity="0.9"/>
<circle cx="81.31" cy="530.80" r="2.25" fill="#d2d5d5" fill-opacity="0.9"/>
<circle cx="76.48" cy="533.40" r="2.25" fill="#d2d5d5" fill-opacity="0.9"/>
<circle cx="80.51" cy="534.29" r="2.25" fill="#d2d5d5" fill-opacity="0.9"/>
<circle cx="83.08" cy="537.79" r="2.25" fill="#d2d5d5" fill-opacity="0.9"/>
<circle cx="89.68" cy="536.89" r="2.25" fill="#d2d5d5" fill-opacity="0.9"/>
<circle cx="87.91" cy="540.01" r="2.25" fill="#d2d5d5" fill-opacity="0.9"/>
<circle cx="84.81" cy="540.01" r="2.25" fill="#d2d5d5" fill-opacity="0.9"/>
<circle cx="81.31" cy="540.01" r="2.25" fill="#d2d5d5" fill-opacity="0.9"/>
<circle cx="85.30" cy="548.29" r="2.25" fill="#d2d5d5" fill-opacity="0.9"/>
<circle cx="92.70" cy="547.61" r="2.25" fill="#d2d5d5" fill-opacity="0.9"/>
<circle cx="71.34" cy="528.11" r="2.25" fill="#d2d5d5" fill-opacity="0.9"/>
<circle cx="76.48" cy="535.99" r="2.25" fill="#d2d5d5" fill-opacity="0.9"/>
<circle cx="74.44" cy="529.20" r="2.25" fill="#d2d5d5" fill-opacity="0.9"/>
<circle cx="78.88" cy="524.56" r="2.25" fill="#d2d5d5" fill-opacity="0.9"/>
<circle cx="75.33" cy="523.32" r="2.25" fill="#d2d5d5" fill-opacity="0.9"/>
<circle cx="84.63" cy="535.38" r="2.25" fill="#d2d5d5" fill-opacity="0.9"/>
<circle cx="78.88" cy="425.99" r="2.25" fill="#df4b3a" fill-opacity="0.92"/>
<circle cx="76.31" cy="434.33" r="2.25" fill="#df4b3a" fill-opacity="0.92"/>
<circle cx="80.56" cy="433.22" r="2.25" fill="#ef8a3c" fill-opacity="0.92"/>
<circle cx="75.20" cy="441.13" r="2.25" fill="#df4b3a" fill-opacity="0.92"/>
<circle cx="81.09" cy="441.22" r="2.25" fill="#ef8a3c" fill-opacity="0.92"/>
<circle cx="78.08" cy="444.84" r="2.25" fill="#ef8a3c" fill-opacity="0.92"/>
<circle cx="80.25" cy="449.04" r="2.25" fill="#ef8a3c" fill-opacity="0.92"/>
<circle cx="79.01" cy="458.65" r="2.25" fill="#ef8a3c" fill-opacity="0.92"/>
<circle cx="83.30" cy="486.21" r="2.25" fill="#ef8a3c" fill-opacity="0.92"/>
<circle cx="72.41" cy="487.79" r="2.25" fill="#3a7dc0" fill-opacity="0.92"/>
<circle cx="76.08" cy="491.00" r="2.25" fill="#3a7dc0" fill-opacity="0.92"/>
<circle cx="76.31" cy="493.20" r="2.25" fill="#df4b3a" fill-opacity="0.92"/>
<circle cx="76.31" cy="494.71" r="2.25" fill="#df4b3a" fill-opacity="0.92"/>
<circle cx="104.13" cy="494.49" r="2.25" fill="#df4b3a" fill-opacity="0.92"/>
<circle cx="97.48" cy="511.61" r="2.25" fill="#8c5a50" fill-opacity="0.92"/>
<circle cx="118.88" cy="514.55" r="2.25" fill="#3a7dc0" fill-opacity="0.92"/>
<circle cx="70.59" cy="500.71" r="2.25" fill="#3a7dc0" fill-opacity="0.92"/>
<circle cx="78.30" cy="500.80" r="2.25" fill="#3a7dc0" fill-opacity="0.92"/>
<circle cx="69.08" cy="503.70" r="2.25" fill="#3a7dc0" fill-opacity="0.92"/>
<circle cx="74.80" cy="503.70" r="2.25" fill="#8d6bb5" fill-opacity="0.92"/>
<circle cx="76.66" cy="504.17" r="2.25" fill="#8d6bb5" fill-opacity="0.92"/>
<circle cx="71.70" cy="506.79" r="2.25" fill="#8d6bb5" fill-opacity="0.92"/>
<circle cx="75.20" cy="508.49" r="2.25" fill="#8d6bb5" fill-opacity="0.92"/>
<circle cx="72.58" cy="509.91" r="2.25" fill="#df4b3a" fill-opacity="0.92"/>
<circle cx="70.81" cy="511.61" r="2.25" fill="#8d6bb5" fill-opacity="0.92"/>
<circle cx="80.51" cy="510.69" r="2.25" fill="#8d6bb5" fill-opacity="0.92"/>
<circle cx="77.81" cy="512.91" r="2.25" fill="#8d6bb5" fill-opacity="0.92"/>
<circle cx="76.08" cy="515.51" r="2.25" fill="#8d6bb5" fill-opacity="0.92"/>
<circle cx="74.31" cy="518.19" r="2.25" fill="#8d6bb5" fill-opacity="0.92"/>
<circle cx="84.41" cy="511.89" r="2.25" fill="#df4b3a" fill-opacity="0.92"/>
<circle cx="81.31" cy="516.90" r="2.25" fill="#df4b3a" fill-opacity="0.92"/>
<circle cx="84.01" cy="517.70" r="2.25" fill="#df4b3a" fill-opacity="0.92"/>
<circle cx="84.01" cy="520.79" r="2.25" fill="#df4b3a" fill-opacity="0.92"/>
<circle cx="90.30" cy="519.80" r="2.25" fill="#3a7dc0" fill-opacity="0.92"/>
<circle cx="66.38" cy="519.49" r="2.25" fill="#8d6bb5" fill-opacity="0.92"/>
<circle cx="82.82" cy="545.70" r="2.25" fill="#8c5a50" fill-opacity="0.92"/>
<circle cx="121.98" cy="510.81" r="2.25" fill="#3a7dc0" fill-opacity="0.92"/>
<circle cx="132.30" cy="499.69" r="2.25" fill="#3a7dc0" fill-opacity="0.92"/>
<circle cx="132.61" cy="504.10" r="2.25" fill="#3a7dc0" fill-opacity="0.92"/>
<circle cx="133.63" cy="509.60" r="2.25" fill="#3a7dc0" fill-opacity="0.92"/>
<circle cx="135.40" cy="508.49" r="2.25" fill="#3a7dc0" fill-opacity="0.92"/>
<circle cx="132.61" cy="514.61" r="2.25" fill="#3a7dc0" fill-opacity="0.92"/>
<circle cx="135.18" cy="514.61" r="2.25" fill="#8d6bb5" fill-opacity="0.92"/>
<circle cx="145.01" cy="528.89" r="2.25" fill="#3a7dc0" fill-opacity="0.92"/>
<circle cx="151.00" cy="526.91" r="2.25" fill="#3a7dc0" fill-opacity="0.92"/>
<circle cx="149.40" cy="532.10" r="2.25" fill="#3a7dc0" fill-opacity="0.92"/>
<circle cx="145.90" cy="539.11" r="2.25" fill="#3a7dc0" fill-opacity="0.92"/>
<circle cx="140.81" cy="542.61" r="2.25" fill="#3a7dc0" fill-opacity="0.92"/>
<circle cx="142.40" cy="545.20" r="2.25" fill="#3a7dc0" fill-opacity="0.92"/>
<circle cx="133.50" cy="545.20" r="2.25" fill="#3a7dc0" fill-opacity="0.92"/>
<circle cx="145.50" cy="554.01" r="2.25" fill="#3a7dc0" fill-opacity="0.92"/>
<circle cx="143.02" cy="558.40" r="2.25" fill="#3a7dc0" fill-opacity="0.92"/>
<circle cx="145.68" cy="564.70" r="2.25" fill="#3a7dc0" fill-opacity="0.92"/>
<circle cx="170.40" cy="525.39" r="2.25" fill="#3a7dc0" fill-opacity="0.92"/>
<circle cx="175.09" cy="527.99" r="2.25" fill="#3a7dc0" fill-opacity="0.92"/>
<circle cx="178.99" cy="531.51" r="2.25" fill="#3a7dc0" fill-opacity="0.92"/>
<circle cx="182.09" cy="520.30" r="2.25" fill="#3a7dc0" fill-opacity="0.92"/>
<circle cx="184.31" cy="520.30" r="2.25" fill="#3a7dc0" fill-opacity="0.92"/>
<circle cx="185.59" cy="520.11" r="2.25" fill="#3a7dc0" fill-opacity="0.92"/>
<circle cx="182.98" cy="525.09" r="2.25" fill="#3a7dc0" fill-opacity="0.92"/>
<circle cx="185.82" cy="526.91" r="2.25" fill="#3a7dc0" fill-opacity="0.92"/>
<circle cx="203.49" cy="483.90" r="2.25" fill="#3a7dc0" fill-opacity="0.92"/>
<circle cx="199.81" cy="508.49" r="2.25" fill="#3a7dc0" fill-opacity="0.92"/>
<circle cx="206.19" cy="512.60" r="2.25" fill="#3a7dc0" fill-opacity="0.92"/>
<circle cx="209.52" cy="510.81" r="2.25" fill="#3a7dc0" fill-opacity="0.92"/>
<circle cx="207.92" cy="515.01" r="2.25" fill="#3a7dc0" fill-opacity="0.92"/>
<circle cx="208.81" cy="515.51" r="2.25" fill="#3a7dc0" fill-opacity="0.92"/>
<circle cx="201.32" cy="515.69" r="2.25" fill="#3a7dc0" fill-opacity="0.92"/>
<circle cx="207.52" cy="517.21" r="2.25" fill="#3a7dc0" fill-opacity="0.92"/>
<circle cx="207.52" cy="521.90" r="2.25" fill="#3a7dc0" fill-opacity="0.92"/>
<circle cx="212.62" cy="524.00" r="2.25" fill="#3a7dc0" fill-opacity="0.92"/>
<rect x="59.30" y="412.40" width="160.60" height="159.10" stroke="#8c8c8c" stroke-width="1.0" fill="none"/>
<line x1="57.10" y1="419.50" x2="59.30" y2="419.50" stroke="#444" stroke-width="0.6"/>
<text x="56.30" y="421.40" font-size="5.7" text-anchor="end" fill="#231f20">3</text>
<line x1="57.10" y1="450.40" x2="59.30" y2="450.40" stroke="#444" stroke-width="0.6"/>
<text x="56.30" y="452.30" font-size="5.7" text-anchor="end" fill="#231f20">2</text>
<line x1="57.10" y1="481.30" x2="59.30" y2="481.30" stroke="#444" stroke-width="0.6"/>
<text x="56.30" y="483.20" font-size="5.7" text-anchor="end" fill="#231f20">1</text>
<line x1="57.10" y1="512.20" x2="59.30" y2="512.20" stroke="#444" stroke-width="0.6"/>
<text x="56.30" y="514.10" font-size="5.7" text-anchor="end" fill="#231f20">0</text>
<line x1="57.10" y1="543.10" x2="59.30" y2="543.10" stroke="#444" stroke-width="0.6"/>
<text x="56.30" y="545.00" font-size="5.7" text-anchor="end" fill="#231f20">−1</text>
<line x1="67.80" y1="571.50" x2="67.80" y2="573.70" stroke="#444" stroke-width="0.6"/>
<text x="67.80" y="579.00" font-size="5.7" text-anchor="middle" fill="#231f20">−1.0</text>
<line x1="89.95" y1="571.50" x2="89.95" y2="573.70" stroke="#444" stroke-width="0.6"/>
<text x="89.95" y="579.00" font-size="5.7" text-anchor="middle" fill="#231f20">−0.5</text>
<line x1="112.10" y1="571.50" x2="112.10" y2="573.70" stroke="#444" stroke-width="0.6"/>
<text x="112.10" y="579.00" font-size="5.7" text-anchor="middle" fill="#231f20">0.0</text>
<line x1="134.25" y1="571.50" x2="134.25" y2="573.70" stroke="#444" stroke-width="0.6"/>
<text x="134.25" y="579.00" font-size="5.7" text-anchor="middle" fill="#231f20">0.5</text>
<line x1="156.40" y1="571.50" x2="156.40" y2="573.70" stroke="#444" stroke-width="0.6"/>
<text x="156.40" y="579.00" font-size="5.7" text-anchor="middle" fill="#231f20">1.0</text>
<line x1="178.55" y1="571.50" x2="178.55" y2="573.70" stroke="#444" stroke-width="0.6"/>
<text x="178.55" y="579.00" font-size="5.7" text-anchor="middle" fill="#231f20">1.5</text>
<line x1="200.70" y1="571.50" x2="200.70" y2="573.70" stroke="#444" stroke-width="0.6"/>
<text x="200.70" y="579.00" font-size="5.7" text-anchor="middle" fill="#231f20">2.0</text>
<text x="139.60" y="586.10" font-size="5.6" text-anchor="middle" fill="#231f20">Mode 0</text>
<text x="46.20" y="491.95" font-size="5.8" text-anchor="middle" transform="rotate(-90 46.199999999999996 491.95)" fill="#231f20">Mode 4</text>
<circle cx="82.30" cy="598.10" r="2.50" fill="#8c5a50"/>
<text x="88.90" y="601.40" font-size="9.7" fill="#231f20">apo</text>
<circle cx="82.30" cy="609.44" r="2.50" fill="#3a7dc0"/>
<text x="88.90" y="612.74" font-size="9.7" fill="#231f20">ADP, ADP + Mg<tspan font-size="5.8" dy="-3.9">2+</tspan></text>
<circle cx="82.30" cy="620.78" r="2.50" fill="#ef8a3c"/>
<text x="88.90" y="624.08" font-size="9.7" fill="#231f20">ATP + Mg<tspan font-size="5.8" dy="-3.9">2+</tspan></text>
<circle cx="82.30" cy="632.12" r="2.50" fill="#df4b3a"/>
<text x="88.90" y="635.42" font-size="9.7" fill="#231f20">ATP</text>
<circle cx="82.30" cy="643.46" r="2.50" fill="#8d6bb5"/>
<text x="88.90" y="646.76" font-size="9.7" fill="#231f20">ADP • Pi + Mg<tspan font-size="5.8" dy="-3.9">2+</tspan><tspan dy="3.9">, ADP • Pi</tspan></text>
<circle cx="82.30" cy="654.80" r="2.50" fill="#d2d5d5"/>
<text x="88.90" y="658.10" font-size="9.7" fill="#231f20">non-hydrolyzing BCDE</text>
<circle cx="82.30" cy="666.14" r="2.25" fill="#fff" stroke="#c8cccc" stroke-width="0.8"/>
<text x="88.90" y="669.44" font-size="9.7" fill="#231f20">hydrolyzing SNARE-free</text>
<text x="233.20" y="408.10" font-size="15.5" font-weight="bold" fill="#231f20">C</text>
<text x="347.00" y="411.30" font-size="10" text-anchor="middle" textLength="128" lengthAdjust="spacingAndGlyphs" fill="#231f20">Large-small subdomain angle</text>
<rect x="267.30" y="419.30" width="33.30" height="53.60" rx="15" ry="15" fill="none" stroke="#b4b4b4" stroke-width="0.9" stroke-dasharray="2.6 2"/>
<circle cx="307.29" cy="501.35" r="1.98" fill="none" stroke="#c8cccc" stroke-width="0.8"/>
<circle cx="306.43" cy="510.09" r="1.98" fill="none" stroke="#c8cccc" stroke-width="0.8"/>
<circle cx="316.21" cy="512.91" r="1.98" fill="none" stroke="#c8cccc" stroke-width="0.8"/>
<circle cx="344.01" cy="510.18" r="1.98" fill="none" stroke="#c8cccc" stroke-width="0.8"/>
<circle cx="341.40" cy="516.16" r="1.98" fill="none" stroke="#c8cccc" stroke-width="0.8"/>
<circle cx="352.42" cy="515.89" r="1.98" fill="none" stroke="#c8cccc" stroke-width="0.8"/>
<circle cx="356.67" cy="512.91" r="1.98" fill="none" stroke="#c8cccc" stroke-width="0.8"/>
<circle cx="356.67" cy="530.12" r="1.98" fill="none" stroke="#c8cccc" stroke-width="0.8"/>
<circle cx="355.42" cy="534.43" r="1.98" fill="none" stroke="#c8cccc" stroke-width="0.8"/>
<circle cx="339.04" cy="538.86" r="1.98" fill="none" stroke="#c8cccc" stroke-width="0.8"/>
<circle cx="337.02" cy="555.46" r="1.98" fill="none" stroke="#c8cccc" stroke-width="0.8"/>
<circle cx="375.76" cy="423.17" r="1.98" fill="none" stroke="#c8cccc" stroke-width="0.8"/>
<circle cx="374.77" cy="427.87" r="1.98" fill="none" stroke="#c8cccc" stroke-width="0.8"/>
<circle cx="386.18" cy="434.34" r="1.98" fill="none" stroke="#c8cccc" stroke-width="0.8"/>
<circle cx="345.77" cy="440.62" r="1.98" fill="none" stroke="#c8cccc" stroke-width="0.8"/>
<circle cx="344.83" cy="445.84" r="1.98" fill="none" stroke="#c8cccc" stroke-width="0.8"/>
<circle cx="347.27" cy="446.23" r="1.98" fill="none" stroke="#c8cccc" stroke-width="0.8"/>
<circle cx="282.88" cy="480.50" r="2.20" fill="#d2d5d5" fill-opacity="0.9"/>
<circle cx="291.59" cy="528.97" r="2.20" fill="#d2d5d5" fill-opacity="0.9"/>
<circle cx="283.10" cy="523.14" r="2.20" fill="#d2d5d5" fill-opacity="0.9"/>
<circle cx="277.56" cy="524.02" r="2.20" fill="#d2d5d5" fill-opacity="0.9"/>
<circle cx="275.55" cy="527.06" r="2.20" fill="#d2d5d5" fill-opacity="0.9"/>
<circle cx="279.32" cy="527.45" r="2.20" fill="#d2d5d5" fill-opacity="0.9"/>
<circle cx="283.10" cy="530.03" r="2.20" fill="#d2d5d5" fill-opacity="0.9"/>
<circle cx="275.55" cy="532.67" r="2.20" fill="#d2d5d5" fill-opacity="0.9"/>
<circle cx="278.93" cy="533.46" r="2.20" fill="#d2d5d5" fill-opacity="0.9"/>
<circle cx="286.48" cy="532.67" r="2.20" fill="#d2d5d5" fill-opacity="0.9"/>
<circle cx="281.81" cy="535.22" r="2.20" fill="#d2d5d5" fill-opacity="0.9"/>
<circle cx="285.71" cy="536.10" r="2.20" fill="#d2d5d5" fill-opacity="0.9"/>
<circle cx="288.20" cy="539.53" r="2.20" fill="#d2d5d5" fill-opacity="0.9"/>
<circle cx="294.59" cy="538.65" r="2.20" fill="#d2d5d5" fill-opacity="0.9"/>
<circle cx="292.88" cy="541.72" r="2.20" fill="#d2d5d5" fill-opacity="0.9"/>
<circle cx="289.87" cy="541.72" r="2.20" fill="#d2d5d5" fill-opacity="0.9"/>
<circle cx="286.48" cy="541.72" r="2.20" fill="#d2d5d5" fill-opacity="0.9"/>
<circle cx="290.35" cy="549.85" r="2.20" fill="#d2d5d5" fill-opacity="0.9"/>
<circle cx="297.51" cy="549.18" r="2.20" fill="#d2d5d5" fill-opacity="0.9"/>
<circle cx="276.83" cy="530.03" r="2.20" fill="#d2d5d5" fill-opacity="0.9"/>
<circle cx="281.81" cy="537.77" r="2.20" fill="#d2d5d5" fill-opacity="0.9"/>
<circle cx="279.84" cy="531.09" r="2.20" fill="#d2d5d5" fill-opacity="0.9"/>
<circle cx="284.12" cy="526.54" r="2.20" fill="#d2d5d5" fill-opacity="0.9"/>
<circle cx="280.69" cy="525.33" r="2.20" fill="#d2d5d5" fill-opacity="0.9"/>
<circle cx="289.70" cy="537.16" r="2.20" fill="#d2d5d5" fill-opacity="0.9"/>
<circle cx="284.12" cy="429.72" r="2.20" fill="#d6dc4c" fill-opacity="0.92"/>
<circle cx="281.64" cy="437.92" r="2.20" fill="#d8dc48" fill-opacity="0.92"/>
<circle cx="285.76" cy="436.83" r="2.20" fill="#dcdc46" fill-opacity="0.92"/>
<circle cx="280.56" cy="444.59" r="2.20" fill="#f3b644" fill-opacity="0.92"/>
<circle cx="286.27" cy="444.69" r="2.20" fill="#f0904e" fill-opacity="0.92"/>
<circle cx="283.35" cy="448.24" r="2.20" fill="#d8dc48" fill-opacity="0.92"/>
<circle cx="285.45" cy="452.36" r="2.20" fill="#dadc40" fill-opacity="0.92"/>
<circle cx="284.25" cy="461.80" r="2.20" fill="#d6dc4c" fill-opacity="0.92"/>
<circle cx="288.42" cy="488.88" r="2.20" fill="#e8704a" fill-opacity="0.92"/>
<circle cx="277.86" cy="490.42" r="2.20" fill="#d05070" fill-opacity="0.92"/>
<circle cx="281.42" cy="493.58" r="2.20" fill="#e06a5a" fill-opacity="0.92"/>
<circle cx="281.64" cy="495.73" r="2.20" fill="#e8784a" fill-opacity="0.92"/>
<circle cx="281.64" cy="497.22" r="2.20" fill="#e87a48" fill-opacity="0.92"/>
<circle cx="308.58" cy="497.01" r="2.20" fill="#ee8048" fill-opacity="0.92"/>
<circle cx="302.14" cy="513.82" r="2.20" fill="#d8dc40" fill-opacity="0.92"/>
<circle cx="322.86" cy="516.71" r="2.20" fill="#8a3a9a" fill-opacity="0.92"/>
<circle cx="276.10" cy="503.11" r="2.20" fill="#9a3a9a" fill-opacity="0.92"/>
<circle cx="283.57" cy="503.20" r="2.20" fill="#9a3a9a" fill-opacity="0.92"/>
<circle cx="274.64" cy="506.05" r="2.20" fill="#9a3a9a" fill-opacity="0.92"/>
<circle cx="280.18" cy="506.05" r="2.20" fill="#d04a7a" fill-opacity="0.92"/>
<circle cx="281.98" cy="506.51" r="2.20" fill="#d04a7a" fill-opacity="0.92"/>
<circle cx="277.18" cy="509.09" r="2.20" fill="#c8408a" fill-opacity="0.92"/>
<circle cx="280.56" cy="510.76" r="2.20" fill="#c03a8a" fill-opacity="0.92"/>
<circle cx="278.03" cy="512.15" r="2.20" fill="#d84a70" fill-opacity="0.92"/>
<circle cx="276.32" cy="513.82" r="2.20" fill="#d84a70" fill-opacity="0.92"/>
<circle cx="285.71" cy="512.91" r="2.20" fill="#b83090" fill-opacity="0.92"/>
<circle cx="283.10" cy="515.10" r="2.20" fill="#9a3090" fill-opacity="0.92"/>
<circle cx="281.42" cy="517.65" r="2.20" fill="#d04a6a" fill-opacity="0.92"/>
<circle cx="279.71" cy="520.29" r="2.20" fill="#b03a8a" fill-opacity="0.92"/>
<circle cx="289.49" cy="514.10" r="2.20" fill="#d8d840" fill-opacity="0.92"/>
<circle cx="286.48" cy="519.01" r="2.20" fill="#d85a6a" fill-opacity="0.92"/>
<circle cx="289.10" cy="519.80" r="2.20" fill="#e06a5a" fill-opacity="0.92"/>
<circle cx="289.10" cy="522.84" r="2.20" fill="#d8507a" fill-opacity="0.92"/>
<circle cx="295.19" cy="521.87" r="2.20" fill="#d04a6a" fill-opacity="0.92"/>
<circle cx="272.03" cy="521.56" r="2.20" fill="#4a3a9a" fill-opacity="0.92"/>
<circle cx="287.94" cy="547.30" r="2.20" fill="#d8dc40" fill-opacity="0.92"/>
<circle cx="325.87" cy="513.03" r="2.20" fill="#8a4a9a" fill-opacity="0.92"/>
<circle cx="335.86" cy="502.11" r="2.20" fill="#c8507a" fill-opacity="0.92"/>
<circle cx="336.16" cy="506.45" r="2.20" fill="#a04090" fill-opacity="0.92"/>
<circle cx="337.15" cy="511.85" r="2.20" fill="#8a3a8a" fill-opacity="0.92"/>
<circle cx="338.87" cy="510.76" r="2.20" fill="#5a3a9a" fill-opacity="0.92"/>
<circle cx="336.16" cy="516.77" r="2.20" fill="#7a3090" fill-opacity="0.92"/>
<circle cx="338.65" cy="516.77" r="2.20" fill="#7a3090" fill-opacity="0.92"/>
<circle cx="348.17" cy="530.79" r="2.20" fill="#f0a050" fill-opacity="0.92"/>
<circle cx="353.97" cy="528.85" r="2.20" fill="#f8d830" fill-opacity="0.92"/>
<circle cx="352.42" cy="533.95" r="2.20" fill="#f09050" fill-opacity="0.92"/>
<circle cx="349.03" cy="540.83" r="2.20" fill="#f0a050" fill-opacity="0.92"/>
<circle cx="344.10" cy="544.26" r="2.20" fill="#f0a040" fill-opacity="0.92"/>
<circle cx="345.64" cy="546.81" r="2.20" fill="#f08a50" fill-opacity="0.92"/>
<circle cx="337.02" cy="546.81" r="2.20" fill="#4a3a9a" fill-opacity="0.92"/>
<circle cx="348.65" cy="555.46" r="2.20" fill="#e88060" fill-opacity="0.92"/>
<circle cx="346.24" cy="559.77" r="2.20" fill="#f0a050" fill-opacity="0.92"/>
<circle cx="348.82" cy="565.96" r="2.20" fill="#f8c040" fill-opacity="0.92"/>
<circle cx="372.76" cy="527.36" r="2.20" fill="#4a4a9a" fill-opacity="0.92"/>
<circle cx="377.30" cy="529.91" r="2.20" fill="#4a4a9a" fill-opacity="0.92"/>
<circle cx="381.08" cy="533.37" r="2.20" fill="#4a4a9a" fill-opacity="0.92"/>
<circle cx="384.08" cy="522.35" r="2.20" fill="#4a4a9a" fill-opacity="0.92"/>
<circle cx="386.23" cy="522.35" r="2.20" fill="#4a4a9a" fill-opacity="0.92"/>
<circle cx="387.47" cy="522.17" r="2.20" fill="#4a4a9a" fill-opacity="0.92"/>
<circle cx="384.94" cy="527.06" r="2.20" fill="#4a4a9a" fill-opacity="0.92"/>
<circle cx="387.69" cy="528.85" r="2.20" fill="#4a4a9a" fill-opacity="0.92"/>
<circle cx="404.80" cy="486.60" r="2.20" fill="#c03a7a" fill-opacity="0.92"/>
<circle cx="401.24" cy="510.76" r="2.20" fill="#d05a6a" fill-opacity="0.92"/>
<circle cx="407.42" cy="514.79" r="2.20" fill="#d04a70" fill-opacity="0.92"/>
<circle cx="410.64" cy="513.03" r="2.20" fill="#b83a88" fill-opacity="0.92"/>
<circle cx="409.09" cy="517.16" r="2.20" fill="#d04a70" fill-opacity="0.92"/>
<circle cx="409.95" cy="517.65" r="2.20" fill="#d04a70" fill-opacity="0.92"/>
<circle cx="402.70" cy="517.83" r="2.20" fill="#d85a68" fill-opacity="0.92"/>
<circle cx="408.71" cy="519.32" r="2.20" fill="#d04a70" fill-opacity="0.92"/>
<circle cx="408.71" cy="523.93" r="2.20" fill="#d85a68" fill-opacity="0.92"/>
<circle cx="413.64" cy="525.99" r="2.20" fill="#b03a8a" fill-opacity="0.92"/>
<rect x="264.50" y="416.60" width="157.80" height="155.90" stroke="#8c8c8c" stroke-width="1.0" fill="none"/>
<line x1="262.30" y1="423.35" x2="264.50" y2="423.35" stroke="#444" stroke-width="0.6"/>
<text x="261.50" y="425.25" font-size="5.7" text-anchor="end" fill="#231f20">3</text>
<line x1="262.30" y1="453.70" x2="264.50" y2="453.70" stroke="#444" stroke-width="0.6"/>
<text x="261.50" y="455.60" font-size="5.7" text-anchor="end" fill="#231f20">2</text>
<line x1="262.30" y1="484.05" x2="264.50" y2="484.05" stroke="#444" stroke-width="0.6"/>
<text x="261.50" y="485.95" font-size="5.7" text-anchor="end" fill="#231f20">1</text>
<line x1="262.30" y1="514.40" x2="264.50" y2="514.40" stroke="#444" stroke-width="0.6"/>
<text x="261.50" y="516.30" font-size="5.7" text-anchor="end" fill="#231f20">0</text>
<line x1="262.30" y1="544.75" x2="264.50" y2="544.75" stroke="#444" stroke-width="0.6"/>
<text x="261.50" y="546.65" font-size="5.7" text-anchor="end" fill="#231f20">−1</text>
<line x1="273.40" y1="572.50" x2="273.40" y2="574.70" stroke="#444" stroke-width="0.6"/>
<text x="273.40" y="580.00" font-size="5.7" text-anchor="middle" fill="#231f20">−1.0</text>
<line x1="294.85" y1="572.50" x2="294.85" y2="574.70" stroke="#444" stroke-width="0.6"/>
<text x="294.85" y="580.00" font-size="5.7" text-anchor="middle" fill="#231f20">−0.5</text>
<line x1="316.30" y1="572.50" x2="316.30" y2="574.70" stroke="#444" stroke-width="0.6"/>
<text x="316.30" y="580.00" font-size="5.7" text-anchor="middle" fill="#231f20">0.0</text>
<line x1="337.75" y1="572.50" x2="337.75" y2="574.70" stroke="#444" stroke-width="0.6"/>
<text x="337.75" y="580.00" font-size="5.7" text-anchor="middle" fill="#231f20">0.5</text>
<line x1="359.20" y1="572.50" x2="359.20" y2="574.70" stroke="#444" stroke-width="0.6"/>
<text x="359.20" y="580.00" font-size="5.7" text-anchor="middle" fill="#231f20">1.0</text>
<line x1="380.65" y1="572.50" x2="380.65" y2="574.70" stroke="#444" stroke-width="0.6"/>
<text x="380.65" y="580.00" font-size="5.7" text-anchor="middle" fill="#231f20">1.5</text>
<line x1="402.10" y1="572.50" x2="402.10" y2="574.70" stroke="#444" stroke-width="0.6"/>
<text x="402.10" y="580.00" font-size="5.7" text-anchor="middle" fill="#231f20">2.0</text>
<text x="343.40" y="588.50" font-size="5.6" text-anchor="middle" fill="#231f20">0</text>
<text x="249.10" y="494.55" font-size="5.8" text-anchor="middle" transform="rotate(-90 249.10000000000002 494.55)" fill="#231f20">4</text>
<defs><linearGradient id="cbar" x1="0" y1="0" x2="0" y2="1"><stop offset="0" stop-color="#d7e24a"/><stop offset="0.07" stop-color="#f6d51e"/><stop offset="0.2" stop-color="#f3a63a"/><stop offset="0.33" stop-color="#e67052"/><stop offset="0.45" stop-color="#d24a6c"/><stop offset="0.55" stop-color="#c0368a"/><stop offset="0.65" stop-color="#9a2488"/><stop offset="0.75" stop-color="#6e2e86"/><stop offset="0.85" stop-color="#4e3a8c"/><stop offset="1" stop-color="#23449a"/></linearGradient></defs>
<rect x="428.1" y="417.3" width="8.2" height="156.8" fill="url(#cbar)"/>
<line x1="436.30" y1="435.80" x2="438.50" y2="435.80" stroke="#444" stroke-width="0.6"/>
<text x="439.60" y="438.00" font-size="6.2" fill="#231f20">114</text>
<line x1="436.30" y1="455.70" x2="438.50" y2="455.70" stroke="#444" stroke-width="0.6"/>
<text x="439.60" y="457.90" font-size="6.2" fill="#231f20">112</text>
<line x1="436.30" y1="475.50" x2="438.50" y2="475.50" stroke="#444" stroke-width="0.6"/>
<text x="439.60" y="477.70" font-size="6.2" fill="#231f20">110</text>
<line x1="436.30" y1="495.20" x2="438.50" y2="495.20" stroke="#444" stroke-width="0.6"/>
<text x="439.60" y="497.40" font-size="6.2" fill="#231f20">108</text>
<line x1="436.30" y1="515.10" x2="438.50" y2="515.10" stroke="#444" stroke-width="0.6"/>
<text x="439.60" y="517.30" font-size="6.2" fill="#231f20">106</text>
<line x1="436.30" y1="534.80" x2="438.50" y2="534.80" stroke="#444" stroke-width="0.6"/>
<text x="439.60" y="537.00" font-size="6.2" fill="#231f20">104</text>
<line x1="436.30" y1="554.50" x2="438.50" y2="554.50" stroke="#444" stroke-width="0.6"/>
<text x="439.60" y="556.70" font-size="6.2" fill="#231f20">102</text>
<text x="457.30" y="495.50" font-size="6.0" text-anchor="middle" transform="rotate(-90 457.3 495.5)" fill="#231f20">angle (°)</text>
<text x="468.30" y="407.90" font-size="15.5" font-weight="bold" fill="#231f20">D</text>
<text x="593.40" y="409.20" font-size="10" text-anchor="middle" textLength="129.3" lengthAdjust="spacingAndGlyphs" fill="#231f20">SNARE complex disassembly</text>
<line x1="541.25" y1="415.00" x2="541.25" y2="576.00" stroke="#c8c8c8" stroke-width="0.6" stroke-dasharray="1 1.2"/>
<line x1="567.20" y1="415.00" x2="567.20" y2="576.00" stroke="#c8c8c8" stroke-width="0.6" stroke-dasharray="1 1.2"/>
<line x1="593.15" y1="415.00" x2="593.15" y2="576.00" stroke="#c8c8c8" stroke-width="0.6" stroke-dasharray="1 1.2"/>
<line x1="619.10" y1="415.00" x2="619.10" y2="576.00" stroke="#c8c8c8" stroke-width="0.6" stroke-dasharray="1 1.2"/>
<line x1="645.05" y1="415.00" x2="645.05" y2="576.00" stroke="#c8c8c8" stroke-width="0.6" stroke-dasharray="1 1.2"/>
<line x1="515.00" y1="441.28" x2="670.70" y2="441.28" stroke="#c8c8c8" stroke-width="0.6" stroke-dasharray="1 1.2"/>
<line x1="515.00" y1="468.17" x2="670.70" y2="468.17" stroke="#c8c8c8" stroke-width="0.6" stroke-dasharray="1 1.2"/>
<line x1="515.00" y1="495.05" x2="670.70" y2="495.05" stroke="#c8c8c8" stroke-width="0.6" stroke-dasharray="1 1.2"/>
<line x1="515.00" y1="521.93" x2="670.70" y2="521.93" stroke="#c8c8c8" stroke-width="0.6" stroke-dasharray="1 1.2"/>
<line x1="515.00" y1="548.82" x2="670.70" y2="548.82" stroke="#c8c8c8" stroke-width="0.6" stroke-dasharray="1 1.2"/>
<line x1="515.00" y1="570.60" x2="670.70" y2="570.60" stroke="#222" stroke-width="1.6" stroke-dasharray="3.2 1"/>
<polyline points="515.0,543.8 518.0,543.8 518.6,574.4" fill="none" stroke="#f8bf2f" stroke-width="1.6" stroke-linejoin="round"/>
<polyline points="519.0,566.3 519.0,565.5 519.1,563.9 519.1,562.7 519.1,561.8 519.2,560.3 519.2,558.8 519.3,557.1 519.5,555.9 519.7,554.7 519.9,553.8 520.2,552.7 520.5,552.2 520.9,551.7 521.3,551.5 521.8,551.3 522.2,550.9 522.7,550.3 523.3,549.9 523.8,549.4 524.4,548.9 525.0,548.5 525.6,548.4 526.3,547.9 527.0,547.6 527.7,547.6 528.4,547.0 529.2,546.6 530.0,546.1 530.8,545.6 531.6,545.5 532.4,545.0 533.3,545.0 534.1,545.0 534.9,544.5 535.8,543.8 536.7,544.0 537.7,543.7 538.7,543.4 539.8,543.4 540.9,543.1 542.1,543.0 543.4,542.6 544.8,543.0 546.2,542.9 547.7,542.3 549.2,542.7 550.7,542.7 552.1,542.6 553.5,542.6 554.9,542.6 556.2,542.9 557.5,542.6 558.7,542.9 560.0,542.6 561.2,543.0 562.4,543.1 563.6,542.8 564.9,542.9 566.2,543.2 567.5,543.1 568.9,542.9 570.3,542.7 571.8,542.7 573.2,542.9 574.7,542.5 576.2,543.0 577.7,542.5 579.1,542.8 580.5,542.3 581.9,542.6 583.2,542.3 584.5,542.0 585.7,541.8 586.9,541.6 588.0,541.4 589.2,540.9 590.4,540.6 591.5,540.6 592.7,540.7 593.9,540.3 595.1,539.7 596.3,540.1 597.5,539.8 598.7,539.8 599.9,539.1 601.1,539.4 602.3,538.7 603.5,539.0 604.7,538.6 606.0,538.4 607.2,538.7 608.4,538.0 609.5,538.2 610.6,538.3 611.8,537.7 613.0,537.6 614.3,537.9 615.8,537.4 617.4,537.4 619.2,536.8 621.2,536.8 623.5,536.5 625.9,536.6 628.5,535.9 631.1,536.3 633.9,535.4 636.6,535.7 639.3,534.9 642.0,534.9 644.6,535.0 647.3,534.3 650.1,534.1 653.0,534.2 656.0,533.7 658.9,533.2 661.7,533.7 664.2,532.9 666.5,532.6 668.5,532.6 670.0,532.7" fill="none" stroke="#8f9396" stroke-width="1.9" stroke-linejoin="round"/>
<polyline points="519.0,567.8 519.0,567.6 519.1,567.0 519.1,566.5 519.1,565.9 519.2,564.7 519.2,563.9 519.3,563.6 519.5,562.4 519.7,561.5 519.9,561.2 520.2,560.0 520.5,559.4 520.9,558.2 521.3,557.3 521.8,556.0 522.2,555.4 522.7,554.6 523.3,553.5 523.8,552.8 524.4,552.0 525.0,551.0 525.6,550.9 526.3,550.2 527.0,549.6 527.7,548.9 528.4,549.1 529.2,548.5 530.0,548.3 530.8,548.0 531.6,547.5 532.4,547.3 533.3,546.6 534.1,546.6 534.9,546.1 535.8,546.1 536.7,545.8 537.7,545.0 538.7,544.8 539.8,544.7 540.9,545.0 542.1,544.5 543.4,544.5 544.8,544.1 546.2,544.2 547.7,544.0 549.2,543.9 550.7,544.0 552.1,544.0 553.5,544.1 554.9,543.9 556.2,544.1 557.5,544.0 558.7,544.1 560.0,543.9 561.2,543.5 562.4,544.0 563.6,544.1 564.9,544.1 566.2,543.8 567.5,543.9 568.9,543.6 570.3,544.0 571.8,543.9 573.2,543.7 574.7,543.6 576.2,544.1 577.7,544.2 579.1,543.6 580.5,544.0 581.9,543.7 583.2,543.5 584.5,543.5 585.7,543.8 586.9,543.7 588.0,543.0 589.2,543.3 590.4,542.8 591.5,543.2 592.7,542.8 593.9,543.2 595.1,543.2 596.3,542.9 597.5,543.2 598.7,542.7 599.9,542.6 601.1,543.0 602.3,542.6 603.5,542.7 604.7,542.9 606.0,543.0 607.2,542.6 608.4,542.5 609.5,543.0 610.6,542.6 611.8,543.0 613.0,542.9 614.3,542.4 615.8,542.4 617.4,542.3 619.2,542.3 621.2,542.1 623.5,542.0 625.9,541.8 628.5,541.9 631.1,541.4 633.9,541.2 636.6,541.2 639.3,540.6 642.0,540.5 644.6,540.8 647.3,540.4 650.1,540.2 653.0,539.7 656.0,539.8 658.9,539.8 661.7,539.3 664.2,539.6 666.5,539.5 668.5,539.0 670.0,539.3" fill="none" stroke="#3a6cb8" stroke-width="1.8" stroke-linejoin="round"/>
<polyline points="518.6,574.4 518.7,572.2 518.9,569.2 519.1,565.6 519.3,561.5 519.5,557.2 519.8,552.4 520.0,548.0 520.3,543.8 520.5,539.5 520.8,535.9 521.0,532.0 521.3,528.5 521.5,524.9 521.8,521.5 522.1,518.1 522.3,514.5 522.6,511.5 522.9,508.5 523.2,506.0 523.5,503.5 523.8,501.1 524.1,499.4 524.5,497.4 524.8,496.1 525.2,494.6 525.6,493.3 525.9,492.5 526.3,491.1 526.7,490.0 527.1,489.2 527.5,488.0 527.9,486.7 528.4,486.0 528.8,484.9 529.2,484.1 529.7,483.1 530.2,482.6 530.6,481.7 531.1,481.0 531.6,480.2 532.1,479.1 532.6,478.3 533.2,477.5 533.7,476.7 534.3,475.9 534.8,475.3 535.4,474.8 535.9,473.9 536.4,473.5 536.9,472.8 537.3,472.3 537.7,472.1 538.1,471.6 538.4,471.2 538.7,471.0 539.0,470.8 539.4,470.2 539.8,470.3 540.3,469.5 540.9,469.4 541.6,469.0 542.3,468.1 543.1,467.9 544.0,467.2 544.9,466.7 545.8,465.9 546.7,465.3 547.7,464.8 548.6,464.6 549.5,463.8 550.4,463.5 551.3,463.1 552.2,462.7 553.1,462.0 554.0,461.6 554.9,461.2 555.8,460.9 556.7,460.2 557.6,460.0 558.5,459.5 559.4,459.0 560.2,458.2 561.0,458.0 561.8,457.2 562.7,456.7 563.5,456.3 564.4,455.9 565.4,455.1 566.4,454.7 567.5,454.0 568.7,453.3 570.1,452.7 571.5,452.0 573.0,451.3 574.5,450.7 576.1,450.3 577.6,449.8 579.1,448.9 580.5,448.2 581.9,448.1 583.2,447.4 584.5,446.9 585.7,446.5 586.9,446.2 588.0,445.9 589.2,445.4 590.4,445.0 591.5,444.5 592.7,444.5 593.9,443.8 595.1,443.6 596.3,443.4 597.5,442.8 598.7,442.6 599.9,442.4 601.1,441.9 602.3,441.6 603.5,441.0 604.7,440.8 606.0,440.4 607.2,440.3 608.4,439.8 609.5,439.6 610.6,439.6 611.8,439.2 613.0,439.0 614.3,438.5 615.8,438.2 617.4,437.9 619.2,437.4 621.2,436.8 623.5,436.3 625.9,435.7 628.5,435.2 631.1,434.8 633.9,434.1 636.6,433.3 639.3,432.6 642.0,431.9 644.6,431.2 647.3,430.7 650.1,430.2 653.0,429.6 656.0,428.7 658.9,428.1 661.7,427.5 664.2,426.8 666.5,426.3 668.5,425.9 670.0,425.3" fill="none" stroke="#e8793a" stroke-width="2.7" stroke-linejoin="round"/>
<polyline points="518.6,574.3 518.8,573.0 519.1,571.5 519.5,569.5 519.8,567.3 520.3,565.1 520.7,562.9 521.2,560.5 521.6,558.1 522.1,555.6 522.6,553.7 523.1,551.7 523.6,549.7 524.1,547.8 524.7,545.9 525.2,544.4 525.8,542.5 526.3,540.7 526.9,539.0 527.5,537.1 528.0,535.6 528.5,534.3 529.0,532.9 529.6,531.6 530.1,530.3 530.6,528.8 531.1,527.8 531.6,526.7 532.2,525.4 532.8,524.2 533.4,523.2 534.1,521.9 534.7,521.2 535.5,520.1 536.2,519.0 537.0,517.9 537.7,517.2 538.5,516.1 539.3,515.3 540.1,514.3 540.9,513.3 541.7,512.4 542.5,511.6 543.4,510.6 544.2,509.7 545.1,508.9 546.0,508.3 546.9,507.2 547.7,506.4 548.6,505.9 549.5,505.1 550.4,504.6 551.3,503.9 552.2,503.3 553.1,503.0 554.0,502.2 554.9,501.8 555.8,501.2 556.7,500.9 557.6,500.2 558.5,499.7 559.4,499.4 560.2,498.7 561.0,498.3 561.8,497.9 562.7,497.1 563.5,496.5 564.4,496.0 565.4,495.7 566.4,495.1 567.5,494.3 568.7,493.7 570.1,492.9 571.5,492.3 573.0,491.4 574.5,490.9 576.1,490.3 577.6,489.5 579.1,488.7 580.5,488.1 581.9,487.0 583.2,486.4 584.5,486.1 585.7,485.3 586.9,484.6 588.0,484.1 589.2,483.4 590.4,482.9 591.5,482.1 592.7,481.4 593.9,481.0 595.1,480.3 596.3,479.9 597.5,479.6 598.7,478.9 599.9,478.3 601.1,477.8 602.3,477.4 603.5,477.1 604.7,476.5 606.0,475.9 607.2,475.3 608.4,475.1 609.5,474.4 610.6,473.8 611.8,473.2 613.0,472.7 614.3,472.1 615.8,471.7 617.4,470.9 619.2,470.1 621.2,469.5 623.5,468.6 625.9,468.0 628.5,466.8 631.1,466.0 633.9,465.1 636.6,464.0 639.3,463.3 642.0,462.2 644.6,461.3 647.3,460.5 650.1,459.5 653.0,458.8 656.0,457.8 658.9,457.2 661.7,456.4 664.2,455.6 666.5,454.7 668.5,454.2 670.0,453.8" fill="none" stroke="#f8bf2f" stroke-width="3.6" stroke-linejoin="round"/>
<rect x="515.00" y="415.00" width="155.70" height="161.00" stroke="#1a1a1a" stroke-width="1.3" fill="none"/>
<line x1="516.20" y1="415.00" x2="516.20" y2="576.00" stroke="#1a1a1a" stroke-width="1.0" stroke-dasharray="0.9 1.8"/>
<line x1="515.00" y1="574.80" x2="670.70" y2="574.80" stroke="#1a1a1a" stroke-width="1.0" stroke-dasharray="0.9 1.8"/>
<text x="512.30" y="416.60" font-size="6.3" text-anchor="end" fill="#4a4a4a">2.4E+6</text>
<text x="512.30" y="443.48" font-size="6.3" text-anchor="end" fill="#4a4a4a">1.9E+6</text>
<text x="512.30" y="470.37" font-size="6.3" text-anchor="end" fill="#4a4a4a">1.4E+6</text>
<text x="512.30" y="497.25" font-size="6.3" text-anchor="end" fill="#4a4a4a">9.0E+5</text>
<text x="512.30" y="524.13" font-size="6.3" text-anchor="end" fill="#4a4a4a">4.0E+5</text>
<text x="512.30" y="551.02" font-size="6.3" text-anchor="end" fill="#4a4a4a">-1.0E+5</text>
<text x="512.30" y="577.90" font-size="6.3" text-anchor="end" fill="#4a4a4a">-6.0E+5</text>
<text x="515.30" y="583.70" font-size="6.4" text-anchor="middle" fill="#4a4a4a">0</text>
<text x="541.25" y="583.70" font-size="6.4" text-anchor="middle" fill="#4a4a4a">500</text>
<text x="567.20" y="583.70" font-size="6.4" text-anchor="middle" fill="#4a4a4a">1000</text>
<text x="593.15" y="583.70" font-size="6.4" text-anchor="middle" fill="#4a4a4a">1500</text>
<text x="619.10" y="583.70" font-size="6.4" text-anchor="middle" fill="#4a4a4a">2000</text>
<text x="645.05" y="583.70" font-size="6.4" text-anchor="middle" fill="#4a4a4a">2500</text>
<text x="671.00" y="583.70" font-size="6.4" text-anchor="middle" fill="#4a4a4a">3000</text>
<text x="593.50" y="593.30" font-size="7.7" text-anchor="middle" fill="#231f20">time (s)</text>
<text x="487.20" y="499.00" font-size="6.9" text-anchor="middle" textLength="128" lengthAdjust="spacingAndGlyphs" transform="rotate(-90 487.2 499)" fill="#231f20">RFU at 525 nm, baseline subtracted</text>
<line x1="540.60" y1="611.30" x2="549.00" y2="611.30" stroke="#3a6cb8" stroke-width="2.2"/>
<text x="553.00" y="614.70" font-size="9.7" fill="#231f20">NSF (-Mg<tspan font-size="5.8" dy="-3.9">2+</tspan><tspan dy="3.9">)</tspan></text>
<line x1="540.60" y1="623.50" x2="549.00" y2="623.50" stroke="#8f9396" stroke-width="2.2"/>
<text x="553.00" y="626.90" font-size="9.7" fill="#231f20">NSF (Δlatch) (-Mg<tspan font-size="5.8" dy="-3.9">2+</tspan><tspan dy="3.9">)</tspan></text>
<line x1="540.60" y1="635.70" x2="549.00" y2="635.70" stroke="#e8793a" stroke-width="2.2"/>
<text x="553.00" y="639.10" font-size="9.7" fill="#231f20">NSF (+Mg<tspan font-size="5.8" dy="-3.9">2+</tspan><tspan dy="3.9">)</tspan></text>
<line x1="540.60" y1="647.90" x2="549.00" y2="647.90" stroke="#f8bf2f" stroke-width="2.2"/>
<text x="553.00" y="651.30" font-size="9.7" fill="#231f20">NSF(Δlatch) (+Mg<tspan font-size="5.8" dy="-3.9">2+</tspan><tspan dy="3.9">)</tspan></text>
<text x="-0.90" y="714.00" font-size="15.5" font-weight="bold" fill="#231f20">E</text>
<text x="144.90" y="695.80" font-size="10" text-anchor="middle" textLength="99.2" lengthAdjust="spacingAndGlyphs" fill="#231f20">Walker A helix position</text>
<rect x="64.80" y="704.50" width="33.30" height="53.30" rx="15" ry="15" fill="none" stroke="#b4b4b4" stroke-width="0.9" stroke-dasharray="2.6 2"/>
<circle cx="104.88" cy="787.96" r="2.02" fill="none" stroke="#c8cccc" stroke-width="0.8"/>
<circle cx="103.99" cy="796.83" r="2.02" fill="none" stroke="#c8cccc" stroke-width="0.8"/>
<circle cx="114.11" cy="799.69" r="2.02" fill="none" stroke="#c8cccc" stroke-width="0.8"/>
<circle cx="142.88" cy="796.92" r="2.02" fill="none" stroke="#c8cccc" stroke-width="0.8"/>
<circle cx="140.17" cy="802.99" r="2.02" fill="none" stroke="#c8cccc" stroke-width="0.8"/>
<circle cx="151.58" cy="802.71" r="2.02" fill="none" stroke="#c8cccc" stroke-width="0.8"/>
<circle cx="155.98" cy="799.69" r="2.02" fill="none" stroke="#c8cccc" stroke-width="0.8"/>
<circle cx="155.98" cy="817.15" r="2.02" fill="none" stroke="#c8cccc" stroke-width="0.8"/>
<circle cx="154.69" cy="821.53" r="2.02" fill="none" stroke="#c8cccc" stroke-width="0.8"/>
<circle cx="137.73" cy="826.02" r="2.02" fill="none" stroke="#c8cccc" stroke-width="0.8"/>
<circle cx="135.65" cy="842.87" r="2.02" fill="none" stroke="#c8cccc" stroke-width="0.8"/>
<circle cx="175.74" cy="708.62" r="2.02" fill="none" stroke="#c8cccc" stroke-width="0.8"/>
<circle cx="174.72" cy="713.39" r="2.02" fill="none" stroke="#c8cccc" stroke-width="0.8"/>
<circle cx="186.53" cy="719.95" r="2.02" fill="none" stroke="#c8cccc" stroke-width="0.8"/>
<circle cx="144.70" cy="726.33" r="2.02" fill="none" stroke="#c8cccc" stroke-width="0.8"/>
<circle cx="143.73" cy="731.62" r="2.02" fill="none" stroke="#c8cccc" stroke-width="0.8"/>
<circle cx="146.26" cy="732.02" r="2.02" fill="none" stroke="#c8cccc" stroke-width="0.8"/>
<circle cx="79.61" cy="766.80" r="2.25" fill="#d2d5d5" fill-opacity="0.9"/>
<circle cx="88.63" cy="815.98" r="2.25" fill="#d2d5d5" fill-opacity="0.9"/>
<circle cx="79.83" cy="810.07" r="2.25" fill="#d2d5d5" fill-opacity="0.9"/>
<circle cx="74.11" cy="810.96" r="2.25" fill="#d2d5d5" fill-opacity="0.9"/>
<circle cx="72.02" cy="814.04" r="2.25" fill="#d2d5d5" fill-opacity="0.9"/>
<circle cx="75.93" cy="814.44" r="2.25" fill="#d2d5d5" fill-opacity="0.9"/>
<circle cx="79.83" cy="817.06" r="2.25" fill="#d2d5d5" fill-opacity="0.9"/>
<circle cx="72.02" cy="819.74" r="2.25" fill="#d2d5d5" fill-opacity="0.9"/>
<circle cx="75.53" cy="820.54" r="2.25" fill="#d2d5d5" fill-opacity="0.9"/>
<circle cx="83.34" cy="819.74" r="2.25" fill="#d2d5d5" fill-opacity="0.9"/>
<circle cx="78.50" cy="822.33" r="2.25" fill="#d2d5d5" fill-opacity="0.9"/>
<circle cx="82.54" cy="823.22" r="2.25" fill="#d2d5d5" fill-opacity="0.9"/>
<circle cx="85.12" cy="826.70" r="2.25" fill="#d2d5d5" fill-opacity="0.9"/>
<circle cx="91.73" cy="825.81" r="2.25" fill="#d2d5d5" fill-opacity="0.9"/>
<circle cx="89.96" cy="828.92" r="2.25" fill="#d2d5d5" fill-opacity="0.9"/>
<circle cx="86.85" cy="828.92" r="2.25" fill="#d2d5d5" fill-opacity="0.9"/>
<circle cx="83.34" cy="828.92" r="2.25" fill="#d2d5d5" fill-opacity="0.9"/>
<circle cx="87.34" cy="837.17" r="2.25" fill="#d2d5d5" fill-opacity="0.9"/>
<circle cx="94.75" cy="836.50" r="2.25" fill="#d2d5d5" fill-opacity="0.9"/>
<circle cx="73.35" cy="817.06" r="2.25" fill="#d2d5d5" fill-opacity="0.9"/>
<circle cx="78.50" cy="824.92" r="2.25" fill="#d2d5d5" fill-opacity="0.9"/>
<circle cx="76.46" cy="818.14" r="2.25" fill="#d2d5d5" fill-opacity="0.9"/>
<circle cx="80.90" cy="813.52" r="2.25" fill="#d2d5d5" fill-opacity="0.9"/>
<circle cx="77.35" cy="812.29" r="2.25" fill="#d2d5d5" fill-opacity="0.9"/>
<circle cx="86.67" cy="824.30" r="2.25" fill="#d2d5d5" fill-opacity="0.9"/>
<circle cx="80.90" cy="715.27" r="2.25" fill="#ef8a3c" fill-opacity="0.92"/>
<circle cx="78.32" cy="723.58" r="2.25" fill="#ef8a3c" fill-opacity="0.92"/>
<circle cx="82.59" cy="722.48" r="2.25" fill="#ef8a3c" fill-opacity="0.92"/>
<circle cx="77.21" cy="730.36" r="2.25" fill="#ef8a3c" fill-opacity="0.92"/>
<circle cx="83.12" cy="730.45" r="2.25" fill="#ef8a3c" fill-opacity="0.92"/>
<circle cx="80.10" cy="734.06" r="2.25" fill="#ef8a3c" fill-opacity="0.92"/>
<circle cx="82.28" cy="738.24" r="2.25" fill="#ef8a3c" fill-opacity="0.92"/>
<circle cx="81.03" cy="747.82" r="2.25" fill="#ef8a3c" fill-opacity="0.92"/>
<circle cx="85.34" cy="775.30" r="2.25" fill="#8a66b0" fill-opacity="0.92"/>
<circle cx="74.42" cy="776.87" r="2.25" fill="#8a66b0" fill-opacity="0.92"/>
<circle cx="78.10" cy="780.07" r="2.25" fill="#8a66b0" fill-opacity="0.92"/>
<circle cx="78.32" cy="782.26" r="2.25" fill="#8a66b0" fill-opacity="0.92"/>
<circle cx="78.32" cy="783.77" r="2.25" fill="#8a66b0" fill-opacity="0.92"/>
<circle cx="106.21" cy="783.55" r="2.25" fill="#8a66b0" fill-opacity="0.92"/>
<circle cx="99.55" cy="800.61" r="2.25" fill="#8a66b0" fill-opacity="0.92"/>
<circle cx="120.99" cy="803.54" r="2.25" fill="#3a7ec0" fill-opacity="0.92"/>
<circle cx="72.60" cy="789.74" r="2.25" fill="#8a66b0" fill-opacity="0.92"/>
<circle cx="80.32" cy="789.83" r="2.25" fill="#8a66b0" fill-opacity="0.92"/>
<circle cx="71.09" cy="792.73" r="2.25" fill="#8a66b0" fill-opacity="0.92"/>
<circle cx="76.82" cy="792.73" r="2.25" fill="#8a66b0" fill-opacity="0.92"/>
<circle cx="78.68" cy="793.19" r="2.25" fill="#8a66b0" fill-opacity="0.92"/>
<circle cx="73.71" cy="795.81" r="2.25" fill="#8a66b0" fill-opacity="0.92"/>
<circle cx="77.21" cy="797.50" r="2.25" fill="#8a66b0" fill-opacity="0.92"/>
<circle cx="74.60" cy="798.92" r="2.25" fill="#8a66b0" fill-opacity="0.92"/>
<circle cx="72.82" cy="800.61" r="2.25" fill="#8a66b0" fill-opacity="0.92"/>
<circle cx="82.54" cy="799.69" r="2.25" fill="#8a66b0" fill-opacity="0.92"/>
<circle cx="79.83" cy="801.91" r="2.25" fill="#8a66b0" fill-opacity="0.92"/>
<circle cx="78.10" cy="804.50" r="2.25" fill="#8a66b0" fill-opacity="0.92"/>
<circle cx="76.33" cy="807.18" r="2.25" fill="#8a66b0" fill-opacity="0.92"/>
<circle cx="86.45" cy="800.89" r="2.25" fill="#8a66b0" fill-opacity="0.92"/>
<circle cx="83.34" cy="805.88" r="2.25" fill="#8a66b0" fill-opacity="0.92"/>
<circle cx="86.05" cy="806.68" r="2.25" fill="#8a66b0" fill-opacity="0.92"/>
<circle cx="86.05" cy="809.76" r="2.25" fill="#8a66b0" fill-opacity="0.92"/>
<circle cx="92.36" cy="808.78" r="2.25" fill="#8a66b0" fill-opacity="0.92"/>
<circle cx="68.38" cy="808.47" r="2.25" fill="#8a66b0" fill-opacity="0.92"/>
<circle cx="84.85" cy="834.59" r="2.25" fill="#8a66b0" fill-opacity="0.92"/>
<circle cx="124.10" cy="799.81" r="2.25" fill="#8a66b0" fill-opacity="0.92"/>
<circle cx="134.45" cy="788.73" r="2.25" fill="#8a66b0" fill-opacity="0.92"/>
<circle cx="134.76" cy="793.13" r="2.25" fill="#8a66b0" fill-opacity="0.92"/>
<circle cx="135.78" cy="798.61" r="2.25" fill="#8a66b0" fill-opacity="0.92"/>
<circle cx="137.55" cy="797.50" r="2.25" fill="#8a66b0" fill-opacity="0.92"/>
<circle cx="134.76" cy="803.60" r="2.25" fill="#8a66b0" fill-opacity="0.92"/>
<circle cx="137.33" cy="803.60" r="2.25" fill="#8a66b0" fill-opacity="0.92"/>
<circle cx="147.19" cy="817.83" r="2.25" fill="#3a7ec0" fill-opacity="0.92"/>
<circle cx="153.18" cy="815.86" r="2.25" fill="#3a7ec0" fill-opacity="0.92"/>
<circle cx="151.58" cy="821.04" r="2.25" fill="#8a66b0" fill-opacity="0.92"/>
<circle cx="148.08" cy="828.03" r="2.25" fill="#3a7ec0" fill-opacity="0.92"/>
<circle cx="142.97" cy="831.51" r="2.25" fill="#8a66b0" fill-opacity="0.92"/>
<circle cx="144.57" cy="834.09" r="2.25" fill="#8a66b0" fill-opacity="0.92"/>
<circle cx="135.65" cy="834.09" r="2.25" fill="#3a7ec0" fill-opacity="0.92"/>
<circle cx="147.68" cy="842.87" r="2.25" fill="#8a66b0" fill-opacity="0.92"/>
<circle cx="145.19" cy="847.25" r="2.25" fill="#8a66b0" fill-opacity="0.92"/>
<circle cx="147.86" cy="853.53" r="2.25" fill="#8a66b0" fill-opacity="0.92"/>
<circle cx="172.63" cy="814.35" r="2.25" fill="#3a7ec0" fill-opacity="0.92"/>
<circle cx="177.34" cy="816.94" r="2.25" fill="#3a7ec0" fill-opacity="0.92"/>
<circle cx="181.24" cy="820.45" r="2.25" fill="#3a7ec0" fill-opacity="0.92"/>
<circle cx="184.35" cy="809.27" r="2.25" fill="#3a7ec0" fill-opacity="0.92"/>
<circle cx="186.57" cy="809.27" r="2.25" fill="#3a7ec0" fill-opacity="0.92"/>
<circle cx="187.86" cy="809.08" r="2.25" fill="#3a7ec0" fill-opacity="0.92"/>
<circle cx="185.24" cy="814.04" r="2.25" fill="#3a7ec0" fill-opacity="0.92"/>
<circle cx="188.08" cy="815.86" r="2.25" fill="#3a7ec0" fill-opacity="0.92"/>
<circle cx="205.80" cy="772.99" r="2.25" fill="#3a7ec0" fill-opacity="0.92"/>
<circle cx="202.11" cy="797.50" r="2.25" fill="#3a7ec0" fill-opacity="0.92"/>
<circle cx="208.51" cy="801.60" r="2.25" fill="#3a7ec0" fill-opacity="0.92"/>
<circle cx="211.84" cy="799.81" r="2.25" fill="#3a7ec0" fill-opacity="0.92"/>
<circle cx="210.24" cy="804.00" r="2.25" fill="#3a7ec0" fill-opacity="0.92"/>
<circle cx="211.13" cy="804.50" r="2.25" fill="#3a7ec0" fill-opacity="0.92"/>
<circle cx="203.62" cy="804.68" r="2.25" fill="#3a7ec0" fill-opacity="0.92"/>
<circle cx="209.84" cy="806.19" r="2.25" fill="#3a7ec0" fill-opacity="0.92"/>
<circle cx="209.84" cy="810.87" r="2.25" fill="#3a7ec0" fill-opacity="0.92"/>
<circle cx="214.94" cy="812.97" r="2.25" fill="#3a7ec0" fill-opacity="0.92"/>
<rect x="62.00" y="701.70" width="160.50" height="159.40" stroke="#8c8c8c" stroke-width="1.0" fill="none"/>
<line x1="59.80" y1="708.80" x2="62.00" y2="708.80" stroke="#444" stroke-width="0.6"/>
<text x="59.00" y="710.70" font-size="5.7" text-anchor="end" fill="#231f20">3</text>
<line x1="59.80" y1="739.60" x2="62.00" y2="739.60" stroke="#444" stroke-width="0.6"/>
<text x="59.00" y="741.50" font-size="5.7" text-anchor="end" fill="#231f20">2</text>
<line x1="59.80" y1="770.40" x2="62.00" y2="770.40" stroke="#444" stroke-width="0.6"/>
<text x="59.00" y="772.30" font-size="5.7" text-anchor="end" fill="#231f20">1</text>
<line x1="59.80" y1="801.20" x2="62.00" y2="801.20" stroke="#444" stroke-width="0.6"/>
<text x="59.00" y="803.10" font-size="5.7" text-anchor="end" fill="#231f20">0</text>
<line x1="59.80" y1="832.00" x2="62.00" y2="832.00" stroke="#444" stroke-width="0.6"/>
<text x="59.00" y="833.90" font-size="5.7" text-anchor="end" fill="#231f20">−1</text>
<line x1="69.80" y1="861.10" x2="69.80" y2="863.30" stroke="#444" stroke-width="0.6"/>
<text x="69.80" y="868.60" font-size="5.7" text-anchor="middle" fill="#231f20">−1.0</text>
<line x1="92.00" y1="861.10" x2="92.00" y2="863.30" stroke="#444" stroke-width="0.6"/>
<text x="92.00" y="868.60" font-size="5.7" text-anchor="middle" fill="#231f20">−0.5</text>
<line x1="114.20" y1="861.10" x2="114.20" y2="863.30" stroke="#444" stroke-width="0.6"/>
<text x="114.20" y="868.60" font-size="5.7" text-anchor="middle" fill="#231f20">0.0</text>
<line x1="136.40" y1="861.10" x2="136.40" y2="863.30" stroke="#444" stroke-width="0.6"/>
<text x="136.40" y="868.60" font-size="5.7" text-anchor="middle" fill="#231f20">0.5</text>
<line x1="158.60" y1="861.10" x2="158.60" y2="863.30" stroke="#444" stroke-width="0.6"/>
<text x="158.60" y="868.60" font-size="5.7" text-anchor="middle" fill="#231f20">1.0</text>
<line x1="180.80" y1="861.10" x2="180.80" y2="863.30" stroke="#444" stroke-width="0.6"/>
<text x="180.80" y="868.60" font-size="5.7" text-anchor="middle" fill="#231f20">1.5</text>
<line x1="203.00" y1="861.10" x2="203.00" y2="863.30" stroke="#444" stroke-width="0.6"/>
<text x="203.00" y="868.60" font-size="5.7" text-anchor="middle" fill="#231f20">2.0</text>
<text x="142.25" y="875.70" font-size="5.6" text-anchor="middle" fill="#231f20">Mode 0</text>
<text x="48.90" y="781.40" font-size="5.8" text-anchor="middle" transform="rotate(-90 48.9 781.4000000000001)" fill="#231f20">Mode 4</text>
<circle cx="67.60" cy="885.40" r="2.50" fill="#ef8a3c"/>
<text x="73.60" y="888.70" font-size="9.7" fill="#231f20">down</text>
<circle cx="67.60" cy="897.20" r="2.50" fill="#8a66b0"/>
<text x="73.60" y="900.50" font-size="9.7" fill="#231f20">center</text>
<circle cx="67.60" cy="909.00" r="2.50" fill="#3a7ec0"/>
<text x="73.60" y="912.30" font-size="9.7" fill="#231f20">up</text>
<circle cx="67.60" cy="920.80" r="2.50" fill="#d2d5d5"/>
<text x="73.60" y="924.10" font-size="9.7" fill="#231f20">non-hydrolyzing BCDE</text>
<circle cx="67.60" cy="932.60" r="2.25" fill="#fff" stroke="#c8cccc" stroke-width="0.8"/>
<text x="73.60" y="935.90" font-size="9.7" fill="#231f20">hydrolyzing SNARE-free</text>
<text x="352.10" y="695.80" font-size="10" text-anchor="middle" textLength="86.6" lengthAdjust="spacingAndGlyphs" fill="#231f20">N-D1 linker position</text>
<rect x="278.00" y="703.50" width="33.30" height="53.60" rx="15" ry="15" fill="none" stroke="#b4b4b4" stroke-width="0.9" stroke-dasharray="2.6 2"/>
<circle cx="318.08" cy="787.61" r="2.02" fill="none" stroke="#c8cccc" stroke-width="0.8"/>
<circle cx="317.19" cy="796.51" r="2.02" fill="none" stroke="#c8cccc" stroke-width="0.8"/>
<circle cx="327.31" cy="799.39" r="2.02" fill="none" stroke="#c8cccc" stroke-width="0.8"/>
<circle cx="356.08" cy="796.60" r="2.02" fill="none" stroke="#c8cccc" stroke-width="0.8"/>
<circle cx="353.37" cy="802.69" r="2.02" fill="none" stroke="#c8cccc" stroke-width="0.8"/>
<circle cx="364.78" cy="802.41" r="2.02" fill="none" stroke="#c8cccc" stroke-width="0.8"/>
<circle cx="369.18" cy="799.39" r="2.02" fill="none" stroke="#c8cccc" stroke-width="0.8"/>
<circle cx="369.18" cy="816.91" r="2.02" fill="none" stroke="#c8cccc" stroke-width="0.8"/>
<circle cx="367.89" cy="821.29" r="2.02" fill="none" stroke="#c8cccc" stroke-width="0.8"/>
<circle cx="350.93" cy="825.81" r="2.02" fill="none" stroke="#c8cccc" stroke-width="0.8"/>
<circle cx="348.85" cy="842.71" r="2.02" fill="none" stroke="#c8cccc" stroke-width="0.8"/>
<circle cx="388.94" cy="708.01" r="2.02" fill="none" stroke="#c8cccc" stroke-width="0.8"/>
<circle cx="387.92" cy="712.80" r="2.02" fill="none" stroke="#c8cccc" stroke-width="0.8"/>
<circle cx="399.73" cy="719.39" r="2.02" fill="none" stroke="#c8cccc" stroke-width="0.8"/>
<circle cx="357.90" cy="725.78" r="2.02" fill="none" stroke="#c8cccc" stroke-width="0.8"/>
<circle cx="356.93" cy="731.10" r="2.02" fill="none" stroke="#c8cccc" stroke-width="0.8"/>
<circle cx="359.46" cy="731.50" r="2.02" fill="none" stroke="#c8cccc" stroke-width="0.8"/>
<circle cx="292.81" cy="766.38" r="2.25" fill="#d2d5d5" fill-opacity="0.9"/>
<circle cx="301.83" cy="815.73" r="2.25" fill="#d2d5d5" fill-opacity="0.9"/>
<circle cx="293.03" cy="809.80" r="2.25" fill="#d2d5d5" fill-opacity="0.9"/>
<circle cx="287.31" cy="810.70" r="2.25" fill="#d2d5d5" fill-opacity="0.9"/>
<circle cx="285.22" cy="813.79" r="2.25" fill="#d2d5d5" fill-opacity="0.9"/>
<circle cx="289.13" cy="814.19" r="2.25" fill="#d2d5d5" fill-opacity="0.9"/>
<circle cx="293.03" cy="816.81" r="2.25" fill="#d2d5d5" fill-opacity="0.9"/>
<circle cx="285.22" cy="819.50" r="2.25" fill="#d2d5d5" fill-opacity="0.9"/>
<circle cx="288.73" cy="820.31" r="2.25" fill="#d2d5d5" fill-opacity="0.9"/>
<circle cx="296.54" cy="819.50" r="2.25" fill="#d2d5d5" fill-opacity="0.9"/>
<circle cx="291.70" cy="822.10" r="2.25" fill="#d2d5d5" fill-opacity="0.9"/>
<circle cx="295.74" cy="822.99" r="2.25" fill="#d2d5d5" fill-opacity="0.9"/>
<circle cx="298.32" cy="826.49" r="2.25" fill="#d2d5d5" fill-opacity="0.9"/>
<circle cx="304.93" cy="825.59" r="2.25" fill="#d2d5d5" fill-opacity="0.9"/>
<circle cx="303.16" cy="828.71" r="2.25" fill="#d2d5d5" fill-opacity="0.9"/>
<circle cx="300.05" cy="828.71" r="2.25" fill="#d2d5d5" fill-opacity="0.9"/>
<circle cx="296.54" cy="828.71" r="2.25" fill="#d2d5d5" fill-opacity="0.9"/>
<circle cx="300.54" cy="836.99" r="2.25" fill="#d2d5d5" fill-opacity="0.9"/>
<circle cx="307.95" cy="836.31" r="2.25" fill="#d2d5d5" fill-opacity="0.9"/>
<circle cx="286.55" cy="816.81" r="2.25" fill="#d2d5d5" fill-opacity="0.9"/>
<circle cx="291.70" cy="824.69" r="2.25" fill="#d2d5d5" fill-opacity="0.9"/>
<circle cx="289.66" cy="817.89" r="2.25" fill="#d2d5d5" fill-opacity="0.9"/>
<circle cx="294.10" cy="813.26" r="2.25" fill="#d2d5d5" fill-opacity="0.9"/>
<circle cx="290.55" cy="812.02" r="2.25" fill="#d2d5d5" fill-opacity="0.9"/>
<circle cx="299.87" cy="824.07" r="2.25" fill="#d2d5d5" fill-opacity="0.9"/>
<circle cx="294.10" cy="714.69" r="2.25" fill="#ef8a3c" fill-opacity="0.92"/>
<circle cx="291.52" cy="723.03" r="2.25" fill="#ef8a3c" fill-opacity="0.92"/>
<circle cx="295.79" cy="721.92" r="2.25" fill="#ef8a3c" fill-opacity="0.92"/>
<circle cx="290.41" cy="729.83" r="2.25" fill="#ef8a3c" fill-opacity="0.92"/>
<circle cx="296.32" cy="729.92" r="2.25" fill="#ef8a3c" fill-opacity="0.92"/>
<circle cx="293.30" cy="733.54" r="2.25" fill="#ef8a3c" fill-opacity="0.92"/>
<circle cx="295.48" cy="737.74" r="2.25" fill="#ef8a3c" fill-opacity="0.92"/>
<circle cx="294.23" cy="747.35" r="2.25" fill="#ef8a3c" fill-opacity="0.92"/>
<circle cx="298.54" cy="774.91" r="2.25" fill="#ef8a3c" fill-opacity="0.92"/>
<circle cx="287.62" cy="776.49" r="2.25" fill="#6a5fac" fill-opacity="0.92"/>
<circle cx="291.30" cy="779.70" r="2.25" fill="#9c98cc" fill-opacity="0.92"/>
<circle cx="291.52" cy="781.90" r="2.25" fill="#9c98cc" fill-opacity="0.92"/>
<circle cx="291.52" cy="783.41" r="2.25" fill="#9c98cc" fill-opacity="0.92"/>
<circle cx="319.41" cy="783.19" r="2.25" fill="#9c98cc" fill-opacity="0.92"/>
<circle cx="334.19" cy="803.25" r="2.25" fill="#3a7ec0" fill-opacity="0.92"/>
<circle cx="285.80" cy="789.41" r="2.25" fill="#6a5fac" fill-opacity="0.92"/>
<circle cx="293.52" cy="789.50" r="2.25" fill="#6a5fac" fill-opacity="0.92"/>
<circle cx="284.29" cy="792.40" r="2.25" fill="#6a5fac" fill-opacity="0.92"/>
<circle cx="290.02" cy="792.40" r="2.25" fill="#6a5fac" fill-opacity="0.92"/>
<circle cx="291.88" cy="792.87" r="2.25" fill="#6a5fac" fill-opacity="0.92"/>
<circle cx="286.91" cy="795.49" r="2.25" fill="#6a5fac" fill-opacity="0.92"/>
<circle cx="290.41" cy="797.19" r="2.25" fill="#6a5fac" fill-opacity="0.92"/>
<circle cx="287.80" cy="798.61" r="2.25" fill="#6a5fac" fill-opacity="0.92"/>
<circle cx="286.02" cy="800.31" r="2.25" fill="#6a5fac" fill-opacity="0.92"/>
<circle cx="295.74" cy="799.39" r="2.25" fill="#6a5fac" fill-opacity="0.92"/>
<circle cx="293.03" cy="801.61" r="2.25" fill="#6a5fac" fill-opacity="0.92"/>
<circle cx="291.30" cy="804.21" r="2.25" fill="#6a5fac" fill-opacity="0.92"/>
<circle cx="289.53" cy="806.89" r="2.25" fill="#6a5fac" fill-opacity="0.92"/>
<circle cx="299.65" cy="800.59" r="2.25" fill="#9c98cc" fill-opacity="0.92"/>
<circle cx="296.54" cy="805.60" r="2.25" fill="#9c98cc" fill-opacity="0.92"/>
<circle cx="299.25" cy="806.40" r="2.25" fill="#9c98cc" fill-opacity="0.92"/>
<circle cx="299.25" cy="809.49" r="2.25" fill="#9c98cc" fill-opacity="0.92"/>
<circle cx="305.56" cy="808.50" r="2.25" fill="#6a5fac" fill-opacity="0.92"/>
<circle cx="281.58" cy="808.19" r="2.25" fill="#6a5fac" fill-opacity="0.92"/>
<circle cx="298.05" cy="834.40" r="2.25" fill="#3a7ec0" fill-opacity="0.92"/>
<circle cx="337.30" cy="799.51" r="2.25" fill="#6a5fac" fill-opacity="0.92"/>
<circle cx="347.65" cy="788.39" r="2.25" fill="#6a5fac" fill-opacity="0.92"/>
<circle cx="347.96" cy="792.80" r="2.25" fill="#6a5fac" fill-opacity="0.92"/>
<circle cx="348.98" cy="798.30" r="2.25" fill="#6a5fac" fill-opacity="0.92"/>
<circle cx="350.75" cy="797.19" r="2.25" fill="#6a5fac" fill-opacity="0.92"/>
<circle cx="347.96" cy="803.31" r="2.25" fill="#6a5fac" fill-opacity="0.92"/>
<circle cx="350.53" cy="803.31" r="2.25" fill="#6a5fac" fill-opacity="0.92"/>
<circle cx="360.39" cy="817.59" r="2.25" fill="#3a7ec0" fill-opacity="0.92"/>
<circle cx="366.38" cy="815.61" r="2.25" fill="#3a7ec0" fill-opacity="0.92"/>
<circle cx="364.78" cy="820.80" r="2.25" fill="#3a7ec0" fill-opacity="0.92"/>
<circle cx="361.28" cy="827.81" r="2.25" fill="#3a7ec0" fill-opacity="0.92"/>
<circle cx="356.17" cy="831.31" r="2.25" fill="#3a7ec0" fill-opacity="0.92"/>
<circle cx="357.77" cy="833.90" r="2.25" fill="#3a7ec0" fill-opacity="0.92"/>
<circle cx="348.85" cy="833.90" r="2.25" fill="#6cb0e2" fill-opacity="0.92"/>
<circle cx="360.88" cy="842.71" r="2.25" fill="#3a7ec0" fill-opacity="0.92"/>
<circle cx="358.39" cy="847.10" r="2.25" fill="#3a7ec0" fill-opacity="0.92"/>
<circle cx="361.06" cy="853.40" r="2.25" fill="#3a7ec0" fill-opacity="0.92"/>
<circle cx="385.83" cy="814.09" r="2.25" fill="#6cb0e2" fill-opacity="0.92"/>
<circle cx="394.44" cy="820.21" r="2.25" fill="#6cb0e2" fill-opacity="0.92"/>
<circle cx="397.55" cy="809.00" r="2.25" fill="#6cb0e2" fill-opacity="0.92"/>
<circle cx="398.44" cy="813.79" r="2.25" fill="#3a7ec0" fill-opacity="0.92"/>
<circle cx="401.28" cy="815.61" r="2.25" fill="#6cb0e2" fill-opacity="0.92"/>
<circle cx="419.00" cy="772.60" r="2.25" fill="#3a7ec0" fill-opacity="0.92"/>
<circle cx="421.71" cy="801.30" r="2.25" fill="#3a7ec0" fill-opacity="0.92"/>
<circle cx="425.04" cy="799.51" r="2.25" fill="#3a7ec0" fill-opacity="0.92"/>
<circle cx="423.44" cy="803.71" r="2.25" fill="#3a7ec0" fill-opacity="0.92"/>
<circle cx="424.33" cy="804.21" r="2.25" fill="#3a7ec0" fill-opacity="0.92"/>
<circle cx="416.82" cy="804.39" r="2.25" fill="#3a7ec0" fill-opacity="0.92"/>
<circle cx="423.04" cy="805.91" r="2.25" fill="#3a7ec0" fill-opacity="0.92"/>
<circle cx="423.04" cy="810.60" r="2.25" fill="#3a7ec0" fill-opacity="0.92"/>
<circle cx="428.14" cy="812.70" r="2.25" fill="#3a7ec0" fill-opacity="0.92"/>
<rect x="274.50" y="701.00" width="160.50" height="159.40" stroke="#8c8c8c" stroke-width="1.0" fill="none"/>
<line x1="272.30" y1="708.20" x2="274.50" y2="708.20" stroke="#444" stroke-width="0.6"/>
<text x="271.50" y="710.10" font-size="5.7" text-anchor="end" fill="#231f20">3</text>
<line x1="272.30" y1="739.10" x2="274.50" y2="739.10" stroke="#444" stroke-width="0.6"/>
<text x="271.50" y="741.00" font-size="5.7" text-anchor="end" fill="#231f20">2</text>
<line x1="272.30" y1="770.00" x2="274.50" y2="770.00" stroke="#444" stroke-width="0.6"/>
<text x="271.50" y="771.90" font-size="5.7" text-anchor="end" fill="#231f20">1</text>
<line x1="272.30" y1="800.90" x2="274.50" y2="800.90" stroke="#444" stroke-width="0.6"/>
<text x="271.50" y="802.80" font-size="5.7" text-anchor="end" fill="#231f20">0</text>
<line x1="272.30" y1="831.80" x2="274.50" y2="831.80" stroke="#444" stroke-width="0.6"/>
<text x="271.50" y="833.70" font-size="5.7" text-anchor="end" fill="#231f20">−1</text>
<line x1="283.00" y1="860.40" x2="283.00" y2="862.60" stroke="#444" stroke-width="0.6"/>
<text x="283.00" y="867.90" font-size="5.7" text-anchor="middle" fill="#231f20">−1.0</text>
<line x1="305.20" y1="860.40" x2="305.20" y2="862.60" stroke="#444" stroke-width="0.6"/>
<text x="305.20" y="867.90" font-size="5.7" text-anchor="middle" fill="#231f20">−0.5</text>
<line x1="327.40" y1="860.40" x2="327.40" y2="862.60" stroke="#444" stroke-width="0.6"/>
<text x="327.40" y="867.90" font-size="5.7" text-anchor="middle" fill="#231f20">0.0</text>
<line x1="349.60" y1="860.40" x2="349.60" y2="862.60" stroke="#444" stroke-width="0.6"/>
<text x="349.60" y="867.90" font-size="5.7" text-anchor="middle" fill="#231f20">0.5</text>
<line x1="371.80" y1="860.40" x2="371.80" y2="862.60" stroke="#444" stroke-width="0.6"/>
<text x="371.80" y="867.90" font-size="5.7" text-anchor="middle" fill="#231f20">1.0</text>
<line x1="394.00" y1="860.40" x2="394.00" y2="862.60" stroke="#444" stroke-width="0.6"/>
<text x="394.00" y="867.90" font-size="5.7" text-anchor="middle" fill="#231f20">1.5</text>
<line x1="416.20" y1="860.40" x2="416.20" y2="862.60" stroke="#444" stroke-width="0.6"/>
<text x="416.20" y="867.90" font-size="5.7" text-anchor="middle" fill="#231f20">2.0</text>
<text x="354.75" y="875.00" font-size="5.6" text-anchor="middle" fill="#231f20">Mode 0</text>
<text x="261.40" y="780.70" font-size="5.8" text-anchor="middle" transform="rotate(-90 261.4 780.7)" fill="#231f20">Mode 4</text>
<circle cx="281.50" cy="889.60" r="2.50" fill="#ef8a3c"/>
<text x="288.10" y="892.90" font-size="9.7" fill="#231f20">up A</text>
<circle cx="281.50" cy="901.15" r="2.50" fill="#6a5fac"/>
<text x="288.10" y="904.45" font-size="9.7" fill="#231f20">up B</text>
<circle cx="281.50" cy="912.70" r="2.50" fill="#9c98cc"/>
<text x="288.10" y="916.00" font-size="9.7" fill="#231f20">up C</text>
<circle cx="281.50" cy="924.25" r="2.50" fill="#6cb0e2"/>
<text x="288.10" y="927.55" font-size="9.7" fill="#231f20">middle A</text>
<circle cx="281.50" cy="935.80" r="2.50" fill="#3a7ec0"/>
<text x="288.10" y="939.10" font-size="9.7" fill="#231f20">middle B</text>
<circle cx="281.50" cy="947.35" r="2.50" fill="#d2d5d5"/>
<text x="288.10" y="950.65" font-size="9.7" fill="#231f20">non-hydrolyzing BCDE</text>
<circle cx="281.50" cy="958.90" r="2.25" fill="#fff" stroke="#c8cccc" stroke-width="0.8"/>
<text x="288.10" y="962.20" font-size="9.7" fill="#231f20">hydrolyzing SNARE-free</text>
<text x="584.60" y="697.50" font-size="10" text-anchor="middle" textLength="127" lengthAdjust="spacingAndGlyphs" fill="#231f20">Preceding latch conformation</text>
<rect x="515.10" y="703.80" width="33.30" height="54.00" rx="15" ry="15" fill="none" stroke="#b4b4b4" stroke-width="0.9" stroke-dasharray="2.6 2"/>
<circle cx="555.48" cy="787.21" r="2.02" fill="none" stroke="#c8cccc" stroke-width="0.8"/>
<circle cx="554.59" cy="796.11" r="2.02" fill="none" stroke="#c8cccc" stroke-width="0.8"/>
<circle cx="564.71" cy="798.99" r="2.02" fill="none" stroke="#c8cccc" stroke-width="0.8"/>
<circle cx="593.48" cy="796.20" r="2.02" fill="none" stroke="#c8cccc" stroke-width="0.8"/>
<circle cx="590.77" cy="802.29" r="2.02" fill="none" stroke="#c8cccc" stroke-width="0.8"/>
<circle cx="602.18" cy="802.01" r="2.02" fill="none" stroke="#c8cccc" stroke-width="0.8"/>
<circle cx="606.58" cy="798.99" r="2.02" fill="none" stroke="#c8cccc" stroke-width="0.8"/>
<circle cx="606.58" cy="816.51" r="2.02" fill="none" stroke="#c8cccc" stroke-width="0.8"/>
<circle cx="605.29" cy="820.89" r="2.02" fill="none" stroke="#c8cccc" stroke-width="0.8"/>
<circle cx="588.33" cy="825.41" r="2.02" fill="none" stroke="#c8cccc" stroke-width="0.8"/>
<circle cx="586.25" cy="842.31" r="2.02" fill="none" stroke="#c8cccc" stroke-width="0.8"/>
<circle cx="626.34" cy="707.61" r="2.02" fill="none" stroke="#c8cccc" stroke-width="0.8"/>
<circle cx="625.32" cy="712.40" r="2.02" fill="none" stroke="#c8cccc" stroke-width="0.8"/>
<circle cx="637.13" cy="718.99" r="2.02" fill="none" stroke="#c8cccc" stroke-width="0.8"/>
<circle cx="595.30" cy="725.38" r="2.02" fill="none" stroke="#c8cccc" stroke-width="0.8"/>
<circle cx="594.33" cy="730.70" r="2.02" fill="none" stroke="#c8cccc" stroke-width="0.8"/>
<circle cx="596.86" cy="731.10" r="2.02" fill="none" stroke="#c8cccc" stroke-width="0.8"/>
<circle cx="530.21" cy="765.98" r="2.25" fill="#d2d5d5" fill-opacity="0.9"/>
<circle cx="539.23" cy="815.33" r="2.25" fill="#d2d5d5" fill-opacity="0.9"/>
<circle cx="530.43" cy="809.40" r="2.25" fill="#d2d5d5" fill-opacity="0.9"/>
<circle cx="524.71" cy="810.30" r="2.25" fill="#d2d5d5" fill-opacity="0.9"/>
<circle cx="522.62" cy="813.39" r="2.25" fill="#d2d5d5" fill-opacity="0.9"/>
<circle cx="526.53" cy="813.79" r="2.25" fill="#d2d5d5" fill-opacity="0.9"/>
<circle cx="530.43" cy="816.41" r="2.25" fill="#d2d5d5" fill-opacity="0.9"/>
<circle cx="522.62" cy="819.10" r="2.25" fill="#d2d5d5" fill-opacity="0.9"/>
<circle cx="526.13" cy="819.91" r="2.25" fill="#d2d5d5" fill-opacity="0.9"/>
<circle cx="533.94" cy="819.10" r="2.25" fill="#d2d5d5" fill-opacity="0.9"/>
<circle cx="529.10" cy="821.70" r="2.25" fill="#d2d5d5" fill-opacity="0.9"/>
<circle cx="533.14" cy="822.59" r="2.25" fill="#d2d5d5" fill-opacity="0.9"/>
<circle cx="535.72" cy="826.09" r="2.25" fill="#d2d5d5" fill-opacity="0.9"/>
<circle cx="542.33" cy="825.19" r="2.25" fill="#d2d5d5" fill-opacity="0.9"/>
<circle cx="540.56" cy="828.31" r="2.25" fill="#d2d5d5" fill-opacity="0.9"/>
<circle cx="537.45" cy="828.31" r="2.25" fill="#d2d5d5" fill-opacity="0.9"/>
<circle cx="533.94" cy="828.31" r="2.25" fill="#d2d5d5" fill-opacity="0.9"/>
<circle cx="537.94" cy="836.59" r="2.25" fill="#d2d5d5" fill-opacity="0.9"/>
<circle cx="545.35" cy="835.91" r="2.25" fill="#d2d5d5" fill-opacity="0.9"/>
<circle cx="523.95" cy="816.41" r="2.25" fill="#d2d5d5" fill-opacity="0.9"/>
<circle cx="529.10" cy="824.29" r="2.25" fill="#d2d5d5" fill-opacity="0.9"/>
<circle cx="527.06" cy="817.50" r="2.25" fill="#d2d5d5" fill-opacity="0.9"/>
<circle cx="531.50" cy="812.86" r="2.25" fill="#d2d5d5" fill-opacity="0.9"/>
<circle cx="527.95" cy="811.62" r="2.25" fill="#d2d5d5" fill-opacity="0.9"/>
<circle cx="537.27" cy="823.67" r="2.25" fill="#d2d5d5" fill-opacity="0.9"/>
<circle cx="531.50" cy="714.29" r="2.25" fill="#ef8230" fill-opacity="0.92"/>
<circle cx="528.92" cy="722.63" r="2.25" fill="#ef8230" fill-opacity="0.92"/>
<circle cx="533.19" cy="721.52" r="2.25" fill="#ef8230" fill-opacity="0.92"/>
<circle cx="527.81" cy="729.43" r="2.25" fill="#ef8230" fill-opacity="0.92"/>
<circle cx="533.72" cy="729.52" r="2.25" fill="#ef8230" fill-opacity="0.92"/>
<circle cx="530.70" cy="733.14" r="2.25" fill="#ef8230" fill-opacity="0.92"/>
<circle cx="532.88" cy="737.34" r="2.25" fill="#ef8230" fill-opacity="0.92"/>
<circle cx="531.63" cy="746.95" r="2.25" fill="#ef8230" fill-opacity="0.92"/>
<circle cx="535.94" cy="774.51" r="2.25" fill="#8a66b0" fill-opacity="0.92"/>
<circle cx="525.02" cy="776.09" r="2.25" fill="#8a66b0" fill-opacity="0.92"/>
<circle cx="528.70" cy="779.30" r="2.25" fill="#8a66b0" fill-opacity="0.92"/>
<circle cx="528.92" cy="781.50" r="2.25" fill="#a5c6ea" fill-opacity="0.92"/>
<circle cx="528.92" cy="783.01" r="2.25" fill="#a5c6ea" fill-opacity="0.92"/>
<circle cx="556.81" cy="782.79" r="2.25" fill="#ef8230" fill-opacity="0.92"/>
<circle cx="550.15" cy="799.91" r="2.25" fill="#a5c6ea" fill-opacity="0.92"/>
<circle cx="571.59" cy="802.85" r="2.25" fill="#bcaad4" fill-opacity="0.92"/>
<circle cx="523.20" cy="789.01" r="2.25" fill="#8a66b0" fill-opacity="0.92"/>
<circle cx="530.92" cy="789.10" r="2.25" fill="#8a66b0" fill-opacity="0.92"/>
<circle cx="521.69" cy="792.00" r="2.25" fill="#8a66b0" fill-opacity="0.92"/>
<circle cx="527.42" cy="792.00" r="2.25" fill="#8a66b0" fill-opacity="0.92"/>
<circle cx="529.28" cy="792.47" r="2.25" fill="#8a66b0" fill-opacity="0.92"/>
<circle cx="524.31" cy="795.09" r="2.25" fill="#8a66b0" fill-opacity="0.92"/>
<circle cx="527.81" cy="796.79" r="2.25" fill="#8a66b0" fill-opacity="0.92"/>
<circle cx="525.20" cy="798.21" r="2.25" fill="#a5c6ea" fill-opacity="0.92"/>
<circle cx="523.42" cy="799.91" r="2.25" fill="#8a66b0" fill-opacity="0.92"/>
<circle cx="533.14" cy="798.99" r="2.25" fill="#8a66b0" fill-opacity="0.92"/>
<circle cx="530.43" cy="801.21" r="2.25" fill="#8a66b0" fill-opacity="0.92"/>
<circle cx="528.70" cy="803.81" r="2.25" fill="#8a66b0" fill-opacity="0.92"/>
<circle cx="526.93" cy="806.49" r="2.25" fill="#8a66b0" fill-opacity="0.92"/>
<circle cx="537.05" cy="800.19" r="2.25" fill="#a5c6ea" fill-opacity="0.92"/>
<circle cx="533.94" cy="805.20" r="2.25" fill="#a5c6ea" fill-opacity="0.92"/>
<circle cx="536.65" cy="806.00" r="2.25" fill="#a5c6ea" fill-opacity="0.92"/>
<circle cx="536.65" cy="809.09" r="2.25" fill="#a5c6ea" fill-opacity="0.92"/>
<circle cx="542.96" cy="808.10" r="2.25" fill="#8a66b0" fill-opacity="0.92"/>
<circle cx="518.98" cy="807.79" r="2.25" fill="#8a66b0" fill-opacity="0.92"/>
<circle cx="535.45" cy="834.00" r="2.25" fill="#a5c6ea" fill-opacity="0.92"/>
<circle cx="574.70" cy="799.11" r="2.25" fill="#8a66b0" fill-opacity="0.92"/>
<circle cx="585.05" cy="787.99" r="2.25" fill="#8a66b0" fill-opacity="0.92"/>
<circle cx="585.36" cy="792.40" r="2.25" fill="#8a66b0" fill-opacity="0.92"/>
<circle cx="586.38" cy="797.90" r="2.25" fill="#8a66b0" fill-opacity="0.92"/>
<circle cx="588.15" cy="796.79" r="2.25" fill="#8a66b0" fill-opacity="0.92"/>
<circle cx="585.36" cy="802.91" r="2.25" fill="#8a66b0" fill-opacity="0.92"/>
<circle cx="587.93" cy="802.91" r="2.25" fill="#8a66b0" fill-opacity="0.92"/>
<circle cx="597.79" cy="817.19" r="2.25" fill="#3a7ec0" fill-opacity="0.92"/>
<circle cx="603.78" cy="815.21" r="2.25" fill="#3a7ec0" fill-opacity="0.92"/>
<circle cx="602.18" cy="820.40" r="2.25" fill="#3a7ec0" fill-opacity="0.92"/>
<circle cx="598.68" cy="827.41" r="2.25" fill="#3a7ec0" fill-opacity="0.92"/>
<circle cx="593.57" cy="830.91" r="2.25" fill="#3a7ec0" fill-opacity="0.92"/>
<circle cx="595.17" cy="833.50" r="2.25" fill="#3a7ec0" fill-opacity="0.92"/>
<circle cx="586.25" cy="833.50" r="2.25" fill="#8a66b0" fill-opacity="0.92"/>
<circle cx="598.28" cy="842.31" r="2.25" fill="#3a7ec0" fill-opacity="0.92"/>
<circle cx="595.79" cy="846.70" r="2.25" fill="#3a7ec0" fill-opacity="0.92"/>
<circle cx="598.46" cy="853.00" r="2.25" fill="#3a7ec0" fill-opacity="0.92"/>
<circle cx="623.23" cy="813.69" r="2.25" fill="#8a66b0" fill-opacity="0.92"/>
<circle cx="627.94" cy="816.29" r="2.25" fill="#8a66b0" fill-opacity="0.92"/>
<circle cx="631.84" cy="819.81" r="2.25" fill="#8a66b0" fill-opacity="0.92"/>
<circle cx="634.95" cy="808.60" r="2.25" fill="#8a66b0" fill-opacity="0.92"/>
<circle cx="637.17" cy="808.60" r="2.25" fill="#8a66b0" fill-opacity="0.92"/>
<circle cx="638.46" cy="808.41" r="2.25" fill="#8a66b0" fill-opacity="0.92"/>
<circle cx="635.84" cy="813.39" r="2.25" fill="#bcaad4" fill-opacity="0.92"/>
<circle cx="638.68" cy="815.21" r="2.25" fill="#8a66b0" fill-opacity="0.92"/>
<circle cx="656.40" cy="772.20" r="2.25" fill="#f5b274" fill-opacity="0.92"/>
<circle cx="652.71" cy="796.79" r="2.25" fill="#ef8230" fill-opacity="0.92"/>
<circle cx="659.11" cy="800.90" r="2.25" fill="#f5b274" fill-opacity="0.92"/>
<circle cx="662.44" cy="799.11" r="2.25" fill="#f5b274" fill-opacity="0.92"/>
<circle cx="660.84" cy="803.31" r="2.25" fill="#f5b274" fill-opacity="0.92"/>
<circle cx="661.73" cy="803.81" r="2.25" fill="#f5b274" fill-opacity="0.92"/>
<circle cx="654.22" cy="803.99" r="2.25" fill="#f5b274" fill-opacity="0.92"/>
<circle cx="660.44" cy="805.51" r="2.25" fill="#f5b274" fill-opacity="0.92"/>
<circle cx="660.44" cy="810.20" r="2.25" fill="#f5b274" fill-opacity="0.92"/>
<circle cx="665.54" cy="812.30" r="2.25" fill="#f5b274" fill-opacity="0.92"/>
<rect x="511.60" y="700.30" width="161.20" height="159.10" stroke="#8c8c8c" stroke-width="1.0" fill="none"/>
<line x1="509.40" y1="707.80" x2="511.60" y2="707.80" stroke="#444" stroke-width="0.6"/>
<text x="508.60" y="709.70" font-size="5.7" text-anchor="end" fill="#231f20">3</text>
<line x1="509.40" y1="738.70" x2="511.60" y2="738.70" stroke="#444" stroke-width="0.6"/>
<text x="508.60" y="740.60" font-size="5.7" text-anchor="end" fill="#231f20">2</text>
<line x1="509.40" y1="769.60" x2="511.60" y2="769.60" stroke="#444" stroke-width="0.6"/>
<text x="508.60" y="771.50" font-size="5.7" text-anchor="end" fill="#231f20">1</text>
<line x1="509.40" y1="800.50" x2="511.60" y2="800.50" stroke="#444" stroke-width="0.6"/>
<text x="508.60" y="802.40" font-size="5.7" text-anchor="end" fill="#231f20">0</text>
<line x1="509.40" y1="831.40" x2="511.60" y2="831.40" stroke="#444" stroke-width="0.6"/>
<text x="508.60" y="833.30" font-size="5.7" text-anchor="end" fill="#231f20">−1</text>
<line x1="520.40" y1="859.40" x2="520.40" y2="861.60" stroke="#444" stroke-width="0.6"/>
<text x="520.40" y="866.90" font-size="5.7" text-anchor="middle" fill="#231f20">−1.0</text>
<line x1="542.60" y1="859.40" x2="542.60" y2="861.60" stroke="#444" stroke-width="0.6"/>
<text x="542.60" y="866.90" font-size="5.7" text-anchor="middle" fill="#231f20">−0.5</text>
<line x1="564.80" y1="859.40" x2="564.80" y2="861.60" stroke="#444" stroke-width="0.6"/>
<text x="564.80" y="866.90" font-size="5.7" text-anchor="middle" fill="#231f20">0.0</text>
<line x1="587.00" y1="859.40" x2="587.00" y2="861.60" stroke="#444" stroke-width="0.6"/>
<text x="587.00" y="866.90" font-size="5.7" text-anchor="middle" fill="#231f20">0.5</text>
<line x1="609.20" y1="859.40" x2="609.20" y2="861.60" stroke="#444" stroke-width="0.6"/>
<text x="609.20" y="866.90" font-size="5.7" text-anchor="middle" fill="#231f20">1.0</text>
<line x1="631.40" y1="859.40" x2="631.40" y2="861.60" stroke="#444" stroke-width="0.6"/>
<text x="631.40" y="866.90" font-size="5.7" text-anchor="middle" fill="#231f20">1.5</text>
<line x1="653.60" y1="859.40" x2="653.60" y2="861.60" stroke="#444" stroke-width="0.6"/>
<text x="653.60" y="866.90" font-size="5.7" text-anchor="middle" fill="#231f20">2.0</text>
<text x="592.20" y="874.00" font-size="5.6" text-anchor="middle" fill="#231f20">Mode 0</text>
<text x="498.50" y="779.85" font-size="5.8" text-anchor="middle" transform="rotate(-90 498.5 779.8499999999999)" fill="#231f20">Mode 4</text>
<circle cx="514.40" cy="887.80" r="2.50" fill="#f5b274"/>
<text x="520.10" y="891.10" font-size="9.7" fill="#231f20">intermediate B</text>
<circle cx="514.40" cy="899.07" r="2.50" fill="#ef8230"/>
<text x="520.10" y="902.37" font-size="9.7" fill="#231f20">intermediate A</text>
<circle cx="514.40" cy="910.34" r="2.50" fill="#3a7ec0"/>
<text x="520.10" y="913.64" font-size="9.7" fill="#231f20">full helix A</text>
<circle cx="514.40" cy="921.61" r="2.50" fill="#a5c6ea"/>
<text x="520.10" y="924.91" font-size="9.7" fill="#231f20">full helix B</text>
<circle cx="514.40" cy="932.88" r="2.50" fill="#8a66b0"/>
<text x="520.10" y="936.18" font-size="9.7" fill="#231f20">latch</text>
<circle cx="514.40" cy="944.15" r="2.50" fill="#bcaad4"/>
<text x="520.10" y="947.45" font-size="9.7" fill="#231f20">semi-latch</text>
<circle cx="514.40" cy="955.42" r="2.50" fill="#d2d5d5"/>
<text x="520.10" y="958.72" font-size="9.7" fill="#231f20">non-hydrolyzing BCDE</text>
<circle cx="514.40" cy="966.69" r="2.25" fill="#fff" stroke="#c8cccc" stroke-width="0.8"/>
<text x="520.10" y="969.99" font-size="9.7" fill="#231f20">hydrolyzing SNARE-free</text>
</svg>
</body></html>
